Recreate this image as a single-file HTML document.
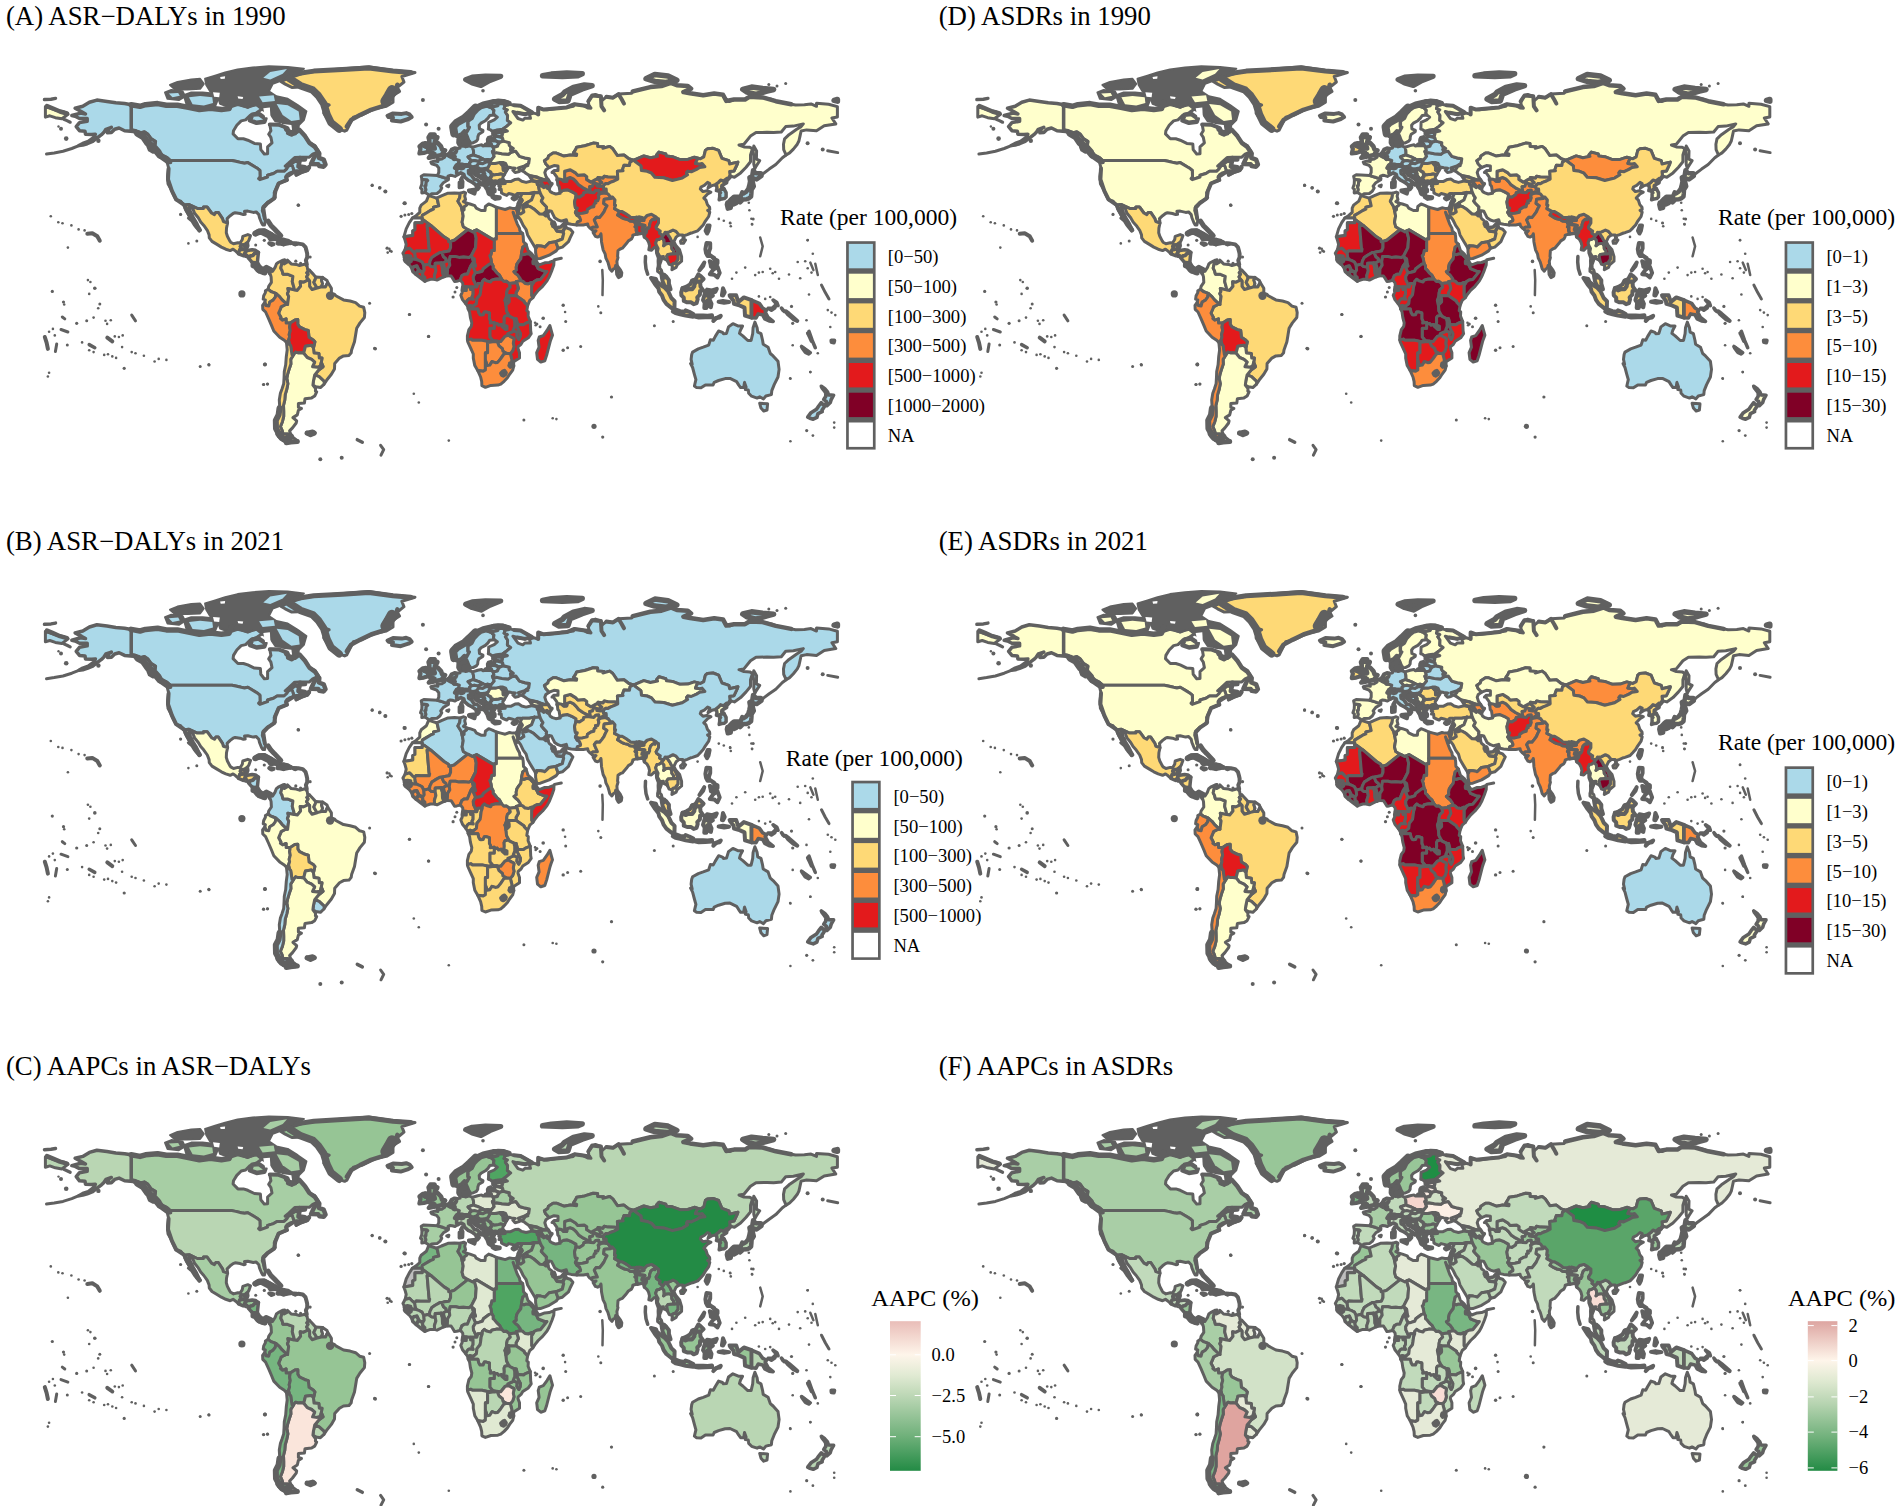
<!DOCTYPE html>
<html><head><meta charset="utf-8"><title>Figure</title>
<style>html,body{margin:0;padding:0;background:#fff}svg{display:block}text{font-family:"Liberation Serif","Times New Roman",serif;fill:#000}</style></head><body>
<svg xmlns="http://www.w3.org/2000/svg" width="1902" height="1506" viewBox="0 0 1902 1506">
<rect width="1902" height="1506" fill="#fff"/>
<defs><linearGradient id="gC" x1="0" y1="0" x2="0" y2="1"><stop offset="0" stop-color="#E9BDB8"/><stop offset="0.225" stop-color="#FEF5EA"/><stop offset="0.36" stop-color="#E1EAD3"/><stop offset="0.5" stop-color="#BCD7B5"/><stop offset="0.77" stop-color="#6FB07A"/><stop offset="1" stop-color="#238B45"/></linearGradient><linearGradient id="gF" x1="0" y1="0" x2="0" y2="1"><stop offset="0" stop-color="#DDA5A1"/><stop offset="0.263" stop-color="#FEF5EA"/><stop offset="0.4" stop-color="#DFE9D1"/><stop offset="0.55" stop-color="#B7D4B1"/><stop offset="0.78" stop-color="#6FB07A"/><stop offset="1" stop-color="#238B45"/></linearGradient></defs>
<g id="panelA">
<g stroke="#606060" stroke-width="3.0" stroke-linejoin="round">
<path d="M131.2,104.7l8.8,1.6 5.5-1.6 12.1-1.1 8.8,1.6 11,0 11,2.2 11,2.2 11-1.4 11,1.4 7.7-1.1 2.2-9.2 5.5,1.6 4.4,4.1 6.6,2.4 5.5-2.7 7.7,0 1.1,4.3-5.5,3.8-6.6,2.7-4.4,4.4-4.4,1-4.4,4.4-3.3,5.4-0.4,3.2 4.8,4.9 5.5,0 4.4,1.4 6.6,3.2 6,0.5 0.4,5.7 3.5,4.4 3.3-0.3 0-6.8 4.4-4-1.1-5.5-2.2-3.2 2.2-3.5-1.1-6.2 8.8,0 8.8,3.5 0,5.4 4.4,1.9 5.5-3.3 2.2-2.1 5.5,6.2 4.4,6.8 5.5,2.7 3.8,5.9-6,2.7-3.3,3-8.8,0-5.9,0.3-6.2,5.7-3.3,2.9 2.2-1 6.6-4.6 6,0.5-1.6,2.7 0.5,3.5 2.2,1.4 5,0.8 3.3-1.6-2.2,2.7-5.5,1.9-5.5,2.9-0.4-2.7 3.7-2.1-5.5,0.5-1.7-5.1-3.1-1.1-2.4,4-2.7,2.5-7,0-3.5,2.2-6,1.8 0,1.7-7.7,2.7-1.3-1.1 1.5-1.9-0.2-6.2-2.2-1.9-2.2-1.4-7.7-4.6-3.3,0.6-3.3-0.6-4.4-1.1-4.8-1-61.6,0-2.9-2.7-6.6-2.8-1.1-4-4.4-4.9-0.4-1.9 0.4-2.7-4.4-2.7-3.3-4.6-3.3-2.2-5.5,1.4-3.3-2.7-4.4-0.8z" fill="#ABD9E9"/>
<path d="M131.2,104.7l0,25.2 4.4,0.8 3.3,2.7 5.5-1.4 3.3,2.2 3.3,4.6 4.4,2.7-0.4,2.7-2.9,0-4.4-4-4.4-4.1-3.3-1.1-6.6-3.5-8.8-0.8-5.5-2.7-4.4,1.3-3.3,3.3-3.9,0.2 1.7-4.3 2.2-1.1-5.5,1.9-2.2,3.3-2.2,2.1-4.4,3.3-4.4,3.5-5.5,2.2-4.4,1.3-3.9,0.6 3.9-2.2 5.5-1.9 5.5-4.1 1.6-3.2-3.8,0.3-6.1-0.3-0.5-3-5.5-0.5-3.3-4.1 3.3-4 7.7-1.4 0-2.7-7.7,0-4.4-2.2-3.3-0.8 8.8-2.4 4.9,0.8-3.8-2.2-6.6-3.5 7.7-1.9 6.6-4 7.5-2.2 10.1,1.3 8.8,1.4 8.8,0.8z" fill="#ABD9E9" stroke-width="3.5"/>
<path d="M170.4,160.5l61.6,0 4.8,1 4.4,1.1 3.3,0.6 3.3-0.6 7.7,4.6 2.2,1.4 2.2,1.9 0.2,6.2-1.5,1.9 1.3,1.1 7.7-2.7 0-1.7 6-1.8 3.5-2.2 7,0 2.7-2.5 2.4-4 3.1,1.1 1.7,5.1 0,0.8-3.9,1.1-3.1,1.9-1.3,2.7 1.7,2.7-4.4,1.4-4.4,1.6-2.2,4.9-1.3,2.7-0.9,2.1 1.1,4.6-2.2,1.7-3.1,1.9-2.4,1.3-4.4,4.1-0.9,4 1.8,5.5 1.3,4.6-0.9,4.3-1.7,0-1.3-2.2-2-4.9-0.7-3.2-2.6-2.7-2.9,0.5-5.5-1.3-3.3,0.2 0.7,3-1.8,0.3-3.3-1.1-5-0.8-2,0.8-2.9,2.2-3.1,3 0.5,4.3-4.2-1.4-0.9-2.9-4.2-6.3-2.4,0-1.5,2.2-2.9-1.6-4.4-6-3.7,0 0,1.4-6.2,0-8.1-3.8-5.3,0.5-3.1-4-4.6-1.4-2.9-5.7-1.3-3.2-3.9-7.1-0.5-7 1.1-8.7-1.5-5.9 3.7,0.5z" fill="#ABD9E9"/>
<path d="M183.8,205.1l5.3-0.5 8.1,3.8 6.2,0 0-1.4 3.7,0 4.4,6 2.9,1.6 1.5-2.2 2.4,0 4.2,6.3 0.9,2.9 4.2,1.4-1.1,5.1-0.2,4.6 1.1,3.6 2.4,4.6 0.9,1.3 2.8,1.6 4.4-1.1 2.2,0.3 2.2-3.5 0.5-3.2 5-1.7 2.7,1.1-1.6,4.6-1.7,2.7-2,1.6-4,0.3-0.9,1.6 2,3-2.6,0.3-0.7,2.2-0.4,1.8-2.9-2.7-2.6-1.9-2.9,1.4-4.4-1.4-4.4-2.1-4.4-2.7-5-3-2.7-3.5-0.2-3-1.8-4.6-3.5-4.9-3.1-3.5-2.4-4.1-3.7-4.6-1.8-4.6-3.9-1.6 0.2,0.6 1.5,4.3 2.7,5.4 3.3,5.4 2.2,4.6 1.7,3-1.1,0.8-3.3-3.8-1.5-1.9-2.9-4.6-3.3-2.7 1.8-0.8-1.8-2.7-2.2-3.8z" fill="#FED976"/>
<path d="M280.8,81.4l11-4.3 13.2-4.6 26.4-2.7 37.4-3 24.2,3.8 22,1.9-13.2,4 2.2,5.5-6.6,5.4 2.2,4-6.6,4.1 0,6.8-6.6,4-11,2.2-13.2,6.5-8.8,2.1-6.6,13-2.2,1.1-8.8-3.2-6.6-6.8-5.5-8.1 1.1-5.4 4.4-2.7-7.7-2.7-1.1-5.5-6.6-8.1-8.8-1.9-13.2,0.6-6.6-3.3z" fill="#FED976"/>
<path d="M412.4,218.1l3.7-2.4 3.7-3.3 0-4.3 1.4-3 5.2-4 2-4.9 1.3-0.3 6.9,2.2 0.8,1.6 1.4,6.2-5.3,1.4 0,1.9-3.1,1.3-4.4,2.7-3.7,2.2 0,2.7z" fill="#FED976"/>
<path d="M412.4,218.1l9.9,0 0,1.1 0,3.5-7.3,0 0,7.1-2.2,1 0,4.6-8.9,1.4 2.3-7.9 3.1-6.2z" fill="#FFFFFF"/>
<path d="M436.6,198.1l4.8-2.2 6.6-2.7 6.6-0.3 5.7,0.3-0.6,4.6-1.8,3.5 3.3,5.2 1.1,4.6 0.9,4.9-1.1,6.2 1.3,4.6 4.4,2.7-13.6,10.8-3.6,1.1-1.9,0.3-0.3-2.2-4.4-2.7-13.2-11.4-8.5-6.2 0-1.1 0-2.7 3.7-2.2 4.4-2.7 3.1-1.3 0-1.9 5.3-1.4-1.4-6.2z" fill="#FED976"/>
<path d="M460.3,193.2l3.5-1.1 1.8,0.8-0.9,3.3 0.9,3.5-2.2,1.9 3.3,1.6 0,1.9-2.6,1.9 0,2.7-1.8,1.4-1.1-4.6-3.3-5.2 1.8-3.5z" fill="#FED976"/>
<path d="M466.7,203.2l3.3,0.8 4.8,1.7 1.4,2.4 4.8,2.4 4,0 0.4-4 3.3-2.5 3.7,1.4 4,1.9 0,26.2 0,5.5-2.2,0 0,1.3-17.6-10.5-2.2,1-1.8,1.1-4.8-2.4-4.4-2.7-1.3-4.6 1.1-6.2-0.9-4.9 1.8-1.4 0-2.7 2.6-1.9z" fill="#FFFFCC"/>
<path d="M496.4,207.3l4.4,1.1 4.4,1.1 4.4-1.7 2.9,0.6 4.1,0 1.6,4.8-1.6,4.9-1.5-1.3-2-4.6 2.2,6.5 2,5.4 2.2,4 0.4,2.7 2.7,2.7-26.2,0z" fill="#FD8D3C"/>
<path d="M522.6,233.5l0.6,2.8 0.3,5.4 2.6,2.7-3.3,2.7-1.1,4.9-0.2,1.8-0.7,4.9-2,2.5-1.9,2.9-0.7,3.3 0.2,2.7-2.4,1.6 1.8,1.9 1.9,1.4 2.7,3.8 0,1.8-4.2,1.1-0.2,1.1-6.6,0.8-3.1-2.4-2.4,0.3-2.2-2.2-2.2-4.1-2.7-2.4-2.6-3.3-1.1-0.8 0-2.7-1.5-2.7-0.7-4.6-1.1-3 1.1-1 0.9-4.1 2.4,0 0-10.3 0-1.3 2.2,0 0-5.5z" fill="#FD8D3C"/>
<path d="M405.1,249.5l1.1-5.1-1.1-4.1-1.2-3.5 8.9-1.4 0-4.6 2.2-1 0-7.1 7.3,0 0-3.5 8.5,6.2-3.7,0 2,23 0.6,0.6-0.4,2.1-8.4,0-4.8-0.2-1.5,2.1-2.2-1.9-2.9-2.9z" fill="#E31A1C"/>
<path d="M414.6,253l1.5-2.1 4.8,0.2 8.4,0 0.4-2.1-0.6-0.6-2-23 3.7,0 13.2,11.4 4.4,2.7 0.3,2.2 1.9-0.3 0,6.2-1.5,3.5-4.4,0.6-2.9,0.8-1.9,0-4.7,2.7-3.3,2.2-1.9,3.8-0.7,3.7-1.5-0.5-4,1.1-1.8-3.5-2.6-1.4-3.1-1.1-1.3-2.9z" fill="#E31A1C"/>
<path d="M404.7,259.8l-0.3-2.2 0-1.3-1.5-3 2.2-3.8 4.4-1.3 2.9,2.9 2.2,1.9 0.4,3.6 1.3,2.9-5-0.5z" fill="#E31A1C"/>
<path d="M404.4,257.6l0-1.3 3.1-0.6 3.1,0.6 0,1.1-3.1-0.3z" fill="#E31A1C" stroke-width="3.5"/>
<path d="M408.4,263.6l-2.9-2.4-0.8-1.4 6.6-0.8 0,2.4z" fill="#800026" stroke-width="4"/>
<path d="M412.1,268.7l-2.6-3.5-1.1-1.6 2.9-2.2 0-2.4 5,0.5 3.1,1.1 2.6,1.4 1.8,3.5 0.4,4.6-1.5,2.4-2-1.1-2-1-0.6-1.7-1.3-2.7-2.9,0.6z" fill="#800026"/>
<path d="M416.1,274.4l-3.3-3-0.7-2.7 1.8-2.1 2.9-0.6 1.3,2.7 0.6,1.7z" fill="#800026" stroke-width="3.5"/>
<path d="M424.9,281.2l-4-3-4.8-3.8 2.6-4 2,1 2,1.1 0.2,3 2,1.9z" fill="#E31A1C" stroke-width="3.5"/>
<path d="M434.6,279.3l-4.2,0-5.5,1.9 0-3.8-2-1.9-0.2-3 1.5-2.4-0.4-4.6 4-1.1 1.5,0.5 2,1.7 3.9,0.5 0.7,3.8-1.5,4.6z" fill="#E31A1C"/>
<path d="M429.3,264.9l0.7-3.7 1.9-3.8 3.3-2.2 4.7-2.7 1.9,0 1.8,4.3 2.4,1.9 0.7,2.2-2.2,1.3-1.1,1.1-2.2-0.2-6,0.2 0,3.8-3.9-0.5z" fill="#800026"/>
<path d="M444,276.6l-2.6,1.3-4.4,2.2-2.4-0.8-0.2-3.8 1.5-4.6-0.7-3.8 0-3.8 6-0.2 1.3,4.3 0.2,5.4z" fill="#E31A1C"/>
<path d="M444.9,276.3l-0.9,0.3-1.3-3.8-0.2-5.4-1.3-4.3 2.2,0.2 1.5,5.4z" fill="#E31A1C" stroke-width="3.5"/>
<path d="M447.3,275.8l-2.4,0.5 0-7.6-1.5-5.4 1.1-1.1 2.2-1.3 2.6,0.5 0.5,3.8-2.2,3.5z" fill="#E31A1C"/>
<path d="M441.8,252.5l2.9-0.8 4.4-0.6 1.5-3.5 0-6.2 3.6-1.1 13.6-10.8 4.8,2.4 1.8-1.1 1.8,7.3-0.7,9.5-4.4,8.7-2.2,1.3-5.5-0.5-4.4,0.3-3.3-0.8-5.5,0-0.9,4.8-2.6-0.5-0.7-2.2-2.4-1.9z" fill="#800026"/>
<path d="M460.1,280.4l-3.3,0.8-2.2,0.3-2.2-3.6-1.3-1.9-3.8-0.2 0.3-7.1 2.2-3.5-0.5-3.8 0.9-4.8 5.5,0 3.3,0.8 4.4-0.3 5.5,0.5 2.2-1.3 1.3,1.3 1.1,4.4-2.8,4-1.4,3.5-1.9,4.7-2.9,0-2.6,1.6z" fill="#800026"/>
<path d="M471.1,256.3l4.4-8.7 0.7-9.5-1.8-7.3 2.2-1 17.6,10.5 0,10.3-2.4,0-0.9,4.1-1.1,1 1.1,3 0.7,4.6-2.5,1.1-5.7,4.3-1.1,2.5-3.5,1.1-3.3,0.5-2.9-6.8 2.9,0-0.9-2.7-0.4-4.3-1.8-1.4z" fill="#E31A1C"/>
<path d="M463,286.9l-0.3-3.8-1.7-2.2-0.9-0.5 1.8-4.6 2.6-1.6 2.9,0 1.9-4.7 1.4-3.5 2.8-4-1.1-4.4 1.8,1.4 0.4,4.3 0.9,2.7-2.9,0 2.9,6.8-2.2,3.8 0.2,3.2 1.3,2.7 2,4.6-6.1,0-4.4,0z" fill="#E31A1C"/>
<path d="M475.5,272.8l3.3-0.5 3.5-1.1 1.1-2.5 5.7-4.3 2.5-1.1 1.5,2.7 0,2.7 1.1,0.8 2.6,3.3 2.7,2.4 2.2,4.1-4.6-0.3-2,0.3-3.3,0.8-1.1,1.9-4.2-1.1-2.2-1.6-2,2.2 0,2.1-4.4,0-1.1,3.5-2-4.6-1.3-2.7-0.2-3.2z" fill="#800026"/>
<path d="M462.5,290.4l0.5-3.5 3.3,0.2 0,3.3z" fill="#E31A1C" stroke-width="4"/>
<path d="M465.8,303.7l-3.3-4.1-1.7-4.3 1.3-2.7 0.4-2.2 3.8,0 0-3.3 4.4,0 0,2.5 2.4,0 0,4.9-1.1,2.1 1.3,2.7-4-0.5-1.5,1.1-0.9,1.3z" fill="#FD8D3C"/>
<path d="M467.8,306.6l-2-2.9 1.1-2.5 0.9-1.3 1.5-1.1 4,0.5-1.3-2.7 1.1-2.1 0-4.9-2.4,0 0-2.5 6.1,0 1.1-3.5 4.4,0-1.1,3.3-0.6,4.8-0.5,3-3.1,3.8-0.6,5.2-1.3,1-2,1.7-3.1-0.8z" fill="#E31A1C"/>
<path d="M468.2,308.8l-0.4-2.2 2.2-1-0.4,3.2z" fill="#E31A1C"/>
<path d="M470,305.6l3.1,0.8 2-1.7 1.3-1 0.6-5.2 3.1-3.8 0.5-3 0.6-4.8 1.1-3.3 0-2.1 2-2.2 2.2,1.6 4.2,1.1 1.1-1.9 3.3-0.8 2-0.3 4.6,0.3 2.2,2.2 2.4-0.3 3.1,2.4 0.9,3.5-2.9,2.8-0.7,3.2-0.2,3.8-1.3,3.5 0.4,1.6 0.5,3 0.4,5.7 2.4,4.6-3.9,0.8-0.9,1.9 0.2,3.5-0.4,3.5 3.1,1.1 0,3.3-1.8,0-3.3-3-0.7-1.9-2.6,0.8-1.5-1.9-2,0.6-0.9-1.4-4,0.5 0.3-2.1-1.1-2.2 0-5.9-3.1-0.9-2,0-1.1,2.8-2.2,0.2-1.1-0.2-1.3-2.2-0.7-3.5-7,0-2.7-0.3 1.4,0z" fill="#E31A1C"/>
<path d="M521.5,253.8l2.4,0.9 2.2-0.9 1.5,0 2.2,0.3 4.9,5.2-1.3,2.1 0,1.9 2.4,0.3 2.4,5.1 6.6,2.7 2.2,0-6.6,8.2-3.7,0.5-2.9,1.6-0.2,0.8-2,0-3.3,1.4-3.3-0.5-2.4-2.2-2.2-0.6 0-1.8-2.7-3.8-1.9-1.4-1.8-1.9 2.4-1.6-0.2-2.7 0.7-3.3 1.9-2.9 2-2.5z" fill="#800026"/>
<path d="M526.1,244.4l1.8,5.9 3.7,3.3 3.1,3.8 1.5,1.3-1.5,0.6-4.9-5.2-2.2-0.3-1.5,0-2.2,0.9-2.4-0.9 0.2-1.8 1.1-4.9z" fill="#E31A1C"/>
<path d="M536.2,258.7l-0.9,3 1.1,0.3-0.6,1.6-2.4-0.3 0-1.9 1.3-2.1z" fill="#E31A1C" stroke-width="4"/>
<path d="M536.4,262l2.9,2.9 5.5-2.1 4.4-0.3 4.8-1.9-0.2,4.3-1.8,5.2-2.8,6.8-2.2,4-4.4,5.4-4.4,4.1-3.3,4.1-2,3.2-1.3-2.2 0-2.4 0-7.6 2-3 0.2-0.8 2.9-1.6 3.7-0.5 6.6-8.2-2.2,0-6.6-2.7-2.4-5.1z" fill="#E31A1C"/>
<path d="M532.9,297.7l-3.1,2.7-2.2,5.4-3.3-3.5-0.2-1.1-7.9-5.4-0.2-3 2.4-4.3-1.1-4.1-1.1-2.7 4.2-1.1 2.2,0.6 2.4,2.2 3.3,0.5 3.3-1.4 2,0-2,3 0,7.6 0,2.4z" fill="#FD8D3C"/>
<path d="M516.2,281.7l1.1,2.7 1.1,4.1-2.4,4.3 0.2,3-7.7,0-2,1.1 0.2-3.8 0.7-3.2 2.9-2.8-0.9-3.5 6.6-0.8z" fill="#E31A1C"/>
<path d="M506.5,296.9l2-1.1 0.7,3.8-2,1.1-2-0.3z" fill="#E31A1C" stroke-width="3.5"/>
<path d="M505.2,300.4l2,0.3 2-1.1 0,2.4-3.1,3-0.5-3z" fill="#E31A1C" stroke-width="3.5"/>
<path d="M527.6,305.8l-0.8,4.9 1.5,1.3-0.2,4.1 2.2,5.4-5.3,2.2-1.1,1.1-5.5-0.3-0.9-0.3-1.3-5.4-2.4-0.3-4.2-2.1-0.7-1.1-2.4-4.6-0.4-5.7 3.1-3 0-2.4-0.7-3.8 7.7,0 7.9,5.4 0.2,1.1z" fill="#E31A1C"/>
<path d="M530.3,321.5l0.4,9.5 0.5,2.7-2.9,4.1-5.5,3.5-1.8,3-2.8,2.4-0.2,1.9 1.5,4.1 0,5.4-5.5,3.5-0.4,1.9 0.2,2.4-1.8-0.3-0.4-2.4 0.2-3.8-1.5-5.7 2.4-2.9 1.3-4.1-0.7-3.5 0.7-4.1-0.2-0.8-2.4-1.1-3.1-1.9-0.5-1.6 6.2-2.7 3.3,1.4-0.4,4 1.9,3 1.4-3 0.2-3-2-3.8-1.3-2.7 0.4-2.7 0.9,0.3 5.5,0.3 1.1-1.1z" fill="#E31A1C"/>
<path d="M513.8,318.5l2.4,0.3 1.3,5.4-0.4,2.7 1.3,2.7 2,3.8-0.2,3-1.4,3-1.9-3 0.4-4-3.3-1.4-0.7-1.1 1.4-3.5 0-4.9z" fill="#E31A1C"/>
<path d="M508.9,315.3l0.7,1.1 4.2,2.1 0.9,3 0,4.9-1.4,3.5 0.7,1.1-6.2,2.7 0.5,1.6-3.3,1.1-4.2,5.2-3.7-0.3-4.2-0.6-3.1-3.7 0-8.7 4.4,0 0-5.7 0.9,1.4 2-0.6 1.5,1.9 2.6-0.8 0.7,1.9 3.3,3 1.8,0 0-3.3-3.1-1.1 0.4-3.5-0.2-3.5 0.9-1.9z" fill="#E31A1C"/>
<path d="M497.1,341.3l3.7,0.3 4.2-5.2 3.3-1.1 3.1,1.9 2.4,1.1 0.2,0.8-0.7,4.1 0.7,3.5-1.3,4.1-2.4,2.9-4.2-0.5-3.1-1.9-0.7-2.7-3.3-2.7z" fill="#FD8D3C"/>
<path d="M467.4,339.9l0-4 1.5-6.3 2.4-3.2 0.5-3.5-1.4-5.4-0.8-5.5-1.1-2.4-0.3-0.8 2.7,0.3 7,0 0.7,3.5 1.3,2.2 1.1,0.2 2.2-0.2 1.1-2.8 2,0 3.1,0.9 0,5.9 1.1,2.2-0.3,2.1 4-0.5 0,5.7-4.4,0 0,8.7 3.1,3.7-4.4,0.9-6.4-1.4-9.9,0-1.1-1.1z" fill="#E31A1C"/>
<path d="M477.7,370.5l-2.9-4.9-1.5-7.5 0-4.1-2.4-5.4-3.1-6.8-0.4-1.9 3.7-0.8 1.1,1.1 9.9,0 6.4,1.4 4.4-0.9 4.2,0.6-1.8,0.5-2.6,0-5.1,0.8 0,10.1-2.2,0 0,7.5 0,9.8-2.2,1.3-3.5-0.5z" fill="#FD8D3C"/>
<path d="M485.4,360.2l0-7.5 2.2,0 0-10.1 5.1-0.8 2.6,0 1.8-0.5 1.9,4.6 3.3,2.7 0.7,2.7 3.1,1.9-2.4,1.1-3.1,4.6-2.9,3.5-2.4,0.3-3.3-1.1-2.2,3.5-2.6,0.5z" fill="#FD8D3C"/>
<path d="M513.8,365.9l-1.1,4.3-3.1,4.1-2.2,3.5-3.3,3.5-3.3,2.8-2.9,1-7,0.3-5.5,1.9-3.5-1.6-0.2-4.1-1.1-4.6-2.9-6.5 2,0.3 3.5,0.5 2.2-1.3 0-9.8 1.8,5.4 2.6-0.5 2.2-3.5 3.3,1.1 2.4-0.3 2.9-3.5 3.1-4.6 2.4-1.1 4.2,0.5 1.5,5.7-0.2,3.8-1.8,0-0.6,2.4 1.1,1.4 1.7-1.4z" fill="#FD8D3C"/>
<path d="M511.6,363.2l-1.8,0-0.6,2.4 1.1,1.4 1.7-1.4z" fill="#FD8D3C" stroke-width="3.5"/>
<path d="M500.8,373.2l2.2-2.1 1.5-0.6 1.6,2.2-0.5,1.6-2.2,1.6-1.7-0.8z" fill="#606060" stroke-width="3.5"/>
<path d="M549.9,325.6l2.6,9.5-1.5,4-0.9,2.7-3.5,13.6-1.8,5.4-4,1.3-3.3-2.7-0.8-6.7 2.4-5.5-0.9-6.7 1.1-3.5 4-1.4 3.7-5.1z" fill="#E31A1C"/>
<path d="M238.6,253.8l0.4-1.8 0.7-2.2 2.6-0.3-2-3 0.9-1.6 4,0 0,5.2 2,0.5-2,1.9-0.5,1.6-1.5,1.6z" fill="#FED976" stroke-width="3.5"/>
<path d="M245.2,244.6l2-1.6 0.4,2.7-1.8,4.4-0.6,0z" fill="#FFFFFF" stroke-width="4"/>
<path d="M245.2,252.5l2-1.9 1.7-0.3 3.3-0.5 3.3,0.5 2.9,2.2-3.5,0.8-2,2.2-2.4,0.5-1.4,2.2-0.8-1.4-1.6-1.6-2-1.1z" fill="#FED976" stroke-width="3.5"/>
<path d="M249.1,258.2l1.4-2.2 2.4-0.5 2-2.2 3.5-0.8-0.7,6.8-0.4,4-4.4-0.2-1.8-1.9-2.6-3z" fill="#FED976" stroke-width="3.5"/>
<path d="M252.9,263.1l4.4,0.2 2.4,3.8-0.7,4.1-1.5-1.1-2.6-3.3-2.2-0.8z" fill="#FFFFFF" stroke-width="4.5"/>
<path d="M259,271.2l0.7-4.1 3.5,2.2 3.1-2.2 4.8,2.4-1.1,3.8-1.3-2.7-2.6-1.3-1.6,1.6 0.5,2.4-2.2-0.5z" fill="#FFFFFF" stroke-width="4.5"/>
<path d="M254.6,233.8l4.2-3 5.5-0.2 7.7,4 6.2,3.8-7.7,0.8-1.8-2.9-7.7-3.8z" fill="#FFFFFF" stroke-width="4.5"/>
<path d="M277.7,243.3l3.1,0.5 2.7,0.6 0.2-4.6-2.9-0.6 0.5,2.5-1.6,1z" fill="#FFFFFF" stroke-width="4"/>
<path d="M283.5,244.4l3.9-0.8 3.5-0.9-3-2.1-4.2-0.8z" fill="#FFFFFF" stroke-width="4"/>
<path d="M269.2,243.3l4.4,0.8-2,0.8z" fill="#FFFFFF" stroke-width="4"/>
<path d="M293.6,243.3l3.3,0.3-1.8,0.9z" fill="#FFFFFF" stroke-width="4"/>
<path d="M271.1,269.5l1.4,1.9 2.6-4 1.3-3.5 1.8-1.4 4.8-2.4 1.6-0.3 0,1.4-2.7,2.1-1.1,4.9 1.3,2.4 0.9,3.6 4.4,0 5.5,2.1-0.6,5.4 1.7,6 0,2.2-6.1-1.4 0.6,3-1.1,2.1 1.3,2.7-1.1,8.2-1.7-1.1-4-3.8-2.4-3-3.7-3.2-2.7-1.1-2.2-0.8-2.8-2.2 0.6-3 2.7-4-0.3-5.4-1.1-3.6z" fill="#FED976"/>
<path d="M284.6,261.2l-0.5,2.7 3.3-1.9 0-1.9 3.8,3.8 5,0.5 3.3,1.1 5.5-1.4 2.2,2.5 0.5,3.5 1.7,0-2.6,2.7 1.5,1.4-1.7,2.7 1.3,2.1 0,1.1-4.6,2.2-3.1-0.6 0.4,4.6-3.3,4.1-2.8-0.5-0.5,0 0-2.2-1.7-6 0.6-5.4-5.5-2.1-4.4,0-0.9-3.6-1.3-2.4 1.1-4.9z" fill="#FED976"/>
<path d="M309.4,270.1l3.3,3.5 2.9,3.3-0.2,2.1-1.6,3.3 1.1,1.9 2.2,3.8-5,1.6-2.5-3.3 0-5.4-1.7-1.9-1.3-2.1 1.7-2.7-1.5-1.4z" fill="#FED976"/>
<path d="M315.6,276.9l7,0.5-1.1,2.7 1.1,3.5-1.1,3.3-3.3,0.8-1.1,0.3-2.2-3.8-1.1-1.9 1.6-3.3z" fill="#FED976"/>
<path d="M322.6,277.4l4.4,3 0.7,1.9-2.2,4.6-4,0 1.1-3.3-1.1-3.5z" fill="#FFFFFF"/>
<path d="M327.7,282.3l3.7,5.9 0,4.9 3.3,1.4 1.1,1.3 7.7,4.1 6.6,1.1 5.5,1.6 4,3.5 4.1,1.1 1.1,5.4-0.4,4.9-4.4,5.4-3.3,5.4-1.1,6.8-1.1,6.7-2.9,8.1-0.4,2.8-2.2,2.7-5.5,0.5-4,2.2-4.8,5.4-0.2,5.4-3.1,5.4-4.8,6-2.7,4 0.5-2.7-5.3-4.9-4.4-1.8 4-4.9 4.4-3.3-1.8-4.3 0.7-4.3-2.7,0-0.4-4.6-4.9-0.6-0.6-5.1 0.4-1.1 1.1-4.9-1.7-1.9-4.2-2.7-0.7-6.7-3.3-0.9-5.5-2.7-1.7-2.7 0-4.6-2.9,0.3-4.6,3-4.2,0 0-4.1-3.5,1.4-2.2-1.7 0.6-1-2.4-4.4 0.7-1.6 1.5-3.5 0.2-1.1 4.7-2.4 1.9,0 1.1-8.2-1.3-2.7 1.1-2.1-0.6-3 6.1,1.4 0.5,0 2.8,0.5 3.3-4.1-0.4-4.6 3.1,0.6 4.6-2.2 0-1.1 1.7,1.9 0,5.4 2.5,3.3 5-1.6 1.1-0.3 3.3-0.8 4,0z" fill="#FED976"/>
<path d="M268.1,289.3l2.8,2.2 2.2,0.8 2.7,1.1-0.5,3.8-2.2,2.9-3.3,1.9-1.1,4.1-2.8-0.5-1.1-3.3 0.6-2.4-2.2-0.8 0.5-3.3 1.7-3.2 0-1.7z" fill="#FED976"/>
<path d="M264.8,302.3l1.1,3.3 2.8,0.5 1.1-4.1 3.3-1.9 2.2-2.9 0.5-3.8 3.7,3.2 2.4,3 4,3.8 1.7,1.1-1.9,0-4.7,2.4-0.2,1.1-1.5,3.5-0.7,1.6 2.4,4.4-0.6,1 2.2,1.7 3.5-1.4 0,4.1 4.2,0-0.7,4 0.7,3.6-1.1,4 0.4,2.5-1.1,3.5-2,2.1-2.2-2.4-4.6-3-5.9-6.2-2.2-5.4-2.9-6.8-3.1-6.8-2.8-2.7-0.2-4z" fill="#FD8D3C"/>
<path d="M290.3,322.9l4.6-3 2.9-0.3 0,4.6 1.7,2.7 5.5,2.7 3.3,0.9 0.7,6.7 4.2,2.7 1.7,1.9-1.1,4.9-0.4,1.1-2-2.5-5.9,0.9-1.8,7-3.1-0.5-2.6,0.2-2.4-0.8-2,2.7-1.6,0-0.6-4-0.7-4.9-1.1-1.4-1.1-4 1.1-3.5-0.4-2.5 1.1-4-0.7-3.6z" fill="#E31A1C"/>
<path d="M313.4,347.8l0.6,5.1 4.9,0.6 0.4,4.6 2.7,0-0.7,4.3-0.9,3.8-3.1,1.1-4.8-0.6 2.2-4.6-3.1-2.7-4.4-1.9-3.5-4.3 1.8-7 5.9-0.9z" fill="#FED976"/>
<path d="M323.9,384.3l0.5-2.7-5.3-4.9-4.4-1.8-1.3,6.2-0.5,4 3.1,1.7 4.4,0.8z" fill="#FFFFCC"/>
<path d="M293.6,354.8l2-2.7 2.4,0.8 2.6-0.2 3.1,0.5 3.5,4.3 4.4,1.9 3.1,2.7-2.2,4.6 4.8,0.6 3.1-1.1 0.9-3.8 1.8,4.3-4.4,3.3-4,4.9-1.3,6.2-0.5,4 2.7,3.6-0.2,2.4 1.3,0.8-2,4.1-3.1,1.9-6.6,0.8-0.6,4.3-6,0.5 0,3.8 3.1,1.1-3.1,1.9-1.1,4.6-4.4,2.7 3.8,3.3-0.5,2.1-3.7,4.9-2.9,3 1.3,3.8-3.5-0.8-4.4,0-0.9-3.6-1.7-3.7 2-4.9 1.3-5.4 0-5.4-0.2-5.5 1.3-5.4 0.4-5.4 1.6-5.4 1.1-5.4-1.1-5.4 0.8-4.1 1.6-5.4 1.7-4.9-0.2-4.6zM290.5,435.5l7.5,5.7-2.9,0.8-4.6-0.3z" fill="#FFFFCC"/>
<path d="M286.5,342.6l2-2.1 1.1,4 1.1,1.4 0.7,4.9 0.6,4 1.6,0-2.9,4.6 0.2,4.6-1.7,4.9-1.6,5.4-0.8,4.1 1.1,5.4-1.1,5.4-1.6,5.4-0.4,5.4-1.3,5.4 0.2,5.5 0,5.4-1.3,5.4-2,4.9 1.7,3.7 0.9,3.6 4.4,0 3.5,0.8-5.5,3.5-5.7-3-3.9-6.7-0.5-8.2 3.3-5.4 1.1-8.1-0.4-6.8 1.1-6.7 1.5-4.1 1.8-5.4 0.4-6.8 0.2-5.4 1.4-6.8 0.6-8.1 0.9-6.8zM290.5,435.5l0,6.2-3.1,1.1-4.4-2.2-4.4-4 6.6,2.1 1.8-2.7z" fill="#FED976"/>
<path d="M307.2,433.3l5.5-1.3 1.6,1.1-3.8,1.6z" fill="#606060" stroke-width="5"/>
<path d="M387.5,115.8l5.5-2.4 8.8,0.5 4.4-0.8 3.3,1.3 2.2,2.7-3.3,1.9-7.7,2.5-8.8-1.1 1.1-2.7-4.4-0.6z" fill="#ABD9E9" stroke-width="4"/>
<path d="M419.4,153.4l1.1-4.6-1.1-2.4 3.3-2.7 2.6-0.3-1.7,2.2 2.4,1.1 1.8,0 0.4,2.9-0.9,2.2-3.5,1.1z" fill="#ABD9E9" stroke-width="4.2"/>
<path d="M428.9,157.8l4.8-1.1 3.3-0.6 7.5-1.6-2-0.8 2.6-3.3-3-0.8-1.1-3.2-3.1-3.3-3.1-1.6 2.2-3.2 0.4-1.1-4.8,0 2-2.7-4.2,0-1.8,2.9 0.7,2.8 0,2.9 1.1,1.7 3.3-0.3 1.1,4-3.3,0.3 0.9,2.7-2.4,1.1 4.4,1.4-2.9,1zM425.3,143.4l2.9,0.3 1.1,1.9-1.5,1.1-1.8,0-2.4-1.1z" fill="#ABD9E9" stroke-width="4.6"/>
<path d="M422,179.7l1.4-0.3 3.5,0.3 0.9,0.8-1.6,1.6-0.2,3.5-1.1,0.3 1.1,3.8-0.9,2.7-3.3,0.5 0.2-3.7-1.5-1.1 1.3-3.8z" fill="#ABD9E9"/>
<path d="M422,179.7l-0.8-3.5 2.6-1.4 4.8,0.3 4.4,0.2 4.4,0.3 5.5,1.6 2.2,0.9 3.3,0.2 0,1.4-2.2,1.3-2.8,1.7-2.7,3.5 1.1,1.9-1.9,3.2-2.9,2.2-5.3,0.3-2.2,1.6-2-1.4-2.4-1.6 0.9-2.7-1.1-3.8 1.1-0.3 0.2-3.5 1.6-1.6-0.9-0.8-3.5-0.3zM446.7,185.9l2.2-0.8-0.5,1.6z" fill="#ABD9E9"/>
<path d="M437.4,175.6l1.4-3.2 0-4.4-2.2-2.7-4.9-1.6-0.9-1.6 4-1.1 3.1,0.5-0.7-2.9 1.8,0.8 2.8-0.3 2.9-1.9 0.2-1.9 2-0.5 1.5,0.8 2.2,1.3 1.4,0.4 2.2,1.8 1.3,0 3.9,1.4-1.3,3.7-1.5,0.9-1.8,2.9 1.6-0.5 0.4,1.3-0.2,4.1 1.3,1.6-2.9,1.9-2.6-0.8-2.2-0.3-2.2,0.9 0.4,2.1-3.3-0.2-2.2-0.9zM460.3,179.7l1.8-3 0.2,4.3z" fill="#ABD9E9"/>
<path d="M446.9,154.8l2-0.8 3.5-0.3 2,1.1-0.5,0.8 0.9,0.3 0.7,1-0.7,0.6-0.6,1.6-2.2-1.8-1.4-0.4-2.2-1.3z" fill="#ABD9E9" stroke-width="4"/>
<path d="M448.9,154l1.3-1.7 1.5-2.7 2.9-1.3 2.6,0.5-0.4,2.2-0.7,1.6-1.5,0.3 0.4,1.6-0.6,0.3-2-1.1z" fill="#ABD9E9" stroke-width="4"/>
<path d="M454.2,159.1l0.6-1.6 0.7,1.6z" fill="#ABD9E9" stroke-width="4"/>
<path d="M457.2,148.8l2.9-0.8 0.2-3.5 2.9,0.3 2.4,2.1 3.3-1.1 3.7,1.4 0.9,3.5 0.2,4.3-0.8,0-4.9,1.9 3.8,4.1-2.2,1.6 0.4,1.9-5.5,0-2,0-4.4-0.3 1.3-3.7-3.9-1.4-0.7-1.6 0.7-0.6-0.7-1-0.9-0.3 0.5-0.8 0.6-0.3-0.4-1.6 1.5-0.3 0.7-1.6z" fill="#ABD9E9"/>
<path d="M460.3,144.5l-1.1-1.9 0.2-3.8 2.9-0.5 2.4-1.4-0.4,3.3 1.1,0.2-2,2.5-0.2,1.9zM466,142.3l3.1-0.8-0.2,1.9-1.5,1.1z" fill="#ABD9E9" stroke-width="6"/>
<path d="M456.8,136.1l-3.3-2.7-1.1-4.1 0-3.5 2.2-1.9 5.5-3 4.4-2.4 3.3-2.7 2.2-4.1 3.1-0.8 2.4-2.7 4.4-2.4 3.3-1.4 5.5-1.3 4.4-1.7 5.1-0.8 4.8,0.3 6.6,1.9-2.2,1.6 1.8-0.2-4,1.8-2.2-2.4-4.4,0.3-0.7,1.9-4.4,1.1-5.9-0.6-1.1-0.1-5.3,1.5-3.5,2.7-3.3,3.5-2.2,4.6-4,2.7 0,5.4 1.4,0.6-2.2,4-1.4,2.2-1.3-0.8-0.2-1.6-3.3,3.5z" fill="#ABD9E9" stroke-width="4"/>
<path d="M466,133.4l1.6,3.5 1.5,4.1 0.7,2.1 3.1-0.2 3.5-1.7 1.3-1.9 0.2-2.7 0.9-2.4 4-2.4 0.2-1.4-3.5-1.6-0.3-3.5 1.8-2.2 4.4-2.4 2.6-2.5 1.8-2.7 4.6-0.5-0.9-1.9 0.5-2.7-2.4-2.5-5.1-1.7-5.3,1.5-3.5,2.7-3.3,3.5-2.2,4.6-4,2.7 0,5.4 1.4,0.6-2.2,4z" fill="#ABD9E9"/>
<path d="M494.4,115l2.9,2.1-3.1,2.8-5.5,2.4-0.2,5.7-0.2,1.1 1.9,0.5 1.8,1.6 4.4-1.1 6.2-0.8 3.7-2.7 4.4-3.8-3.3-2.4 0.2-5.1-2.2-3.3 2-2.2-3.3-1.3 0.9-2.5 0.2,0-2.2-2.4-4.4,0.3-0.7,1.9-4.4,1.1-5.9-0.6-1.1-0.1 5.1,1.7 2.4,2.5-0.5,2.7z" fill="#ABD9E9"/>
<path d="M493.1,132.8l2.6-0.8 7.3,0-1.3,5.4-3.1-0.8-2.2-0.5-1.5,0.3 0.4-1.4-2.2-0.8z" fill="#ABD9E9" stroke-width="4"/>
<path d="M494.9,136.4l-0.5,2.1-2.4,0-0.9-1.6-2.6,0.8-0.9,1.6 0.1,1.9 2.1-0.8 5.5,0.3 3.3,1.6 1.3,0 3.5-1.2-0.8-3.1-0.9-0.6-3.1-0.8-2.2-0.5z" fill="#ABD9E9" stroke-width="3.5"/>
<path d="M487.7,141.2l0.3,2.2 3.1,0.8 0.5,1.6 1.5,1.3 1.1,0.1 3.3-0.8 0.7-1.9 1.7-2.2-1.3,0-3.3-1.6-5.5-0.3z" fill="#ABD9E9" stroke-width="3.5"/>
<path d="M484.5,145.7l0.9-1.3 2.6-1 3.1,0.8 0.5,1.6z" fill="#FFFFCC" stroke-width="3.5"/>
<path d="M472.6,147.2l5.1-1.6 4-0.8 1.1,1.2 1.7-0.3 7.1,0.1 1.5,1.3 0.9,3.3-1.6,1.1 0.9,2.2 0.9,2.7-3.1,3.8-3.5-0.8-2.6,0.5-2-0.8-4.2-2.2-2.2-0.8-2.6-0.8-0.3-0.3-0.2-4.3z" fill="#ABD9E9"/>
<path d="M468,156.9l4.9-1.9 0.8,0 0.3,0.3 2.6,0.8 2.2,0.8 4.2,2.2-4.2,1.9-0.2,0.5-4.2-1-2.6,0.5z" fill="#ABD9E9"/>
<path d="M478.6,161.5l0.2,1.7 4,0.5 3.7-1.9 3.5,0.3 1.1-1.9-3.5-0.8-2.6,0.5-2-0.8-4.2,1.9z" fill="#ABD9E9"/>
<path d="M462.5,164.5l2,0 5.5,0-0.4-1.9 2.2-1.6 2.6-0.5 4.2,1 0.2,1.7-2,2.9-0.2,0.6-3.3,0.8-1.8-0.3-3.3-1.3-3.7,0.2-2.2-0.5z" fill="#ABD9E9"/>
<path d="M454.8,168l1.8-2.9 1.5-0.9 4.4,0.3-0.2,1.1 2.2,0.5-0.9,1.9-2.4,0.8-1.3-1-3.1,1-0.4-1.3z" fill="#ABD9E9" stroke-width="4"/>
<path d="M457.9,174.5l2.9-1.6 3,1.4 0.7,2.7 3.7,3.2 2.9,1.4 1.8,1.1 2.8,2.1 0.9,2.7-0.7,2.7 1.8-0.8 1.5-1.9-1.5-1.9 1.1-2.1 3.3,1.3-1.1-1.9-4-3.2-2.6-0.3-3.1-4.3-2.6-1.6-0.2-3 3.3-0.8-0.5-1.1 0.2-1.4-3.3-1.3-3.7,0.2-0.9,1.9-2.4,0.8-1.3-1-3.1,1-0.2,4.1zM468.7,190.2l7-0.8-1.1,4.4-5.7-2.5zM459.4,187.5l0-5.1 3.3-0.8-0.2,5.4z" fill="#ABD9E9" stroke-width="3.6"/>
<path d="M471.3,168.6l0.2-1.4 1.8,0.3 3.3-0.8 1.1,0.5-2,0.8-0.6,1.9-3.8,0 0.5-0.2z" fill="#ABD9E9" stroke-width="4.5"/>
<path d="M471.3,169.9l3.8,0 0.6-1.9 2-0.8 2.2,1.6 3.1,0 1.1,1.9-0.9,0.9-2.2-0.6-4.8-0.3 0.2,2.8 3.7,3.2 2,1.4-2.2-1.4-3.3-1.4-1.8-1.8-1.5-3-1.3,1.3z" fill="#ABD9E9" stroke-width="4.5"/>
<path d="M476.2,170.7l4.8,0.3 2.2,0.6 1.3,2.4-0.9,1.3-1.1,0.9-0.4,1.9-2-1.4-3.7-3.2z" fill="#ABD9E9" stroke-width="4.5"/>
<path d="M484.1,170.7l-1.1-1.9 2.8-0.5 2.9,2.4 2.2,1.4 0.4,1.4 0.7,2.7-1.3,1 0,1.4-1.8,0.3-2.2,0.5-1.1-1.6-0.2-0.3-1.8-2.2 0.9-1.3-1.3-2.4z" fill="#ABD9E9" stroke-width="4"/>
<path d="M482.1,178.1l0.4-1.9 1.1-0.9 1.8,2.2-1.3,2.2z" fill="#ABD9E9" stroke-width="4.5"/>
<path d="M484.1,179.7l1.3-2.2 0.2,0.3 1.1,1.6-0.2,1.9 1.1,1.4-0.7,1.8-1.5,1.1-1.3-1.6 0.2-2.7z" fill="#ABD9E9" stroke-width="4.5"/>
<path d="M486.5,181.3l0.2-1.9 2.2-0.5 1.8-0.3 1.3,2.7-2.2,0.5-2.2,0.9z" fill="#ABD9E9" stroke-width="4.5"/>
<path d="M485.4,185.6l1.5-1.1 0.7-1.8 2.2-0.9 2.2-0.5 3.3-0.5 3.3,0.5 1.3-0.8-0.6,1.9-5.1,0-0.4,2.4-2-1.3 0,3.2 2.4,3 0,1.3-2.2-0.5 0.4,3.8-1.7,0-1.6-0.8-0.8-2.5-0.5-1.6-0.9-1.3zM493.1,197l6.2,0.8-4,0.6z" fill="#ABD9E9" stroke-width="5"/>
<path d="M491.3,173.5l2.9,1.3 4.4-0.5 2.2-0.6 3.5,1.1-1.5,2.4 0.2,2.2-3.7,0.8 0.6,0.3-1.3,0.8-3.3-0.5-3.3,0.5-1.3-2.7 0-1.4 1.3-1z" fill="#FED976"/>
<path d="M485.8,168.3l2.2-0.8 2-4.1 1.8-0.2 3.5,0.2 4.6-1 3.3,3.7 0.2,3.8 3.3,0.6-2.4,4.3-3.5-1.1-2.2,0.6-4.4,0.5-2.9-1.3-0.4-1.4-2.2-1.4z" fill="#FED976"/>
<path d="M476.8,166.1l2-2.9 4,0.5 3.7-1.9 3.5,0.3 1.8,1.1-1.8,0.2-2,4.1-2.2,0.8-2.8,0.5-3.1,0-2.2-1.6-1.1-0.5z" fill="#ABD9E9"/>
<path d="M499.9,162.4l3.1,0 2.6,1 1.8,3.8-4,2.7-0.2-3.8z" fill="#FFFFCC" stroke-width="3.5"/>
<path d="M491.1,160.2l3.1-3.8-0.9-2.7 3.1-1.1 5.5,1.1 6.6,0.5 2.9-2.1 4.4-0.8 3.7,5.1 5.5,1.6 4.4,0.8-0.7,4.6-3.3,2.2-7,2.4 1.1,2.5 2.2-0.3-3.3,1.6-3.3,0.8-2.2-2.4 2.4-1.9-3.9-0.5-2.5-0.6-2.2,3.3-3.3-0.6 4-2.7-1.8-3.8-2.6-1-3.1,0-4.6,1-3.5-0.2-1.8-1.1z" fill="#FFFFCC"/>
<path d="M493.3,153.7l-0.9-2.2 1.6-1.1-0.9-3.3 1.1,0.1 3.3-0.8 0.7-1.9 1.7-2.2 3.5-1.2 6,1.5-0.2,2.2 1.1,1.6 3,2.1-2.8,0.9 0.9,2.7-2.9,2.1-6.6-0.5-5.5-1.1z" fill="#FFFFCC"/>
<path d="M512.5,198.4l1.5-1.1 3.5-0.8-1.3,1.9-2.2,1z" fill="#ABD9E9" stroke-width="4"/>
<path d="M509.2,104.2l4.8,1 6.6,0.6 11.4,6.5-7,1.9-7.7-1.4-4.4-1.3 5.1,7 4.8,1.6 2.2-1.9 5.5,0-1.1-3.8 4.4-1.3 4.4,1.3 0-6.7 5.5,1.9 3.3,0.2 11-1.6 4.4-0.8 4.4,0 6.6-1.1 1.1-2.1 8.8,1.3 4.4,2.4 3.3,0.3-2.2-3.2-0.5-3.6 3.8-5.9 3.3-1.1 5.5,1.9 0.6,4.6 1.6-1.4 3.3-2.7 6.6,0.9 5.5-3.6 13.2-0.8 1.1-1.9 17.6-4.3 11-1.1 9.4-3.2 6,2.4 11,0.8 3.3,2.7-7.7,3.3 6.6,1.3 13.2,1.9 11-1.6 8.8,1.1 3.3,6.2 3.3,0.5 4.4-1.9 11,0 4.4-2.7 13.2,0.6 8.8,1.9 4.4,1.9 15.4,3 4.4,0.8 8.8-0.3 6.6-0.8 5.5,2.4 0-3 12.1,0.9 8.8,2.4 0,10.5-5.5,0.9 3.9,5.9-11.6,1.9-7.7,4.9-9.9-0.8-5.5,1.1-1.1,5.1-1.1,4.9-1.6,3.2-3.9,4.9-3.8,3.8-3.5,2.1-2.4-5.4-0.2-5.4 1.1-5.4 4.4-4.1 7.7-5.4 4.4-2.7 2.2-2.7-9.9,2.2-7.7,0.5-4.4,5.4-7.7,0.6-6.6-0.3-11,0.3-5.5,3.5-6.6,8.1-4.9,0.8 4.9,1.9 5.9,0.3 2.7,1.6-2,6.2 0,6.8-4.4,5.4-5.5,5.7-6.2,4.3-2.8-0.8-2.7,2.2-0.2-1.1 1.3-2.2-0.4-3.7 4.4-0.6 3.3-7 0.6-1.9-8.3,1.9-0.7-3.3-7-2.4-3.3-7.9-5.5-2.1-5.7,0.5-2,1.6-1.6,6.5-3.3,1.9-2.4-0.5-3.7-1.1-6.6,2.2-7.7,0.2-7.7-2.9-6-0.6-0.6-2.1-6.8-1.9-2.5,2.9 1.1,1.4-7.2,1.4-6.6-1.9-9.3,4-1.1,0.3-4.6-1.4-4.8-3.8-6.6,0.6-4.6-6.8-3.1-2.4-6.8,1.9 0.8-1.6-6.1-0.3 0-3-4.4-0.3-8.4,2.7-8.1,1.4-1.1,2.4-2.2,3.3 3.3,1.3-0.2,1.4-6.2-0.6-6.4,1.1-7.5-3-3.3,0-4.6,3-0.6,2.2-3.5,2.4 1.3,3 3.5,3.8-3.3,2.2-1.1,2.9 1.3,4.1 2,3-4,0.2-0.6-0.2-5.3-1.9-1.1-0.6-7.7-1.6-4-2.7-0.8-0.8-2.7-1.4 2-2.1 1.5-2.2 2.5-0.8-2.5,0 3.3-2.2 0.7-4.6-4.4-0.8-5.5-1.6-3.7-5.1-4.4,0.8-0.9-2.7 2.8-0.9-3-2.1-1.1-1.6 0.2-2.2-6-1.5-0.8-3.1-0.9-0.6 1.3-5.4 4.4-1-3.3-1.7-1.5,0 3.7-2.7 4.4-3.8-3.3-2.4 0.2-5.1-2.2-3.3 2-2.2-3.3-1.3 0.9-2.5 0.2,0zM45.4,106.6l11,3.8 7.7,1.6 4,2.2-6.2,4.6-6.6-1.1-5.5-1.9-4.4,1.3zM753.8,146.1l2.8,4.9-0.2,8.1 3.3,1.6-3.7,5.7-1.1,2.2-1.1-4.4 0-7.8-0.7-5.4z" fill="#FFFFCC"/>
<path d="M465.6,79.5l6.6-2.4 13.2-1.1 15.4,0.3-11,4.3-8.8,4.9-8.8-2.5z" fill="#606060" stroke-width="5"/>
<path d="M499.3,182.4l0.6-1.9-0.6-0.3 3.7-0.8 2.4,2.2 5.3,0 4.4-2.2 3.3-0.3 3.3,2.2 4.4,1.1 6.6-1.6 4.4,1 0.4,2.7 2.5,1.1-1.4,0.8 0.7,3.8 0.7,2.2-5.3,0.3-0.2-0.3-5.1,1.1-4.4,0-2.9,0-1.1,2.4-0.4-2.4-3.1,0-2.2,1.9-3.5-1.1-3.1-0.8-2,1.9-3.7-1.6-1.5-0.9-0.3-3.7-2.2,0.2 1.4-2.7-1.6-0.5 0.2-1.7 2.9-0.8 3.3-0.2 0.2-1.4-3.5,0.3z" fill="#FED976"/>
<path d="M529.4,175.6l3.3,5.2 4.4,1 3.3-0.5 3.1-1.6-5.3-1.9-1.1-0.6z" fill="#FED976" stroke-width="3.5"/>
<path d="M537.1,181.8l3.3-0.5 1.1,1.9 2.2,3 0,1.6-1.1-1.1-2.6-1.1-2.5-1.1z" fill="#FED976" stroke-width="3.5"/>
<path d="M540.4,181.3l3.1-1.6 0.6,0.2 4-0.2 2.2,3.5 1.7,0.5-2.1,3-0.9,2.5-2-1.1 0-2.2-3.3,1.9 0-1.6-2.2-3z" fill="#E31A1C" stroke-width="3.5"/>
<path d="M521,195.9l1.1-2.4 2.9,0 4.4,0 5.1-1.1-2.9,7.6-4.8,2.7-4.4,3-2.5-1.1 0.3-1.6 1.7-2.5-0.6-1.1-0.9-0.1 0-2.3z" fill="#FED976"/>
<path d="M518.6,203.5l1.8-4.2 0.9,0.1 0.6,1.1-1.7,2.5z" fill="#FED976" stroke-width="4"/>
<path d="M516.6,208.4l1.6,4.8 1.1-4.6 0.2-0.8 0-2.4 0.4-0.8 0.3-1.6-1.6,0.5-0.9,3z" fill="#ABD9E9" stroke-width="4"/>
<path d="M518.2,213.2l2.4,0.9 3.3-2.2-1.1-4.1 4.4-1.3 0.4-0.6-0.8-3.2-4.4,3-2.5-1.1-0.4,0.8 0,2.4-0.2,0.8z" fill="#FED976"/>
<path d="M534.5,192.4l0.2,0.3 5.3-0.3 1.5,3.2 1.5,2.2-1.7,3.3 1.7,2.1 3.6,3.8-0.3,2.2 2,3-1.3-0.3-0.7-0.3-2.6,2.7-4-0.2-5.9-5.2-3.5-2.2-2.7-0.8-0.8-3.2 4.8-2.7z" fill="#FED976"/>
<path d="M543.7,214.3l2.6-2.7 0.7,0.3 0.9,4.1-2,0z" fill="#ABD9E9" stroke-width="4"/>
<path d="M518.2,213.2l2.4,0.9 3.3-2.2-1.1-4.1 4.4-1.3 0.4-0.6 2.7,0.8 3.5,2.2 5.9,5.2 4,0.2 2.2,1.7 2,0 1.3,2.7 2.6,2.1-0.2,3.3 1.5,2.1 0.9,0.3 0.9,1.1 2.2,3.5 5.7,0.6 0.9,1.8-1.3,5.5-6.6,2.7-6.6,1-4.4,4.4-1.3-0.6-2.7-0.5-3.9-0.3-0.5,2.2-0.8,0.8-0.7-1.6-3.3-5.4-4-6.8-1.5-5.4-2.9-4.1-2.6-5.4-2.2-3-0.9,0z" fill="#FED976"/>
<path d="M535.6,248.7l0.8-0.8 0.5-2.2 3.9,0.3 2.7,0.5 1.3,0.6 4.4-4.4 6.6-1 2.4,6.5-2,2.7-7,4.3-8.8,3.3-3.3,0.2-0.7-1.6-0.8-4.6z" fill="#FD8D3C"/>
<path d="M558.2,248.2l-2.4-6.5 6.6-2.7 1.3-5.5-0.9-1.8 1.8-3.8 0.9-2.2 1.3,2.4 3.5,1.1 2.6,3-2.8,5.7-1.6,3.8-3.3,2.9-2.8,2.5z" fill="#FED976"/>
<path d="M554.9,227.6l2.2,3.5 5.7,0.6 1.8-3.8 0.9-2.2-0.7-3-1.8,1.9-2.2,2.4-3.7,0.6z" fill="#FED976" stroke-width="3.5"/>
<path d="M553.1,226.2l0-2.4 0.9-1.4 0.9,2.2 0,1.9-0.9,0z" fill="#ABD9E9" stroke-width="4"/>
<path d="M538.6,186.4l1.4-0.8 2.6,1.1 1.1,1.1 3.3-1.9 0,2.2 2,1.1 1.3,2.4 2.2,1.3 3.3,1.1 4.4-0.8-0.2-1.1 3.5-1.9 3.7-0.5 4.6,1.9 4.2,2.4 0,2.7-1.5,5.2 0.9,5.9 1.9,0.3-1.9,4.3 1.7,3 2.4,1.4 1.1,2.9-0.2,1.1-3.1,1.4-0.4,2.7-5.7-0.6-3.8-0.8-1.1-3.8-5,1.4-3.3-1.1-3.3-2.2-1.6-3.2-1.7-3.3-2.2-0.5-0.9,1.4-2-3 0.3-2.2-3.6-3.8-1.7-2.1 1.7-3.3-1.5-2.2-1.5-3.2-0.7-2.2z" fill="#FED976"/>
<path d="M560,192.1l-0.9-5.9-1.3-1.4-0.3-3.2-0.6-1.7 2.2-1 2.6,0.5 1.8,1.9 1.1,0 2.2,0 0.2-2.7 3.1-1.1 3.3,1.4 2.8,2.7 2.5,3.2 4.4,3 4.6,2.4 0,1.7-3.8,0.8-0.6,2.1-3.8,2.5-3.5-0.6 0-2.7-4.2-2.4-4.6-1.9-3.7,0.5z" fill="#E31A1C"/>
<path d="M564.6,181.3l0-10 5.7-1.6 5.3,3.2 2.2,2.4 6.4-0.5 2.6,1.9-0.2,2.7 4.4,2.7 4.8-2.7 1.8-0.8 0.4,0.3 4,3.8-2.9,1.6-2.6-0.3-2.7-1.3-1.3,3.5-2.8,0.5 0.8,5.7-2.8-0.5 0-1.7-4.6-2.4-4.4-3-2.5-3.2-2.8-2.7-3.3-1.4-3.1,1.1-0.2,2.7z" fill="#FD8D3C"/>
<path d="M633.4,160.2l-3.3,1.9-0.6,3.5-5.5-0.3-1.6,4.6 0.7,0.8-5.7,0.6 0.4,7.8-2.6-1.9-7.3-0.2-3.7-0.8-1.1,2.1-5.1-0.8-0.4,1.1-1.8,0.8-4.8,2.7-4.4-2.7 0.2-2.7-2.6-1.9-6.4,0.5-2.2-2.4-5.3-3.2-5.7,1.6 0,10-1.1,0-1.8-1.9-2.6-0.5-2.2,1 0-2.7-3.3-4.6-1.6-0.2 2-1.9 4,0 0-4.4-4-0.5-4.8,1.9-3.5-3.8-1.3-3 3.5-2.4 0.6-2.2 4.6-3 3.3,0 7.5,3 6.4-1.1 6.2,0.6 0.2-1.4-3.3-1.3 2.2-3.3 1.1-2.4 8.1-1.4 8.4-2.7 4.4,0.3 0,3 6.1,0.3-0.8,1.6 6.8-1.9 3.1,2.4 4.6,6.8 6.6-0.6 4.8,3.8z" fill="#FED976"/>
<path d="M597.6,178.6l0.4-1.1 5.1,0.8 1.1-2.1 3.7,0.8 7.3,0.2 2.6,1.9-3.7,1.9-3.8,1.4-2.2,1.3-2.2-0.2-2.2,1.9-0.2,1-3.7,0-2.9-0.5-0.4-1.9 2.6,0.3 2.9-1.6-4-3.8z" fill="#FD8D3C"/>
<path d="M590.5,192.4l-0.8-5.7 2.8-0.5 1.3-3.5 2.7,1.3 0.4,1.9 2.9,0.5 3.7,0 0.2,2.5 2.5,0 0.2,3-0.2,0.5-3.6-0.5-3.5,1.9-0.4-3.6-2.9,0.3-2,2.2z" fill="#E31A1C"/>
<path d="M574.5,201.9l0.9,5.9 1.9,0.3-1.9,4.3 3.5,1.1 3.7-0.3 4.6-1 0.3-2.7 3.5-2.2 2.8-0.6 0.5-2.9 1.7-0.8-0.6-1.9 2.4-0.3 1.1-3-0.7-2.7 2.7-1.6 4.6-0.6 0.7-0.5-3.6-0.5-3.5,1.9-0.4-3.6-2.9,0.3-2,2.2-3.3-0.3-2.8-0.5-3.8,0.8-0.6,2.1-3.8,2.5-3.5-0.6z" fill="#E31A1C"/>
<path d="M576.9,224.9l0.4-2.7 3.1-1.4 0.2-1.1-1.1-2.9-2.4-1.4-1.7-3 3.5,1.1 3.7-0.3 4.6-1 0.3-2.7 3.5-2.2 2.8-0.6 0.5-2.9 1.7-0.8-0.6-1.9 2.4-0.3 1.1-3-0.7-2.7 2.7-1.6 4.6-0.6 2.6,0.9 2.2,2.9 2.2,0.3-1.7,1.6-6.6,0.6-0.5,4.3 1.8,1.1 1.5,1.1-1.7,3.2-1.3,3-2.2,3-2.2,2.7-3.3-0.3-2,2.7 1.5,3.3 1.6,3.7-4.7,0.3-1.3,1.6-1.7-1-1.6-1.9-0.4-1.9-4.4,0.8z" fill="#FD8D3C"/>
<path d="M591.4,228.9l1.3-1.6 4.7-0.3-1.6-3.7-1.5-3.3 2-2.7 3.3,0.3 2.2-2.7 2.2-3 1.3-3 1.7-3.2-1.5-1.1-1.8-1.1 0.5-4.3 6.6-0.6 1.7-1.6 2.5,3-0.5,4.9 1.1,0.2-1.1,3.5 5.1,2.7-2,3.8 4,2.5 3,1.3 3.1,0.6 2.4,1.6 5.1,0.5 0-4 1.5-0.6 0.3,2.2 0,1.1 1.9,0.5 4.9-0.5-0.7-2.5 0.9,0.9 3.1-3.3 4.4-1.1 3.9,2.2-0.6,1.6 0.2,1.6-2-0.5-2.2,1.9-1.3,3.8 0.2,1.3-1.1,2.2-1.7-0.3-0.3,3-0.4,1.9-1.1,0.6-0.7-4.7-2.4,0.6 0.5-1.6 1.9-2.2 0.3-0.3-5.3-0.8-0.5-1.9-3-1.3-0.7,1.9 1.8,1.6-1.8,1.9 1.3,0.8-0.2,2.7 0.9,3 0.2,0.8-2,0.3-2.6,0.8-0.2,1.6-1.1,2.2-3.1,1.9-2,2.7-4,4.6-2.2,0.8-2.2,1.6-0.4,5.7 0.4,1.3-1.1,3.8 0.3,3.8-1.4,0-0.8,2.7-1.6,1.1-1.5,2.2-2.2-2.5-0.7-2.7-1.1-3.8-2-4-0.8-4.4-2-4-1.1-5.4-0.5-2.7-0.2-3.3-0.2-3.5-0.2-1.1-0.9,1.9-2.4,1.4-2.2-0.8-2.2-3.6 1.5-0.5 1.3-1.4-2.4,0.3-1.5-1.1z" fill="#FD8D3C"/>
<path d="M617.6,215.1l2-3.8 2.6,0.3 3.8,2.2 2.8,1.9 1.8,1.6 4.6,0.3 0,4-5.1-0.5-2.4-1.6-3.1-0.6-3-1.3z" fill="#E31A1C"/>
<path d="M637,219.2l1.9-2.4 4,1 0.9,2.5-4.9,0.5-1.9-0.5z" fill="#E31A1C" stroke-width="3.5"/>
<path d="M637.4,234.1l-0.2-0.8-0.9-3 0.2-2.7-1.3-0.8 1.8-1.9-1.8-1.6 0.7-1.9 3,1.3 0.5,1.9 5.3,0.8-0.3,0.3-1.9,2.2-0.5,1.6 2.4-0.6 0.7,4.7-0.7,3.5-1.1-4.4-2.8,0.8z" fill="#E31A1C" stroke-width="3.5"/>
<path d="M617.4,266.6l2.6,3.5 1.3,2.7-0.4,3-2.2,1.3-1.5-2.7-0.3-3.8z" fill="#FED976" stroke-width="4"/>
<path d="M644.4,237.1l0.7-3.5 1.1-0.6 0.4-1.9 0.3-3 1.7,0.3 1.1-2.2-0.2-1.3 1.3-3.8 2.2-1.9 2,0.5-0.2-1.6 0.6-1.6 2.2,1.9 0.9,0.3 0,4.3-2.4,4 0.4,1.4 2.5,1.9 1.3,0.8-0.7,2.2 2.2,1.6 2.1-0.3-2.3,3.3-2.4,1.6-2.2,0.3-1.3,3.2 0.8,2.5 1.6,2.9-0.7,3.8 2.2,3.8-0.2,5.4-0.7,3.5-0.4,1.1-0.2-4.8 0.2-3.3-1.8-4.9-0.2-4.6-2-1-3,2.9-2.5-0.5 0.7-4.1-0.9-3.5-1.5-2.7z" fill="#E31A1C"/>
<path d="M661.6,237.9l0.9,0.5 1.5,1.9 0.2,4.1-0.6,1.3 2.4-1.9 2.4-0.2 1.8,0 1.5,2.1 0.2,3 1.8,2.2-0.2,3.2-1.6,0-3.9,0.3-1.3,1.9 1.1,5.1-1.6-1.6-2.6-1.1-0.2-2.1-2,0.2-0.2,3.8-1.6,4.3 0.2,3.3 1.6,1.9 0.9,3.5 2.4,0.8 1.3,1.9-2.2,1.4-2.2-2.2-1.1-1.9-2.9-2.2 0-2.7 0.7-2.7 0.4-1.1 0.7-3.5 0.2-5.4-2.2-3.8 0.7-3.8-1.6-2.9-0.8-2.5 1.3-3.2 2.2-0.3z" fill="#FED976"/>
<path d="M661.6,237.9l2.3-3.3 1.2-2.4 1.1,0.3 1.6,1.9 2.4,3.5 0.9,2.1 1.7,2.5 2.9,4.6 2.2,5.1 0,1.1-3.3,0.8-1.1,0 0.2-3.2-1.8-2.2-0.2-3-1.5-2.1-1.8,0-2.4,0.2-2.4,1.9 0.6-1.3-0.2-4.1-1.5-1.9z" fill="#800026"/>
<path d="M666.2,232.5l2.9-0.6 3.9-1.9 3.1,1.4 2.9,3.5-2.9,2.2-2.2,4.6 1.8,3.5 3.9,4.6 2,6.8 0,4.6-4.4,3.7-1.1,2.5-4.2,2.4 0.5-3.8-1.1-1.1 2.2-1.6 1.5,0 2.9-4 0-6 0-1.1-2.2-5.1-2.9-4.6-1.7-2.5-0.9-2.1-2.4-3.5z" fill="#FED976"/>
<path d="M667.8,261.4l-1.1-5.1 1.3-1.9 3.9-0.3 1.6,0 1.1,0 3.3-0.8 0,6-2.9,4-1.5,0-2.2,1.6-2.2-0.5z" fill="#E31A1C"/>
<path d="M661.6,275.5l2.2,2.2 2.2-1.4 2.9,3.8 0,3.5 1.7,5.7-1.5,0.3-4.6-4.1-1.8-3.8-0.7-3.5zM682.5,288.2l4-1.6 3.5-2.2 2.2-3.8 3.3-1 2.8-5.2 2,1.4 3.3,3.2-2.6,2.5-0.9,0.2-4-0.2-1.7,3.5 0,1.3-2.2,3-4,0-2.6,1.1z" fill="#FED976" stroke-width="4"/>
<path d="M651,277.9l4.9,1.1 1.1,2.7 4.4,3.8 3.3,2.2 3.3,3.5 1.7,3.3 1.6,3.5 3.3,3.2-0.2,7.6-1.6,0.3-2-1.7-4.4-3.5-2.8-4-1.6-4.4-2.8-3.8-0.7-3.2-3.3-4.1zM672.8,311.5l1.8-2.4 5.5,2.1 4.4,0.6 1.1-1.4 3.7,1.4 4,2.1-0.2,2.8-7.5-1.1-5.5-1.4-4.6-1.1zM682.5,288.2l3.1,2.2 2.6-1.1 4,0 2.2-3 0-1.3 1.7-3.5 4,0.2 0.4,4.9 2.7,3.8-3.1,0.5-0.2,3.8-2.7,2.7 0.5,1.9-1.1,3.8-2.9,1.1-2.6-1.9-4,0-3.3-1.3 0-3.3-2.4-2.4-0.2-3zM704.3,308l0.4-5.4-1.7-2.5 1.9-6.7 2.2-3.8 4.9,0.8 4.8-1.6-1.5,3.2-7.7-0.3-2,3.8 3.1,0 4.2,0-3.8,2.7 2.4,5.5-0.6,3.5-2-1.1-1.5-5.7-1.1,2.2 0,5.4zM729.6,295.3l6.6,0 2.2,6.7 5.5-4.6 7.7,2.7 0,17.6-6.6-2.1-0.5-7.9-6.1-2.7-4.4-1.1-0.5-3.2-3.3-4.1zM694.4,315.3l4.4,0.3 4.4,0 4.4,0.2 4.4-0.5 0,1.6-6.6,0.3-6.6,0.3-3.3-0.6zM713.3,321l3.1-3-1.8,0.5zM721.9,295.3l1.1-7.1 1.7,4.1-1.7,3.2zM718.6,301.8l4.4-0.8 6.1,1-5,0.8z" fill="#FED976" stroke-width="4"/>
<path d="M716.4,318l4.4-2.2-1.1,1.7z" fill="#FFFFFF" stroke-width="4"/>
<path d="M692.2,280.6l2.6-1-0.4,2.1z" fill="#FED976" stroke-width="4"/>
<path d="M751.6,300.1l7.7,3.3 3.3,4.6 3.9,2.2-1.3,1.8 2.9,5.5 5,4-3.9-0.5-4.4-2.2-2.2-4-4.4-0.9-2.2,4.1-4.4-0.3zM768.1,308.3l4.4-0.3 3.7-3.5-1.5,3.5-3.3,2.2zM773.1,300.1l3.8,2.5 1.1,3zM781.5,308l2.8,3.5-1.5-1.3z" fill="#E31A1C" stroke-width="3.6"/>
<path d="M706.5,243l3.7,0.3 0,5.1-1.5,4.1 1.1,2.7 4.4,2.7-0.5,0.6-2.8-2.8-3.3,0.3-1.6-3-0.6-3.8zM709.8,274.2l3.3-4.4 4.4-3.2 2.2,6.2-2.2,4.6-3.3-2.7zM714.8,259.3l2.7,1.3 0,2.7-1.6,2.2-0.6-3zM709.8,261.2l2.6,1.3 0.2,4.9-1.7-0.8-0.2-1.9zM699.4,270.4l4.9-7.9-1.1,3.5z" fill="#FFFFFF" stroke-width="4"/>
<path d="M705.6,230.8l2-5.4 2,0-1.1,5.4-1.4,2.7z" fill="#FFFFFF" stroke-width="4"/>
<path d="M729.4,201.1l2.4-2.5 2.2-1.9 6.6-0.2 1.7-4.1 1.1,1.1 2.7-1.6 2.2-3 1.1-4.1 0.6-3.2 2.5-0.6 1.3,5.2-2.2,3.5-0.2,3.5-0.3,3.3-2.2,1.9-2.2,0.8-3.9,0.2-0.5,0.8-2.2,2.2-1.5-2.2-3.5-0.2-2.9,1.3zM727.4,202.4l3.7-0.3-0.4,5.7-2.9,0.8-0.9-4zM732.9,202.4l4.4-1.9-0.7,2.5-2.6,1.3zM750,180.8l-0.6-3.3 2.8-1.6 0.9-5.7 2.9,3 5,0 0.5,2.7-4.9,3.5-3.9-1.3-1.1,1.8z" fill="#ABD9E9" stroke-width="4.5"/>
<path d="M715.1,184.8l3.5-2.7 2-2.2 2.8,1.1 3.3-2.7 2-0.2 0.2,0.5-2.2,2.4 0,1.7-4.8,2.9-0.2,1.4 2.2,1.6-3.1,1.1-2,1.3-2.4-0.5 0.6-2.2-0.4-2.4z" fill="#FED976" stroke-width="3.5"/>
<path d="M723.9,188.6l2.2,4.1 0,4.3-1.8,1.6-2.4,0.3-2.7,0.8 0.5-3 0-2.9 0.9-1.1-1.8-1.7 2-1.3z" fill="#ABD9E9" stroke-width="3.5"/>
<path d="M634.5,159.9l9.3-4 6.6,1.9 7.2-1.4-1.1-1.4 2.5-2.9 6.8,1.9 0.6,2.1 6,0.6 7.7,2.9 7.7-0.2 6.6-2.2 3.7,1.1-1.5,2.4-1.1,2.7 4.2,0.6 2.4-0.6 2.8,3.3-5.2,0.8-3.1,1.9-5.3,2.4-3.7-0.5-1.1,1.6 1.1,1.9-5.3,3.3-9.9,2.4-8.8-2.7-8.8-0.6-3.3-4-4.4-1.9-5.7-0.8-0.5-4.6-5.9-4.4z" fill="#E31A1C"/>
<path d="M633.4,160.2l1.1-0.3 0.5,1.6 5.9,4.4 0.5,4.6 5.7,0.8 4.4,1.9 3.3,4 8.8,0.6 8.8,2.7 9.9-2.4 5.3-3.3-1.1-1.9 1.1-1.6 3.7,0.5 5.3-2.4 3.1-1.9 5.2-0.8-2.8-3.3-2.4,0.6-4.2-0.6 1.1-2.7 1.5-2.4 2.4,0.5 3.3-1.9 1.6-6.5 2-1.6 5.7-0.5 5.5,2.1 3.3,7.9 7,2.4 0.7,3.3 8.3-1.9-0.6,1.9-3.3,7-4.4,0.6 0.4,3.7-1.3,2.2 0,0.6-2,0.2-3.3,2.7-2.8-1.1-2,2.2-3.5,2.7-3.1,0.8-4,2.5 1.8-4.6-2.2-1.1-3.3,3-3.3,1.6-0.7,1.9 2.7,2.7 3.9-0.8 4,1.3-3.3,1.9-3.8,4.1 2.2,2.1 1.4,4.4 2.2,2.7 0.2,2.2-2.2,0.8 2.2,1.9-1.1,4.3-3.3,4.6-2.2,3.8-2.9,3.2-2.6,2.7-5.1,1.9-1.5,0.3-3.8,1.6-3,1.1-0.3,2.4-0.8,0-0.5-3.2-3.7,0-2.9-3.5-3.1-1.4-3.9,1.9-2.9,0.6-1.1-0.3-1.2,2.4-2.1,0.3-2.2-1.6 0.7-2.2-1.3-0.8-2.5-1.9-0.4-1.4 2.4-4 0-4.3-0.9-0.3-2.2-1.9-3.9-2.2-4.4,1.1-3.1,3.3-0.9-0.9-0.2,0-4-1-1.9,2.4-0.3-2.2-1.5,0.6-4.6-0.3-1.8-1.6-2.8-1.9-3.8-2.2-2.6-0.3-5.1-2.7 1.1-3.5-1.1-0.2 0.5-4.9-2.5-3-2.2-0.3-2.2-2.9-2.6-0.9 0.7-0.5 0.2-0.5-0.2-3-2.5,0-0.2-2.5 0.2-1 2.2-1.9 2.2,0.2 2.2-1.3 3.8-1.4 3.7-1.9-0.4-7.8 5.7-0.6-0.7-0.8 1.6-4.6 5.5,0.3 0.6-3.5zM680.5,241.1l2.9-2.4 2.2,1.3-2.2,3.3-2.4,0z" fill="#FED976"/>
<path d="M692.6,352.1l5.7-3.2 4.9-1.7 5.5-2.1 1.7-5.4 2.9,0.5 2-3.8 3.3-5.4 3.9,1.4 0.9,1.3 3.1-0.3 2-6.5 4.4-3.2 5.5,2.4 4.2,0-2.2,4.1-0.9,3.2 3.3,2.5 5,4.6 3.3,0 1.6-6.8 0.4-6 1.8-5.6 2.2,5.6 0.6,4.4 3.3,1.6 1.6,6.8 0.6,3.8 4.9,2.9 2.2,6.3 2.8,2.4 4.9,5.4 1.1,8.1-1.1,7.6-3.8,7.6-2.4,6-0.4,4-5.5,1.4-2.4,2.9-3.8-2.1-2.6,1.3-5.5-1.9-2.9-2.9-0.4-3.3-2.9-0.5 0.7-2.5-1.6-4.6-0.8,5.2-3.1,0-1.8-2.5-2.2-3.5-6.6-3.2-4.8,0.2-6.6,1.9-4.4,1.9-1.1,2.5-7.7,0-4.4,2.9-4.4-0.2-2.2-1.6 1.5-6.3-1.5-5.4-1.8-6.8-2-4 1.6,0.8-1.1-4.9 0.6-4.9zM759.7,403.3l7.9,0.5-0.6,6.2-3.3,1.1-2.7-3z" fill="#ABD9E9"/>
<path d="M821.3,386.2l3.5,2.5 2.7,3.2 1.1,3 5,0.3-2.4,4.3-0.9,3-3.3,3.2-1.1-1.9 0.5-2.4-2.7-1.9 2-3 0.2-3.2-1.1-1.9-2.8-3.6zM821.3,402.7l3.5,3.3-2.8,4.3 0.2,1.4-4.2,1.9-1.1,3.8-3.7,1.8-3.3-1-2.2-1.1 3.3-4.4 5.5-3.5 2.2-3.2z" fill="#ABD9E9" stroke-width="3.6"/>
<path d="M802.2,347.5l5.5,4.6 1.1,1.6-3.3-1.6z" fill="#FFFFFF" stroke-width="4"/>
<path d="M785.7,311.2l3.3,2.5 4.4,3.8 3.9,3.5-3.9-1.9-5.5-4.9z" fill="#FFFFFF" stroke-width="4"/>
<path d="M807.9,333.2l1.5,2.7 2.2,5.1-1.7-3.8z" fill="#FFFFFF" stroke-width="4"/>
<path d="M831.4,340.5l2.9,0-0.5,1.9-2.2-0.3z" fill="#FFFFFF" stroke-width="4"/>
<path d="M243.2,255.7l1.5-1.6 2,1.1 1.6,1.6 0,0.6-2.7-0.3z" fill="#E31A1C" stroke-width="2"/>
</g>
<path d="M250,120.4l2.2-5.7 6.6-0.8 6.6,4.6-1.1,3.2-7.7,1.1z" fill="#ABD9E9" stroke="#606060" stroke-width="4.5" stroke-linejoin="round"/>
<path d="M311,164l3.9-8.4 4.4-2.2-0.4,4.4 4.8,1.8 1.8,4.9-1.8,2.2-4.4-0.6-1.1-1.9zM169.7,162.1l-3.3-1.1-7.2-5.1 2.8-0.3 4,2.2 3.1,2.7zM148.8,146.9l2.7,0.3 1.7,4.3-3.3-1.9zM299.7,158l5.3,1.4-3.3,0.2zM300.2,166.4l4.8,0.8-1.7,1.4z" fill="#ABD9E9" stroke="#606060" stroke-width="4.5" stroke-linejoin="round"/>
<path d="M554.7,99l7.7-4.3 2.2-2.5 8.8-4.8 11-2.5 7.7,0.8-9.9,3.3-12.1,5.1-2.2,6.8-8.8,0.5zM646,78.7l8.8-4.3 13.2,1.6 8.8,4.3-11,2.2-11-1.1zM742.8,89.3l8.8-2.2 11,1.4 11,1-6.6,1.7-11,3.2-8.8-2.2zM834.1,100.4l3.3-0.9 0,1.7zM542.6,75.7l8.8-1.6 15.4-1.1 15.4,0.8-4.4,1.9-15.4,0.8z" fill="#FFFFCC" stroke="#606060" stroke-width="5.5" stroke-linejoin="round"/>
<path d="M165,92.5l6.3-2.5 11.2,1.3 2.5,5-6.2,3.8-11.3-1.3z" fill="#606060" stroke="#606060" stroke-width="2" stroke-linejoin="round"/>
<path d="M168.8,93.5l9.4-0.6 1.6,2.8-7.3,1.6z" fill="#ABD9E9"/>
<path d="M183.8,95.1l7.5-2.6 11.3,0 12.5,1.3 2.5,6.3-2.5,6.2-10,2.5-11.3-1.2-7.5-3.8z" fill="#606060" stroke="#606060" stroke-width="2" stroke-linejoin="round"/>
<path d="M189,97.3l11.1-1.2 12.2,1.2 0.7,5.6-9.2,2.5-11.2-1.2z" fill="#ABD9E9"/>
<path d="M170,85l7.5-3.1 13.8-2.5 8.8-0.6 3.7,5-3.7,5-12.6,0.6-12.5,0z" fill="#606060" stroke="#606060" stroke-width="2" stroke-linejoin="round"/>
<path d="M205.1,78.8l10-3.1 10-3.2 12.5-3.1 15-1.9 16.3-1.2 18.8,0.6 16.2,1.9-8.7,6.2-12.5,5-10,3.8-3.8,7.5 7.5,5 11.3,2.5 10,6.3 8.7,6.2-2.5,8.8-5,5-1.2,7.5-6.3,2.5-6.2-5-2.5-7.5-7.5-1.3-5-7.5-7.6-3.7-6.2-5-8.8,2.5-10-2.5-7.5,2.5-10-3.8-2.5-7.5-7.5-5-3.8-6.3z" fill="#606060" stroke="#606060" stroke-width="2" stroke-linejoin="round"/>
<path d="M263.3,77.8l6.9-5.9 16.8-2.8-4.3,4.7-12.5,5.6z" fill="#ABD9E9"/>
<path d="M259.1,96.6l14.6-1.3 1.2,5.8-12.3,1.2z" fill="#ABD9E9"/>
<path d="M276.7,104.1l11,1.2 11,6.3 1,8.2-8.3,1.3-8.7-6z" fill="#ABD9E9"/>
<path d="M263.3,108.2l6.6-0.6 0.5,9.7-5.3,0z" fill="#FFFFFF"/>
<path d="M213,92.2l6.8,0.6-0.6,4.5-5.1-0.6z" fill="#FFFFFF"/>
<path d="M275.8,123.2l15.6,1.9 0.7,5-6.3-1.3z" fill="#FFFFFF"/>
<path d="M237.6,96.3l5.6,0.6-0.6,2.2-4.4-0.5z" fill="#FFFFFF"/>
<path d="M220.1,76.9l5-0.6-0.3,2.5-4.1,0.2z" fill="#FFFFFF"/>
<path d="M78.9,145.6l-7.1,2.9-8.8,2.8-8.8,1.6-7.7,1.1" fill="none" stroke="#606060" stroke-width="3" stroke-linecap="round" stroke-linejoin="round"/>
<path d="M137.8,133.4l5.5,3.2 4.4,6.3 4.4,4 4.4,4.1 3.3,4" fill="none" stroke="#606060" stroke-width="7" stroke-linecap="round" stroke-linejoin="round"/>
<path d="M159.8,155l4.4,3.8 3.8,2.7" fill="none" stroke="#606060" stroke-width="4" stroke-linecap="round" stroke-linejoin="round"/>
<path d="M289.6,78.7l11,7 12.1,4.4 5.5,5.4 5.5,8.1 3.3,10.8 4,8.2 8.1,6.5" fill="none" stroke="#606060" stroke-width="7.5" stroke-linecap="round" stroke-linejoin="round"/>
<path d="M397.4,84.7l-2.2,8.1-4.4,5.4-2.2,4.1-6.6,4-11,3.5-11,5.2-8.8,4.9-4.4,6.7" fill="none" stroke="#606060" stroke-width="4.5" stroke-linecap="round" stroke-linejoin="round"/>
<path d="M391.9,90.1l-3.3,5.9-3.3,5.4" fill="none" stroke="#606060" stroke-width="10" stroke-linecap="round" stroke-linejoin="round"/>
<path d="M296.2,73.8l17.6-2.7 28.6-1.6 26.4-1.6 24.2,3.2 17.6,1.4" fill="none" stroke="#606060" stroke-width="5" stroke-linecap="round" stroke-linejoin="round"/>
<path d="M253.8,264.4l2.8,2.2 2.7,2.7 3.9,1.6 2.7-2.4 3.9,1.6" fill="none" stroke="#606060" stroke-width="5.5" stroke-linecap="round" stroke-linejoin="round"/>
<path d="M255.5,233.5l3.3-1.8 5.5-0.3 5.5,3.2 4.4,2.7 2.7,1.1" fill="none" stroke="#606060" stroke-width="6" stroke-linecap="round" stroke-linejoin="round"/>
<path d="M278.2,243l3.7-1.1 5.5,0 3.1,0.8" fill="none" stroke="#606060" stroke-width="5" stroke-linecap="round" stroke-linejoin="round"/>
<path d="M293.6,243.8l3.3,0" fill="none" stroke="#606060" stroke-width="4" stroke-linecap="round" stroke-linejoin="round"/>
<path d="M131.2,104.7l8.8,1.6 5.5-1.6 12.1-1.1 8.8,1.6 11,0 11,2.2 11,2.2 11-1.4 11,1.4 7.7-1.1 2.2-6.2" fill="none" stroke="#606060" stroke-width="5.5" stroke-linecap="round" stroke-linejoin="round"/>
<path d="M287.4,165.9l7.7-5.4 4.4,1-1.1,4.9 4.4,2.7 4.4,0.8 1.8-2.7" fill="none" stroke="#606060" stroke-width="4.5" stroke-linecap="round" stroke-linejoin="round"/>
<path d="M296.2,174.5l4.4-2.1 5.5-1.9" fill="none" stroke="#606060" stroke-width="4" stroke-linecap="round" stroke-linejoin="round"/>
<path d="M299.5,129.9l5.5,6.2 4.4,6.8 5.5,4 3.3,4.9" fill="none" stroke="#606060" stroke-width="4.5" stroke-linecap="round" stroke-linejoin="round"/>
<path d="M269.8,124.5l8.8,0.2 8.8,3.3 2.2,5.4 5.5,0" fill="none" stroke="#606060" stroke-width="4" stroke-linecap="round" stroke-linejoin="round"/>
<path d="M185.6,207.8l3.7,6.8 4.4,6 3.5,5.9 2.2,3.5" fill="none" stroke="#606060" stroke-width="4.5" stroke-linecap="round" stroke-linejoin="round"/>
<path d="M168.6,168.6l-0.6,10.8 3.9,11.4 4.2,8.6 7.3,4.9" fill="none" stroke="#606060" stroke-width="4" stroke-linecap="round" stroke-linejoin="round"/>
<path d="M294,171.8l-7.7,4.9 0.5,3.2-8.2,3.6-3.3,8.1-1.1,6.8-6.6,4.6-4.4,4.8 1.6,10.9" fill="none" stroke="#606060" stroke-width="4" stroke-linecap="round" stroke-linejoin="round"/>
<path d="M454.2,133.4l-1.1-6.8 3.7-4 7.7-4.4 5.5-5.1 5.5-5.4" fill="none" stroke="#606060" stroke-width="8" stroke-linecap="round" stroke-linejoin="round"/>
<path d="M475.5,107.7l7.7-3.5 11-2.5 8.8,0 5.1,1.9" fill="none" stroke="#606060" stroke-width="5.5" stroke-linecap="round" stroke-linejoin="round"/>
<path d="M460.8,143.7l1.3-4.4 2.4-1.9" fill="none" stroke="#606060" stroke-width="6" stroke-linecap="round" stroke-linejoin="round"/>
<path d="M464.1,143.1l4.4-0.5" fill="none" stroke="#606060" stroke-width="6" stroke-linecap="round" stroke-linejoin="round"/>
<path d="M786.1,155l-3.7,2.8-6.6,6.7-6.6,4.6-5.5,4.1-2,1.9" fill="none" stroke="#606060" stroke-width="3" stroke-linecap="round" stroke-linejoin="round"/>
<path d="M645.5,256.6l-0.2,5.4 0.7,6.7 1.7,5.5" fill="none" stroke="#606060" stroke-width="3.5" stroke-linecap="round" stroke-linejoin="round"/>
<path d="M588.3,101.4l3.8-5.9 8.8,0.8 0.6,10 2.7,4.1" fill="none" stroke="#606060" stroke-width="4" stroke-linecap="round" stroke-linejoin="round"/>
<path d="M606.4,96.8l6.6,0.9 5.5-3.6 3.3,5.4 2.2,4.1" fill="none" stroke="#606060" stroke-width="4" stroke-linecap="round" stroke-linejoin="round"/>
<path d="M632.8,91.4l17.6-4.3 11-1.1 9.4-3.2 6,2.4 11,0.8 3.3,2.7-7.7,3.3 6.6,1.3 13.2,1.9 11-1.6 8.8,1.1 3.3,6.2 7.7-1.4 11,0 4.4-2.7 13.2,0.6 13.2,3.8 15.4,3" fill="none" stroke="#606060" stroke-width="4.5" stroke-linecap="round" stroke-linejoin="round"/>
<path d="M514,105.2l6.6,0.6 11.4,6.5-7,1.9-7.7-1.4" fill="none" stroke="#606060" stroke-width="4" stroke-linecap="round" stroke-linejoin="round"/>
<path d="M538.2,114.4l0-6.7 5.5,1.9 14.3-1.4 8.8-0.8 7.7-3.2 8.8,1.3 5.5,0.8" fill="none" stroke="#606060" stroke-width="4" stroke-linecap="round" stroke-linejoin="round"/>
<path d="M279.7,435.2l-3.7-6.7-0.2-8.2 2.8-5.4 0.9-6.8" fill="none" stroke="#606060" stroke-width="6" stroke-linecap="round" stroke-linejoin="round"/>
<path d="M290.7,436.6l-3.3,4-5.5-2.7-3.3-4" fill="none" stroke="#606060" stroke-width="6.5" stroke-linecap="round" stroke-linejoin="round"/>
<path d="M297.3,441.4l-6.6,0.6-4.4,0.8" fill="none" stroke="#606060" stroke-width="5" stroke-linecap="round" stroke-linejoin="round"/>
<path d="M268.1,221.1l2.8,4.3 3.3,3.3 3.3,3.5 3.3,3.5" fill="none" stroke="#606060" stroke-width="5" stroke-linecap="round" stroke-linejoin="round"/>
<path d="M298.4,243.6l4.4,0.8 2.7,2.7 1.1,4 0.6,2.7 0,3.6-1.3,2.9 0.9,4.1" fill="none" stroke="#606060" stroke-width="4" stroke-linecap="round" stroke-linejoin="round"/>
<path d="M87.3,233.8l5-0.6 5,3.1 2.5,4.4" fill="none" stroke="#606060" stroke-width="4" stroke-linecap="round" stroke-linejoin="round"/>
<path d="M131.7,315.1l3.8,5.7" fill="none" stroke="#606060" stroke-width="3" stroke-linecap="round" stroke-linejoin="round"/>
<path d="M61,329.5l6.9,2.5" fill="none" stroke="#606060" stroke-width="3" stroke-linecap="round" stroke-linejoin="round"/>
<path d="M62.3,317l2.5,1.9" fill="none" stroke="#606060" stroke-width="3" stroke-linecap="round" stroke-linejoin="round"/>
<path d="M44.8,337l1.8,5.7 1.3,6.2" fill="none" stroke="#606060" stroke-width="4" stroke-linecap="round" stroke-linejoin="round"/>
<path d="M56.7,343.9l-1.3,7.5" fill="none" stroke="#606060" stroke-width="3" stroke-linecap="round" stroke-linejoin="round"/>
<path d="M89.2,344.6l5.6,3.1" fill="none" stroke="#606060" stroke-width="3.5" stroke-linecap="round" stroke-linejoin="round"/>
<path d="M107.3,337.7l5,3.7" fill="none" stroke="#606060" stroke-width="4" stroke-linecap="round" stroke-linejoin="round"/>
<path d="M760.2,237.5l2.5,8.8-2.5,10" fill="none" stroke="#606060" stroke-width="2.5" stroke-linecap="round" stroke-linejoin="round"/>
<path d="M815.3,263.8l2.5,11.3" fill="none" stroke="#606060" stroke-width="2.5" stroke-linecap="round" stroke-linejoin="round"/>
<path d="M810.3,262.6l3.1,7.5" fill="none" stroke="#606060" stroke-width="2.5" stroke-linecap="round" stroke-linejoin="round"/>
<path d="M821.5,285.1l3.8,7.5 3.7,6.3" fill="none" stroke="#606060" stroke-width="3" stroke-linecap="round" stroke-linejoin="round"/>
<path d="M809,331.4l3.1,8.8 3.2,7.5" fill="none" stroke="#606060" stroke-width="3.5" stroke-linecap="round" stroke-linejoin="round"/>
<path d="M801.5,346.4l8.8,6.3" fill="none" stroke="#606060" stroke-width="3.5" stroke-linecap="round" stroke-linejoin="round"/>
<path d="M827.7,150.7l10,1.9" fill="none" stroke="#606060" stroke-width="3" stroke-linecap="round" stroke-linejoin="round"/>
<path d="M602.3,270.1l0.5,10-0.3,15" fill="none" stroke="#606060" stroke-width="2.5" stroke-linecap="round" stroke-linejoin="round"/>
<path d="M554.5,259.7l6.8-1.4" fill="none" stroke="#606060" stroke-width="3" stroke-linecap="round" stroke-linejoin="round"/>
<path d="M306.9,432.8l3.5,1.3 3.6-1.3" fill="none" stroke="#606060" stroke-width="4.5" stroke-linecap="round" stroke-linejoin="round"/>
<path d="M357.3,439.7l5,2.5" fill="none" stroke="#606060" stroke-width="3.5" stroke-linecap="round" stroke-linejoin="round"/>
<path d="M380.6,445.3l3.1,4.4-2.7,5.4" fill="none" stroke="#606060" stroke-width="3" stroke-linecap="round" stroke-linejoin="round"/>
<path d="M44.5,99.6l6.5-0.4 4.5-0.8" fill="none" stroke="#606060" stroke-width="3.5" stroke-linecap="round" stroke-linejoin="round"/>
<path d="M63.8,119.2l3.2,1.4 3.2,1.6" fill="none" stroke="#606060" stroke-width="3.2" stroke-linecap="round" stroke-linejoin="round"/>
<path d="M47,106l6,2.5 7,3 7,2" fill="none" stroke="#606060" stroke-width="4.5" stroke-linecap="round" stroke-linejoin="round"/>
<g fill="#606060"><circle cx="330.1" cy="295.8" r="4.2"/><circle cx="295.8" cy="261.2" r="1.6"/><circle cx="300.6" cy="263.3" r="1.6"/><circle cx="271.4" cy="244.1" r="2.2"/><circle cx="264.3" cy="240.3" r="1.6"/><circle cx="50.8" cy="216.3" r="1.3"/><circle cx="58.3" cy="222.3" r="1.3"/><circle cx="62.5" cy="223.2" r="1.3"/><circle cx="71.4" cy="225.4" r="1.3"/><circle cx="78.6" cy="229.4" r="1.3"/><circle cx="84.6" cy="230.4" r="1.3"/><circle cx="67.9" cy="247.6" r="1.3"/><circle cx="180.6" cy="214.4" r="1.6"/><circle cx="188.4" cy="243.4" r="1.3"/><circle cx="196.8" cy="241.1" r="1.5"/><circle cx="241.9" cy="293.9" r="3.6"/><circle cx="87.9" cy="280.1" r="1.3"/><circle cx="90.4" cy="282" r="1.3"/><circle cx="94.8" cy="288.2" r="1.8"/><circle cx="89.2" cy="293.9" r="1.3"/><circle cx="52.3" cy="291.4" r="1.6"/><circle cx="63.5" cy="302" r="1.6"/><circle cx="64.2" cy="304.5" r="1.3"/><circle cx="99.8" cy="304.1" r="1.5"/><circle cx="98.2" cy="308.3" r="1.3"/><circle cx="93.6" cy="317.6" r="1.3"/><circle cx="86.7" cy="320.8" r="1.5"/><circle cx="76.7" cy="323.3" r="1.6"/><circle cx="105.5" cy="320.8" r="1.3"/><circle cx="110.8" cy="320.2" r="1.3"/><circle cx="107.1" cy="323.9" r="1.3"/><circle cx="52.9" cy="328.9" r="1.3"/><circle cx="49.1" cy="331.7" r="1.3"/><circle cx="54.8" cy="335.4" r="1.3"/><circle cx="67.3" cy="344.9" r="1.5"/><circle cx="82.1" cy="342.4" r="1.3"/><circle cx="89.2" cy="350.2" r="1.3"/><circle cx="93.6" cy="352.1" r="1.3"/><circle cx="114.8" cy="336.4" r="1.3"/><circle cx="118.9" cy="337" r="1.3"/><circle cx="122.7" cy="335.4" r="1.3"/><circle cx="122.1" cy="347.1" r="1.3"/><circle cx="104.2" cy="354.9" r="1.3"/><circle cx="108" cy="354.2" r="1.3"/><circle cx="112.3" cy="356.4" r="1.3"/><circle cx="116.1" cy="357.9" r="1.3"/><circle cx="131.7" cy="352.1" r="1.3"/><circle cx="135.5" cy="353.3" r="1.3"/><circle cx="143.9" cy="355.8" r="1.3"/><circle cx="154.6" cy="361.5" r="1.3"/><circle cx="158.7" cy="358.9" r="1.3"/><circle cx="166.4" cy="359.9" r="1.3"/><circle cx="124.2" cy="368.3" r="1.6"/><circle cx="200.2" cy="366.5" r="1.5"/><circle cx="209" cy="365" r="1.5"/><circle cx="265" cy="364.6" r="1.6"/><circle cx="49.1" cy="372.7" r="1.3"/><circle cx="47.9" cy="376.5" r="1.3"/><circle cx="263.8" cy="384.6" r="1.3"/><circle cx="267.5" cy="384" r="1.3"/><circle cx="730.2" cy="223.2" r="1.3"/><circle cx="730.8" cy="226.3" r="1.3"/><circle cx="751.4" cy="218.8" r="1.3"/><circle cx="752.1" cy="224.4" r="1.3"/><circle cx="807.7" cy="240.1" r="1.3"/><circle cx="812.8" cy="253.8" r="1.3"/><circle cx="697.6" cy="236.9" r="1.3"/><circle cx="745.2" cy="267.6" r="1.3"/><circle cx="736.4" cy="272.6" r="1.3"/><circle cx="732" cy="278.8" r="1.3"/><circle cx="755.2" cy="275.1" r="1.3"/><circle cx="758.9" cy="272.6" r="1.3"/><circle cx="762.7" cy="272" r="1.3"/><circle cx="770.2" cy="268.8" r="1.3"/><circle cx="772.7" cy="273.2" r="1.3"/><circle cx="775.2" cy="272" r="1.3"/><circle cx="779" cy="278.8" r="1.3"/><circle cx="789" cy="274.5" r="1.3"/><circle cx="800.2" cy="278.2" r="1.3"/><circle cx="797.7" cy="262" r="1.3"/><circle cx="805.2" cy="261.3" r="1.3"/><circle cx="807.7" cy="268.2" r="1.3"/><circle cx="811.5" cy="272.6" r="1.3"/><circle cx="809" cy="294.5" r="1.3"/><circle cx="758.9" cy="296.4" r="1.3"/><circle cx="765.2" cy="298.9" r="1.3"/><circle cx="770.2" cy="297" r="1.3"/><circle cx="791.5" cy="306.4" r="1.6"/><circle cx="792.7" cy="323.3" r="1.6"/><circle cx="827.8" cy="310.1" r="1.3"/><circle cx="831.5" cy="312.6" r="1.3"/><circle cx="835.3" cy="315.1" r="1.3"/><circle cx="806.5" cy="320.2" r="1.3"/><circle cx="830.3" cy="327" r="1.3"/><circle cx="792.7" cy="345.2" r="1.3"/><circle cx="817.8" cy="353.3" r="1.3"/><circle cx="810.3" cy="372.1" r="1.3"/><circle cx="790.2" cy="378.3" r="1.3"/><circle cx="673.2" cy="321.4" r="1.5"/><circle cx="654.4" cy="325.8" r="1.5"/><circle cx="768.8" cy="84.4" r="1.5"/><circle cx="777" cy="85.9" r="1.5"/><circle cx="785.7" cy="83.5" r="1.5"/><circle cx="807.6" cy="143.2" r="2"/><circle cx="822.7" cy="149.5" r="2"/><circle cx="748.8" cy="202.7" r="1.3"/><circle cx="749.4" cy="210.2" r="1.3"/><circle cx="753.2" cy="218.9" r="1.5"/><circle cx="752" cy="224" r="1.3"/><circle cx="807.6" cy="240.2" r="1.3"/><circle cx="730.1" cy="222.7" r="1.3"/><circle cx="718.8" cy="218.9" r="1.3"/><circle cx="723.8" cy="220.8" r="1.3"/><circle cx="404.3" cy="203.2" r="1.8"/><circle cx="401.1" cy="216.3" r="1.6"/><circle cx="404.9" cy="215" r="1.5"/><circle cx="408.7" cy="214.4" r="1.5"/><circle cx="411.8" cy="213.5" r="1.6"/><circle cx="389.3" cy="248.8" r="1.3"/><circle cx="391.5" cy="251.6" r="1.3"/><circle cx="409.3" cy="314.5" r="1.5"/><circle cx="428.7" cy="336.4" r="1.6"/><circle cx="456.8" cy="287.6" r="1.5"/><circle cx="455" cy="292" r="1.5"/><circle cx="453.1" cy="297" r="1.6"/><circle cx="536.9" cy="323.9" r="1.5"/><circle cx="540.1" cy="326.7" r="1.5"/><circle cx="543.2" cy="318.3" r="1.8"/><circle cx="563.2" cy="305.2" r="1.7"/><circle cx="565.1" cy="312" r="1.3"/><circle cx="565.7" cy="321.4" r="1.5"/><circle cx="563.2" cy="350.2" r="1.7"/><circle cx="567.6" cy="347.7" r="1.5"/><circle cx="580.7" cy="346.5" r="1.5"/><circle cx="600.1" cy="261.4" r="1.8"/><circle cx="598.3" cy="306.4" r="1.3"/><circle cx="600.8" cy="312.7" r="1.5"/><circle cx="535.7" cy="325.2" r="1.3"/><circle cx="535.1" cy="322.7" r="1.3"/><circle cx="372.1" cy="185.6" r="1.5"/><circle cx="379.6" cy="188.1" r="1.5"/><circle cx="385.2" cy="191.3" r="1.6"/><circle cx="298.2" cy="205" r="1.6"/><circle cx="387.1" cy="248.2" r="1.6"/><circle cx="390.2" cy="250.7" r="1.5"/><circle cx="387.7" cy="252.6" r="1.3"/><circle cx="369.6" cy="303.3" r="1.5"/><circle cx="409.6" cy="314.5" r="1.5"/><circle cx="428.4" cy="336.4" r="1.5"/><circle cx="374.6" cy="348.3" r="1.6"/><circle cx="310.1" cy="257" r="1.6"/><circle cx="255.7" cy="245.1" r="1.5"/><circle cx="208.8" cy="364.6" r="1.5"/><circle cx="265.1" cy="364" r="1.5"/><circle cx="413.8" cy="393.8" r="1.3"/><circle cx="418.8" cy="402.5" r="1.3"/><circle cx="448.8" cy="440.6" r="1.3"/><circle cx="523.9" cy="420.1" r="1.5"/><circle cx="552.7" cy="418.3" r="1.3"/><circle cx="556.4" cy="419.1" r="1.3"/><circle cx="594" cy="426.3" r="2.6"/><circle cx="602.7" cy="437.1" r="1.6"/><circle cx="611.5" cy="397" r="1.6"/><circle cx="790.4" cy="378.8" r="1.3"/><circle cx="810.4" cy="372" r="1.3"/><circle cx="834.2" cy="422.6" r="1.3"/><circle cx="834.2" cy="427.6" r="1.3"/><circle cx="806.7" cy="430.6" r="1.6"/><circle cx="812.9" cy="435.6" r="1.4"/><circle cx="790.4" cy="441.3" r="1.3"/><circle cx="422.9" cy="100.1" r="2"/><circle cx="426.1" cy="124.5" r="2"/><circle cx="438.6" cy="128.8" r="2"/><circle cx="483" cy="90.7" r="1.8"/><circle cx="298.4" cy="205.2" r="1.7"/><circle cx="404.8" cy="203.3" r="2"/><circle cx="372.2" cy="185.2" r="1.6"/><circle cx="379.8" cy="187.7" r="1.8"/><circle cx="385.4" cy="191.4" r="2"/><circle cx="264.9" cy="364.4" r="2"/><circle cx="263.5" cy="384.5" r="1.6"/><circle cx="267.5" cy="384.1" r="1.6"/><circle cx="375.2" cy="348.8" r="1.8"/><circle cx="320.3" cy="459.3" r="2"/><circle cx="341.7" cy="457.8" r="2"/><circle cx="61" cy="128.8" r="2.0"/><circle cx="66.2" cy="138.6" r="2.3"/><circle cx="98.4" cy="140.8" r="2.2"/><circle cx="58.5" cy="126.5" r="1.2"/></g>
</g>
<g id="panelB">
<g stroke="#606060" stroke-width="3.0" stroke-linejoin="round">
<path d="M131.2,629.4l8.8,1.6 5.5-1.6 12.1-1.1 8.8,1.6 11,0 11,2.2 11,2.2 11-1.4 11,1.4 7.7-1.1 2.2-9.2 5.5,1.6 4.4,4.1 6.6,2.4 5.5-2.7 7.7,0 1.1,4.3-5.5,3.8-6.6,2.7-4.4,4.4-4.4,1-4.4,4.4-3.3,5.4-0.4,3.2 4.8,4.9 5.5,0 4.4,1.4 6.6,3.2 6,0.5 0.4,5.7 3.5,4.4 3.3-0.3 0-6.8 4.4-4-1.1-5.5-2.2-3.2 2.2-3.5-1.1-6.2 8.8,0 8.8,3.5 0,5.4 4.4,1.9 5.5-3.3 2.2-2.1 5.5,6.2 4.4,6.8 5.5,2.7 3.8,5.9-6,2.7-3.3,3-8.8,0-5.9,0.3-6.2,5.7-3.3,2.9 2.2-1 6.6-4.6 6,0.5-1.6,2.7 0.5,3.5 2.2,1.4 5,0.8 3.3-1.6-2.2,2.7-5.5,1.9-5.5,2.9-0.4-2.7 3.7-2.1-5.5,0.5-1.7-5.1-3.1-1.1-2.4,4-2.7,2.5-7,0-3.5,2.2-6,1.8 0,1.7-7.7,2.7-1.3-1.1 1.5-1.9-0.2-6.2-2.2-1.9-2.2-1.4-7.7-4.6-3.3,0.6-3.3-0.6-4.4-1.1-4.8-1-61.6,0-2.9-2.7-6.6-2.8-1.1-4-4.4-4.9-0.4-1.9 0.4-2.7-4.4-2.7-3.3-4.6-3.3-2.2-5.5,1.4-3.3-2.7-4.4-0.8z" fill="#ABD9E9"/>
<path d="M131.2,629.4l0,25.2 4.4,0.8 3.3,2.7 5.5-1.4 3.3,2.2 3.3,4.6 4.4,2.7-0.4,2.7-2.9,0-4.4-4-4.4-4.1-3.3-1.1-6.6-3.5-8.8-0.8-5.5-2.7-4.4,1.3-3.3,3.3-3.9,0.2 1.7-4.3 2.2-1.1-5.5,1.9-2.2,3.3-2.2,2.1-4.4,3.3-4.4,3.5-5.5,2.2-4.4,1.3-3.9,0.6 3.9-2.2 5.5-1.9 5.5-4.1 1.6-3.2-3.8,0.3-6.1-0.3-0.5-3-5.5-0.5-3.3-4.1 3.3-4 7.7-1.4 0-2.7-7.7,0-4.4-2.2-3.3-0.8 8.8-2.4 4.9,0.8-3.8-2.2-6.6-3.5 7.7-1.9 6.6-4 7.5-2.2 10.1,1.3 8.8,1.4 8.8,0.8z" fill="#ABD9E9" stroke-width="3.5"/>
<path d="M170.4,685.2l61.6,0 4.8,1 4.4,1.1 3.3,0.6 3.3-0.6 7.7,4.6 2.2,1.4 2.2,1.9 0.2,6.2-1.5,1.9 1.3,1.1 7.7-2.7 0-1.7 6-1.8 3.5-2.2 7,0 2.7-2.5 2.4-4 3.1,1.1 1.7,5.1 0,0.8-3.9,1.1-3.1,1.9-1.3,2.7 1.7,2.7-4.4,1.4-4.4,1.6-2.2,4.9-1.3,2.7-0.9,2.1 1.1,4.6-2.2,1.7-3.1,1.9-2.4,1.3-4.4,4.1-0.9,4 1.8,5.5 1.3,4.6-0.9,4.3-1.7,0-1.3-2.2-2-4.9-0.7-3.2-2.6-2.7-2.9,0.5-5.5-1.3-3.3,0.2 0.7,3-1.8,0.3-3.3-1.1-5-0.8-2,0.8-2.9,2.2-3.1,3 0.5,4.3-4.2-1.4-0.9-2.9-4.2-6.3-2.4,0-1.5,2.2-2.9-1.6-4.4-6-3.7,0 0,1.4-6.2,0-8.1-3.8-5.3,0.5-3.1-4-4.6-1.4-2.9-5.7-1.3-3.2-3.9-7.1-0.5-7 1.1-8.7-1.5-5.9 3.7,0.5z" fill="#ABD9E9"/>
<path d="M183.8,729.8l5.3-0.5 8.1,3.8 6.2,0 0-1.4 3.7,0 4.4,6 2.9,1.6 1.5-2.2 2.4,0 4.2,6.3 0.9,2.9 4.2,1.4-1.1,5.1-0.2,4.6 1.1,3.6 2.4,4.6 0.9,1.3 2.8,1.6 4.4-1.1 2.2,0.3 2.2-3.5 0.5-3.2 5-1.7 2.7,1.1-1.6,4.6-1.7,2.7-2,1.6-4,0.3-0.9,1.6 2,3-2.6,0.3-0.7,2.2-0.4,1.8-2.9-2.7-2.6-1.9-2.9,1.4-4.4-1.4-4.4-2.1-4.4-2.7-5-3-2.7-3.5-0.2-3-1.8-4.6-3.5-4.9-3.1-3.5-2.4-4.1-3.7-4.6-1.8-4.6-3.9-1.6 0.2,0.6 1.5,4.3 2.7,5.4 3.3,5.4 2.2,4.6 1.7,3-1.1,0.8-3.3-3.8-1.5-1.9-2.9-4.6-3.3-2.7 1.8-0.8-1.8-2.7-2.2-3.8z" fill="#FFFFCC"/>
<path d="M280.8,606.1l11-4.3 13.2-4.6 26.4-2.7 37.4-3 24.2,3.8 22,1.9-13.2,4 2.2,5.5-6.6,5.4 2.2,4-6.6,4.1 0,6.8-6.6,4-11,2.2-13.2,6.5-8.8,2.1-6.6,13-2.2,1.1-8.8-3.2-6.6-6.8-5.5-8.1 1.1-5.4 4.4-2.7-7.7-2.7-1.1-5.5-6.6-8.1-8.8-1.9-13.2,0.6-6.6-3.3z" fill="#ABD9E9"/>
<path d="M412.4,742.8l3.7-2.4 3.7-3.3 0-4.3 1.4-3 5.2-4 2-4.9 1.3-0.3 6.9,2.2 0.8,1.6 1.4,6.2-5.3,1.4 0,1.9-3.1,1.3-4.4,2.7-3.7,2.2 0,2.7z" fill="#FFFFCC"/>
<path d="M412.4,742.8l9.9,0 0,1.1 0,3.5-7.3,0 0,7.1-2.2,1 0,4.6-8.9,1.4 2.3-7.9 3.1-6.2z" fill="#FFFFFF"/>
<path d="M436.6,722.8l4.8-2.2 6.6-2.7 6.6-0.3 5.7,0.3-0.6,4.6-1.8,3.5 3.3,5.2 1.1,4.6 0.9,4.9-1.1,6.2 1.3,4.6 4.4,2.7-13.6,10.8-3.6,1.1-1.9,0.3-0.3-2.2-4.4-2.7-13.2-11.4-8.5-6.2 0-1.1 0-2.7 3.7-2.2 4.4-2.7 3.1-1.3 0-1.9 5.3-1.4-1.4-6.2z" fill="#ABD9E9"/>
<path d="M460.3,717.9l3.5-1.1 1.8,0.8-0.9,3.3 0.9,3.5-2.2,1.9 3.3,1.6 0,1.9-2.6,1.9 0,2.7-1.8,1.4-1.1-4.6-3.3-5.2 1.8-3.5z" fill="#ABD9E9"/>
<path d="M466.7,727.9l3.3,0.8 4.8,1.7 1.4,2.4 4.8,2.4 4,0 0.4-4 3.3-2.5 3.7,1.4 4,1.9 0,26.2 0,5.5-2.2,0 0,1.3-17.6-10.5-2.2,1-1.8,1.1-4.8-2.4-4.4-2.7-1.3-4.6 1.1-6.2-0.9-4.9 1.8-1.4 0-2.7 2.6-1.9z" fill="#ABD9E9"/>
<path d="M496.4,732l4.4,1.1 4.4,1.1 4.4-1.7 2.9,0.6 4.1,0 1.6,4.8-1.6,4.9-1.5-1.3-2-4.6 2.2,6.5 2,5.4 2.2,4 0.4,2.7 2.7,2.7-26.2,0z" fill="#FFFFCC"/>
<path d="M522.6,758.2l0.6,2.8 0.3,5.4 2.6,2.7-3.3,2.7-1.1,4.9-0.2,1.8-0.7,4.9-2,2.5-1.9,2.9-0.7,3.3 0.2,2.7-2.4,1.6 1.8,1.9 1.9,1.4 2.7,3.8 0,1.8-4.2,1.1-0.2,1.1-6.6,0.8-3.1-2.4-2.4,0.3-2.2-2.2-2.2-4.1-2.7-2.4-2.6-3.3-1.1-0.8 0-2.7-1.5-2.7-0.7-4.6-1.1-3 1.1-1 0.9-4.1 2.4,0 0-10.3 0-1.3 2.2,0 0-5.5z" fill="#FFFFCC"/>
<path d="M405.1,774.2l1.1-5.1-1.1-4.1-1.2-3.5 8.9-1.4 0-4.6 2.2-1 0-7.1 7.3,0 0-3.5 8.5,6.2-3.7,0 2,23 0.6,0.6-0.4,2.1-8.4,0-4.8-0.2-1.5,2.1-2.2-1.9-2.9-2.9z" fill="#FED976"/>
<path d="M414.6,777.7l1.5-2.1 4.8,0.2 8.4,0 0.4-2.1-0.6-0.6-2-23 3.7,0 13.2,11.4 4.4,2.7 0.3,2.2 1.9-0.3 0,6.2-1.5,3.5-4.4,0.6-2.9,0.8-1.9,0-4.7,2.7-3.3,2.2-1.9,3.8-0.7,3.7-1.5-0.5-4,1.1-1.8-3.5-2.6-1.4-3.1-1.1-1.3-2.9z" fill="#FD8D3C"/>
<path d="M404.7,784.5l-0.3-2.2 0-1.3-1.5-3 2.2-3.8 4.4-1.3 2.9,2.9 2.2,1.9 0.4,3.6 1.3,2.9-5-0.5z" fill="#FED976"/>
<path d="M404.4,782.3l0-1.3 3.1-0.6 3.1,0.6 0,1.1-3.1-0.3z" fill="#FED976" stroke-width="3.5"/>
<path d="M408.4,788.3l-2.9-2.4-0.8-1.4 6.6-0.8 0,2.4z" fill="#FD8D3C" stroke-width="4"/>
<path d="M412.1,793.4l-2.6-3.5-1.1-1.6 2.9-2.2 0-2.4 5,0.5 3.1,1.1 2.6,1.4 1.8,3.5 0.4,4.6-1.5,2.4-2-1.1-2-1-0.6-1.7-1.3-2.7-2.9,0.6z" fill="#FD8D3C"/>
<path d="M416.1,799.1l-3.3-3-0.7-2.7 1.8-2.1 2.9-0.6 1.3,2.7 0.6,1.7z" fill="#FD8D3C" stroke-width="3.5"/>
<path d="M424.9,805.9l-4-3-4.8-3.8 2.6-4 2,1 2,1.1 0.2,3 2,1.9z" fill="#FD8D3C" stroke-width="3.5"/>
<path d="M434.6,804l-4.2,0-5.5,1.9 0-3.8-2-1.9-0.2-3 1.5-2.4-0.4-4.6 4-1.1 1.5,0.5 2,1.7 3.9,0.5 0.7,3.8-1.5,4.6z" fill="#FD8D3C"/>
<path d="M429.3,789.6l0.7-3.7 1.9-3.8 3.3-2.2 4.7-2.7 1.9,0 1.8,4.3 2.4,1.9 0.7,2.2-2.2,1.3-1.1,1.1-2.2-0.2-6,0.2 0,3.8-3.9-0.5z" fill="#FD8D3C"/>
<path d="M444,801.3l-2.6,1.3-4.4,2.2-2.4-0.8-0.2-3.8 1.5-4.6-0.7-3.8 0-3.8 6-0.2 1.3,4.3 0.2,5.4z" fill="#FED976"/>
<path d="M444.9,801l-0.9,0.3-1.3-3.8-0.2-5.4-1.3-4.3 2.2,0.2 1.5,5.4z" fill="#FD8D3C" stroke-width="3.5"/>
<path d="M447.3,800.5l-2.4,0.5 0-7.6-1.5-5.4 1.1-1.1 2.2-1.3 2.6,0.5 0.5,3.8-2.2,3.5z" fill="#FD8D3C"/>
<path d="M441.8,777.2l2.9-0.8 4.4-0.6 1.5-3.5 0-6.2 3.6-1.1 13.6-10.8 4.8,2.4 1.8-1.1 1.8,7.3-0.7,9.5-4.4,8.7-2.2,1.3-5.5-0.5-4.4,0.3-3.3-0.8-5.5,0-0.9,4.8-2.6-0.5-0.7-2.2-2.4-1.9z" fill="#FD8D3C"/>
<path d="M460.1,805.1l-3.3,0.8-2.2,0.3-2.2-3.6-1.3-1.9-3.8-0.2 0.3-7.1 2.2-3.5-0.5-3.8 0.9-4.8 5.5,0 3.3,0.8 4.4-0.3 5.5,0.5 2.2-1.3 1.3,1.3 1.1,4.4-2.8,4-1.4,3.5-1.9,4.7-2.9,0-2.6,1.6z" fill="#FD8D3C"/>
<path d="M471.1,781l4.4-8.7 0.7-9.5-1.8-7.3 2.2-1 17.6,10.5 0,10.3-2.4,0-0.9,4.1-1.1,1 1.1,3 0.7,4.6-2.5,1.1-5.7,4.3-1.1,2.5-3.5,1.1-3.3,0.5-2.9-6.8 2.9,0-0.9-2.7-0.4-4.3-1.8-1.4z" fill="#E31A1C"/>
<path d="M463,811.6l-0.3-3.8-1.7-2.2-0.9-0.5 1.8-4.6 2.6-1.6 2.9,0 1.9-4.7 1.4-3.5 2.8-4-1.1-4.4 1.8,1.4 0.4,4.3 0.9,2.7-2.9,0 2.9,6.8-2.2,3.8 0.2,3.2 1.3,2.7 2,4.6-6.1,0-4.4,0z" fill="#FD8D3C"/>
<path d="M475.5,797.5l3.3-0.5 3.5-1.1 1.1-2.5 5.7-4.3 2.5-1.1 1.5,2.7 0,2.7 1.1,0.8 2.6,3.3 2.7,2.4 2.2,4.1-4.6-0.3-2,0.3-3.3,0.8-1.1,1.9-4.2-1.1-2.2-1.6-2,2.2 0,2.1-4.4,0-1.1,3.5-2-4.6-1.3-2.7-0.2-3.2z" fill="#E31A1C"/>
<path d="M462.5,815.1l0.5-3.5 3.3,0.2 0,3.3z" fill="#FED976" stroke-width="4"/>
<path d="M465.8,828.4l-3.3-4.1-1.7-4.3 1.3-2.7 0.4-2.2 3.8,0 0-3.3 4.4,0 0,2.5 2.4,0 0,4.9-1.1,2.1 1.3,2.7-4-0.5-1.5,1.1-0.9,1.3z" fill="#FED976"/>
<path d="M467.8,831.3l-2-2.9 1.1-2.5 0.9-1.3 1.5-1.1 4,0.5-1.3-2.7 1.1-2.1 0-4.9-2.4,0 0-2.5 6.1,0 1.1-3.5 4.4,0-1.1,3.3-0.6,4.8-0.5,3-3.1,3.8-0.6,5.2-1.3,1-2,1.7-3.1-0.8z" fill="#FED976"/>
<path d="M468.2,833.5l-0.4-2.2 2.2-1-0.4,3.2z" fill="#FED976"/>
<path d="M470,830.3l3.1,0.8 2-1.7 1.3-1 0.6-5.2 3.1-3.8 0.5-3 0.6-4.8 1.1-3.3 0-2.1 2-2.2 2.2,1.6 4.2,1.1 1.1-1.9 3.3-0.8 2-0.3 4.6,0.3 2.2,2.2 2.4-0.3 3.1,2.4 0.9,3.5-2.9,2.8-0.7,3.2-0.2,3.8-1.3,3.5 0.4,1.6 0.5,3 0.4,5.7 2.4,4.6-3.9,0.8-0.9,1.9 0.2,3.5-0.4,3.5 3.1,1.1 0,3.3-1.8,0-3.3-3-0.7-1.9-2.6,0.8-1.5-1.9-2,0.6-0.9-1.4-4,0.5 0.3-2.1-1.1-2.2 0-5.9-3.1-0.9-2,0-1.1,2.8-2.2,0.2-1.1-0.2-1.3-2.2-0.7-3.5-7,0-2.7-0.3 1.4,0z" fill="#FD8D3C"/>
<path d="M521.5,778.5l2.4,0.9 2.2-0.9 1.5,0 2.2,0.3 4.9,5.2-1.3,2.1 0,1.9 2.4,0.3 2.4,5.1 6.6,2.7 2.2,0-6.6,8.2-3.7,0.5-2.9,1.6-0.2,0.8-2,0-3.3,1.4-3.3-0.5-2.4-2.2-2.2-0.6 0-1.8-2.7-3.8-1.9-1.4-1.8-1.9 2.4-1.6-0.2-2.7 0.7-3.3 1.9-2.9 2-2.5z" fill="#FED976"/>
<path d="M526.1,769.1l1.8,5.9 3.7,3.3 3.1,3.8 1.5,1.3-1.5,0.6-4.9-5.2-2.2-0.3-1.5,0-2.2,0.9-2.4-0.9 0.2-1.8 1.1-4.9z" fill="#FD8D3C"/>
<path d="M536.2,783.4l-0.9,3 1.1,0.3-0.6,1.6-2.4-0.3 0-1.9 1.3-2.1z" fill="#FD8D3C" stroke-width="4"/>
<path d="M536.4,786.7l2.9,2.9 5.5-2.1 4.4-0.3 4.8-1.9-0.2,4.3-1.8,5.2-2.8,6.8-2.2,4-4.4,5.4-4.4,4.1-3.3,4.1-2,3.2-1.3-2.2 0-2.4 0-7.6 2-3 0.2-0.8 2.9-1.6 3.7-0.5 6.6-8.2-2.2,0-6.6-2.7-2.4-5.1z" fill="#E31A1C"/>
<path d="M532.9,822.4l-3.1,2.7-2.2,5.4-3.3-3.5-0.2-1.1-7.9-5.4-0.2-3 2.4-4.3-1.1-4.1-1.1-2.7 4.2-1.1 2.2,0.6 2.4,2.2 3.3,0.5 3.3-1.4 2,0-2,3 0,7.6 0,2.4z" fill="#FED976"/>
<path d="M516.2,806.4l1.1,2.7 1.1,4.1-2.4,4.3 0.2,3-7.7,0-2,1.1 0.2-3.8 0.7-3.2 2.9-2.8-0.9-3.5 6.6-0.8z" fill="#FED976"/>
<path d="M506.5,821.6l2-1.1 0.7,3.8-2,1.1-2-0.3z" fill="#FED976" stroke-width="3.5"/>
<path d="M505.2,825.1l2,0.3 2-1.1 0,2.4-3.1,3-0.5-3z" fill="#FED976" stroke-width="3.5"/>
<path d="M527.6,830.5l-0.8,4.9 1.5,1.3-0.2,4.1 2.2,5.4-5.3,2.2-1.1,1.1-5.5-0.3-0.9-0.3-1.3-5.4-2.4-0.3-4.2-2.1-0.7-1.1-2.4-4.6-0.4-5.7 3.1-3 0-2.4-0.7-3.8 7.7,0 7.9,5.4 0.2,1.1z" fill="#FED976"/>
<path d="M530.3,846.2l0.4,9.5 0.5,2.7-2.9,4.1-5.5,3.5-1.8,3-2.8,2.4-0.2,1.9 1.5,4.1 0,5.4-5.5,3.5-0.4,1.9 0.2,2.4-1.8-0.3-0.4-2.4 0.2-3.8-1.5-5.7 2.4-2.9 1.3-4.1-0.7-3.5 0.7-4.1-0.2-0.8-2.4-1.1-3.1-1.9-0.5-1.6 6.2-2.7 3.3,1.4-0.4,4 1.9,3 1.4-3 0.2-3-2-3.8-1.3-2.7 0.4-2.7 0.9,0.3 5.5,0.3 1.1-1.1z" fill="#FED976"/>
<path d="M513.8,843.2l2.4,0.3 1.3,5.4-0.4,2.7 1.3,2.7 2,3.8-0.2,3-1.4,3-1.9-3 0.4-4-3.3-1.4-0.7-1.1 1.4-3.5 0-4.9z" fill="#FED976"/>
<path d="M508.9,840l0.7,1.1 4.2,2.1 0.9,3 0,4.9-1.4,3.5 0.7,1.1-6.2,2.7 0.5,1.6-3.3,1.1-4.2,5.2-3.7-0.3-4.2-0.6-3.1-3.7 0-8.7 4.4,0 0-5.7 0.9,1.4 2-0.6 1.5,1.9 2.6-0.8 0.7,1.9 3.3,3 1.8,0 0-3.3-3.1-1.1 0.4-3.5-0.2-3.5 0.9-1.9z" fill="#FED976"/>
<path d="M497.1,866l3.7,0.3 4.2-5.2 3.3-1.1 3.1,1.9 2.4,1.1 0.2,0.8-0.7,4.1 0.7,3.5-1.3,4.1-2.4,2.9-4.2-0.5-3.1-1.9-0.7-2.7-3.3-2.7z" fill="#FD8D3C"/>
<path d="M467.4,864.6l0-4 1.5-6.3 2.4-3.2 0.5-3.5-1.4-5.4-0.8-5.5-1.1-2.4-0.3-0.8 2.7,0.3 7,0 0.7,3.5 1.3,2.2 1.1,0.2 2.2-0.2 1.1-2.8 2,0 3.1,0.9 0,5.9 1.1,2.2-0.3,2.1 4-0.5 0,5.7-4.4,0 0,8.7 3.1,3.7-4.4,0.9-6.4-1.4-9.9,0-1.1-1.1z" fill="#FED976"/>
<path d="M477.7,895.2l-2.9-4.9-1.5-7.5 0-4.1-2.4-5.4-3.1-6.8-0.4-1.9 3.7-0.8 1.1,1.1 9.9,0 6.4,1.4 4.4-0.9 4.2,0.6-1.8,0.5-2.6,0-5.1,0.8 0,10.1-2.2,0 0,7.5 0,9.8-2.2,1.3-3.5-0.5z" fill="#FED976"/>
<path d="M485.4,884.9l0-7.5 2.2,0 0-10.1 5.1-0.8 2.6,0 1.8-0.5 1.9,4.6 3.3,2.7 0.7,2.7 3.1,1.9-2.4,1.1-3.1,4.6-2.9,3.5-2.4,0.3-3.3-1.1-2.2,3.5-2.6,0.5z" fill="#FED976"/>
<path d="M513.8,890.6l-1.1,4.3-3.1,4.1-2.2,3.5-3.3,3.5-3.3,2.8-2.9,1-7,0.3-5.5,1.9-3.5-1.6-0.2-4.1-1.1-4.6-2.9-6.5 2,0.3 3.5,0.5 2.2-1.3 0-9.8 1.8,5.4 2.6-0.5 2.2-3.5 3.3,1.1 2.4-0.3 2.9-3.5 3.1-4.6 2.4-1.1 4.2,0.5 1.5,5.7-0.2,3.8-1.8,0-0.6,2.4 1.1,1.4 1.7-1.4z" fill="#FED976"/>
<path d="M511.6,887.9l-1.8,0-0.6,2.4 1.1,1.4 1.7-1.4z" fill="#FED976" stroke-width="3.5"/>
<path d="M500.8,897.9l2.2-2.1 1.5-0.6 1.6,2.2-0.5,1.6-2.2,1.6-1.7-0.8z" fill="#606060" stroke-width="3.5"/>
<path d="M549.9,850.3l2.6,9.5-1.5,4-0.9,2.7-3.5,13.6-1.8,5.4-4,1.3-3.3-2.7-0.8-6.7 2.4-5.5-0.9-6.7 1.1-3.5 4-1.4 3.7-5.1z" fill="#FD8D3C"/>
<path d="M238.6,778.5l0.4-1.8 0.7-2.2 2.6-0.3-2-3 0.9-1.6 4,0 0,5.2 2,0.5-2,1.9-0.5,1.6-1.5,1.6z" fill="#FED976" stroke-width="3.5"/>
<path d="M245.2,769.3l2-1.6 0.4,2.7-1.8,4.4-0.6,0z" fill="#FFFFFF" stroke-width="4"/>
<path d="M245.2,777.2l2-1.9 1.7-0.3 3.3-0.5 3.3,0.5 2.9,2.2-3.5,0.8-2,2.2-2.4,0.5-1.4,2.2-0.8-1.4-1.6-1.6-2-1.1z" fill="#FED976" stroke-width="3.5"/>
<path d="M249.1,782.9l1.4-2.2 2.4-0.5 2-2.2 3.5-0.8-0.7,6.8-0.4,4-4.4-0.2-1.8-1.9-2.6-3z" fill="#ABD9E9" stroke-width="3.5"/>
<path d="M252.9,787.8l4.4,0.2 2.4,3.8-0.7,4.1-1.5-1.1-2.6-3.3-2.2-0.8z" fill="#FFFFFF" stroke-width="4.5"/>
<path d="M259,795.9l0.7-4.1 3.5,2.2 3.1-2.2 4.8,2.4-1.1,3.8-1.3-2.7-2.6-1.3-1.6,1.6 0.5,2.4-2.2-0.5z" fill="#FFFFFF" stroke-width="4.5"/>
<path d="M254.6,758.5l4.2-3 5.5-0.2 7.7,4 6.2,3.8-7.7,0.8-1.8-2.9-7.7-3.8z" fill="#FFFFFF" stroke-width="4.5"/>
<path d="M277.7,768l3.1,0.5 2.7,0.6 0.2-4.6-2.9-0.6 0.5,2.5-1.6,1z" fill="#FFFFFF" stroke-width="4"/>
<path d="M283.5,769.1l3.9-0.8 3.5-0.9-3-2.1-4.2-0.8z" fill="#FFFFFF" stroke-width="4"/>
<path d="M269.2,768l4.4,0.8-2,0.8z" fill="#FFFFFF" stroke-width="4"/>
<path d="M293.6,768l3.3,0.3-1.8,0.9z" fill="#FFFFFF" stroke-width="4"/>
<path d="M271.1,794.2l1.4,1.9 2.6-4 1.3-3.5 1.8-1.4 4.8-2.4 1.6-0.3 0,1.4-2.7,2.1-1.1,4.9 1.3,2.4 0.9,3.6 4.4,0 5.5,2.1-0.6,5.4 1.7,6 0,2.2-6.1-1.4 0.6,3-1.1,2.1 1.3,2.7-1.1,8.2-1.7-1.1-4-3.8-2.4-3-3.7-3.2-2.7-1.1-2.2-0.8-2.8-2.2 0.6-3 2.7-4-0.3-5.4-1.1-3.6z" fill="#ABD9E9"/>
<path d="M284.6,785.9l-0.5,2.7 3.3-1.9 0-1.9 3.8,3.8 5,0.5 3.3,1.1 5.5-1.4 2.2,2.5 0.5,3.5 1.7,0-2.6,2.7 1.5,1.4-1.7,2.7 1.3,2.1 0,1.1-4.6,2.2-3.1-0.6 0.4,4.6-3.3,4.1-2.8-0.5-0.5,0 0-2.2-1.7-6 0.6-5.4-5.5-2.1-4.4,0-0.9-3.6-1.3-2.4 1.1-4.9z" fill="#FFFFCC"/>
<path d="M309.4,794.8l3.3,3.5 2.9,3.3-0.2,2.1-1.6,3.3 1.1,1.9 2.2,3.8-5,1.6-2.5-3.3 0-5.4-1.7-1.9-1.3-2.1 1.7-2.7-1.5-1.4z" fill="#FFFFCC"/>
<path d="M315.6,801.6l7,0.5-1.1,2.7 1.1,3.5-1.1,3.3-3.3,0.8-1.1,0.3-2.2-3.8-1.1-1.9 1.6-3.3z" fill="#FFFFCC"/>
<path d="M322.6,802.1l4.4,3 0.7,1.9-2.2,4.6-4,0 1.1-3.3-1.1-3.5z" fill="#FFFFFF"/>
<path d="M327.7,807l3.7,5.9 0,4.9 3.3,1.4 1.1,1.3 7.7,4.1 6.6,1.1 5.5,1.6 4,3.5 4.1,1.1 1.1,5.4-0.4,4.9-4.4,5.4-3.3,5.4-1.1,6.8-1.1,6.7-2.9,8.1-0.4,2.8-2.2,2.7-5.5,0.5-4,2.2-4.8,5.4-0.2,5.4-3.1,5.4-4.8,6-2.7,4 0.5-2.7-5.3-4.9-4.4-1.8 4-4.9 4.4-3.3-1.8-4.3 0.7-4.3-2.7,0-0.4-4.6-4.9-0.6-0.6-5.1 0.4-1.1 1.1-4.9-1.7-1.9-4.2-2.7-0.7-6.7-3.3-0.9-5.5-2.7-1.7-2.7 0-4.6-2.9,0.3-4.6,3-4.2,0 0-4.1-3.5,1.4-2.2-1.7 0.6-1-2.4-4.4 0.7-1.6 1.5-3.5 0.2-1.1 4.7-2.4 1.9,0 1.1-8.2-1.3-2.7 1.1-2.1-0.6-3 6.1,1.4 0.5,0 2.8,0.5 3.3-4.1-0.4-4.6 3.1,0.6 4.6-2.2 0-1.1 1.7,1.9 0,5.4 2.5,3.3 5-1.6 1.1-0.3 3.3-0.8 4,0z" fill="#FFFFCC"/>
<path d="M268.1,814l2.8,2.2 2.2,0.8 2.7,1.1-0.5,3.8-2.2,2.9-3.3,1.9-1.1,4.1-2.8-0.5-1.1-3.3 0.6-2.4-2.2-0.8 0.5-3.3 1.7-3.2 0-1.7z" fill="#FFFFCC"/>
<path d="M264.8,827l1.1,3.3 2.8,0.5 1.1-4.1 3.3-1.9 2.2-2.9 0.5-3.8 3.7,3.2 2.4,3 4,3.8 1.7,1.1-1.9,0-4.7,2.4-0.2,1.1-1.5,3.5-0.7,1.6 2.4,4.4-0.6,1 2.2,1.7 3.5-1.4 0,4.1 4.2,0-0.7,4 0.7,3.6-1.1,4 0.4,2.5-1.1,3.5-2,2.1-2.2-2.4-4.6-3-5.9-6.2-2.2-5.4-2.9-6.8-3.1-6.8-2.8-2.7-0.2-4z" fill="#FFFFCC"/>
<path d="M290.3,847.6l4.6-3 2.9-0.3 0,4.6 1.7,2.7 5.5,2.7 3.3,0.9 0.7,6.7 4.2,2.7 1.7,1.9-1.1,4.9-0.4,1.1-2-2.5-5.9,0.9-1.8,7-3.1-0.5-2.6,0.2-2.4-0.8-2,2.7-1.6,0-0.6-4-0.7-4.9-1.1-1.4-1.1-4 1.1-3.5-0.4-2.5 1.1-4-0.7-3.6z" fill="#FED976"/>
<path d="M313.4,872.5l0.6,5.1 4.9,0.6 0.4,4.6 2.7,0-0.7,4.3-0.9,3.8-3.1,1.1-4.8-0.6 2.2-4.6-3.1-2.7-4.4-1.9-3.5-4.3 1.8-7 5.9-0.9z" fill="#FFFFCC"/>
<path d="M323.9,909l0.5-2.7-5.3-4.9-4.4-1.8-1.3,6.2-0.5,4 3.1,1.7 4.4,0.8z" fill="#ABD9E9"/>
<path d="M293.6,879.5l2-2.7 2.4,0.8 2.6-0.2 3.1,0.5 3.5,4.3 4.4,1.9 3.1,2.7-2.2,4.6 4.8,0.6 3.1-1.1 0.9-3.8 1.8,4.3-4.4,3.3-4,4.9-1.3,6.2-0.5,4 2.7,3.6-0.2,2.4 1.3,0.8-2,4.1-3.1,1.9-6.6,0.8-0.6,4.3-6,0.5 0,3.8 3.1,1.1-3.1,1.9-1.1,4.6-4.4,2.7 3.8,3.3-0.5,2.1-3.7,4.9-2.9,3 1.3,3.8-3.5-0.8-4.4,0-0.9-3.6-1.7-3.7 2-4.9 1.3-5.4 0-5.4-0.2-5.5 1.3-5.4 0.4-5.4 1.6-5.4 1.1-5.4-1.1-5.4 0.8-4.1 1.6-5.4 1.7-4.9-0.2-4.6zM290.5,960.2l7.5,5.7-2.9,0.8-4.6-0.3z" fill="#FFFFCC"/>
<path d="M286.5,867.3l2-2.1 1.1,4 1.1,1.4 0.7,4.9 0.6,4 1.6,0-2.9,4.6 0.2,4.6-1.7,4.9-1.6,5.4-0.8,4.1 1.1,5.4-1.1,5.4-1.6,5.4-0.4,5.4-1.3,5.4 0.2,5.5 0,5.4-1.3,5.4-2,4.9 1.7,3.7 0.9,3.6 4.4,0 3.5,0.8-5.5,3.5-5.7-3-3.9-6.7-0.5-8.2 3.3-5.4 1.1-8.1-0.4-6.8 1.1-6.7 1.5-4.1 1.8-5.4 0.4-6.8 0.2-5.4 1.4-6.8 0.6-8.1 0.9-6.8zM290.5,960.2l0,6.2-3.1,1.1-4.4-2.2-4.4-4 6.6,2.1 1.8-2.7z" fill="#ABD9E9"/>
<path d="M307.2,958l5.5-1.3 1.6,1.1-3.8,1.6z" fill="#606060" stroke-width="5"/>
<path d="M387.5,640.5l5.5-2.4 8.8,0.5 4.4-0.8 3.3,1.3 2.2,2.7-3.3,1.9-7.7,2.5-8.8-1.1 1.1-2.7-4.4-0.6z" fill="#ABD9E9" stroke-width="4"/>
<path d="M419.4,678.1l1.1-4.6-1.1-2.4 3.3-2.7 2.6-0.3-1.7,2.2 2.4,1.1 1.8,0 0.4,2.9-0.9,2.2-3.5,1.1z" fill="#ABD9E9" stroke-width="4.2"/>
<path d="M428.9,682.5l4.8-1.1 3.3-0.6 7.5-1.6-2-0.8 2.6-3.3-3-0.8-1.1-3.2-3.1-3.3-3.1-1.6 2.2-3.2 0.4-1.1-4.8,0 2-2.7-4.2,0-1.8,2.9 0.7,2.8 0,2.9 1.1,1.7 3.3-0.3 1.1,4-3.3,0.3 0.9,2.7-2.4,1.1 4.4,1.4-2.9,1zM425.3,668.1l2.9,0.3 1.1,1.9-1.5,1.1-1.8,0-2.4-1.1z" fill="#ABD9E9" stroke-width="4.6"/>
<path d="M422,704.4l1.4-0.3 3.5,0.3 0.9,0.8-1.6,1.6-0.2,3.5-1.1,0.3 1.1,3.8-0.9,2.7-3.3,0.5 0.2-3.7-1.5-1.1 1.3-3.8z" fill="#ABD9E9"/>
<path d="M422,704.4l-0.8-3.5 2.6-1.4 4.8,0.3 4.4,0.2 4.4,0.3 5.5,1.6 2.2,0.9 3.3,0.2 0,1.4-2.2,1.3-2.8,1.7-2.7,3.5 1.1,1.9-1.9,3.2-2.9,2.2-5.3,0.3-2.2,1.6-2-1.4-2.4-1.6 0.9-2.7-1.1-3.8 1.1-0.3 0.2-3.5 1.6-1.6-0.9-0.8-3.5-0.3zM446.7,710.6l2.2-0.8-0.5,1.6z" fill="#ABD9E9"/>
<path d="M437.4,700.3l1.4-3.2 0-4.4-2.2-2.7-4.9-1.6-0.9-1.6 4-1.1 3.1,0.5-0.7-2.9 1.8,0.8 2.8-0.3 2.9-1.9 0.2-1.9 2-0.5 1.5,0.8 2.2,1.3 1.4,0.4 2.2,1.8 1.3,0 3.9,1.4-1.3,3.7-1.5,0.9-1.8,2.9 1.6-0.5 0.4,1.3-0.2,4.1 1.3,1.6-2.9,1.9-2.6-0.8-2.2-0.3-2.2,0.9 0.4,2.1-3.3-0.2-2.2-0.9zM460.3,704.4l1.8-3 0.2,4.3z" fill="#ABD9E9"/>
<path d="M446.9,679.5l2-0.8 3.5-0.3 2,1.1-0.5,0.8 0.9,0.3 0.7,1-0.7,0.6-0.6,1.6-2.2-1.8-1.4-0.4-2.2-1.3z" fill="#ABD9E9" stroke-width="4"/>
<path d="M448.9,678.7l1.3-1.7 1.5-2.7 2.9-1.3 2.6,0.5-0.4,2.2-0.7,1.6-1.5,0.3 0.4,1.6-0.6,0.3-2-1.1z" fill="#ABD9E9" stroke-width="4"/>
<path d="M454.2,683.8l0.6-1.6 0.7,1.6z" fill="#ABD9E9" stroke-width="4"/>
<path d="M457.2,673.5l2.9-0.8 0.2-3.5 2.9,0.3 2.4,2.1 3.3-1.1 3.7,1.4 0.9,3.5 0.2,4.3-0.8,0-4.9,1.9 3.8,4.1-2.2,1.6 0.4,1.9-5.5,0-2,0-4.4-0.3 1.3-3.7-3.9-1.4-0.7-1.6 0.7-0.6-0.7-1-0.9-0.3 0.5-0.8 0.6-0.3-0.4-1.6 1.5-0.3 0.7-1.6z" fill="#ABD9E9"/>
<path d="M460.3,669.2l-1.1-1.9 0.2-3.8 2.9-0.5 2.4-1.4-0.4,3.3 1.1,0.2-2,2.5-0.2,1.9zM466,667l3.1-0.8-0.2,1.9-1.5,1.1z" fill="#ABD9E9" stroke-width="6"/>
<path d="M456.8,660.8l-3.3-2.7-1.1-4.1 0-3.5 2.2-1.9 5.5-3 4.4-2.4 3.3-2.7 2.2-4.1 3.1-0.8 2.4-2.7 4.4-2.4 3.3-1.4 5.5-1.3 4.4-1.7 5.1-0.8 4.8,0.3 6.6,1.9-2.2,1.6 1.8-0.2-4,1.8-2.2-2.4-4.4,0.3-0.7,1.9-4.4,1.1-5.9-0.6-1.1-0.1-5.3,1.5-3.5,2.7-3.3,3.5-2.2,4.6-4,2.7 0,5.4 1.4,0.6-2.2,4-1.4,2.2-1.3-0.8-0.2-1.6-3.3,3.5z" fill="#ABD9E9" stroke-width="4"/>
<path d="M466,658.1l1.6,3.5 1.5,4.1 0.7,2.1 3.1-0.2 3.5-1.7 1.3-1.9 0.2-2.7 0.9-2.4 4-2.4 0.2-1.4-3.5-1.6-0.3-3.5 1.8-2.2 4.4-2.4 2.6-2.5 1.8-2.7 4.6-0.5-0.9-1.9 0.5-2.7-2.4-2.5-5.1-1.7-5.3,1.5-3.5,2.7-3.3,3.5-2.2,4.6-4,2.7 0,5.4 1.4,0.6-2.2,4z" fill="#ABD9E9"/>
<path d="M494.4,639.7l2.9,2.1-3.1,2.8-5.5,2.4-0.2,5.7-0.2,1.1 1.9,0.5 1.8,1.6 4.4-1.1 6.2-0.8 3.7-2.7 4.4-3.8-3.3-2.4 0.2-5.1-2.2-3.3 2-2.2-3.3-1.3 0.9-2.5 0.2,0-2.2-2.4-4.4,0.3-0.7,1.9-4.4,1.1-5.9-0.6-1.1-0.1 5.1,1.7 2.4,2.5-0.5,2.7z" fill="#ABD9E9"/>
<path d="M493.1,657.5l2.6-0.8 7.3,0-1.3,5.4-3.1-0.8-2.2-0.5-1.5,0.3 0.4-1.4-2.2-0.8z" fill="#ABD9E9" stroke-width="4"/>
<path d="M494.9,661.1l-0.5,2.1-2.4,0-0.9-1.6-2.6,0.8-0.9,1.6 0.1,1.9 2.1-0.8 5.5,0.3 3.3,1.6 1.3,0 3.5-1.2-0.8-3.1-0.9-0.6-3.1-0.8-2.2-0.5z" fill="#ABD9E9" stroke-width="3.5"/>
<path d="M487.7,665.9l0.3,2.2 3.1,0.8 0.5,1.6 1.5,1.3 1.1,0.1 3.3-0.8 0.7-1.9 1.7-2.2-1.3,0-3.3-1.6-5.5-0.3z" fill="#ABD9E9" stroke-width="3.5"/>
<path d="M484.5,670.4l0.9-1.3 2.6-1 3.1,0.8 0.5,1.6z" fill="#ABD9E9" stroke-width="3.5"/>
<path d="M472.6,671.9l5.1-1.6 4-0.8 1.1,1.2 1.7-0.3 7.1,0.1 1.5,1.3 0.9,3.3-1.6,1.1 0.9,2.2 0.9,2.7-3.1,3.8-3.5-0.8-2.6,0.5-2-0.8-4.2-2.2-2.2-0.8-2.6-0.8-0.3-0.3-0.2-4.3z" fill="#ABD9E9"/>
<path d="M468,681.6l4.9-1.9 0.8,0 0.3,0.3 2.6,0.8 2.2,0.8 4.2,2.2-4.2,1.9-0.2,0.5-4.2-1-2.6,0.5z" fill="#ABD9E9"/>
<path d="M478.6,686.2l0.2,1.7 4,0.5 3.7-1.9 3.5,0.3 1.1-1.9-3.5-0.8-2.6,0.5-2-0.8-4.2,1.9z" fill="#ABD9E9"/>
<path d="M462.5,689.2l2,0 5.5,0-0.4-1.9 2.2-1.6 2.6-0.5 4.2,1 0.2,1.7-2,2.9-0.2,0.6-3.3,0.8-1.8-0.3-3.3-1.3-3.7,0.2-2.2-0.5z" fill="#ABD9E9"/>
<path d="M454.8,692.7l1.8-2.9 1.5-0.9 4.4,0.3-0.2,1.1 2.2,0.5-0.9,1.9-2.4,0.8-1.3-1-3.1,1-0.4-1.3z" fill="#ABD9E9" stroke-width="4"/>
<path d="M457.9,699.2l2.9-1.6 3,1.4 0.7,2.7 3.7,3.2 2.9,1.4 1.8,1.1 2.8,2.1 0.9,2.7-0.7,2.7 1.8-0.8 1.5-1.9-1.5-1.9 1.1-2.1 3.3,1.3-1.1-1.9-4-3.2-2.6-0.3-3.1-4.3-2.6-1.6-0.2-3 3.3-0.8-0.5-1.1 0.2-1.4-3.3-1.3-3.7,0.2-0.9,1.9-2.4,0.8-1.3-1-3.1,1-0.2,4.1zM468.7,714.9l7-0.8-1.1,4.4-5.7-2.5zM459.4,712.2l0-5.1 3.3-0.8-0.2,5.4z" fill="#ABD9E9" stroke-width="3.6"/>
<path d="M471.3,693.3l0.2-1.4 1.8,0.3 3.3-0.8 1.1,0.5-2,0.8-0.6,1.9-3.8,0 0.5-0.2z" fill="#ABD9E9" stroke-width="4.5"/>
<path d="M471.3,694.6l3.8,0 0.6-1.9 2-0.8 2.2,1.6 3.1,0 1.1,1.9-0.9,0.9-2.2-0.6-4.8-0.3 0.2,2.8 3.7,3.2 2,1.4-2.2-1.4-3.3-1.4-1.8-1.8-1.5-3-1.3,1.3z" fill="#ABD9E9" stroke-width="4.5"/>
<path d="M476.2,695.4l4.8,0.3 2.2,0.6 1.3,2.4-0.9,1.3-1.1,0.9-0.4,1.9-2-1.4-3.7-3.2z" fill="#ABD9E9" stroke-width="4.5"/>
<path d="M484.1,695.4l-1.1-1.9 2.8-0.5 2.9,2.4 2.2,1.4 0.4,1.4 0.7,2.7-1.3,1 0,1.4-1.8,0.3-2.2,0.5-1.1-1.6-0.2-0.3-1.8-2.2 0.9-1.3-1.3-2.4z" fill="#ABD9E9" stroke-width="4"/>
<path d="M482.1,702.8l0.4-1.9 1.1-0.9 1.8,2.2-1.3,2.2z" fill="#ABD9E9" stroke-width="4.5"/>
<path d="M484.1,704.4l1.3-2.2 0.2,0.3 1.1,1.6-0.2,1.9 1.1,1.4-0.7,1.8-1.5,1.1-1.3-1.6 0.2-2.7z" fill="#ABD9E9" stroke-width="4.5"/>
<path d="M486.5,706l0.2-1.9 2.2-0.5 1.8-0.3 1.3,2.7-2.2,0.5-2.2,0.9z" fill="#ABD9E9" stroke-width="4.5"/>
<path d="M485.4,710.3l1.5-1.1 0.7-1.8 2.2-0.9 2.2-0.5 3.3-0.5 3.3,0.5 1.3-0.8-0.6,1.9-5.1,0-0.4,2.4-2-1.3 0,3.2 2.4,3 0,1.3-2.2-0.5 0.4,3.8-1.7,0-1.6-0.8-0.8-2.5-0.5-1.6-0.9-1.3zM493.1,721.7l6.2,0.8-4,0.6z" fill="#ABD9E9" stroke-width="5"/>
<path d="M491.3,698.2l2.9,1.3 4.4-0.5 2.2-0.6 3.5,1.1-1.5,2.4 0.2,2.2-3.7,0.8 0.6,0.3-1.3,0.8-3.3-0.5-3.3,0.5-1.3-2.7 0-1.4 1.3-1z" fill="#ABD9E9"/>
<path d="M485.8,693l2.2-0.8 2-4.1 1.8-0.2 3.5,0.2 4.6-1 3.3,3.7 0.2,3.8 3.3,0.6-2.4,4.3-3.5-1.1-2.2,0.6-4.4,0.5-2.9-1.3-0.4-1.4-2.2-1.4z" fill="#FFFFCC"/>
<path d="M476.8,690.8l2-2.9 4,0.5 3.7-1.9 3.5,0.3 1.8,1.1-1.8,0.2-2,4.1-2.2,0.8-2.8,0.5-3.1,0-2.2-1.6-1.1-0.5z" fill="#ABD9E9"/>
<path d="M499.9,687.1l3.1,0 2.6,1 1.8,3.8-4,2.7-0.2-3.8z" fill="#ABD9E9" stroke-width="3.5"/>
<path d="M491.1,684.9l3.1-3.8-0.9-2.7 3.1-1.1 5.5,1.1 6.6,0.5 2.9-2.1 4.4-0.8 3.7,5.1 5.5,1.6 4.4,0.8-0.7,4.6-3.3,2.2-7,2.4 1.1,2.5 2.2-0.3-3.3,1.6-3.3,0.8-2.2-2.4 2.4-1.9-3.9-0.5-2.5-0.6-2.2,3.3-3.3-0.6 4-2.7-1.8-3.8-2.6-1-3.1,0-4.6,1-3.5-0.2-1.8-1.1z" fill="#ABD9E9"/>
<path d="M493.3,678.4l-0.9-2.2 1.6-1.1-0.9-3.3 1.1,0.1 3.3-0.8 0.7-1.9 1.7-2.2 3.5-1.2 6,1.5-0.2,2.2 1.1,1.6 3,2.1-2.8,0.9 0.9,2.7-2.9,2.1-6.6-0.5-5.5-1.1z" fill="#ABD9E9"/>
<path d="M512.5,723.1l1.5-1.1 3.5-0.8-1.3,1.9-2.2,1z" fill="#ABD9E9" stroke-width="4"/>
<path d="M509.2,628.9l4.8,1 6.6,0.6 11.4,6.5-7,1.9-7.7-1.4-4.4-1.3 5.1,7 4.8,1.6 2.2-1.9 5.5,0-1.1-3.8 4.4-1.3 4.4,1.3 0-6.7 5.5,1.9 3.3,0.2 11-1.6 4.4-0.8 4.4,0 6.6-1.1 1.1-2.1 8.8,1.3 4.4,2.4 3.3,0.3-2.2-3.2-0.5-3.6 3.8-5.9 3.3-1.1 5.5,1.9 0.6,4.6 1.6-1.4 3.3-2.7 6.6,0.9 5.5-3.6 13.2-0.8 1.1-1.9 17.6-4.3 11-1.1 9.4-3.2 6,2.4 11,0.8 3.3,2.7-7.7,3.3 6.6,1.3 13.2,1.9 11-1.6 8.8,1.1 3.3,6.2 3.3,0.5 4.4-1.9 11,0 4.4-2.7 13.2,0.6 8.8,1.9 4.4,1.9 15.4,3 4.4,0.8 8.8-0.3 6.6-0.8 5.5,2.4 0-3 12.1,0.9 8.8,2.4 0,10.5-5.5,0.9 3.9,5.9-11.6,1.9-7.7,4.9-9.9-0.8-5.5,1.1-1.1,5.1-1.1,4.9-1.6,3.2-3.9,4.9-3.8,3.8-3.5,2.1-2.4-5.4-0.2-5.4 1.1-5.4 4.4-4.1 7.7-5.4 4.4-2.7 2.2-2.7-9.9,2.2-7.7,0.5-4.4,5.4-7.7,0.6-6.6-0.3-11,0.3-5.5,3.5-6.6,8.1-4.9,0.8 4.9,1.9 5.9,0.3 2.7,1.6-2,6.2 0,6.8-4.4,5.4-5.5,5.7-6.2,4.3-2.8-0.8-2.7,2.2-0.2-1.1 1.3-2.2-0.4-3.7 4.4-0.6 3.3-7 0.6-1.9-8.3,1.9-0.7-3.3-7-2.4-3.3-7.9-5.5-2.1-5.7,0.5-2,1.6-1.6,6.5-3.3,1.9-2.4-0.5-3.7-1.1-6.6,2.2-7.7,0.2-7.7-2.9-6-0.6-0.6-2.1-6.8-1.9-2.5,2.9 1.1,1.4-7.2,1.4-6.6-1.9-9.3,4-1.1,0.3-4.6-1.4-4.8-3.8-6.6,0.6-4.6-6.8-3.1-2.4-6.8,1.9 0.8-1.6-6.1-0.3 0-3-4.4-0.3-8.4,2.7-8.1,1.4-1.1,2.4-2.2,3.3 3.3,1.3-0.2,1.4-6.2-0.6-6.4,1.1-7.5-3-3.3,0-4.6,3-0.6,2.2-3.5,2.4 1.3,3 3.5,3.8-3.3,2.2-1.1,2.9 1.3,4.1 2,3-4,0.2-0.6-0.2-5.3-1.9-1.1-0.6-7.7-1.6-4-2.7-0.8-0.8-2.7-1.4 2-2.1 1.5-2.2 2.5-0.8-2.5,0 3.3-2.2 0.7-4.6-4.4-0.8-5.5-1.6-3.7-5.1-4.4,0.8-0.9-2.7 2.8-0.9-3-2.1-1.1-1.6 0.2-2.2-6-1.5-0.8-3.1-0.9-0.6 1.3-5.4 4.4-1-3.3-1.7-1.5,0 3.7-2.7 4.4-3.8-3.3-2.4 0.2-5.1-2.2-3.3 2-2.2-3.3-1.3 0.9-2.5 0.2,0zM45.4,631.3l11,3.8 7.7,1.6 4,2.2-6.2,4.6-6.6-1.1-5.5-1.9-4.4,1.3zM753.8,670.8l2.8,4.9-0.2,8.1 3.3,1.6-3.7,5.7-1.1,2.2-1.1-4.4 0-7.8-0.7-5.4z" fill="#ABD9E9"/>
<path d="M465.6,604.2l6.6-2.4 13.2-1.1 15.4,0.3-11,4.3-8.8,4.9-8.8-2.5z" fill="#606060" stroke-width="5"/>
<path d="M499.3,707.1l0.6-1.9-0.6-0.3 3.7-0.8 2.4,2.2 5.3,0 4.4-2.2 3.3-0.3 3.3,2.2 4.4,1.1 6.6-1.6 4.4,1 0.4,2.7 2.5,1.1-1.4,0.8 0.7,3.8 0.7,2.2-5.3,0.3-0.2-0.3-5.1,1.1-4.4,0-2.9,0-1.1,2.4-0.4-2.4-3.1,0-2.2,1.9-3.5-1.1-3.1-0.8-2,1.9-3.7-1.6-1.5-0.9-0.3-3.7-2.2,0.2 1.4-2.7-1.6-0.5 0.2-1.7 2.9-0.8 3.3-0.2 0.2-1.4-3.5,0.3z" fill="#ABD9E9"/>
<path d="M529.4,700.3l3.3,5.2 4.4,1 3.3-0.5 3.1-1.6-5.3-1.9-1.1-0.6z" fill="#FFFFCC" stroke-width="3.5"/>
<path d="M537.1,706.5l3.3-0.5 1.1,1.9 2.2,3 0,1.6-1.1-1.1-2.6-1.1-2.5-1.1z" fill="#ABD9E9" stroke-width="3.5"/>
<path d="M540.4,706l3.1-1.6 0.6,0.2 4-0.2 2.2,3.5 1.7,0.5-2.1,3-0.9,2.5-2-1.1 0-2.2-3.3,1.9 0-1.6-2.2-3z" fill="#FED976" stroke-width="3.5"/>
<path d="M521,720.6l1.1-2.4 2.9,0 4.4,0 5.1-1.1-2.9,7.6-4.8,2.7-4.4,3-2.5-1.1 0.3-1.6 1.7-2.5-0.6-1.1-0.9-0.1 0-2.3z" fill="#FFFFCC"/>
<path d="M518.6,728.2l1.8-4.2 0.9,0.1 0.6,1.1-1.7,2.5z" fill="#ABD9E9" stroke-width="4"/>
<path d="M516.6,733.1l1.6,4.8 1.1-4.6 0.2-0.8 0-2.4 0.4-0.8 0.3-1.6-1.6,0.5-0.9,3z" fill="#ABD9E9" stroke-width="4"/>
<path d="M518.2,737.9l2.4,0.9 3.3-2.2-1.1-4.1 4.4-1.3 0.4-0.6-0.8-3.2-4.4,3-2.5-1.1-0.4,0.8 0,2.4-0.2,0.8z" fill="#ABD9E9"/>
<path d="M534.5,717.1l0.2,0.3 5.3-0.3 1.5,3.2 1.5,2.2-1.7,3.3 1.7,2.1 3.6,3.8-0.3,2.2 2,3-1.3-0.3-0.7-0.3-2.6,2.7-4-0.2-5.9-5.2-3.5-2.2-2.7-0.8-0.8-3.2 4.8-2.7z" fill="#ABD9E9"/>
<path d="M543.7,739l2.6-2.7 0.7,0.3 0.9,4.1-2,0z" fill="#ABD9E9" stroke-width="4"/>
<path d="M518.2,737.9l2.4,0.9 3.3-2.2-1.1-4.1 4.4-1.3 0.4-0.6 2.7,0.8 3.5,2.2 5.9,5.2 4,0.2 2.2,1.7 2,0 1.3,2.7 2.6,2.1-0.2,3.3 1.5,2.1 0.9,0.3 0.9,1.1 2.2,3.5 5.7,0.6 0.9,1.8-1.3,5.5-6.6,2.7-6.6,1-4.4,4.4-1.3-0.6-2.7-0.5-3.9-0.3-0.5,2.2-0.8,0.8-0.7-1.6-3.3-5.4-4-6.8-1.5-5.4-2.9-4.1-2.6-5.4-2.2-3-0.9,0z" fill="#ABD9E9"/>
<path d="M535.6,773.4l0.8-0.8 0.5-2.2 3.9,0.3 2.7,0.5 1.3,0.6 4.4-4.4 6.6-1 2.4,6.5-2,2.7-7,4.3-8.8,3.3-3.3,0.2-0.7-1.6-0.8-4.6z" fill="#FED976"/>
<path d="M558.2,772.9l-2.4-6.5 6.6-2.7 1.3-5.5-0.9-1.8 1.8-3.8 0.9-2.2 1.3,2.4 3.5,1.1 2.6,3-2.8,5.7-1.6,3.8-3.3,2.9-2.8,2.5z" fill="#ABD9E9"/>
<path d="M554.9,752.3l2.2,3.5 5.7,0.6 1.8-3.8 0.9-2.2-0.7-3-1.8,1.9-2.2,2.4-3.7,0.6z" fill="#ABD9E9" stroke-width="3.5"/>
<path d="M553.1,750.9l0-2.4 0.9-1.4 0.9,2.2 0,1.9-0.9,0z" fill="#ABD9E9" stroke-width="4"/>
<path d="M538.6,711.1l1.4-0.8 2.6,1.1 1.1,1.1 3.3-1.9 0,2.2 2,1.1 1.3,2.4 2.2,1.3 3.3,1.1 4.4-0.8-0.2-1.1 3.5-1.9 3.7-0.5 4.6,1.9 4.2,2.4 0,2.7-1.5,5.2 0.9,5.9 1.9,0.3-1.9,4.3 1.7,3 2.4,1.4 1.1,2.9-0.2,1.1-3.1,1.4-0.4,2.7-5.7-0.6-3.8-0.8-1.1-3.8-5,1.4-3.3-1.1-3.3-2.2-1.6-3.2-1.7-3.3-2.2-0.5-0.9,1.4-2-3 0.3-2.2-3.6-3.8-1.7-2.1 1.7-3.3-1.5-2.2-1.5-3.2-0.7-2.2z" fill="#ABD9E9"/>
<path d="M560,716.8l-0.9-5.9-1.3-1.4-0.3-3.2-0.6-1.7 2.2-1 2.6,0.5 1.8,1.9 1.1,0 2.2,0 0.2-2.7 3.1-1.1 3.3,1.4 2.8,2.7 2.5,3.2 4.4,3 4.6,2.4 0,1.7-3.8,0.8-0.6,2.1-3.8,2.5-3.5-0.6 0-2.7-4.2-2.4-4.6-1.9-3.7,0.5z" fill="#FED976"/>
<path d="M564.6,706l0-10 5.7-1.6 5.3,3.2 2.2,2.4 6.4-0.5 2.6,1.9-0.2,2.7 4.4,2.7 4.8-2.7 1.8-0.8 0.4,0.3 4,3.8-2.9,1.6-2.6-0.3-2.7-1.3-1.3,3.5-2.8,0.5 0.8,5.7-2.8-0.5 0-1.7-4.6-2.4-4.4-3-2.5-3.2-2.8-2.7-3.3-1.4-3.1,1.1-0.2,2.7z" fill="#FED976"/>
<path d="M633.4,684.9l-3.3,1.9-0.6,3.5-5.5-0.3-1.6,4.6 0.7,0.8-5.7,0.6 0.4,7.8-2.6-1.9-7.3-0.2-3.7-0.8-1.1,2.1-5.1-0.8-0.4,1.1-1.8,0.8-4.8,2.7-4.4-2.7 0.2-2.7-2.6-1.9-6.4,0.5-2.2-2.4-5.3-3.2-5.7,1.6 0,10-1.1,0-1.8-1.9-2.6-0.5-2.2,1 0-2.7-3.3-4.6-1.6-0.2 2-1.9 4,0 0-4.4-4-0.5-4.8,1.9-3.5-3.8-1.3-3 3.5-2.4 0.6-2.2 4.6-3 3.3,0 7.5,3 6.4-1.1 6.2,0.6 0.2-1.4-3.3-1.3 2.2-3.3 1.1-2.4 8.1-1.4 8.4-2.7 4.4,0.3 0,3 6.1,0.3-0.8,1.6 6.8-1.9 3.1,2.4 4.6,6.8 6.6-0.6 4.8,3.8z" fill="#FFFFCC"/>
<path d="M597.6,703.3l0.4-1.1 5.1,0.8 1.1-2.1 3.7,0.8 7.3,0.2 2.6,1.9-3.7,1.9-3.8,1.4-2.2,1.3-2.2-0.2-2.2,1.9-0.2,1-3.7,0-2.9-0.5-0.4-1.9 2.6,0.3 2.9-1.6-4-3.8z" fill="#FED976"/>
<path d="M590.5,717.1l-0.8-5.7 2.8-0.5 1.3-3.5 2.7,1.3 0.4,1.9 2.9,0.5 3.7,0 0.2,2.5 2.5,0 0.2,3-0.2,0.5-3.6-0.5-3.5,1.9-0.4-3.6-2.9,0.3-2,2.2z" fill="#FED976"/>
<path d="M574.5,726.6l0.9,5.9 1.9,0.3-1.9,4.3 3.5,1.1 3.7-0.3 4.6-1 0.3-2.7 3.5-2.2 2.8-0.6 0.5-2.9 1.7-0.8-0.6-1.9 2.4-0.3 1.1-3-0.7-2.7 2.7-1.6 4.6-0.6 0.7-0.5-3.6-0.5-3.5,1.9-0.4-3.6-2.9,0.3-2,2.2-3.3-0.3-2.8-0.5-3.8,0.8-0.6,2.1-3.8,2.5-3.5-0.6z" fill="#FED976"/>
<path d="M576.9,749.6l0.4-2.7 3.1-1.4 0.2-1.1-1.1-2.9-2.4-1.4-1.7-3 3.5,1.1 3.7-0.3 4.6-1 0.3-2.7 3.5-2.2 2.8-0.6 0.5-2.9 1.7-0.8-0.6-1.9 2.4-0.3 1.1-3-0.7-2.7 2.7-1.6 4.6-0.6 2.6,0.9 2.2,2.9 2.2,0.3-1.7,1.6-6.6,0.6-0.5,4.3 1.8,1.1 1.5,1.1-1.7,3.2-1.3,3-2.2,3-2.2,2.7-3.3-0.3-2,2.7 1.5,3.3 1.6,3.7-4.7,0.3-1.3,1.6-1.7-1-1.6-1.9-0.4-1.9-4.4,0.8z" fill="#FED976"/>
<path d="M591.4,753.6l1.3-1.6 4.7-0.3-1.6-3.7-1.5-3.3 2-2.7 3.3,0.3 2.2-2.7 2.2-3 1.3-3 1.7-3.2-1.5-1.1-1.8-1.1 0.5-4.3 6.6-0.6 1.7-1.6 2.5,3-0.5,4.9 1.1,0.2-1.1,3.5 5.1,2.7-2,3.8 4,2.5 3,1.3 3.1,0.6 2.4,1.6 5.1,0.5 0-4 1.5-0.6 0.3,2.2 0,1.1 1.9,0.5 4.9-0.5-0.7-2.5 0.9,0.9 3.1-3.3 4.4-1.1 3.9,2.2-0.6,1.6 0.2,1.6-2-0.5-2.2,1.9-1.3,3.8 0.2,1.3-1.1,2.2-1.7-0.3-0.3,3-0.4,1.9-1.1,0.6-0.7-4.7-2.4,0.6 0.5-1.6 1.9-2.2 0.3-0.3-5.3-0.8-0.5-1.9-3-1.3-0.7,1.9 1.8,1.6-1.8,1.9 1.3,0.8-0.2,2.7 0.9,3 0.2,0.8-2,0.3-2.6,0.8-0.2,1.6-1.1,2.2-3.1,1.9-2,2.7-4,4.6-2.2,0.8-2.2,1.6-0.4,5.7 0.4,1.3-1.1,3.8 0.3,3.8-1.4,0-0.8,2.7-1.6,1.1-1.5,2.2-2.2-2.5-0.7-2.7-1.1-3.8-2-4-0.8-4.4-2-4-1.1-5.4-0.5-2.7-0.2-3.3-0.2-3.5-0.2-1.1-0.9,1.9-2.4,1.4-2.2-0.8-2.2-3.6 1.5-0.5 1.3-1.4-2.4,0.3-1.5-1.1z" fill="#FED976"/>
<path d="M617.6,739.8l2-3.8 2.6,0.3 3.8,2.2 2.8,1.9 1.8,1.6 4.6,0.3 0,4-5.1-0.5-2.4-1.6-3.1-0.6-3-1.3z" fill="#FED976"/>
<path d="M637,743.9l1.9-2.4 4,1 0.9,2.5-4.9,0.5-1.9-0.5z" fill="#FED976" stroke-width="3.5"/>
<path d="M637.4,758.8l-0.2-0.8-0.9-3 0.2-2.7-1.3-0.8 1.8-1.9-1.8-1.6 0.7-1.9 3,1.3 0.5,1.9 5.3,0.8-0.3,0.3-1.9,2.2-0.5,1.6 2.4-0.6 0.7,4.7-0.7,3.5-1.1-4.4-2.8,0.8z" fill="#FED976" stroke-width="3.5"/>
<path d="M617.4,791.3l2.6,3.5 1.3,2.7-0.4,3-2.2,1.3-1.5-2.7-0.3-3.8z" fill="#ABD9E9" stroke-width="4"/>
<path d="M644.4,761.8l0.7-3.5 1.1-0.6 0.4-1.9 0.3-3 1.7,0.3 1.1-2.2-0.2-1.3 1.3-3.8 2.2-1.9 2,0.5-0.2-1.6 0.6-1.6 2.2,1.9 0.9,0.3 0,4.3-2.4,4 0.4,1.4 2.5,1.9 1.3,0.8-0.7,2.2 2.2,1.6 2.1-0.3-2.3,3.3-2.4,1.6-2.2,0.3-1.3,3.2 0.8,2.5 1.6,2.9-0.7,3.8 2.2,3.8-0.2,5.4-0.7,3.5-0.4,1.1-0.2-4.8 0.2-3.3-1.8-4.9-0.2-4.6-2-1-3,2.9-2.5-0.5 0.7-4.1-0.9-3.5-1.5-2.7z" fill="#FED976"/>
<path d="M661.6,762.6l0.9,0.5 1.5,1.9 0.2,4.1-0.6,1.3 2.4-1.9 2.4-0.2 1.8,0 1.5,2.1 0.2,3 1.8,2.2-0.2,3.2-1.6,0-3.9,0.3-1.3,1.9 1.1,5.1-1.6-1.6-2.6-1.1-0.2-2.1-2,0.2-0.2,3.8-1.6,4.3 0.2,3.3 1.6,1.9 0.9,3.5 2.4,0.8 1.3,1.9-2.2,1.4-2.2-2.2-1.1-1.9-2.9-2.2 0-2.7 0.7-2.7 0.4-1.1 0.7-3.5 0.2-5.4-2.2-3.8 0.7-3.8-1.6-2.9-0.8-2.5 1.3-3.2 2.2-0.3z" fill="#FFFFCC"/>
<path d="M661.6,762.6l2.3-3.3 1.2-2.4 1.1,0.3 1.6,1.9 2.4,3.5 0.9,2.1 1.7,2.5 2.9,4.6 2.2,5.1 0,1.1-3.3,0.8-1.1,0 0.2-3.2-1.8-2.2-0.2-3-1.5-2.1-1.8,0-2.4,0.2-2.4,1.9 0.6-1.3-0.2-4.1-1.5-1.9z" fill="#FED976"/>
<path d="M666.2,757.2l2.9-0.6 3.9-1.9 3.1,1.4 2.9,3.5-2.9,2.2-2.2,4.6 1.8,3.5 3.9,4.6 2,6.8 0,4.6-4.4,3.7-1.1,2.5-4.2,2.4 0.5-3.8-1.1-1.1 2.2-1.6 1.5,0 2.9-4 0-6 0-1.1-2.2-5.1-2.9-4.6-1.7-2.5-0.9-2.1-2.4-3.5z" fill="#FFFFCC"/>
<path d="M667.8,786.1l-1.1-5.1 1.3-1.9 3.9-0.3 1.6,0 1.1,0 3.3-0.8 0,6-2.9,4-1.5,0-2.2,1.6-2.2-0.5z" fill="#FED976"/>
<path d="M661.6,800.2l2.2,2.2 2.2-1.4 2.9,3.8 0,3.5 1.7,5.7-1.5,0.3-4.6-4.1-1.8-3.8-0.7-3.5zM682.5,812.9l4-1.6 3.5-2.2 2.2-3.8 3.3-1 2.8-5.2 2,1.4 3.3,3.2-2.6,2.5-0.9,0.2-4-0.2-1.7,3.5 0,1.3-2.2,3-4,0-2.6,1.1z" fill="#FED976" stroke-width="4"/>
<path d="M651,802.6l4.9,1.1 1.1,2.7 4.4,3.8 3.3,2.2 3.3,3.5 1.7,3.3 1.6,3.5 3.3,3.2-0.2,7.6-1.6,0.3-2-1.7-4.4-3.5-2.8-4-1.6-4.4-2.8-3.8-0.7-3.2-3.3-4.1zM672.8,836.2l1.8-2.4 5.5,2.1 4.4,0.6 1.1-1.4 3.7,1.4 4,2.1-0.2,2.8-7.5-1.1-5.5-1.4-4.6-1.1zM682.5,812.9l3.1,2.2 2.6-1.1 4,0 2.2-3 0-1.3 1.7-3.5 4,0.2 0.4,4.9 2.7,3.8-3.1,0.5-0.2,3.8-2.7,2.7 0.5,1.9-1.1,3.8-2.9,1.1-2.6-1.9-4,0-3.3-1.3 0-3.3-2.4-2.4-0.2-3zM704.3,832.7l0.4-5.4-1.7-2.5 1.9-6.7 2.2-3.8 4.9,0.8 4.8-1.6-1.5,3.2-7.7-0.3-2,3.8 3.1,0 4.2,0-3.8,2.7 2.4,5.5-0.6,3.5-2-1.1-1.5-5.7-1.1,2.2 0,5.4zM729.6,820l6.6,0 2.2,6.7 5.5-4.6 7.7,2.7 0,17.6-6.6-2.1-0.5-7.9-6.1-2.7-4.4-1.1-0.5-3.2-3.3-4.1zM694.4,840l4.4,0.3 4.4,0 4.4,0.2 4.4-0.5 0,1.6-6.6,0.3-6.6,0.3-3.3-0.6zM713.3,845.7l3.1-3-1.8,0.5zM721.9,820l1.1-7.1 1.7,4.1-1.7,3.2zM718.6,826.5l4.4-0.8 6.1,1-5,0.8z" fill="#FFFFCC" stroke-width="4"/>
<path d="M716.4,842.7l4.4-2.2-1.1,1.7z" fill="#FFFFFF" stroke-width="4"/>
<path d="M692.2,805.3l2.6-1-0.4,2.1z" fill="#FED976" stroke-width="4"/>
<path d="M751.6,824.8l7.7,3.3 3.3,4.6 3.9,2.2-1.3,1.8 2.9,5.5 5,4-3.9-0.5-4.4-2.2-2.2-4-4.4-0.9-2.2,4.1-4.4-0.3zM768.1,833l4.4-0.3 3.7-3.5-1.5,3.5-3.3,2.2zM773.1,824.8l3.8,2.5 1.1,3zM781.5,832.7l2.8,3.5-1.5-1.3z" fill="#FD8D3C" stroke-width="3.6"/>
<path d="M706.5,767.7l3.7,0.3 0,5.1-1.5,4.1 1.1,2.7 4.4,2.7-0.5,0.6-2.8-2.8-3.3,0.3-1.6-3-0.6-3.8zM709.8,798.9l3.3-4.4 4.4-3.2 2.2,6.2-2.2,4.6-3.3-2.7zM714.8,784l2.7,1.3 0,2.7-1.6,2.2-0.6-3zM709.8,785.9l2.6,1.3 0.2,4.9-1.7-0.8-0.2-1.9zM699.4,795.1l4.9-7.9-1.1,3.5z" fill="#FFFFFF" stroke-width="4"/>
<path d="M705.6,755.5l2-5.4 2,0-1.1,5.4-1.4,2.7z" fill="#FFFFFF" stroke-width="4"/>
<path d="M729.4,725.8l2.4-2.5 2.2-1.9 6.6-0.2 1.7-4.1 1.1,1.1 2.7-1.6 2.2-3 1.1-4.1 0.6-3.2 2.5-0.6 1.3,5.2-2.2,3.5-0.2,3.5-0.3,3.3-2.2,1.9-2.2,0.8-3.9,0.2-0.5,0.8-2.2,2.2-1.5-2.2-3.5-0.2-2.9,1.3zM727.4,727.1l3.7-0.3-0.4,5.7-2.9,0.8-0.9-4zM732.9,727.1l4.4-1.9-0.7,2.5-2.6,1.3zM750,705.5l-0.6-3.3 2.8-1.6 0.9-5.7 2.9,3 5,0 0.5,2.7-4.9,3.5-3.9-1.3-1.1,1.8z" fill="#ABD9E9" stroke-width="4.5"/>
<path d="M715.1,709.5l3.5-2.7 2-2.2 2.8,1.1 3.3-2.7 2-0.2 0.2,0.5-2.2,2.4 0,1.7-4.8,2.9-0.2,1.4 2.2,1.6-3.1,1.1-2,1.3-2.4-0.5 0.6-2.2-0.4-2.4z" fill="#FFFFCC" stroke-width="3.5"/>
<path d="M723.9,713.3l2.2,4.1 0,4.3-1.8,1.6-2.4,0.3-2.7,0.8 0.5-3 0-2.9 0.9-1.1-1.8-1.7 2-1.3z" fill="#ABD9E9" stroke-width="3.5"/>
<path d="M634.5,684.6l9.3-4 6.6,1.9 7.2-1.4-1.1-1.4 2.5-2.9 6.8,1.9 0.6,2.1 6,0.6 7.7,2.9 7.7-0.2 6.6-2.2 3.7,1.1-1.5,2.4-1.1,2.7 4.2,0.6 2.4-0.6 2.8,3.3-5.2,0.8-3.1,1.9-5.3,2.4-3.7-0.5-1.1,1.6 1.1,1.9-5.3,3.3-9.9,2.4-8.8-2.7-8.8-0.6-3.3-4-4.4-1.9-5.7-0.8-0.5-4.6-5.9-4.4z" fill="#FFFFCC"/>
<path d="M633.4,684.9l1.1-0.3 0.5,1.6 5.9,4.4 0.5,4.6 5.7,0.8 4.4,1.9 3.3,4 8.8,0.6 8.8,2.7 9.9-2.4 5.3-3.3-1.1-1.9 1.1-1.6 3.7,0.5 5.3-2.4 3.1-1.9 5.2-0.8-2.8-3.3-2.4,0.6-4.2-0.6 1.1-2.7 1.5-2.4 2.4,0.5 3.3-1.9 1.6-6.5 2-1.6 5.7-0.5 5.5,2.1 3.3,7.9 7,2.4 0.7,3.3 8.3-1.9-0.6,1.9-3.3,7-4.4,0.6 0.4,3.7-1.3,2.2 0,0.6-2,0.2-3.3,2.7-2.8-1.1-2,2.2-3.5,2.7-3.1,0.8-4,2.5 1.8-4.6-2.2-1.1-3.3,3-3.3,1.6-0.7,1.9 2.7,2.7 3.9-0.8 4,1.3-3.3,1.9-3.8,4.1 2.2,2.1 1.4,4.4 2.2,2.7 0.2,2.2-2.2,0.8 2.2,1.9-1.1,4.3-3.3,4.6-2.2,3.8-2.9,3.2-2.6,2.7-5.1,1.9-1.5,0.3-3.8,1.6-3,1.1-0.3,2.4-0.8,0-0.5-3.2-3.7,0-2.9-3.5-3.1-1.4-3.9,1.9-2.9,0.6-1.1-0.3-1.2,2.4-2.1,0.3-2.2-1.6 0.7-2.2-1.3-0.8-2.5-1.9-0.4-1.4 2.4-4 0-4.3-0.9-0.3-2.2-1.9-3.9-2.2-4.4,1.1-3.1,3.3-0.9-0.9-0.2,0-4-1-1.9,2.4-0.3-2.2-1.5,0.6-4.6-0.3-1.8-1.6-2.8-1.9-3.8-2.2-2.6-0.3-5.1-2.7 1.1-3.5-1.1-0.2 0.5-4.9-2.5-3-2.2-0.3-2.2-2.9-2.6-0.9 0.7-0.5 0.2-0.5-0.2-3-2.5,0-0.2-2.5 0.2-1 2.2-1.9 2.2,0.2 2.2-1.3 3.8-1.4 3.7-1.9-0.4-7.8 5.7-0.6-0.7-0.8 1.6-4.6 5.5,0.3 0.6-3.5zM680.5,765.8l2.9-2.4 2.2,1.3-2.2,3.3-2.4,0z" fill="#ABD9E9"/>
<path d="M692.6,876.8l5.7-3.2 4.9-1.7 5.5-2.1 1.7-5.4 2.9,0.5 2-3.8 3.3-5.4 3.9,1.4 0.9,1.3 3.1-0.3 2-6.5 4.4-3.2 5.5,2.4 4.2,0-2.2,4.1-0.9,3.2 3.3,2.5 5,4.6 3.3,0 1.6-6.8 0.4-6 1.8-5.6 2.2,5.6 0.6,4.4 3.3,1.6 1.6,6.8 0.6,3.8 4.9,2.9 2.2,6.3 2.8,2.4 4.9,5.4 1.1,8.1-1.1,7.6-3.8,7.6-2.4,6-0.4,4-5.5,1.4-2.4,2.9-3.8-2.1-2.6,1.3-5.5-1.9-2.9-2.9-0.4-3.3-2.9-0.5 0.7-2.5-1.6-4.6-0.8,5.2-3.1,0-1.8-2.5-2.2-3.5-6.6-3.2-4.8,0.2-6.6,1.9-4.4,1.9-1.1,2.5-7.7,0-4.4,2.9-4.4-0.2-2.2-1.6 1.5-6.3-1.5-5.4-1.8-6.8-2-4 1.6,0.8-1.1-4.9 0.6-4.9zM759.7,928l7.9,0.5-0.6,6.2-3.3,1.1-2.7-3z" fill="#ABD9E9"/>
<path d="M821.3,910.9l3.5,2.5 2.7,3.2 1.1,3 5,0.3-2.4,4.3-0.9,3-3.3,3.2-1.1-1.9 0.5-2.4-2.7-1.9 2-3 0.2-3.2-1.1-1.9-2.8-3.6zM821.3,927.4l3.5,3.3-2.8,4.3 0.2,1.4-4.2,1.9-1.1,3.8-3.7,1.8-3.3-1-2.2-1.1 3.3-4.4 5.5-3.5 2.2-3.2z" fill="#ABD9E9" stroke-width="3.6"/>
<path d="M802.2,872.2l5.5,4.6 1.1,1.6-3.3-1.6z" fill="#FFFFFF" stroke-width="4"/>
<path d="M785.7,835.9l3.3,2.5 4.4,3.8 3.9,3.5-3.9-1.9-5.5-4.9z" fill="#FFFFFF" stroke-width="4"/>
<path d="M807.9,857.9l1.5,2.7 2.2,5.1-1.7-3.8z" fill="#FFFFFF" stroke-width="4"/>
<path d="M831.4,865.2l2.9,0-0.5,1.9-2.2-0.3z" fill="#FFFFFF" stroke-width="4"/>
<path d="M243.2,780.4l1.5-1.6 2,1.1 1.6,1.6 0,0.6-2.7-0.3z" fill="#FED976" stroke-width="2"/>
</g>
<path d="M250,645.1l2.2-5.7 6.6-0.8 6.6,4.6-1.1,3.2-7.7,1.1z" fill="#ABD9E9" stroke="#606060" stroke-width="4.5" stroke-linejoin="round"/>
<path d="M311,688.7l3.9-8.4 4.4-2.2-0.4,4.4 4.8,1.8 1.8,4.9-1.8,2.2-4.4-0.6-1.1-1.9zM169.7,686.8l-3.3-1.1-7.2-5.1 2.8-0.3 4,2.2 3.1,2.7zM148.8,671.6l2.7,0.3 1.7,4.3-3.3-1.9zM299.7,682.7l5.3,1.4-3.3,0.2zM300.2,691.1l4.8,0.8-1.7,1.4z" fill="#ABD9E9" stroke="#606060" stroke-width="4.5" stroke-linejoin="round"/>
<path d="M554.7,623.7l7.7-4.3 2.2-2.5 8.8-4.8 11-2.5 7.7,0.8-9.9,3.3-12.1,5.1-2.2,6.8-8.8,0.5zM646,603.4l8.8-4.3 13.2,1.6 8.8,4.3-11,2.2-11-1.1zM742.8,614l8.8-2.2 11,1.4 11,1-6.6,1.7-11,3.2-8.8-2.2zM834.1,625.1l3.3-0.9 0,1.7zM542.6,600.4l8.8-1.6 15.4-1.1 15.4,0.8-4.4,1.9-15.4,0.8z" fill="#ABD9E9" stroke="#606060" stroke-width="5.5" stroke-linejoin="round"/>
<path d="M165,617.2l6.3-2.5 11.2,1.3 2.5,5-6.2,3.8-11.3-1.3z" fill="#606060" stroke="#606060" stroke-width="2" stroke-linejoin="round"/>
<path d="M168.8,618.2l9.4-0.6 1.6,2.8-7.3,1.6z" fill="#ABD9E9"/>
<path d="M183.8,619.8l7.5-2.6 11.3,0 12.5,1.3 2.5,6.3-2.5,6.2-10,2.5-11.3-1.2-7.5-3.8z" fill="#606060" stroke="#606060" stroke-width="2" stroke-linejoin="round"/>
<path d="M189,622l11.1-1.2 12.2,1.2 0.7,5.6-9.2,2.5-11.2-1.2z" fill="#ABD9E9"/>
<path d="M170,609.7l7.5-3.1 13.8-2.5 8.8-0.6 3.7,5-3.7,5-12.6,0.6-12.5,0z" fill="#606060" stroke="#606060" stroke-width="2" stroke-linejoin="round"/>
<path d="M205.1,603.5l10-3.1 10-3.2 12.5-3.1 15-1.9 16.3-1.2 18.8,0.6 16.2,1.9-8.7,6.2-12.5,5-10,3.8-3.8,7.5 7.5,5 11.3,2.5 10,6.3 8.7,6.2-2.5,8.8-5,5-1.2,7.5-6.3,2.5-6.2-5-2.5-7.5-7.5-1.3-5-7.5-7.6-3.7-6.2-5-8.8,2.5-10-2.5-7.5,2.5-10-3.8-2.5-7.5-7.5-5-3.8-6.3z" fill="#606060" stroke="#606060" stroke-width="2" stroke-linejoin="round"/>
<path d="M263.3,602.5l6.9-5.9 16.8-2.8-4.3,4.7-12.5,5.6z" fill="#ABD9E9"/>
<path d="M259.1,621.3l14.6-1.3 1.2,5.8-12.3,1.2z" fill="#ABD9E9"/>
<path d="M276.7,628.8l11,1.2 11,6.3 1,8.2-8.3,1.3-8.7-6z" fill="#ABD9E9"/>
<path d="M263.3,632.9l6.6-0.6 0.5,9.7-5.3,0z" fill="#FFFFFF"/>
<path d="M213,616.9l6.8,0.6-0.6,4.5-5.1-0.6z" fill="#FFFFFF"/>
<path d="M275.8,647.9l15.6,1.9 0.7,5-6.3-1.3z" fill="#FFFFFF"/>
<path d="M237.6,621l5.6,0.6-0.6,2.2-4.4-0.5z" fill="#FFFFFF"/>
<path d="M220.1,601.6l5-0.6-0.3,2.5-4.1,0.2z" fill="#FFFFFF"/>
<path d="M78.9,670.3l-7.1,2.9-8.8,2.8-8.8,1.6-7.7,1.1" fill="none" stroke="#606060" stroke-width="3" stroke-linecap="round" stroke-linejoin="round"/>
<path d="M137.8,658.1l5.5,3.2 4.4,6.3 4.4,4 4.4,4.1 3.3,4" fill="none" stroke="#606060" stroke-width="7" stroke-linecap="round" stroke-linejoin="round"/>
<path d="M159.8,679.7l4.4,3.8 3.8,2.7" fill="none" stroke="#606060" stroke-width="4" stroke-linecap="round" stroke-linejoin="round"/>
<path d="M289.6,603.4l11,7 12.1,4.4 5.5,5.4 5.5,8.1 3.3,10.8 4,8.2 8.1,6.5" fill="none" stroke="#606060" stroke-width="7.5" stroke-linecap="round" stroke-linejoin="round"/>
<path d="M397.4,609.4l-2.2,8.1-4.4,5.4-2.2,4.1-6.6,4-11,3.5-11,5.2-8.8,4.9-4.4,6.7" fill="none" stroke="#606060" stroke-width="4.5" stroke-linecap="round" stroke-linejoin="round"/>
<path d="M391.9,614.8l-3.3,5.9-3.3,5.4" fill="none" stroke="#606060" stroke-width="10" stroke-linecap="round" stroke-linejoin="round"/>
<path d="M296.2,598.5l17.6-2.7 28.6-1.6 26.4-1.6 24.2,3.2 17.6,1.4" fill="none" stroke="#606060" stroke-width="5" stroke-linecap="round" stroke-linejoin="round"/>
<path d="M253.8,789.1l2.8,2.2 2.7,2.7 3.9,1.6 2.7-2.4 3.9,1.6" fill="none" stroke="#606060" stroke-width="5.5" stroke-linecap="round" stroke-linejoin="round"/>
<path d="M255.5,758.2l3.3-1.8 5.5-0.3 5.5,3.2 4.4,2.7 2.7,1.1" fill="none" stroke="#606060" stroke-width="6" stroke-linecap="round" stroke-linejoin="round"/>
<path d="M278.2,767.7l3.7-1.1 5.5,0 3.1,0.8" fill="none" stroke="#606060" stroke-width="5" stroke-linecap="round" stroke-linejoin="round"/>
<path d="M293.6,768.5l3.3,0" fill="none" stroke="#606060" stroke-width="4" stroke-linecap="round" stroke-linejoin="round"/>
<path d="M131.2,629.4l8.8,1.6 5.5-1.6 12.1-1.1 8.8,1.6 11,0 11,2.2 11,2.2 11-1.4 11,1.4 7.7-1.1 2.2-6.2" fill="none" stroke="#606060" stroke-width="5.5" stroke-linecap="round" stroke-linejoin="round"/>
<path d="M287.4,690.6l7.7-5.4 4.4,1-1.1,4.9 4.4,2.7 4.4,0.8 1.8-2.7" fill="none" stroke="#606060" stroke-width="4.5" stroke-linecap="round" stroke-linejoin="round"/>
<path d="M296.2,699.2l4.4-2.1 5.5-1.9" fill="none" stroke="#606060" stroke-width="4" stroke-linecap="round" stroke-linejoin="round"/>
<path d="M299.5,654.6l5.5,6.2 4.4,6.8 5.5,4 3.3,4.9" fill="none" stroke="#606060" stroke-width="4.5" stroke-linecap="round" stroke-linejoin="round"/>
<path d="M269.8,649.2l8.8,0.2 8.8,3.3 2.2,5.4 5.5,0" fill="none" stroke="#606060" stroke-width="4" stroke-linecap="round" stroke-linejoin="round"/>
<path d="M185.6,732.5l3.7,6.8 4.4,6 3.5,5.9 2.2,3.5" fill="none" stroke="#606060" stroke-width="4.5" stroke-linecap="round" stroke-linejoin="round"/>
<path d="M168.6,693.3l-0.6,10.8 3.9,11.4 4.2,8.6 7.3,4.9" fill="none" stroke="#606060" stroke-width="4" stroke-linecap="round" stroke-linejoin="round"/>
<path d="M294,696.5l-7.7,4.9 0.5,3.2-8.2,3.6-3.3,8.1-1.1,6.8-6.6,4.6-4.4,4.8 1.6,10.9" fill="none" stroke="#606060" stroke-width="4" stroke-linecap="round" stroke-linejoin="round"/>
<path d="M454.2,658.1l-1.1-6.8 3.7-4 7.7-4.4 5.5-5.1 5.5-5.4" fill="none" stroke="#606060" stroke-width="8" stroke-linecap="round" stroke-linejoin="round"/>
<path d="M475.5,632.4l7.7-3.5 11-2.5 8.8,0 5.1,1.9" fill="none" stroke="#606060" stroke-width="5.5" stroke-linecap="round" stroke-linejoin="round"/>
<path d="M460.8,668.4l1.3-4.4 2.4-1.9" fill="none" stroke="#606060" stroke-width="6" stroke-linecap="round" stroke-linejoin="round"/>
<path d="M464.1,667.8l4.4-0.5" fill="none" stroke="#606060" stroke-width="6" stroke-linecap="round" stroke-linejoin="round"/>
<path d="M786.1,679.7l-3.7,2.8-6.6,6.7-6.6,4.6-5.5,4.1-2,1.9" fill="none" stroke="#606060" stroke-width="3" stroke-linecap="round" stroke-linejoin="round"/>
<path d="M645.5,781.3l-0.2,5.4 0.7,6.7 1.7,5.5" fill="none" stroke="#606060" stroke-width="3.5" stroke-linecap="round" stroke-linejoin="round"/>
<path d="M588.3,626.1l3.8-5.9 8.8,0.8 0.6,10 2.7,4.1" fill="none" stroke="#606060" stroke-width="4" stroke-linecap="round" stroke-linejoin="round"/>
<path d="M606.4,621.5l6.6,0.9 5.5-3.6 3.3,5.4 2.2,4.1" fill="none" stroke="#606060" stroke-width="4" stroke-linecap="round" stroke-linejoin="round"/>
<path d="M632.8,616.1l17.6-4.3 11-1.1 9.4-3.2 6,2.4 11,0.8 3.3,2.7-7.7,3.3 6.6,1.3 13.2,1.9 11-1.6 8.8,1.1 3.3,6.2 7.7-1.4 11,0 4.4-2.7 13.2,0.6 13.2,3.8 15.4,3" fill="none" stroke="#606060" stroke-width="4.5" stroke-linecap="round" stroke-linejoin="round"/>
<path d="M514,629.9l6.6,0.6 11.4,6.5-7,1.9-7.7-1.4" fill="none" stroke="#606060" stroke-width="4" stroke-linecap="round" stroke-linejoin="round"/>
<path d="M538.2,639.1l0-6.7 5.5,1.9 14.3-1.4 8.8-0.8 7.7-3.2 8.8,1.3 5.5,0.8" fill="none" stroke="#606060" stroke-width="4" stroke-linecap="round" stroke-linejoin="round"/>
<path d="M279.7,959.9l-3.7-6.7-0.2-8.2 2.8-5.4 0.9-6.8" fill="none" stroke="#606060" stroke-width="6" stroke-linecap="round" stroke-linejoin="round"/>
<path d="M290.7,961.3l-3.3,4-5.5-2.7-3.3-4" fill="none" stroke="#606060" stroke-width="6.5" stroke-linecap="round" stroke-linejoin="round"/>
<path d="M297.3,966.1l-6.6,0.6-4.4,0.8" fill="none" stroke="#606060" stroke-width="5" stroke-linecap="round" stroke-linejoin="round"/>
<path d="M268.1,745.8l2.8,4.3 3.3,3.3 3.3,3.5 3.3,3.5" fill="none" stroke="#606060" stroke-width="5" stroke-linecap="round" stroke-linejoin="round"/>
<path d="M298.4,768.3l4.4,0.8 2.7,2.7 1.1,4 0.6,2.7 0,3.6-1.3,2.9 0.9,4.1" fill="none" stroke="#606060" stroke-width="4" stroke-linecap="round" stroke-linejoin="round"/>
<path d="M87.3,758.5l5-0.6 5,3.1 2.5,4.4" fill="none" stroke="#606060" stroke-width="4" stroke-linecap="round" stroke-linejoin="round"/>
<path d="M131.7,839.8l3.8,5.7" fill="none" stroke="#606060" stroke-width="3" stroke-linecap="round" stroke-linejoin="round"/>
<path d="M61,854.2l6.9,2.5" fill="none" stroke="#606060" stroke-width="3" stroke-linecap="round" stroke-linejoin="round"/>
<path d="M62.3,841.7l2.5,1.9" fill="none" stroke="#606060" stroke-width="3" stroke-linecap="round" stroke-linejoin="round"/>
<path d="M44.8,861.7l1.8,5.7 1.3,6.2" fill="none" stroke="#606060" stroke-width="4" stroke-linecap="round" stroke-linejoin="round"/>
<path d="M56.7,868.6l-1.3,7.5" fill="none" stroke="#606060" stroke-width="3" stroke-linecap="round" stroke-linejoin="round"/>
<path d="M89.2,869.3l5.6,3.1" fill="none" stroke="#606060" stroke-width="3.5" stroke-linecap="round" stroke-linejoin="round"/>
<path d="M107.3,862.4l5,3.7" fill="none" stroke="#606060" stroke-width="4" stroke-linecap="round" stroke-linejoin="round"/>
<path d="M760.2,762.2l2.5,8.8-2.5,10" fill="none" stroke="#606060" stroke-width="2.5" stroke-linecap="round" stroke-linejoin="round"/>
<path d="M815.3,788.5l2.5,11.3" fill="none" stroke="#606060" stroke-width="2.5" stroke-linecap="round" stroke-linejoin="round"/>
<path d="M810.3,787.3l3.1,7.5" fill="none" stroke="#606060" stroke-width="2.5" stroke-linecap="round" stroke-linejoin="round"/>
<path d="M821.5,809.8l3.8,7.5 3.7,6.3" fill="none" stroke="#606060" stroke-width="3" stroke-linecap="round" stroke-linejoin="round"/>
<path d="M809,856.1l3.1,8.8 3.2,7.5" fill="none" stroke="#606060" stroke-width="3.5" stroke-linecap="round" stroke-linejoin="round"/>
<path d="M801.5,871.1l8.8,6.3" fill="none" stroke="#606060" stroke-width="3.5" stroke-linecap="round" stroke-linejoin="round"/>
<path d="M827.7,675.4l10,1.9" fill="none" stroke="#606060" stroke-width="3" stroke-linecap="round" stroke-linejoin="round"/>
<path d="M602.3,794.8l0.5,10-0.3,15" fill="none" stroke="#606060" stroke-width="2.5" stroke-linecap="round" stroke-linejoin="round"/>
<path d="M554.5,784.4l6.8-1.4" fill="none" stroke="#606060" stroke-width="3" stroke-linecap="round" stroke-linejoin="round"/>
<path d="M306.9,957.5l3.5,1.3 3.6-1.3" fill="none" stroke="#606060" stroke-width="4.5" stroke-linecap="round" stroke-linejoin="round"/>
<path d="M357.3,964.4l5,2.5" fill="none" stroke="#606060" stroke-width="3.5" stroke-linecap="round" stroke-linejoin="round"/>
<path d="M380.6,970l3.1,4.4-2.7,5.4" fill="none" stroke="#606060" stroke-width="3" stroke-linecap="round" stroke-linejoin="round"/>
<path d="M44.5,624.3l6.5-0.4 4.5-0.8" fill="none" stroke="#606060" stroke-width="3.5" stroke-linecap="round" stroke-linejoin="round"/>
<path d="M63.8,643.9l3.2,1.4 3.2,1.6" fill="none" stroke="#606060" stroke-width="3.2" stroke-linecap="round" stroke-linejoin="round"/>
<path d="M47,630.7l6,2.5 7,3 7,2" fill="none" stroke="#606060" stroke-width="4.5" stroke-linecap="round" stroke-linejoin="round"/>
<g fill="#606060"><circle cx="330.1" cy="820.5" r="4.2"/><circle cx="295.8" cy="785.9" r="1.6"/><circle cx="300.6" cy="788" r="1.6"/><circle cx="271.4" cy="768.8" r="2.2"/><circle cx="264.3" cy="765" r="1.6"/><circle cx="50.8" cy="741" r="1.3"/><circle cx="58.3" cy="747" r="1.3"/><circle cx="62.5" cy="747.9" r="1.3"/><circle cx="71.4" cy="750.1" r="1.3"/><circle cx="78.6" cy="754.1" r="1.3"/><circle cx="84.6" cy="755.1" r="1.3"/><circle cx="67.9" cy="772.3" r="1.3"/><circle cx="180.6" cy="739.1" r="1.6"/><circle cx="188.4" cy="768.1" r="1.3"/><circle cx="196.8" cy="765.8" r="1.5"/><circle cx="241.9" cy="818.6" r="3.6"/><circle cx="87.9" cy="804.8" r="1.3"/><circle cx="90.4" cy="806.7" r="1.3"/><circle cx="94.8" cy="812.9" r="1.8"/><circle cx="89.2" cy="818.6" r="1.3"/><circle cx="52.3" cy="816.1" r="1.6"/><circle cx="63.5" cy="826.7" r="1.6"/><circle cx="64.2" cy="829.2" r="1.3"/><circle cx="99.8" cy="828.8" r="1.5"/><circle cx="98.2" cy="833" r="1.3"/><circle cx="93.6" cy="842.3" r="1.3"/><circle cx="86.7" cy="845.5" r="1.5"/><circle cx="76.7" cy="848" r="1.6"/><circle cx="105.5" cy="845.5" r="1.3"/><circle cx="110.8" cy="844.9" r="1.3"/><circle cx="107.1" cy="848.6" r="1.3"/><circle cx="52.9" cy="853.6" r="1.3"/><circle cx="49.1" cy="856.4" r="1.3"/><circle cx="54.8" cy="860.1" r="1.3"/><circle cx="67.3" cy="869.6" r="1.5"/><circle cx="82.1" cy="867.1" r="1.3"/><circle cx="89.2" cy="874.9" r="1.3"/><circle cx="93.6" cy="876.8" r="1.3"/><circle cx="114.8" cy="861.1" r="1.3"/><circle cx="118.9" cy="861.7" r="1.3"/><circle cx="122.7" cy="860.1" r="1.3"/><circle cx="122.1" cy="871.8" r="1.3"/><circle cx="104.2" cy="879.6" r="1.3"/><circle cx="108" cy="878.9" r="1.3"/><circle cx="112.3" cy="881.1" r="1.3"/><circle cx="116.1" cy="882.6" r="1.3"/><circle cx="131.7" cy="876.8" r="1.3"/><circle cx="135.5" cy="878" r="1.3"/><circle cx="143.9" cy="880.5" r="1.3"/><circle cx="154.6" cy="886.2" r="1.3"/><circle cx="158.7" cy="883.6" r="1.3"/><circle cx="166.4" cy="884.6" r="1.3"/><circle cx="124.2" cy="893" r="1.6"/><circle cx="200.2" cy="891.2" r="1.5"/><circle cx="209" cy="889.7" r="1.5"/><circle cx="265" cy="889.3" r="1.6"/><circle cx="49.1" cy="897.4" r="1.3"/><circle cx="47.9" cy="901.2" r="1.3"/><circle cx="263.8" cy="909.3" r="1.3"/><circle cx="267.5" cy="908.7" r="1.3"/><circle cx="730.2" cy="747.9" r="1.3"/><circle cx="730.8" cy="751" r="1.3"/><circle cx="751.4" cy="743.5" r="1.3"/><circle cx="752.1" cy="749.1" r="1.3"/><circle cx="807.7" cy="764.8" r="1.3"/><circle cx="812.8" cy="778.5" r="1.3"/><circle cx="697.6" cy="761.6" r="1.3"/><circle cx="745.2" cy="792.3" r="1.3"/><circle cx="736.4" cy="797.3" r="1.3"/><circle cx="732" cy="803.5" r="1.3"/><circle cx="755.2" cy="799.8" r="1.3"/><circle cx="758.9" cy="797.3" r="1.3"/><circle cx="762.7" cy="796.7" r="1.3"/><circle cx="770.2" cy="793.5" r="1.3"/><circle cx="772.7" cy="797.9" r="1.3"/><circle cx="775.2" cy="796.7" r="1.3"/><circle cx="779" cy="803.5" r="1.3"/><circle cx="789" cy="799.2" r="1.3"/><circle cx="800.2" cy="802.9" r="1.3"/><circle cx="797.7" cy="786.7" r="1.3"/><circle cx="805.2" cy="786" r="1.3"/><circle cx="807.7" cy="792.9" r="1.3"/><circle cx="811.5" cy="797.3" r="1.3"/><circle cx="809" cy="819.2" r="1.3"/><circle cx="758.9" cy="821.1" r="1.3"/><circle cx="765.2" cy="823.6" r="1.3"/><circle cx="770.2" cy="821.7" r="1.3"/><circle cx="791.5" cy="831.1" r="1.6"/><circle cx="792.7" cy="848" r="1.6"/><circle cx="827.8" cy="834.8" r="1.3"/><circle cx="831.5" cy="837.3" r="1.3"/><circle cx="835.3" cy="839.8" r="1.3"/><circle cx="806.5" cy="844.9" r="1.3"/><circle cx="830.3" cy="851.7" r="1.3"/><circle cx="792.7" cy="869.9" r="1.3"/><circle cx="817.8" cy="878" r="1.3"/><circle cx="810.3" cy="896.8" r="1.3"/><circle cx="790.2" cy="903" r="1.3"/><circle cx="673.2" cy="846.1" r="1.5"/><circle cx="654.4" cy="850.5" r="1.5"/><circle cx="768.8" cy="609.1" r="1.5"/><circle cx="777" cy="610.6" r="1.5"/><circle cx="785.7" cy="608.2" r="1.5"/><circle cx="807.6" cy="667.9" r="2"/><circle cx="822.7" cy="674.2" r="2"/><circle cx="748.8" cy="727.4" r="1.3"/><circle cx="749.4" cy="734.9" r="1.3"/><circle cx="753.2" cy="743.6" r="1.5"/><circle cx="752" cy="748.7" r="1.3"/><circle cx="807.6" cy="764.9" r="1.3"/><circle cx="730.1" cy="747.4" r="1.3"/><circle cx="718.8" cy="743.6" r="1.3"/><circle cx="723.8" cy="745.5" r="1.3"/><circle cx="404.3" cy="727.9" r="1.8"/><circle cx="401.1" cy="741" r="1.6"/><circle cx="404.9" cy="739.7" r="1.5"/><circle cx="408.7" cy="739.1" r="1.5"/><circle cx="411.8" cy="738.2" r="1.6"/><circle cx="389.3" cy="773.5" r="1.3"/><circle cx="391.5" cy="776.3" r="1.3"/><circle cx="409.3" cy="839.2" r="1.5"/><circle cx="428.7" cy="861.1" r="1.6"/><circle cx="456.8" cy="812.3" r="1.5"/><circle cx="455" cy="816.7" r="1.5"/><circle cx="453.1" cy="821.7" r="1.6"/><circle cx="536.9" cy="848.6" r="1.5"/><circle cx="540.1" cy="851.4" r="1.5"/><circle cx="543.2" cy="843" r="1.8"/><circle cx="563.2" cy="829.9" r="1.7"/><circle cx="565.1" cy="836.7" r="1.3"/><circle cx="565.7" cy="846.1" r="1.5"/><circle cx="563.2" cy="874.9" r="1.7"/><circle cx="567.6" cy="872.4" r="1.5"/><circle cx="580.7" cy="871.2" r="1.5"/><circle cx="600.1" cy="786.1" r="1.8"/><circle cx="598.3" cy="831.1" r="1.3"/><circle cx="600.8" cy="837.4" r="1.5"/><circle cx="535.7" cy="849.9" r="1.3"/><circle cx="535.1" cy="847.4" r="1.3"/><circle cx="372.1" cy="710.3" r="1.5"/><circle cx="379.6" cy="712.8" r="1.5"/><circle cx="385.2" cy="716" r="1.6"/><circle cx="298.2" cy="729.7" r="1.6"/><circle cx="387.1" cy="772.9" r="1.6"/><circle cx="390.2" cy="775.4" r="1.5"/><circle cx="387.7" cy="777.3" r="1.3"/><circle cx="369.6" cy="828" r="1.5"/><circle cx="409.6" cy="839.2" r="1.5"/><circle cx="428.4" cy="861.1" r="1.5"/><circle cx="374.6" cy="873" r="1.6"/><circle cx="310.1" cy="781.7" r="1.6"/><circle cx="255.7" cy="769.8" r="1.5"/><circle cx="208.8" cy="889.3" r="1.5"/><circle cx="265.1" cy="888.7" r="1.5"/><circle cx="413.8" cy="918.5" r="1.3"/><circle cx="418.8" cy="927.2" r="1.3"/><circle cx="448.8" cy="965.3" r="1.3"/><circle cx="523.9" cy="944.8" r="1.5"/><circle cx="552.7" cy="943" r="1.3"/><circle cx="556.4" cy="943.8" r="1.3"/><circle cx="594" cy="951" r="2.6"/><circle cx="602.7" cy="961.8" r="1.6"/><circle cx="611.5" cy="921.7" r="1.6"/><circle cx="790.4" cy="903.5" r="1.3"/><circle cx="810.4" cy="896.7" r="1.3"/><circle cx="834.2" cy="947.3" r="1.3"/><circle cx="834.2" cy="952.3" r="1.3"/><circle cx="806.7" cy="955.3" r="1.6"/><circle cx="812.9" cy="960.3" r="1.4"/><circle cx="790.4" cy="966" r="1.3"/><circle cx="422.9" cy="624.8" r="2"/><circle cx="426.1" cy="649.2" r="2"/><circle cx="438.6" cy="653.5" r="2"/><circle cx="483" cy="615.4" r="1.8"/><circle cx="298.4" cy="729.9" r="1.7"/><circle cx="404.8" cy="728" r="2"/><circle cx="372.2" cy="709.9" r="1.6"/><circle cx="379.8" cy="712.4" r="1.8"/><circle cx="385.4" cy="716.1" r="2"/><circle cx="264.9" cy="889.1" r="2"/><circle cx="263.5" cy="909.2" r="1.6"/><circle cx="267.5" cy="908.8" r="1.6"/><circle cx="375.2" cy="873.5" r="1.8"/><circle cx="320.3" cy="984" r="2"/><circle cx="341.7" cy="982.5" r="2"/><circle cx="61" cy="653.5" r="2.0"/><circle cx="66.2" cy="663.3" r="2.3"/><circle cx="98.4" cy="665.5" r="2.2"/><circle cx="58.5" cy="651.2" r="1.2"/></g>
</g>
<g id="panelC">
<g stroke="#606060" stroke-width="3.0" stroke-linejoin="round">
<path d="M131.2,1154.8l8.8,1.6 5.5-1.6 12.1-1.1 8.8,1.6 11,0 11,2.2 11,2.2 11-1.4 11,1.4 7.7-1.1 2.2-9.2 5.5,1.6 4.4,4.1 6.6,2.4 5.5-2.7 7.7,0 1.1,4.3-5.5,3.8-6.6,2.7-4.4,4.4-4.4,1-4.4,4.4-3.3,5.4-0.4,3.2 4.8,4.9 5.5,0 4.4,1.4 6.6,3.2 6,0.5 0.4,5.7 3.5,4.4 3.3-0.3 0-6.8 4.4-4-1.1-5.5-2.2-3.2 2.2-3.5-1.1-6.2 8.8,0 8.8,3.5 0,5.4 4.4,1.9 5.5-3.3 2.2-2.1 5.5,6.2 4.4,6.8 5.5,2.7 3.8,5.9-6,2.7-3.3,3-8.8,0-5.9,0.3-6.2,5.7-3.3,2.9 2.2-1 6.6-4.6 6,0.5-1.6,2.7 0.5,3.5 2.2,1.4 5,0.8 3.3-1.6-2.2,2.7-5.5,1.9-5.5,2.9-0.4-2.7 3.7-2.1-5.5,0.5-1.7-5.1-3.1-1.1-2.4,4-2.7,2.5-7,0-3.5,2.2-6,1.8 0,1.7-7.7,2.7-1.3-1.1 1.5-1.9-0.2-6.2-2.2-1.9-2.2-1.4-7.7-4.6-3.3,0.6-3.3-0.6-4.4-1.1-4.8-1-61.6,0-2.9-2.8-6.6-2.7-1.1-4-4.4-4.9-0.4-1.9 0.4-2.7-4.4-2.7-3.3-4.6-3.3-2.2-5.5,1.4-3.3-2.7-4.4-0.8z" fill="#A7CEA4"/>
<path d="M131.2,1154.8l0,25.2 4.4,0.8 3.3,2.7 5.5-1.4 3.3,2.2 3.3,4.6 4.4,2.7-0.4,2.7-2.9,0-4.4-4-4.4-4.1-3.3-1.1-6.6-3.5-8.8-0.8-5.5-2.7-4.4,1.3-3.3,3.3-3.9,0.2 1.7-4.3 2.2-1.1-5.5,1.9-2.2,3.3-2.2,2.1-4.4,3.3-4.4,3.5-5.5,2.2-4.4,1.3-3.9,0.6 3.9-2.2 5.5-1.9 5.5-4.1 1.6-3.2-3.8,0.3-6.1-0.3-0.5-3-5.5-0.5-3.3-4.1 3.3-4 7.7-1.4 0-2.7-7.7,0-4.4-2.2-3.3-0.8 8.8-2.4 4.9,0.8-3.8-2.2-6.6-3.5 7.7-1.9 6.6-4 7.5-2.2 10.1,1.3 8.8,1.4 8.8,0.8z" fill="#B9D6B3" stroke-width="3.5"/>
<path d="M170.4,1210.6l61.6,0 4.8,1 4.4,1.1 3.3,0.6 3.3-0.6 7.7,4.6 2.2,1.4 2.2,1.9 0.2,6.2-1.5,1.9 1.3,1.1 7.7-2.7 0-1.7 6-1.8 3.5-2.2 7,0 2.7-2.5 2.4-4 3.1,1.1 1.7,5.1 0,0.8-3.9,1.1-3.1,1.9-1.3,2.7 1.7,2.7-4.4,1.4-4.4,1.6-2.2,4.9-1.3,2.7-0.9,2.1 1.1,4.6-2.2,1.7-3.1,1.9-2.4,1.3-4.4,4.1-0.9,4 1.8,5.5 1.3,4.6-0.9,4.3-1.7,0-1.3-2.2-2-4.9-0.7-3.2-2.6-2.7-2.9,0.5-5.5-1.3-3.3,0.2 0.7,3-1.8,0.3-3.3-1.1-5-0.8-2,0.8-2.9,2.2-3.1,3 0.5,4.3-4.2-1.4-0.9-2.9-4.2-6.3-2.4,0-1.5,2.2-2.9-1.6-4.4-6-3.7,0 0,1.4-6.2,0-8.1-3.8-5.3,0.5-3.1-4-4.6-1.4-2.9-5.7-1.3-3.2-3.9-7.1-0.5-7 1.1-8.7-1.5-5.9 3.7,0.5z" fill="#B9D6B3"/>
<path d="M183.8,1255.2l5.3-0.5 8.1,3.8 6.2,0 0-1.4 3.7,0 4.4,6 2.9,1.6 1.5-2.2 2.4,0 4.2,6.3 0.9,2.9 4.2,1.4-1.1,5.1-0.2,4.6 1.1,3.6 2.4,4.6 0.9,1.3 2.8,1.6 4.4-1.1 2.2,0.3 2.2-3.5 0.5-3.2 5-1.7 2.7,1.1-1.6,4.6-1.7,2.7-2,1.6-4,0.3-0.9,1.6 2,3-2.6,0.3-0.7,2.2-0.4,1.8-2.9-2.7-2.6-1.9-2.9,1.4-4.4-1.4-4.4-2.1-4.4-2.7-5-3-2.7-3.5-0.2-3-1.8-4.6-3.5-4.9-3.1-3.5-2.4-4.1-3.7-4.6-1.8-4.6-3.9-1.6 0.2,0.6 1.5,4.3 2.7,5.4 3.3,5.4 2.2,4.6 1.7,3-1.1,0.8-3.3-3.8-1.5-1.9-2.9-4.6-3.3-2.7 1.8-0.8-1.8-2.7-2.2-3.8z" fill="#A7CEA4"/>
<path d="M280.8,1131.5l11-4.3 13.2-4.6 26.4-2.7 37.4-3 24.2,3.8 22,1.9-13.2,4 2.2,5.5-6.6,5.4 2.2,4-6.6,4.1 0,6.8-6.6,4-11,2.2-13.2,6.5-8.8,2.1-6.6,13-2.2,1.1-8.8-3.2-6.6-6.8-5.5-8.1 1.1-5.4 4.4-2.7-7.7-2.7-1.1-5.5-6.6-8.1-8.8-1.9-13.2,0.6-6.6-3.3z" fill="#96C595"/>
<path d="M412.4,1268.2l3.7-2.4 3.7-3.3 0-4.3 1.4-3 5.2-4 2-4.9 1.3-0.3 6.9,2.2 0.8,1.6 1.4,6.2-5.3,1.4 0,1.9-3.1,1.3-4.4,2.7-3.7,2.2 0,2.7z" fill="#76B580"/>
<path d="M412.4,1268.2l9.9,0 0,1.1 0,3.5-7.3,0 0,7.1-2.2,1 0,4.6-8.9,1.4 2.3-7.9 3.1-6.2z" fill="#BEBEBE"/>
<path d="M436.6,1248.2l4.8-2.2 6.6-2.7 6.6-0.3 5.7,0.3-0.6,4.6-1.8,3.5 3.3,5.2 1.1,4.6 0.9,4.9-1.1,6.2 1.3,4.6 4.4,2.7-13.6,10.8-3.6,1.1-1.9,0.3-0.3-2.2-4.4-2.7-13.2-11.4-8.5-6.2 0-1.1 0-2.7 3.7-2.2 4.4-2.7 3.1-1.3 0-1.9 5.3-1.4-1.4-6.2z" fill="#96C595"/>
<path d="M460.3,1243.3l3.5-1.1 1.8,0.8-0.9,3.3 0.9,3.5-2.2,1.9 3.3,1.6 0,1.9-2.6,1.9 0,2.7-1.8,1.4-1.1-4.6-3.3-5.2 1.8-3.5z" fill="#76B580"/>
<path d="M466.7,1253.3l3.3,0.8 4.8,1.7 1.4,2.4 4.8,2.4 4,0 0.4-4 3.3-2.5 3.7,1.4 4,1.9 0,26.2 0,5.5-2.2,0 0,1.3-17.6-10.5-2.2,1-1.8,1.1-4.8-2.4-4.4-2.7-1.3-4.6 1.1-6.2-0.9-4.9 1.8-1.4 0-2.7 2.6-1.9z" fill="#E0E9D2"/>
<path d="M496.4,1257.4l4.4,1.1 4.4,1.1 4.4-1.7 2.9,0.6 4.1,0 1.6,4.8-1.6,4.9-1.5-1.3-2-4.6 2.2,6.5 2,5.4 2.2,4 0.4,2.7 2.7,2.7-26.2,0z" fill="#76B580"/>
<path d="M522.6,1283.6l0.6,2.8 0.3,5.4 2.6,2.7-3.3,2.7-1.1,4.9-0.2,1.8-0.7,4.9-2,2.5-1.9,2.9-0.7,3.3 0.2,2.7-2.4,1.6 1.8,1.9 1.9,1.4 2.7,3.8 0,1.8-4.2,1.1-0.2,1.1-6.6,0.8-3.1-2.4-2.4,0.3-2.2-2.2-2.2-4.1-2.7-2.4-2.6-3.3-1.1-0.8 0-2.7-1.5-2.7-0.7-4.6-1.1-3 1.1-1 0.9-4.1 2.4,0 0-10.3 0-1.3 2.2,0 0-5.5z" fill="#4FA562"/>
<path d="M405.1,1299.6l1.1-5.1-1.1-4.1-1.2-3.5 8.9-1.4 0-4.6 2.2-1 0-7.1 7.3,0 0-3.5 8.5,6.2-3.7,0 2,23 0.6,0.6-0.4,2.1-8.4,0-4.8-0.2-1.5,2.1-2.2-1.9-2.9-2.9z" fill="#B9D6B3"/>
<path d="M414.6,1303.1l1.5-2.1 4.8,0.2 8.4,0 0.4-2.1-0.6-0.6-2-23 3.7,0 13.2,11.4 4.4,2.7 0.3,2.2 1.9-0.3 0,6.2-1.5,3.5-4.4,0.6-2.9,0.8-1.9,0-4.7,2.7-3.3,2.2-1.9,3.8-0.7,3.7-1.5-0.5-4,1.1-1.8-3.5-2.6-1.4-3.1-1.1-1.3-2.9z" fill="#B9D6B3"/>
<path d="M404.7,1309.9l-0.3-2.2 0-1.3-1.5-3 2.2-3.8 4.4-1.3 2.9,2.9 2.2,1.9 0.4,3.6 1.3,2.9-5-0.5z" fill="#B9D6B3"/>
<path d="M404.4,1307.7l0-1.3 3.1-0.6 3.1,0.6 0,1.1-3.1-0.3z" fill="#B9D6B3" stroke-width="3.5"/>
<path d="M408.4,1313.7l-2.9-2.4-0.8-1.4 6.6-0.8 0,2.4z" fill="#B9D6B3" stroke-width="4"/>
<path d="M412.1,1318.8l-2.6-3.5-1.1-1.6 2.9-2.2 0-2.4 5,0.5 3.1,1.1 2.6,1.4 1.8,3.5 0.4,4.6-1.5,2.4-2-1.1-2-1-0.6-1.7-1.3-2.7-2.9,0.6z" fill="#B9D6B3"/>
<path d="M416.1,1324.5l-3.3-3-0.7-2.7 1.8-2.1 2.9-0.6 1.3,2.7 0.6,1.7z" fill="#B9D6B3" stroke-width="3.5"/>
<path d="M424.9,1331.3l-4-3-4.8-3.8 2.6-4 2,1 2,1.1 0.2,3 2,1.9z" fill="#B9D6B3" stroke-width="3.5"/>
<path d="M434.6,1329.4l-4.2,0-5.5,1.9 0-3.8-2-1.9-0.2-3 1.5-2.4-0.4-4.6 4-1.1 1.5,0.5 2,1.7 3.9,0.5 0.7,3.8-1.5,4.6z" fill="#B9D6B3"/>
<path d="M429.3,1315l0.7-3.7 1.9-3.8 3.3-2.2 4.7-2.7 1.9,0 1.8,4.3 2.4,1.9 0.7,2.2-2.2,1.3-1.1,1.1-2.2-0.2-6,0.2 0,3.8-3.9-0.5z" fill="#B9D6B3"/>
<path d="M444,1326.7l-2.6,1.3-4.4,2.2-2.4-0.8-0.2-3.8 1.5-4.6-0.7-3.8 0-3.8 6-0.2 1.3,4.3 0.2,5.4z" fill="#B9D6B3"/>
<path d="M444.9,1326.4l-0.9,0.3-1.3-3.8-0.2-5.4-1.3-4.3 2.2,0.2 1.5,5.4z" fill="#B9D6B3" stroke-width="3.5"/>
<path d="M447.3,1325.9l-2.4,0.5 0-7.6-1.5-5.4 1.1-1.1 2.2-1.3 2.6,0.5 0.5,3.8-2.2,3.5z" fill="#B9D6B3"/>
<path d="M441.8,1302.6l2.9-0.8 4.4-0.6 1.5-3.5 0-6.2 3.6-1.1 13.6-10.8 4.8,2.4 1.8-1.1 1.8,7.3-0.7,9.5-4.4,8.7-2.2,1.3-5.5-0.5-4.4,0.3-3.3-0.8-5.5,0-0.9,4.8-2.6-0.5-0.7-2.2-2.4-1.9z" fill="#96C595"/>
<path d="M460.1,1330.5l-3.3,0.8-2.2,0.3-2.2-3.6-1.3-1.9-3.8-0.2 0.3-7.1 2.2-3.5-0.5-3.8 0.9-4.8 5.5,0 3.3,0.8 4.4-0.3 5.5,0.5 2.2-1.3 1.3,1.3 1.1,4.4-2.8,4-1.4,3.5-1.9,4.7-2.9,0-2.6,1.6z" fill="#B9D6B3"/>
<path d="M471.1,1306.4l4.4-8.7 0.7-9.5-1.8-7.3 2.2-1 17.6,10.5 0,10.3-2.4,0-0.9,4.1-1.1,1 1.1,3 0.7,4.6-2.5,1.1-5.7,4.3-1.1,2.5-3.5,1.1-3.3,0.5-2.9-6.8 2.9,0-0.9-2.7-0.4-4.3-1.8-1.4z" fill="#E0E9D2"/>
<path d="M463,1337l-0.3-3.8-1.7-2.2-0.9-0.5 1.8-4.6 2.6-1.6 2.9,0 1.9-4.7 1.4-3.5 2.8-4-1.1-4.4 1.8,1.4 0.4,4.3 0.9,2.7-2.9,0 2.9,6.8-2.2,3.8 0.2,3.2 1.3,2.7 2,4.6-6.1,0-4.4,0z" fill="#B9D6B3"/>
<path d="M475.5,1322.9l3.3-0.5 3.5-1.1 1.1-2.5 5.7-4.3 2.5-1.1 1.5,2.7 0,2.7 1.1,0.8 2.6,3.3 2.7,2.4 2.2,4.1-4.6-0.3-2,0.3-3.3,0.8-1.1,1.9-4.2-1.1-2.2-1.6-2,2.2 0,2.1-4.4,0-1.1,3.5-2-4.6-1.3-2.7-0.2-3.2z" fill="#E0E9D2"/>
<path d="M462.5,1340.5l0.5-3.5 3.3,0.2 0,3.3z" fill="#76B580" stroke-width="4"/>
<path d="M465.8,1353.8l-3.3-4.1-1.7-4.3 1.3-2.7 0.4-2.2 3.8,0 0-3.3 4.4,0 0,2.5 2.4,0 0,4.9-1.1,2.1 1.3,2.7-4-0.5-1.5,1.1-0.9,1.3z" fill="#B9D6B3"/>
<path d="M467.8,1356.7l-2-2.9 1.1-2.5 0.9-1.3 1.5-1.1 4,0.5-1.3-2.7 1.1-2.1 0-4.9-2.4,0 0-2.5 6.1,0 1.1-3.5 4.4,0-1.1,3.3-0.6,4.8-0.5,3-3.1,3.8-0.6,5.2-1.3,1-2,1.7-3.1-0.8z" fill="#B9D6B3"/>
<path d="M468.2,1358.9l-0.4-2.2 2.2-1-0.4,3.2z" fill="#96C595"/>
<path d="M470,1355.7l3.1,0.8 2-1.7 1.3-1 0.6-5.2 3.1-3.8 0.5-3 0.6-4.8 1.1-3.3 0-2.1 2-2.2 2.2,1.6 4.2,1.1 1.1-1.9 3.3-0.8 2-0.3 4.6,0.3 2.2,2.2 2.4-0.3 3.1,2.4 0.9,3.5-2.9,2.8-0.7,3.2-0.2,3.8-1.3,3.5 0.4,1.6 0.5,3 0.4,5.7 2.4,4.6-3.9,0.8-0.9,1.9 0.2,3.5-0.4,3.5 3.1,1.1 0,3.3-1.8,0-3.3-3-0.7-1.9-2.6,0.8-1.5-1.9-2,0.6-0.9-1.4-4,0.5 0.3-2.1-1.1-2.2 0-5.9-3.1-0.9-2,0-1.1,2.8-2.2,0.2-1.1-0.2-1.3-2.2-0.7-3.5-7,0-2.7-0.3 1.4,0z" fill="#B9D6B3"/>
<path d="M521.5,1303.9l2.4,0.9 2.2-0.9 1.5,0 2.2,0.3 4.9,5.2-1.3,2.1 0,1.9 2.4,0.3 2.4,5.1 6.6,2.7 2.2,0-6.6,8.2-3.7,0.5-2.9,1.6-0.2,0.8-2,0-3.3,1.4-3.3-0.5-2.4-2.2-2.2-0.6 0-1.8-2.7-3.8-1.9-1.4-1.8-1.9 2.4-1.6-0.2-2.7 0.7-3.3 1.9-2.9 2-2.5z" fill="#76B580"/>
<path d="M526.1,1294.5l1.8,5.9 3.7,3.3 3.1,3.8 1.5,1.3-1.5,0.6-4.9-5.2-2.2-0.3-1.5,0-2.2,0.9-2.4-0.9 0.2-1.8 1.1-4.9z" fill="#96C595"/>
<path d="M536.2,1308.8l-0.9,3 1.1,0.3-0.6,1.6-2.4-0.3 0-1.9 1.3-2.1z" fill="#B9D6B3" stroke-width="4"/>
<path d="M536.4,1312.1l2.9,2.9 5.5-2.1 4.4-0.3 4.8-1.9-0.2,4.3-1.8,5.2-2.8,6.8-2.2,4-4.4,5.4-4.4,4.1-3.3,4.1-2,3.2-1.3-2.2 0-2.4 0-7.6 2-3 0.2-0.8 2.9-1.6 3.7-0.5 6.6-8.2-2.2,0-6.6-2.7-2.4-5.1z" fill="#B9D6B3"/>
<path d="M532.9,1347.8l-3.1,2.7-2.2,5.4-3.3-3.5-0.2-1.1-7.9-5.4-0.2-3 2.4-4.3-1.1-4.1-1.1-2.7 4.2-1.1 2.2,0.6 2.4,2.2 3.3,0.5 3.3-1.4 2,0-2,3 0,7.6 0,2.4z" fill="#E0E9D2"/>
<path d="M516.2,1331.8l1.1,2.7 1.1,4.1-2.4,4.3 0.2,3-7.7,0-2,1.1 0.2-3.8 0.7-3.2 2.9-2.8-0.9-3.5 6.6-0.8z" fill="#B9D6B3"/>
<path d="M506.5,1347l2-1.1 0.7,3.8-2,1.1-2-0.3z" fill="#96C595" stroke-width="3.5"/>
<path d="M505.2,1350.5l2,0.3 2-1.1 0,2.4-3.1,3-0.5-3z" fill="#96C595" stroke-width="3.5"/>
<path d="M527.6,1355.9l-0.8,4.9 1.5,1.3-0.2,4.1 2.2,5.4-5.3,2.2-1.1,1.1-5.5-0.3-0.9-0.3-1.3-5.4-2.4-0.3-4.2-2.1-0.7-1.1-2.4-4.6-0.4-5.7 3.1-3 0-2.4-0.7-3.8 7.7,0 7.9,5.4 0.2,1.1z" fill="#96C595"/>
<path d="M530.3,1371.6l0.4,9.5 0.5,2.7-2.9,4.1-5.5,3.5-1.8,3-2.8,2.4-0.2,1.9 1.5,4.1 0,5.4-5.5,3.5-0.4,1.9 0.2,2.4-1.8-0.3-0.4-2.4 0.2-3.8-1.5-5.7 2.4-2.9 1.3-4.1-0.7-3.5 0.7-4.1-0.2-0.8-2.4-1.1-3.1-1.9-0.5-1.6 6.2-2.7 3.3,1.4-0.4,4 1.9,3 1.4-3 0.2-3-2-3.8-1.3-2.7 0.4-2.7 0.9,0.3 5.5,0.3 1.1-1.1z" fill="#96C595"/>
<path d="M513.8,1368.6l2.4,0.3 1.3,5.4-0.4,2.7 1.3,2.7 2,3.8-0.2,3-1.4,3-1.9-3 0.4-4-3.3-1.4-0.7-1.1 1.4-3.5 0-4.9z" fill="#96C595"/>
<path d="M508.9,1365.4l0.7,1.1 4.2,2.1 0.9,3 0,4.9-1.4,3.5 0.7,1.1-6.2,2.7 0.5,1.6-3.3,1.1-4.2,5.2-3.7-0.3-4.2-0.6-3.1-3.7 0-8.7 4.4,0 0-5.7 0.9,1.4 2-0.6 1.5,1.9 2.6-0.8 0.7,1.9 3.3,3 1.8,0 0-3.3-3.1-1.1 0.4-3.5-0.2-3.5 0.9-1.9z" fill="#96C595"/>
<path d="M497.1,1391.4l3.7,0.3 4.2-5.2 3.3-1.1 3.1,1.9 2.4,1.1 0.2,0.8-0.7,4.1 0.7,3.5-1.3,4.1-2.4,2.9-4.2-0.5-3.1-1.9-0.7-2.7-3.3-2.7z" fill="#FAE5DB"/>
<path d="M467.4,1390l0-4 1.5-6.3 2.4-3.2 0.5-3.5-1.4-5.4-0.8-5.5-1.1-2.4-0.3-0.8 2.7,0.3 7,0 0.7,3.5 1.3,2.2 1.1,0.2 2.2-0.2 1.1-2.8 2,0 3.1,0.9 0,5.9 1.1,2.2-0.3,2.1 4-0.5 0,5.7-4.4,0 0,8.7 3.1,3.7-4.4,0.9-6.4-1.4-9.9,0-1.1-1.1z" fill="#96C595"/>
<path d="M477.7,1420.6l-2.9-4.9-1.5-7.5 0-4.1-2.4-5.4-3.1-6.8-0.4-1.9 3.7-0.8 1.1,1.1 9.9,0 6.4,1.4 4.4-0.9 4.2,0.6-1.8,0.5-2.6,0-5.1,0.8 0,10.1-2.2,0 0,7.5 0,9.8-2.2,1.3-3.5-0.5z" fill="#E0E9D2"/>
<path d="M485.4,1410.3l0-7.5 2.2,0 0-10.1 5.1-0.8 2.6,0 1.8-0.5 1.9,4.6 3.3,2.7 0.7,2.7 3.1,1.9-2.4,1.1-3.1,4.6-2.9,3.5-2.4,0.3-3.3-1.1-2.2,3.5-2.6,0.5z" fill="#B9D6B3"/>
<path d="M513.8,1416l-1.1,4.3-3.1,4.1-2.2,3.5-3.3,3.5-3.3,2.8-2.9,1-7,0.3-5.5,1.9-3.5-1.6-0.2-4.1-1.1-4.6-2.9-6.5 2,0.3 3.5,0.5 2.2-1.3 0-9.8 1.8,5.4 2.6-0.5 2.2-3.5 3.3,1.1 2.4-0.3 2.9-3.5 3.1-4.6 2.4-1.1 4.2,0.5 1.5,5.7-0.2,3.8-1.8,0-0.6,2.4 1.1,1.4 1.7-1.4z" fill="#E0E9D2"/>
<path d="M511.6,1413.3l-1.8,0-0.6,2.4 1.1,1.4 1.7-1.4z" fill="#B9D6B3" stroke-width="3.5"/>
<path d="M500.8,1423.3l2.2-2.1 1.5-0.6 1.6,2.2-0.5,1.6-2.2,1.6-1.7-0.8z" fill="#606060" stroke-width="3.5"/>
<path d="M549.9,1375.7l2.6,9.5-1.5,4-0.9,2.7-3.5,13.6-1.8,5.4-4,1.3-3.3-2.7-0.8-6.7 2.4-5.5-0.9-6.7 1.1-3.5 4-1.4 3.7-5.1z" fill="#96C595"/>
<path d="M238.6,1303.9l0.4-1.8 0.7-2.2 2.6-0.3-2-3 0.9-1.6 4,0 0,5.2 2,0.5-2,1.9-0.5,1.6-1.5,1.6z" fill="#96C595" stroke-width="3.5"/>
<path d="M245.2,1294.7l2-1.6 0.4,2.7-1.8,4.4-0.6,0z" fill="#FFFFFF" stroke-width="4"/>
<path d="M245.2,1302.6l2-1.9 1.7-0.3 3.3-0.5 3.3,0.5 2.9,2.2-3.5,0.8-2,2.2-2.4,0.5-1.4,2.2-0.8-1.4-1.6-1.6-2-1.1z" fill="#96C595" stroke-width="3.5"/>
<path d="M249.1,1308.3l1.4-2.2 2.4-0.5 2-2.2 3.5-0.8-0.7,6.8-0.4,4-4.4-0.2-1.8-1.9-2.6-3z" fill="#76B580" stroke-width="3.5"/>
<path d="M252.9,1313.2l4.4,0.2 2.4,3.8-0.7,4.1-1.5-1.1-2.6-3.3-2.2-0.8z" fill="#FFFFFF" stroke-width="4.5"/>
<path d="M259,1321.3l0.7-4.1 3.5,2.2 3.1-2.2 4.8,2.4-1.1,3.8-1.3-2.7-2.6-1.3-1.6,1.6 0.5,2.4-2.2-0.5z" fill="#FFFFFF" stroke-width="4.5"/>
<path d="M254.6,1283.9l4.2-3 5.5-0.2 7.7,4 6.2,3.8-7.7,0.8-1.8-2.9-7.7-3.8z" fill="#FFFFFF" stroke-width="4.5"/>
<path d="M277.7,1293.4l3.1,0.5 2.7,0.6 0.2-4.6-2.9-0.6 0.5,2.5-1.6,1z" fill="#FFFFFF" stroke-width="4"/>
<path d="M283.5,1294.5l3.9-0.8 3.5-0.9-3-2.1-4.2-0.8z" fill="#FFFFFF" stroke-width="4"/>
<path d="M269.2,1293.4l4.4,0.8-2,0.8z" fill="#FFFFFF" stroke-width="4"/>
<path d="M293.6,1293.4l3.3,0.3-1.8,0.9z" fill="#FFFFFF" stroke-width="4"/>
<path d="M271.1,1319.6l1.4,1.9 2.6-4 1.3-3.5 1.8-1.4 4.8-2.4 1.6-0.3 0,1.4-2.7,2.1-1.1,4.9 1.3,2.4 0.9,3.6 4.4,0 5.5,2.1-0.6,5.4 1.7,6 0,2.2-6.1-1.4 0.6,3-1.1,2.1 1.3,2.7-1.1,8.2-1.7-1.1-4-3.8-2.4-3-3.7-3.2-2.7-1.1-2.2-0.8-2.8-2.2 0.6-3 2.7-4-0.3-5.4-1.1-3.6z" fill="#96C595"/>
<path d="M284.6,1311.3l-0.5,2.7 3.3-1.9 0-1.9 3.8,3.8 5,0.5 3.3,1.1 5.5-1.4 2.2,2.5 0.5,3.5 1.7,0-2.6,2.7 1.5,1.4-1.7,2.7 1.3,2.1 0,1.1-4.6,2.2-3.1-0.6 0.4,4.6-3.3,4.1-2.8-0.5-0.5,0 0-2.2-1.7-6 0.6-5.4-5.5-2.1-4.4,0-0.9-3.6-1.3-2.4 1.1-4.9z" fill="#B9D6B3"/>
<path d="M309.4,1320.2l3.3,3.5 2.9,3.3-0.2,2.1-1.6,3.3 1.1,1.9 2.2,3.8-5,1.6-2.5-3.3 0-5.4-1.7-1.9-1.3-2.1 1.7-2.7-1.5-1.4z" fill="#B9D6B3"/>
<path d="M315.6,1327l7,0.5-1.1,2.7 1.1,3.5-1.1,3.3-3.3,0.8-1.1,0.3-2.2-3.8-1.1-1.9 1.6-3.3z" fill="#B9D6B3"/>
<path d="M322.6,1327.5l4.4,3 0.7,1.9-2.2,4.6-4,0 1.1-3.3-1.1-3.5z" fill="#FFFFFF"/>
<path d="M327.7,1332.4l3.7,5.9 0,4.9 3.3,1.4 1.1,1.3 7.7,4.1 6.6,1.1 5.5,1.6 4,3.5 4.1,1.1 1.1,5.4-0.4,4.9-4.4,5.4-3.3,5.4-1.1,6.8-1.1,6.7-2.9,8.1-0.4,2.8-2.2,2.7-5.5,0.5-4,2.2-4.8,5.4-0.2,5.4-3.1,5.4-4.8,6-2.7,4 0.5-2.7-5.3-4.9-4.4-1.8 4-4.9 4.4-3.3-1.8-4.3 0.7-4.3-2.7,0-0.4-4.6-4.9-0.6-0.6-5.1 0.4-1.1 1.1-4.9-1.7-1.9-4.2-2.7-0.7-6.7-3.3-0.9-5.5-2.7-1.7-2.7 0-4.6-2.9,0.3-4.6,3-4.2,0 0-4.1-3.5,1.4-2.2-1.7 0.6-1-2.4-4.4 0.7-1.6 1.5-3.5 0.2-1.1 4.7-2.4 1.9,0 1.1-8.2-1.3-2.7 1.1-2.1-0.6-3 6.1,1.4 0.5,0 2.8,0.5 3.3-4.1-0.4-4.6 3.1,0.6 4.6-2.2 0-1.1 1.7,1.9 0,5.4 2.5,3.3 5-1.6 1.1-0.3 3.3-0.8 4,0z" fill="#96C595"/>
<path d="M268.1,1339.4l2.8,2.2 2.2,0.8 2.7,1.1-0.5,3.8-2.2,2.9-3.3,1.9-1.1,4.1-2.8-0.5-1.1-3.3 0.6-2.4-2.2-0.8 0.5-3.3 1.7-3.2 0-1.7z" fill="#76B580"/>
<path d="M264.8,1352.4l1.1,3.3 2.8,0.5 1.1-4.1 3.3-1.9 2.2-2.9 0.5-3.8 3.7,3.2 2.4,3 4,3.8 1.7,1.1-1.9,0-4.7,2.4-0.2,1.1-1.5,3.5-0.7,1.6 2.4,4.4-0.6,1 2.2,1.7 3.5-1.4 0,4.1 4.2,0-0.7,4 0.7,3.6-1.1,4 0.4,2.5-1.1,3.5-2,2.1-2.2-2.4-4.6-3-5.9-6.2-2.2-5.4-2.9-6.8-3.1-6.8-2.8-2.7-0.2-4z" fill="#76B580"/>
<path d="M290.3,1373l4.6-3 2.9-0.3 0,4.6 1.7,2.7 5.5,2.7 3.3,0.9 0.7,6.7 4.2,2.7 1.7,1.9-1.1,4.9-0.4,1.1-2-2.5-5.9,0.9-1.8,7-3.1-0.5-2.6,0.2-2.4-0.8-2,2.7-1.6,0-0.6-4-0.7-4.9-1.1-1.4-1.1-4 1.1-3.5-0.4-2.5 1.1-4-0.7-3.6z" fill="#76B580"/>
<path d="M313.4,1397.9l0.6,5.1 4.9,0.6 0.4,4.6 2.7,0-0.7,4.3-0.9,3.8-3.1,1.1-4.8-0.6 2.2-4.6-3.1-2.7-4.4-1.9-3.5-4.3 1.8-7 5.9-0.9z" fill="#B9D6B3"/>
<path d="M323.9,1434.4l0.5-2.7-5.3-4.9-4.4-1.8-1.3,6.2-0.5,4 3.1,1.7 4.4,0.8z" fill="#B9D6B3"/>
<path d="M293.6,1404.9l2-2.7 2.4,0.8 2.6-0.2 3.1,0.5 3.5,4.3 4.4,1.9 3.1,2.7-2.2,4.6 4.8,0.6 3.1-1.1 0.9-3.8 1.8,4.3-4.4,3.3-4,4.9-1.3,6.2-0.5,4 2.7,3.6-0.2,2.4 1.3,0.8-2,4.1-3.1,1.9-6.6,0.8-0.6,4.3-6,0.5 0,3.8 3.1,1.1-3.1,1.9-1.1,4.6-4.4,2.7 3.8,3.3-0.5,2.1-3.7,4.9-2.9,3 1.3,3.8-3.5-0.8-4.4,0-0.9-3.6-1.7-3.7 2-4.9 1.3-5.4 0-5.4-0.2-5.5 1.3-5.4 0.4-5.4 1.6-5.4 1.1-5.4-1.1-5.4 0.8-4.1 1.6-5.4 1.7-4.9-0.2-4.6zM290.5,1485.6l7.5,5.7-2.9,0.8-4.6-0.3z" fill="#FAE5DB"/>
<path d="M286.5,1392.7l2-2.1 1.1,4 1.1,1.4 0.7,4.9 0.6,4 1.6,0-2.9,4.6 0.2,4.6-1.7,4.9-1.6,5.4-0.8,4.1 1.1,5.4-1.1,5.4-1.6,5.4-0.4,5.4-1.3,5.4 0.2,5.5 0,5.4-1.3,5.4-2,4.9 1.7,3.7 0.9,3.6 4.4,0 3.5,0.8-5.5,3.5-5.7-3-3.9-6.8-0.5-8.1 3.3-5.4 1.1-8.1-0.4-6.8 1.1-6.7 1.5-4.1 1.8-5.4 0.4-6.8 0.2-5.4 1.4-6.8 0.6-8.1 0.9-6.8zM290.5,1485.6l0,6.2-3.1,1.1-4.4-2.2-4.4-4 6.6,2.1 1.8-2.7z" fill="#76B580"/>
<path d="M307.2,1483.4l5.5-1.3 1.6,1.1-3.8,1.6z" fill="#606060" stroke-width="5"/>
<path d="M387.5,1165.9l5.5-2.4 8.8,0.5 4.4-0.8 3.3,1.3 2.2,2.7-3.3,1.9-7.7,2.5-8.8-1.1 1.1-2.7-4.4-0.6z" fill="#B9D6B3" stroke-width="4"/>
<path d="M419.4,1203.5l1.1-4.6-1.1-2.4 3.3-2.7 2.6-0.3-1.7,2.2 2.4,1.1 1.8,0 0.4,2.9-0.9,2.2-3.5,1.1z" fill="#76B580" stroke-width="4.2"/>
<path d="M428.9,1207.8l4.8-1 3.3-0.6 7.5-1.6-2-0.8 2.6-3.3-3-0.8-1.1-3.2-3.1-3.3-3.1-1.6 2.2-3.2 0.4-1.1-4.8,0 2-2.7-4.2,0-1.8,2.9 0.7,2.8 0,2.9 1.1,1.7 3.3-0.3 1.1,4-3.3,0.3 0.9,2.7-2.4,1.1 4.4,1.4-2.9,1zM425.3,1193.5l2.9,0.3 1.1,1.9-1.5,1.1-1.8,0-2.4-1.1z" fill="#96C595" stroke-width="4.6"/>
<path d="M422,1229.8l1.4-0.3 3.5,0.3 0.9,0.8-1.6,1.6-0.2,3.5-1.1,0.3 1.1,3.8-0.9,2.7-3.3,0.5 0.2-3.7-1.5-1.1 1.3-3.8z" fill="#A7CEA4"/>
<path d="M422,1229.8l-0.8-3.5 2.6-1.4 4.8,0.3 4.4,0.2 4.4,0.3 5.5,1.6 2.2,0.9 3.3,0.2 0,1.4-2.2,1.3-2.8,1.7-2.7,3.5 1.1,1.9-1.9,3.2-2.9,2.2-5.3,0.3-2.2,1.6-2-1.4-2.4-1.6 0.9-2.7-1.1-3.8 1.1-0.3 0.2-3.5 1.6-1.6-0.9-0.8-3.5-0.3zM446.7,1236l2.2-0.8-0.5,1.6z" fill="#A7CEA4"/>
<path d="M437.4,1225.7l1.4-3.2 0-4.4-2.2-2.7-4.9-1.6-0.9-1.6 4-1.1 3.1,0.5-0.7-2.9 1.8,0.8 2.8-0.3 2.9-1.9 0.2-1.9 2-0.5 1.5,0.8 2.2,1.3 1.4,0.4 2.2,1.8 1.3,0 3.9,1.4-1.3,3.7-1.5,0.9-1.8,2.9 1.6-0.5 0.4,1.3-0.2,4.1 1.3,1.6-2.9,1.9-2.6-0.8-2.2-0.3-2.2,0.9 0.4,2.1-3.3-0.2-2.2-0.9zM460.3,1229.8l1.8-3 0.2,4.3z" fill="#A7CEA4"/>
<path d="M446.9,1204.9l2-0.8 3.5-0.3 2,1.1-0.5,0.8 0.9,0.3 0.7,1-0.7,0.6-0.6,1.6-2.2-1.8-1.4-0.4-2.2-1.3z" fill="#B9D6B3" stroke-width="4"/>
<path d="M448.9,1204.1l1.3-1.7 1.5-2.7 2.9-1.3 2.6,0.5-0.4,2.2-0.7,1.6-1.5,0.3 0.4,1.6-0.6,0.3-2-1.1z" fill="#B9D6B3" stroke-width="4"/>
<path d="M454.2,1209.2l0.6-1.6 0.7,1.6z" fill="#B9D6B3" stroke-width="4"/>
<path d="M457.2,1198.9l2.9-0.8 0.2-3.5 2.9,0.3 2.4,2.1 3.3-1.1 3.7,1.4 0.9,3.5 0.2,4.3-0.8,0-4.9,1.9 3.8,4.1-2.2,1.6 0.4,1.9-5.5,0-2,0-4.4-0.3 1.3-3.7-3.9-1.4-0.7-1.6 0.7-0.6-0.7-1-0.9-0.3 0.5-0.8 0.6-0.3-0.4-1.6 1.5-0.3 0.7-1.6z" fill="#B9D6B3"/>
<path d="M460.3,1194.6l-1.1-1.9 0.2-3.8 2.9-0.5 2.4-1.4-0.4,3.3 1.1,0.2-2,2.5-0.2,1.9zM466,1192.4l3.1-0.8-0.2,1.9-1.5,1.1z" fill="#B9D6B3" stroke-width="6"/>
<path d="M456.8,1186.2l-3.3-2.7-1.1-4.1 0-3.5 2.2-1.9 5.5-3 4.4-2.4 3.3-2.7 2.2-4.1 3.1-0.8 2.4-2.7 4.4-2.4 3.3-1.4 5.5-1.3 4.4-1.7 5.1-0.8 4.8,0.3 6.6,1.9-2.2,1.6 1.8-0.2-4,1.8-2.2-2.4-4.4,0.3-0.7,1.9-4.4,1.1-5.9-0.6-1.1-0.1-5.3,1.5-3.5,2.7-3.3,3.5-2.2,4.6-4,2.7 0,5.4 1.4,0.6-2.2,4-1.4,2.2-1.3-0.8-0.2-1.6-3.3,3.5z" fill="#96C595" stroke-width="4"/>
<path d="M466,1183.5l1.6,3.5 1.5,4.1 0.7,2.1 3.1-0.2 3.5-1.7 1.3-1.9 0.2-2.7 0.9-2.4 4-2.4 0.2-1.4-3.5-1.6-0.3-3.5 1.8-2.2 4.4-2.4 2.6-2.5 1.8-2.7 4.6-0.5-0.9-1.9 0.5-2.7-2.4-2.5-5.1-1.7-5.3,1.5-3.5,2.7-3.3,3.5-2.2,4.6-4,2.7 0,5.4 1.4,0.6-2.2,4z" fill="#96C595"/>
<path d="M494.4,1165.1l2.9,2.1-3.1,2.8-5.5,2.4-0.2,5.7-0.2,1.1 1.9,0.5 1.8,1.6 4.4-1.1 6.2-0.8 3.7-2.7 4.4-3.8-3.3-2.4 0.2-5.1-2.2-3.3 2-2.2-3.3-1.3 0.9-2.5 0.2,0-2.2-2.4-4.4,0.3-0.7,1.9-4.4,1.1-5.9-0.6-1.1-0.1 5.1,1.7 2.4,2.5-0.5,2.7z" fill="#4FA562"/>
<path d="M493.1,1182.9l2.6-0.8 7.3,0-1.3,5.4-3.1-0.8-2.2-0.5-1.5,0.3 0.4-1.4-2.2-0.8z" fill="#E0E9D2" stroke-width="4"/>
<path d="M494.9,1186.5l-0.5,2.1-2.4,0-0.9-1.6-2.6,0.8-0.9,1.6 0.1,1.9 2.1-0.8 5.5,0.3 3.3,1.6 1.3,0 3.5-1.2-0.8-3.1-0.9-0.6-3.1-0.8-2.2-0.5z" fill="#E0E9D2" stroke-width="3.5"/>
<path d="M487.7,1191.3l0.3,2.2 3.1,0.8 0.5,1.6 1.5,1.3 1.1,0.1 3.3-0.8 0.7-1.9 1.7-2.2-1.3,0-3.3-1.6-5.5-0.3z" fill="#E0E9D2" stroke-width="3.5"/>
<path d="M484.5,1195.8l0.9-1.3 2.6-1 3.1,0.8 0.5,1.6z" fill="#B9D6B3" stroke-width="3.5"/>
<path d="M472.6,1197.3l5.1-1.6 4-0.8 1.1,1.2 1.7-0.3 7.1,0.1 1.5,1.3 0.9,3.3-1.6,1.1 0.9,2.2 0.9,2.7-3.1,3.8-3.5-0.8-2.6,0.5-2-0.8-4.2-2.2-2.2-0.8-2.6-0.8-0.3-0.3-0.2-4.3z" fill="#E0E9D2"/>
<path d="M468,1207l4.9-1.9 0.8,0 0.3,0.3 2.6,0.8 2.2,0.8 4.2,2.2-4.2,1.9-0.2,0.5-4.2-1-2.6,0.5z" fill="#E0E9D2"/>
<path d="M478.6,1211.6l0.2,1.7 4,0.5 3.7-1.9 3.5,0.3 1.1-1.9-3.5-0.8-2.6,0.5-2-0.8-4.2,1.9z" fill="#96C595"/>
<path d="M462.5,1214.6l2,0 5.5,0-0.4-1.9 2.2-1.6 2.6-0.5 4.2,1 0.2,1.7-2,2.9-0.2,0.6-3.3,0.8-1.8-0.3-3.3-1.3-3.7,0.2-2.2-0.5z" fill="#96C595"/>
<path d="M454.8,1218.1l1.8-2.9 1.5-0.9 4.4,0.3-0.2,1.1 2.2,0.5-0.9,1.9-2.4,0.8-1.3-1-3.1,1-0.4-1.3z" fill="#96C595" stroke-width="4"/>
<path d="M457.9,1224.6l2.9-1.6 3,1.4 0.7,2.7 3.7,3.2 2.9,1.4 1.8,1.1 2.8,2.1 0.9,2.7-0.7,2.7 1.8-0.8 1.5-1.9-1.5-1.9 1.1-2.1 3.3,1.3-1.1-1.9-4-3.2-2.6-0.3-3.1-4.3-2.6-1.6-0.2-3 3.3-0.8-0.5-1.1 0.2-1.4-3.3-1.3-3.7,0.2-0.9,1.9-2.4,0.8-1.3-1-3.1,1-0.2,4.1zM468.7,1240.3l7-0.8-1.1,4.4-5.7-2.5zM459.4,1237.6l0-5.1 3.3-0.8-0.2,5.4z" fill="#B9D6B3" stroke-width="3.6"/>
<path d="M471.3,1218.7l0.2-1.4 1.8,0.3 3.3-0.8 1.1,0.5-2,0.8-0.6,1.9-3.8,0 0.5-0.2z" fill="#96C595" stroke-width="4.5"/>
<path d="M471.3,1220l3.8,0 0.6-1.9 2-0.8 2.2,1.6 3.1,0 1.1,1.9-0.9,0.9-2.2-0.6-4.8-0.3 0.2,2.8 3.7,3.2 2,1.4-2.2-1.4-3.3-1.4-1.8-1.8-1.5-3-1.3,1.3z" fill="#96C595" stroke-width="4.5"/>
<path d="M476.2,1220.8l4.8,0.3 2.2,0.6 1.3,2.4-0.9,1.3-1.1,0.9-0.4,1.9-2-1.4-3.7-3.2z" fill="#96C595" stroke-width="4.5"/>
<path d="M484.1,1220.8l-1.1-1.9 2.8-0.5 2.9,2.4 2.2,1.4 0.4,1.4 0.7,2.7-1.3,1 0,1.4-1.8,0.3-2.2,0.5-1.1-1.6-0.2-0.3-1.8-2.2 0.9-1.3-1.3-2.4z" fill="#96C595" stroke-width="4"/>
<path d="M482.1,1228.2l0.4-1.9 1.1-0.9 1.8,2.2-1.3,2.2z" fill="#96C595" stroke-width="4.5"/>
<path d="M484.1,1229.8l1.3-2.2 0.2,0.3 1.1,1.6-0.2,1.9 1.1,1.4-0.7,1.8-1.5,1.1-1.3-1.6 0.2-2.7z" fill="#96C595" stroke-width="4.5"/>
<path d="M486.5,1231.4l0.2-1.9 2.2-0.5 1.8-0.3 1.3,2.7-2.2,0.5-2.2,0.9z" fill="#96C595" stroke-width="4.5"/>
<path d="M485.4,1235.7l1.5-1.1 0.7-1.8 2.2-0.9 2.2-0.5 3.3-0.5 3.3,0.5 1.3-0.8-0.6,1.9-5.1,0-0.4,2.4-2-1.3 0,3.2 2.4,3 0,1.3-2.2-0.5 0.4,3.8-1.7,0-1.6-0.8-0.8-2.5-0.5-1.6-0.9-1.3zM493.1,1247.1l6.2,0.8-4,0.6z" fill="#96C595" stroke-width="5"/>
<path d="M491.3,1223.6l2.9,1.3 4.4-0.5 2.2-0.6 3.5,1.1-1.5,2.4 0.2,2.2-3.7,0.8 0.6,0.3-1.3,0.8-3.3-0.5-3.3,0.5-1.3-2.7 0-1.4 1.3-1z" fill="#96C595"/>
<path d="M485.8,1218.4l2.2-0.8 2-4.1 1.8-0.2 3.5,0.2 4.6-1 3.3,3.7 0.2,3.8 3.3,0.6-2.4,4.3-3.5-1.1-2.2,0.6-4.4,0.5-2.9-1.3-0.4-1.4-2.2-1.4z" fill="#96C595"/>
<path d="M476.8,1216.2l2-2.9 4,0.5 3.7-1.9 3.5,0.3 1.8,1.1-1.8,0.2-2,4.1-2.2,0.8-2.8,0.5-3.1,0-2.2-1.6-1.1-0.5z" fill="#96C595"/>
<path d="M499.9,1212.5l3.1,0 2.6,1 1.8,3.8-4,2.7-0.2-3.8z" fill="#B9D6B3" stroke-width="3.5"/>
<path d="M491.1,1210.3l3.1-3.8-0.9-2.7 3.1-1.1 5.5,1.1 6.6,0.5 2.9-2.1 4.4-0.8 3.7,5.1 5.5,1.6 4.4,0.8-0.7,4.6-3.3,2.2-7,2.4 1.1,2.5 2.2-0.3-3.3,1.6-3.3,0.8-2.2-2.4 2.4-1.9-3.9-0.5-2.5-0.6-2.2,3.3-3.3-0.6 4-2.7-1.8-3.8-2.6-1-3.1,0-4.6,1-3.5-0.2-1.8-1.1z" fill="#E0E9D2"/>
<path d="M493.3,1203.8l-0.9-2.2 1.6-1.1-0.9-3.3 1.1,0.1 3.3-0.8 0.7-1.9 1.7-2.2 3.5-1.2 6,1.5-0.2,2.2 1.1,1.6 3,2.1-2.8,0.9 0.9,2.7-2.9,2.1-6.6-0.5-5.5-1.1z" fill="#A7CEA4"/>
<path d="M512.5,1248.5l1.5-1.1 3.5-0.8-1.3,1.9-2.2,1z" fill="#96C595" stroke-width="4"/>
<path d="M509.2,1154.3l4.8,1 6.6,0.6 11.4,6.5-7,1.9-7.7-1.4-4.4-1.3 5.1,7 4.8,1.6 2.2-1.9 5.5,0-1.1-3.8 4.4-1.3 4.4,1.3 0-6.7 5.5,1.9 3.3,0.2 11-1.6 4.4-0.8 4.4,0 6.6-1.1 1.1-2.1 8.8,1.3 4.4,2.4 3.3,0.3-2.2-3.2-0.5-3.6 3.8-5.9 3.3-1.1 5.5,1.9 0.6,4.6 1.6-1.4 3.3-2.7 6.6,0.9 5.5-3.6 13.2-0.8 1.1-1.9 17.6-4.3 11-1.1 9.4-3.2 6,2.4 11,0.8 3.3,2.7-7.7,3.3 6.6,1.3 13.2,1.9 11-1.6 8.8,1.1 3.3,6.2 3.3,0.5 4.4-1.9 11,0 4.4-2.7 13.2,0.6 8.8,1.9 4.4,1.9 15.4,3 4.4,0.8 8.8-0.3 6.6-0.8 5.5,2.4 0-3 12.1,0.9 8.8,2.4 0,10.5-5.5,0.9 3.9,5.9-11.6,1.9-7.7,4.9-9.9-0.8-5.5,1.1-1.1,5.1-1.1,4.9-1.6,3.2-3.9,4.9-3.8,3.8-3.5,2.1-2.4-5.4-0.2-5.4 1.1-5.4 4.4-4.1 7.7-5.4 4.4-2.7 2.2-2.7-9.9,2.2-7.7,0.5-4.4,5.4-7.7,0.6-6.6-0.3-11,0.3-5.5,3.5-6.6,8.1-4.9,0.8 4.9,1.9 5.9,0.3 2.7,1.6-2,6.2 0,6.8-4.4,5.4-5.5,5.7-6.2,4.3-2.8-0.8-2.7,2.2-0.2-1.1 1.3-2.2-0.4-3.7 4.4-0.6 3.3-7 0.6-1.9-8.3,1.9-0.7-3.3-7-2.4-3.3-7.9-5.5-2.1-5.7,0.5-2,1.6-1.6,6.5-3.3,1.9-2.4-0.5-3.7-1.1-6.6,2.2-7.7,0.2-7.7-2.9-6-0.6-0.6-2.1-6.8-1.9-2.5,2.9 1.1,1.4-7.2,1.3-6.6-1.8-9.3,4-1.1,0.3-4.6-1.4-4.8-3.8-6.6,0.6-4.6-6.8-3.1-2.4-6.8,1.9 0.8-1.6-6.1-0.3 0-3-4.4-0.3-8.4,2.7-8.1,1.4-1.1,2.4-2.2,3.3 3.3,1.3-0.2,1.4-6.2-0.6-6.4,1.1-7.5-3-3.3,0-4.6,3-0.6,2.2-3.5,2.4 1.3,3 3.5,3.8-3.3,2.2-1.1,2.9 1.3,4.1 2,3-4,0.2-0.6-0.2-5.3-1.9-1.1-0.6-7.7-1.6-4-2.7-0.8-0.8-2.7-1.4 2-2.1 1.5-2.2 2.5-0.8-2.5,0 3.3-2.2 0.7-4.6-4.4-0.8-5.5-1.6-3.7-5.1-4.4,0.8-0.9-2.7 2.8-0.9-3-2.1-1.1-1.6 0.2-2.2-6-1.5-0.8-3.1-0.9-0.6 1.3-5.4 4.4-1-3.3-1.7-1.5,0 3.7-2.7 4.4-3.8-3.3-2.4 0.2-5.1-2.2-3.3 2-2.2-3.3-1.3 0.9-2.5 0.2,0zM45.4,1156.7l11,3.8 7.7,1.6 4,2.2-6.2,4.6-6.6-1.1-5.5-1.9-4.4,1.3zM753.8,1196.2l2.8,4.9-0.2,8.1 3.3,1.6-3.7,5.7-1.1,2.2-1.1-4.4 0-7.8-0.7-5.4z" fill="#B9D6B3"/>
<path d="M465.6,1129.6l6.6-2.4 13.2-1.1 15.4,0.3-11,4.3-8.8,4.9-8.8-2.5z" fill="#606060" stroke-width="5"/>
<path d="M499.3,1232.5l0.6-1.9-0.6-0.3 3.7-0.8 2.4,2.2 5.3,0 4.4-2.2 3.3-0.3 3.3,2.2 4.4,1.1 6.6-1.6 4.4,1 0.4,2.7 2.5,1.1-1.4,0.8 0.7,3.8 0.7,2.2-5.3,0.3-0.2-0.3-5.1,1.1-4.4,0-2.9,0-1.1,2.4-0.4-2.4-3.1,0-2.2,1.9-3.5-1.1-3.1-0.8-2,1.9-3.7-1.6-1.5-0.9-0.3-3.7-2.2,0.2 1.4-2.7-1.6-0.5 0.2-1.7 2.9-0.8 3.3-0.2 0.2-1.4-3.5,0.3z" fill="#4FA562"/>
<path d="M529.4,1225.7l3.3,5.2 4.4,1 3.3-0.5 3.1-1.6-5.3-1.9-1.1-0.6z" fill="#96C595" stroke-width="3.5"/>
<path d="M537.1,1231.9l3.3-0.5 1.1,1.9 2.2,3 0,1.6-1.1-1.1-2.6-1.1-2.5-1.1z" fill="#96C595" stroke-width="3.5"/>
<path d="M540.4,1231.4l3.1-1.6 0.6,0.2 4-0.2 2.2,3.5 1.7,0.5-2.1,3-0.9,2.5-2-1.1 0-2.2-3.3,1.9 0-1.6-2.2-3z" fill="#96C595" stroke-width="3.5"/>
<path d="M521,1246l1.1-2.4 2.9,0 4.4,0 5.1-1.1-2.9,7.6-4.8,2.7-4.4,3-2.5-1.1 0.3-1.6 1.7-2.5-0.6-1.1-0.9-0.1 0-2.3z" fill="#96C595"/>
<path d="M518.6,1253.6l1.8-4.2 0.9,0.1 0.6,1.1-1.7,2.5z" fill="#96C595" stroke-width="4"/>
<path d="M516.6,1258.5l1.6,4.8 1.1-4.6 0.2-0.8 0-2.4 0.4-0.8 0.3-1.6-1.6,0.5-0.9,3z" fill="#96C595" stroke-width="4"/>
<path d="M518.2,1263.3l2.4,0.9 3.3-2.2-1.1-4.1 4.4-1.3 0.4-0.6-0.8-3.2-4.4,3-2.5-1.1-0.4,0.8 0,2.4-0.2,0.8z" fill="#96C595"/>
<path d="M534.5,1242.5l0.2,0.3 5.3-0.3 1.5,3.2 1.5,2.2-1.7,3.3 1.7,2.1 3.6,3.8-0.3,2.2 2,3-1.3-0.3-0.7-0.3-2.6,2.7-4-0.2-5.9-5.2-3.5-2.2-2.7-0.8-0.8-3.2 4.8-2.7z" fill="#96C595"/>
<path d="M543.7,1264.4l2.6-2.7 0.7,0.3 0.9,4.1-2,0z" fill="#96C595" stroke-width="4"/>
<path d="M518.2,1263.3l2.4,0.9 3.3-2.2-1.1-4.1 4.4-1.3 0.4-0.6 2.7,0.8 3.5,2.2 5.9,5.2 4,0.2 2.2,1.7 2,0 1.3,2.7 2.6,2.1-0.2,3.3 1.5,2.1 0.9,0.3 0.9,1.1 2.2,3.5 5.7,0.6 0.9,1.8-1.3,5.5-6.6,2.7-6.6,1-4.4,4.4-1.3-0.6-2.7-0.5-3.9-0.3-0.5,2.2-0.8,0.8-0.7-1.6-3.3-5.4-4-6.8-1.5-5.4-2.9-4.1-2.6-5.4-2.2-3-0.9,0z" fill="#96C595"/>
<path d="M535.6,1298.8l0.8-0.8 0.5-2.2 3.9,0.3 2.7,0.5 1.3,0.6 4.4-4.4 6.6-1 2.4,6.5-2,2.7-7,4.3-8.8,3.3-3.3,0.2-0.7-1.6-0.8-4.6z" fill="#96C595"/>
<path d="M558.2,1298.3l-2.4-6.5 6.6-2.7 1.3-5.5-0.9-1.8 1.8-3.8 0.9-2.2 1.3,2.4 3.5,1.1 2.6,3-2.8,5.7-1.6,3.8-3.3,2.9-2.8,2.5z" fill="#96C595"/>
<path d="M554.9,1277.7l2.2,3.5 5.7,0.6 1.8-3.8 0.9-2.2-0.7-3-1.8,1.9-2.2,2.4-3.7,0.6z" fill="#96C595" stroke-width="3.5"/>
<path d="M553.1,1276.3l0-2.4 0.9-1.4 0.9,2.2 0,1.9-0.9,0z" fill="#96C595" stroke-width="4"/>
<path d="M538.6,1236.5l1.4-0.8 2.6,1.1 1.1,1.1 3.3-1.9 0,2.2 2,1.1 1.3,2.4 2.2,1.3 3.3,1.1 4.4-0.8-0.2-1.1 3.5-1.9 3.7-0.5 4.6,1.9 4.2,2.4 0,2.7-1.5,5.2 0.9,5.9 1.9,0.3-1.9,4.3 1.7,3 2.4,1.4 1.1,2.9-0.2,1.1-3.1,1.4-0.4,2.7-5.7-0.6-3.8-0.8-1.1-3.8-5,1.4-3.3-1.1-3.3-2.2-1.6-3.2-1.7-3.3-2.2-0.5-0.9,1.4-2-3 0.3-2.2-3.6-3.8-1.7-2.1 1.7-3.3-1.5-2.2-1.5-3.2-0.7-2.2z" fill="#76B580"/>
<path d="M560,1242.2l-0.9-5.9-1.3-1.4-0.3-3.2-0.6-1.7 2.2-1 2.6,0.5 1.8,1.9 1.1,0 2.2,0 0.2-2.7 3.1-1.1 3.3,1.4 2.8,2.7 2.5,3.2 4.4,3 4.6,2.4 0,1.7-3.8,0.8-0.6,2.1-3.8,2.5-3.5-0.6 0-2.7-4.2-2.4-4.6-1.9-3.7,0.5z" fill="#96C595"/>
<path d="M564.6,1231.4l0-10 5.7-1.6 5.3,3.2 2.2,2.4 6.4-0.5 2.6,1.9-0.2,2.7 4.4,2.7 4.8-2.7 1.8-0.8 0.4,0.3 4,3.8-2.9,1.6-2.6-0.3-2.7-1.3-1.3,3.5-2.8,0.5 0.8,5.7-2.8-0.5 0-1.7-4.6-2.4-4.4-3-2.5-3.2-2.8-2.7-3.3-1.4-3.1,1.1-0.2,2.7z" fill="#96C595"/>
<path d="M633.4,1210.3l-3.3,1.9-0.6,3.5-5.5-0.3-1.6,4.6 0.7,0.8-5.7,0.6 0.4,7.8-2.6-1.9-7.3-0.2-3.7-0.8-1.1,2.1-5.1-0.8-0.4,1.1-1.8,0.8-4.8,2.7-4.4-2.7 0.2-2.7-2.6-1.9-6.4,0.5-2.2-2.4-5.3-3.2-5.7,1.6 0,10-1.1,0-1.8-1.9-2.6-0.5-2.2,1 0-2.7-3.3-4.6-1.6-0.2 2-1.9 4,0 0-4.4-4-0.5-4.8,1.9-3.5-3.8-1.3-3 3.5-2.4 0.6-2.2 4.6-3 3.3,0 7.5,3 6.4-1.1 6.2,0.6 0.2-1.4-3.3-1.3 2.2-3.3 1.1-2.4 8.1-1.4 8.4-2.7 4.4,0.3 0,3 6.1,0.3-0.8,1.6 6.8-1.9 3.1,2.4 4.6,6.8 6.6-0.6 4.8,3.8z" fill="#96C595"/>
<path d="M597.6,1228.7l0.4-1.1 5.1,0.8 1.1-2.1 3.7,0.8 7.3,0.2 2.6,1.9-3.7,1.9-3.8,1.4-2.2,1.3-2.2-0.2-2.2,1.9-0.2,1-3.7,0-2.9-0.5-0.4-1.9 2.6,0.3 2.9-1.6-4-3.8z" fill="#96C595"/>
<path d="M590.5,1242.5l-0.8-5.7 2.8-0.5 1.3-3.5 2.7,1.3 0.4,1.9 2.9,0.5 3.7,0 0.2,2.5 2.5,0 0.2,3-0.2,0.5-3.6-0.5-3.5,1.9-0.4-3.6-2.9,0.3-2,2.2z" fill="#96C595"/>
<path d="M574.5,1252l0.9,5.9 1.9,0.3-1.9,4.3 3.5,1.1 3.7-0.3 4.6-1 0.3-2.7 3.5-2.2 2.8-0.6 0.5-2.9 1.7-0.8-0.6-1.9 2.4-0.3 1.1-3-0.7-2.7 2.7-1.6 4.6-0.6 0.7-0.5-3.6-0.5-3.5,1.9-0.4-3.6-2.9,0.3-2,2.2-3.3-0.3-2.8-0.5-3.8,0.8-0.6,2.1-3.8,2.5-3.5-0.6z" fill="#96C595"/>
<path d="M576.9,1275l0.4-2.7 3.1-1.4 0.2-1.1-1.1-2.9-2.4-1.4-1.7-3 3.5,1.1 3.7-0.3 4.6-1 0.3-2.7 3.5-2.2 2.8-0.6 0.5-2.9 1.7-0.8-0.6-1.9 2.4-0.3 1.1-3-0.7-2.7 2.7-1.6 4.6-0.6 2.6,0.9 2.2,2.9 2.2,0.3-1.7,1.6-6.6,0.6-0.5,4.3 1.8,1.1 1.5,1.1-1.7,3.2-1.3,3-2.2,3-2.2,2.7-3.3-0.3-2,2.7 1.5,3.3 1.6,3.7-4.7,0.3-1.3,1.6-1.7-1-1.6-1.9-0.4-1.9-4.4,0.8z" fill="#96C595"/>
<path d="M591.4,1279l1.3-1.6 4.7-0.3-1.6-3.7-1.5-3.3 2-2.7 3.3,0.3 2.2-2.7 2.2-3 1.3-3 1.7-3.2-1.5-1.1-1.8-1.1 0.5-4.3 6.6-0.6 1.7-1.6 2.5,3-0.5,4.9 1.1,0.2-1.1,3.5 5.1,2.7-2,3.8 4,2.5 3,1.3 3.1,0.6 2.4,1.6 5.1,0.5 0-4 1.5-0.6 0.3,2.2 0,1.1 1.9,0.5 4.9-0.5-0.7-2.5 0.9,0.9 3.1-3.3 4.4-1.1 3.9,2.2-0.6,1.6 0.2,1.6-2-0.5-2.2,1.9-1.3,3.8 0.2,1.3-1.1,2.2-1.7-0.3-0.3,3-0.4,1.9-1.1,0.6-0.7-4.7-2.4,0.6 0.5-1.6 1.9-2.2 0.3-0.3-5.3-0.8-0.5-1.9-3-1.3-0.7,1.9 1.8,1.6-1.8,1.9 1.3,0.8-0.2,2.7 0.9,3 0.2,0.8-2,0.3-2.6,0.8-0.2,1.6-1.1,2.2-3.1,1.9-2,2.7-4,4.6-2.2,0.8-2.2,1.6-0.4,5.7 0.4,1.3-1.1,3.8 0.3,3.8-1.4,0-0.8,2.7-1.6,1.1-1.5,2.2-2.2-2.5-0.7-2.7-1.1-3.8-2-4-0.8-4.4-2-4-1.1-5.4-0.5-2.7-0.2-3.3-0.2-3.5-0.2-1.1-0.9,1.9-2.4,1.4-2.2-0.8-2.2-3.6 1.5-0.5 1.3-1.4-2.4,0.3-1.5-1.1z" fill="#96C595"/>
<path d="M617.6,1265.2l2-3.8 2.6,0.3 3.8,2.2 2.8,1.9 1.8,1.6 4.6,0.3 0,4-5.1-0.5-2.4-1.6-3.1-0.6-3-1.3z" fill="#76B580"/>
<path d="M637,1269.3l1.9-2.4 4,1 0.9,2.5-4.9,0.5-1.9-0.5z" fill="#76B580" stroke-width="3.5"/>
<path d="M637.4,1284.2l-0.2-0.8-0.9-3 0.2-2.7-1.3-0.8 1.8-1.9-1.8-1.6 0.7-1.9 3,1.3 0.5,1.9 5.3,0.8-0.3,0.3-1.9,2.2-0.5,1.6 2.4-0.6 0.7,4.7-0.7,3.5-1.1-4.4-2.8,0.8z" fill="#76B580" stroke-width="3.5"/>
<path d="M617.4,1316.7l2.6,3.5 1.3,2.7-0.4,3-2.2,1.3-1.5-2.7-0.3-3.8z" fill="#96C595" stroke-width="4"/>
<path d="M644.4,1287.2l0.7-3.5 1.1-0.6 0.4-1.9 0.3-3 1.7,0.3 1.1-2.2-0.2-1.3 1.3-3.8 2.2-1.9 2,0.5-0.2-1.6 0.6-1.6 2.2,1.9 0.9,0.3 0,4.3-2.4,4 0.4,1.4 2.5,1.9 1.3,0.8-0.7,2.2 2.2,1.6 2.1-0.3-2.3,3.3-2.4,1.6-2.2,0.3-1.3,3.2 0.8,2.5 1.6,2.9-0.7,3.8 2.2,3.8-0.2,5.4-0.7,3.5-0.4,1.1-0.2-4.8 0.2-3.3-1.8-4.9-0.2-4.6-2-1-3,2.9-2.5-0.5 0.7-4.1-0.9-3.5-1.5-2.7z" fill="#76B580"/>
<path d="M661.6,1288l0.9,0.5 1.5,1.9 0.2,4.1-0.6,1.3 2.4-1.9 2.4-0.2 1.8,0 1.5,2.1 0.2,3 1.8,2.2-0.2,3.2-1.6,0-3.9,0.3-1.3,1.9 1.1,5.1-1.6-1.6-2.6-1.1-0.2-2.1-2,0.2-0.2,3.8-1.6,4.3 0.2,3.3 1.6,1.9 0.9,3.5 2.4,0.8 1.3,1.9-2.2,1.4-2.2-2.2-1.1-1.9-2.9-2.2 0-2.7 0.7-2.7 0.4-1.1 0.7-3.5 0.2-5.4-2.2-3.8 0.7-3.8-1.6-2.9-0.8-2.5 1.3-3.2 2.2-0.3z" fill="#B9D6B3"/>
<path d="M661.6,1288l2.3-3.3 1.2-2.4 1.1,0.3 1.6,1.9 2.4,3.5 0.9,2.1 1.7,2.5 2.9,4.6 2.2,5.1 0,1.1-3.3,0.8-1.1,0 0.2-3.2-1.8-2.2-0.2-3-1.5-2.1-1.8,0-2.4,0.2-2.4,1.9 0.6-1.3-0.2-4.1-1.5-1.9z" fill="#76B580"/>
<path d="M666.2,1282.6l2.9-0.6 3.9-1.9 3.1,1.4 2.9,3.5-2.9,2.2-2.2,4.6 1.8,3.5 3.9,4.6 2,6.8 0,4.6-4.4,3.7-1.1,2.5-4.2,2.4 0.5-3.8-1.1-1.1 2.2-1.6 1.5,0 2.9-4 0-6 0-1.1-2.2-5.1-2.9-4.6-1.7-2.5-0.9-2.1-2.4-3.5z" fill="#96C595"/>
<path d="M667.8,1311.5l-1.1-5.1 1.3-1.9 3.9-0.3 1.6,0 1.1,0 3.3-0.8 0,6-2.9,4-1.5,0-2.2,1.6-2.2-0.5z" fill="#76B580"/>
<path d="M661.6,1325.6l2.2,2.2 2.2-1.4 2.9,3.8 0,3.5 1.7,5.7-1.5,0.3-4.6-4.1-1.8-3.8-0.7-3.5zM682.5,1338.3l4-1.6 3.5-2.2 2.2-3.8 3.3-1 2.8-5.2 2,1.4 3.3,3.2-2.6,2.5-0.9,0.2-4-0.2-1.7,3.5 0,1.3-2.2,3-4,0-2.6,1.1z" fill="#96C595" stroke-width="4"/>
<path d="M651,1328l4.9,1.1 1.1,2.7 4.4,3.8 3.3,2.2 3.3,3.5 1.7,3.3 1.6,3.5 3.3,3.2-0.2,7.6-1.6,0.3-2-1.7-4.4-3.5-2.8-4-1.6-4.4-2.8-3.8-0.7-3.2-3.3-4.1zM672.8,1361.6l1.8-2.4 5.5,2.1 4.4,0.6 1.1-1.4 3.7,1.4 4,2.1-0.2,2.8-7.5-1.1-5.5-1.4-4.6-1.1zM682.5,1338.3l3.1,2.2 2.6-1.1 4,0 2.2-3 0-1.3 1.7-3.5 4,0.2 0.4,4.9 2.7,3.8-3.1,0.5-0.2,3.8-2.7,2.7 0.5,1.9-1.1,3.8-2.9,1.1-2.6-1.9-4,0-3.3-1.3 0-3.3-2.4-2.4-0.2-3zM704.3,1358.1l0.4-5.4-1.7-2.5 1.9-6.7 2.2-3.8 4.9,0.8 4.8-1.6-1.5,3.2-7.7-0.3-2,3.8 3.1,0 4.2,0-3.8,2.7 2.4,5.5-0.6,3.5-2-1.1-1.5-5.7-1.1,2.2 0,5.4zM729.6,1345.4l6.6,0 2.2,6.7 5.5-4.6 7.7,2.7 0,17.6-6.6-2.1-0.5-7.9-6.1-2.7-4.4-1.1-0.5-3.2-3.3-4.1zM694.4,1365.4l4.4,0.3 4.4,0 4.4,0.2 4.4-0.5 0,1.6-6.6,0.3-6.6,0.3-3.3-0.6zM713.3,1371.1l3.1-3-1.8,0.5zM721.9,1345.4l1.1-7.1 1.7,4.1-1.7,3.2zM718.6,1351.9l4.4-0.8 6.1,1-5,0.8z" fill="#96C595" stroke-width="4"/>
<path d="M716.4,1368.1l4.4-2.2-1.1,1.7z" fill="#FFFFFF" stroke-width="4"/>
<path d="M692.2,1330.7l2.6-1-0.4,2.1z" fill="#96C595" stroke-width="4"/>
<path d="M751.6,1350.2l7.7,3.3 3.3,4.6 3.9,2.2-1.3,1.8 2.9,5.5 5,4-3.9-0.5-4.4-2.2-2.2-4-4.4-0.9-2.2,4.1-4.4-0.3zM768.1,1358.4l4.4-0.3 3.7-3.5-1.5,3.5-3.3,2.2zM773.1,1350.2l3.8,2.5 1.1,3zM781.5,1358.1l2.8,3.5-1.5-1.3z" fill="#B9D6B3" stroke-width="3.6"/>
<path d="M706.5,1293.1l3.7,0.3 0,5.1-1.5,4.1 1.1,2.7 4.4,2.7-0.5,0.6-2.8-2.8-3.3,0.3-1.6-3-0.6-3.8zM709.8,1324.3l3.3-4.4 4.4-3.2 2.2,6.2-2.2,4.6-3.3-2.7zM714.8,1309.4l2.7,1.3 0,2.7-1.6,2.2-0.6-3zM709.8,1311.3l2.6,1.3 0.2,4.9-1.7-0.8-0.2-1.9zM699.4,1320.5l4.9-7.9-1.1,3.5z" fill="#FFFFFF" stroke-width="4"/>
<path d="M705.6,1280.9l2-5.4 2,0-1.1,5.4-1.4,2.7z" fill="#FFFFFF" stroke-width="4"/>
<path d="M729.4,1251.2l2.4-2.5 2.2-1.9 6.6-0.2 1.7-4.1 1.1,1.1 2.7-1.6 2.2-3 1.1-4.1 0.6-3.2 2.5-0.6 1.3,5.2-2.2,3.5-0.2,3.5-0.3,3.3-2.2,1.9-2.2,0.8-3.9,0.2-0.5,0.8-2.2,2.2-1.5-2.2-3.5-0.2-2.9,1.3zM727.4,1252.5l3.7-0.3-0.4,5.7-2.9,0.8-0.9-4zM732.9,1252.5l4.4-1.9-0.7,2.5-2.6,1.3zM750,1230.9l-0.6-3.3 2.8-1.6 0.9-5.7 2.9,3 5,0 0.5,2.7-4.9,3.5-3.9-1.3-1.1,1.8z" fill="#B9D6B3" stroke-width="4.5"/>
<path d="M715.1,1234.9l3.5-2.7 2-2.2 2.8,1.1 3.3-2.7 2-0.2 0.2,0.5-2.2,2.4 0,1.7-4.8,2.9-0.2,1.4 2.2,1.6-3.1,1.1-2,1.3-2.4-0.5 0.6-2.2-0.4-2.4z" fill="#96C595" stroke-width="3.5"/>
<path d="M723.9,1238.7l2.2,4.1 0,4.3-1.8,1.6-2.4,0.3-2.7,0.8 0.5-3 0-2.9 0.9-1.1-1.8-1.7 2-1.3z" fill="#76B580" stroke-width="3.5"/>
<path d="M634.5,1210l9.3-4 6.6,1.8 7.2-1.3-1.1-1.4 2.5-2.9 6.8,1.9 0.6,2.1 6,0.6 7.7,2.9 7.7-0.2 6.6-2.2 3.7,1.1-1.5,2.4-1.1,2.7 4.2,0.6 2.4-0.6 2.8,3.3-5.2,0.8-3.1,1.9-5.3,2.4-3.7-0.5-1.1,1.6 1.1,1.9-5.3,3.3-9.9,2.4-8.8-2.7-8.8-0.6-3.3-4-4.4-1.9-5.7-0.8-0.5-4.6-5.9-4.4z" fill="#238B45"/>
<path d="M633.4,1210.3l1.1-0.3 0.5,1.6 5.9,4.4 0.5,4.6 5.7,0.8 4.4,1.9 3.3,4 8.8,0.6 8.8,2.7 9.9-2.4 5.3-3.3-1.1-1.9 1.1-1.6 3.7,0.5 5.3-2.4 3.1-1.9 5.2-0.8-2.8-3.3-2.4,0.6-4.2-0.6 1.1-2.7 1.5-2.4 2.4,0.5 3.3-1.9 1.6-6.5 2-1.6 5.7-0.5 5.5,2.1 3.3,7.9 7,2.4 0.7,3.3 8.3-1.9-0.6,1.9-3.3,7-4.4,0.6 0.4,3.7-1.3,2.2 0,0.6-2,0.2-3.3,2.7-2.8-1.1-2,2.2-3.5,2.7-3.1,0.8-4,2.5 1.8-4.6-2.2-1.1-3.3,3-3.3,1.6-0.7,1.9 2.7,2.7 3.9-0.8 4,1.3-3.3,1.9-3.8,4.1 2.2,2.1 1.4,4.4 2.2,2.7 0.2,2.2-2.2,0.8 2.2,1.9-1.1,4.3-3.3,4.6-2.2,3.8-2.9,3.2-2.6,2.7-5.1,1.9-1.5,0.3-3.8,1.6-3,1.1-0.3,2.4-0.8,0-0.5-3.2-3.7,0-2.9-3.5-3.1-1.4-3.9,1.9-2.9,0.6-1.1-0.3-1.2,2.4-2.1,0.3-2.2-1.6 0.7-2.2-1.3-0.8-2.5-1.9-0.4-1.4 2.4-4 0-4.3-0.9-0.3-2.2-1.9-3.9-2.2-4.4,1.1-3.1,3.3-0.9-0.9-0.2,0-4-1-1.9,2.4-0.3-2.2-1.5,0.6-4.6-0.3-1.8-1.6-2.8-1.9-3.8-2.2-2.6-0.3-5.1-2.7 1.1-3.5-1.1-0.2 0.5-4.9-2.5-3-2.2-0.3-2.2-2.9-2.6-0.9 0.7-0.5 0.2-0.5-0.2-3-2.5,0-0.2-2.5 0.2-1 2.2-1.9 2.2,0.2 2.2-1.3 3.8-1.4 3.7-1.9-0.4-7.8 5.7-0.6-0.7-0.8 1.6-4.6 5.5,0.3 0.6-3.5zM680.5,1291.2l2.9-2.4 2.2,1.3-2.2,3.3-2.4,0z" fill="#238B45"/>
<path d="M692.6,1402.2l5.7-3.2 4.9-1.7 5.5-2.1 1.7-5.4 2.9,0.5 2-3.8 3.3-5.4 3.9,1.4 0.9,1.3 3.1-0.3 2-6.5 4.4-3.2 5.5,2.4 4.2,0-2.2,4.1-0.9,3.2 3.3,2.5 5,4.6 3.3,0 1.6-6.8 0.4-6 1.8-5.6 2.2,5.6 0.6,4.4 3.3,1.6 1.6,6.8 0.6,3.8 4.9,2.9 2.2,6.3 2.8,2.4 4.9,5.4 1.1,8.1-1.1,7.6-3.8,7.6-2.4,6-0.4,4-5.5,1.4-2.4,2.9-3.8-2.1-2.6,1.3-5.5-1.9-2.9-2.9-0.4-3.3-2.9-0.5 0.7-2.5-1.6-4.6-0.8,5.2-3.1,0-1.8-2.5-2.2-3.5-6.6-3.2-4.8,0.2-6.6,1.9-4.4,1.9-1.1,2.5-7.7,0-4.4,2.9-4.4-0.2-2.2-1.6 1.5-6.3-1.5-5.4-1.8-6.8-2-4 1.6,0.8-1.1-4.9 0.6-4.9zM759.7,1453.4l7.9,0.5-0.6,6.2-3.3,1.1-2.7-3z" fill="#B9D6B3"/>
<path d="M821.3,1436.3l3.5,2.5 2.7,3.2 1.1,3 5,0.3-2.4,4.3-0.9,3-3.3,3.2-1.1-1.9 0.5-2.4-2.7-1.9 2-3 0.2-3.2-1.1-1.9-2.8-3.6zM821.3,1452.8l3.5,3.3-2.8,4.3 0.2,1.4-4.2,1.9-1.1,3.8-3.7,1.8-3.3-1-2.2-1.1 3.3-4.4 5.5-3.5 2.2-3.2z" fill="#B9D6B3" stroke-width="3.6"/>
<path d="M802.2,1397.6l5.5,4.6 1.1,1.6-3.3-1.6z" fill="#FFFFFF" stroke-width="4"/>
<path d="M785.7,1361.3l3.3,2.5 4.4,3.8 3.9,3.5-3.9-1.9-5.5-4.9z" fill="#FFFFFF" stroke-width="4"/>
<path d="M807.9,1383.3l1.5,2.7 2.2,5.1-1.7-3.8z" fill="#FFFFFF" stroke-width="4"/>
<path d="M831.4,1390.6l2.9,0-0.5,1.9-2.2-0.3z" fill="#FFFFFF" stroke-width="4"/>
<path d="M243.2,1305.8l1.5-1.6 2,1.1 1.6,1.6 0,0.6-2.7-0.3z" fill="#96C595" stroke-width="2"/>
</g>
<path d="M250,1170.5l2.2-5.7 6.6-0.8 6.6,4.6-1.1,3.2-7.7,1.1z" fill="#A7CEA4" stroke="#606060" stroke-width="4.5" stroke-linejoin="round"/>
<path d="M311,1214.1l3.9-8.4 4.4-2.2-0.4,4.3 4.8,1.9 1.8,4.9-1.8,2.2-4.4-0.6-1.1-1.9zM169.7,1212.2l-3.3-1.1-7.2-5.1 2.8-0.3 4,2.1 3.1,2.8zM148.8,1197l2.7,0.3 1.7,4.3-3.3-1.9zM299.7,1208.1l5.3,1.4-3.3,0.2zM300.2,1216.5l4.8,0.8-1.7,1.4z" fill="#A7CEA4" stroke="#606060" stroke-width="4.5" stroke-linejoin="round"/>
<path d="M554.7,1149.1l7.7-4.3 2.2-2.5 8.8-4.8 11-2.5 7.7,0.8-9.9,3.3-12.1,5.1-2.2,6.8-8.8,0.5zM646,1128.8l8.8-4.3 13.2,1.6 8.8,4.3-11,2.2-11-1.1zM742.8,1139.4l8.8-2.2 11,1.4 11,1-6.6,1.7-11,3.2-8.8-2.2zM834.1,1150.5l3.3-0.9 0,1.7zM542.6,1125.8l8.8-1.6 15.4-1.1 15.4,0.8-4.4,1.9-15.4,0.8z" fill="#B9D6B3" stroke="#606060" stroke-width="5.5" stroke-linejoin="round"/>
<path d="M165,1142.6l6.3-2.5 11.2,1.3 2.5,5-6.2,3.8-11.3-1.3z" fill="#606060" stroke="#606060" stroke-width="2" stroke-linejoin="round"/>
<path d="M168.8,1143.6l9.4-0.6 1.6,2.8-7.3,1.6z" fill="#A7CEA4"/>
<path d="M183.8,1145.2l7.5-2.6 11.3,0 12.5,1.3 2.5,6.3-2.5,6.2-10,2.5-11.3-1.2-7.5-3.8z" fill="#606060" stroke="#606060" stroke-width="2" stroke-linejoin="round"/>
<path d="M189,1147.4l11.1-1.2 12.2,1.2 0.7,5.6-9.2,2.5-11.2-1.2z" fill="#A7CEA4"/>
<path d="M170,1135.1l7.5-3.1 13.8-2.5 8.8-0.6 3.7,5-3.7,5-12.6,0.6-12.5,0z" fill="#606060" stroke="#606060" stroke-width="2" stroke-linejoin="round"/>
<path d="M205.1,1128.9l10-3.1 10-3.2 12.5-3.1 15-1.9 16.3-1.2 18.8,0.6 16.2,1.9-8.7,6.2-12.5,5-10,3.8-3.8,7.5 7.5,5 11.3,2.5 10,6.3 8.7,6.2-2.5,8.8-5,5-1.2,7.5-6.3,2.5-6.2-5-2.5-7.5-7.5-1.3-5-7.5-7.6-3.7-6.2-5-8.8,2.5-10-2.5-7.5,2.5-10-3.8-2.5-7.5-7.5-5-3.8-6.3z" fill="#606060" stroke="#606060" stroke-width="2" stroke-linejoin="round"/>
<path d="M263.3,1127.9l6.9-5.9 16.8-2.8-4.3,4.7-12.5,5.6z" fill="#A7CEA4"/>
<path d="M259.1,1146.7l14.6-1.3 1.2,5.8-12.3,1.2z" fill="#A7CEA4"/>
<path d="M276.7,1154.2l11,1.2 11,6.3 1,8.2-8.3,1.3-8.7-6z" fill="#A7CEA4"/>
<path d="M263.3,1158.3l6.6-0.6 0.5,9.7-5.3,0z" fill="#FFFFFF"/>
<path d="M213,1142.3l6.8,0.6-0.6,4.5-5.1-0.6z" fill="#FFFFFF"/>
<path d="M275.8,1173.3l15.6,1.9 0.7,5-6.3-1.3z" fill="#FFFFFF"/>
<path d="M237.6,1146.4l5.6,0.6-0.6,2.2-4.4-0.5z" fill="#FFFFFF"/>
<path d="M220.1,1127l5-0.6-0.3,2.5-4.1,0.2z" fill="#FFFFFF"/>
<path d="M78.9,1195.7l-7.1,2.9-8.8,2.8-8.8,1.6-7.7,1.1" fill="none" stroke="#606060" stroke-width="3" stroke-linecap="round" stroke-linejoin="round"/>
<path d="M137.8,1183.5l5.5,3.2 4.4,6.3 4.4,4 4.4,4.1 3.3,4" fill="none" stroke="#606060" stroke-width="7" stroke-linecap="round" stroke-linejoin="round"/>
<path d="M159.8,1205.1l4.4,3.8 3.8,2.7" fill="none" stroke="#606060" stroke-width="4" stroke-linecap="round" stroke-linejoin="round"/>
<path d="M289.6,1128.8l11,7 12.1,4.4 5.5,5.4 5.5,8.1 3.3,10.8 4,8.2 8.1,6.5" fill="none" stroke="#606060" stroke-width="7.5" stroke-linecap="round" stroke-linejoin="round"/>
<path d="M397.4,1134.8l-2.2,8.1-4.4,5.4-2.2,4.1-6.6,4-11,3.5-11,5.2-8.8,4.9-4.4,6.7" fill="none" stroke="#606060" stroke-width="4.5" stroke-linecap="round" stroke-linejoin="round"/>
<path d="M391.9,1140.2l-3.3,5.9-3.3,5.4" fill="none" stroke="#606060" stroke-width="10" stroke-linecap="round" stroke-linejoin="round"/>
<path d="M296.2,1123.9l17.6-2.7 28.6-1.6 26.4-1.6 24.2,3.2 17.6,1.4" fill="none" stroke="#606060" stroke-width="5" stroke-linecap="round" stroke-linejoin="round"/>
<path d="M253.8,1314.5l2.8,2.2 2.7,2.7 3.9,1.6 2.7-2.4 3.9,1.6" fill="none" stroke="#606060" stroke-width="5.5" stroke-linecap="round" stroke-linejoin="round"/>
<path d="M255.5,1283.6l3.3-1.8 5.5-0.3 5.5,3.2 4.4,2.7 2.7,1.1" fill="none" stroke="#606060" stroke-width="6" stroke-linecap="round" stroke-linejoin="round"/>
<path d="M278.2,1293.1l3.7-1.1 5.5,0 3.1,0.8" fill="none" stroke="#606060" stroke-width="5" stroke-linecap="round" stroke-linejoin="round"/>
<path d="M293.6,1293.9l3.3,0" fill="none" stroke="#606060" stroke-width="4" stroke-linecap="round" stroke-linejoin="round"/>
<path d="M131.2,1154.8l8.8,1.6 5.5-1.6 12.1-1.1 8.8,1.6 11,0 11,2.2 11,2.2 11-1.4 11,1.4 7.7-1.1 2.2-6.2" fill="none" stroke="#606060" stroke-width="5.5" stroke-linecap="round" stroke-linejoin="round"/>
<path d="M287.4,1216l7.7-5.4 4.4,1-1.1,4.9 4.4,2.7 4.4,0.8 1.8-2.7" fill="none" stroke="#606060" stroke-width="4.5" stroke-linecap="round" stroke-linejoin="round"/>
<path d="M296.2,1224.6l4.4-2.1 5.5-1.9" fill="none" stroke="#606060" stroke-width="4" stroke-linecap="round" stroke-linejoin="round"/>
<path d="M299.5,1180l5.5,6.2 4.4,6.8 5.5,4 3.3,4.9" fill="none" stroke="#606060" stroke-width="4.5" stroke-linecap="round" stroke-linejoin="round"/>
<path d="M269.8,1174.6l8.8,0.2 8.8,3.3 2.2,5.4 5.5,0" fill="none" stroke="#606060" stroke-width="4" stroke-linecap="round" stroke-linejoin="round"/>
<path d="M185.6,1257.9l3.7,6.8 4.4,6 3.5,5.9 2.2,3.5" fill="none" stroke="#606060" stroke-width="4.5" stroke-linecap="round" stroke-linejoin="round"/>
<path d="M168.6,1218.7l-0.6,10.8 3.9,11.4 4.2,8.6 7.3,4.9" fill="none" stroke="#606060" stroke-width="4" stroke-linecap="round" stroke-linejoin="round"/>
<path d="M294,1221.9l-7.7,4.9 0.5,3.2-8.2,3.6-3.3,8.1-1.1,6.8-6.6,4.6-4.4,4.8 1.6,10.9" fill="none" stroke="#606060" stroke-width="4" stroke-linecap="round" stroke-linejoin="round"/>
<path d="M454.2,1183.5l-1.1-6.8 3.7-4 7.7-4.4 5.5-5.1 5.5-5.4" fill="none" stroke="#606060" stroke-width="8" stroke-linecap="round" stroke-linejoin="round"/>
<path d="M475.5,1157.8l7.7-3.5 11-2.5 8.8,0 5.1,1.9" fill="none" stroke="#606060" stroke-width="5.5" stroke-linecap="round" stroke-linejoin="round"/>
<path d="M460.8,1193.8l1.3-4.4 2.4-1.9" fill="none" stroke="#606060" stroke-width="6" stroke-linecap="round" stroke-linejoin="round"/>
<path d="M464.1,1193.2l4.4-0.5" fill="none" stroke="#606060" stroke-width="6" stroke-linecap="round" stroke-linejoin="round"/>
<path d="M786.1,1205.1l-3.7,2.7-6.6,6.8-6.6,4.6-5.5,4.1-2,1.9" fill="none" stroke="#606060" stroke-width="3" stroke-linecap="round" stroke-linejoin="round"/>
<path d="M645.5,1306.7l-0.2,5.4 0.7,6.7 1.7,5.5" fill="none" stroke="#606060" stroke-width="3.5" stroke-linecap="round" stroke-linejoin="round"/>
<path d="M588.3,1151.5l3.8-5.9 8.8,0.8 0.6,10 2.7,4.1" fill="none" stroke="#606060" stroke-width="4" stroke-linecap="round" stroke-linejoin="round"/>
<path d="M606.4,1146.9l6.6,0.9 5.5-3.6 3.3,5.4 2.2,4.1" fill="none" stroke="#606060" stroke-width="4" stroke-linecap="round" stroke-linejoin="round"/>
<path d="M632.8,1141.5l17.6-4.3 11-1.1 9.4-3.2 6,2.4 11,0.8 3.3,2.7-7.7,3.3 6.6,1.3 13.2,1.9 11-1.6 8.8,1.1 3.3,6.2 7.7-1.4 11,0 4.4-2.7 13.2,0.6 13.2,3.8 15.4,3" fill="none" stroke="#606060" stroke-width="4.5" stroke-linecap="round" stroke-linejoin="round"/>
<path d="M514,1155.3l6.6,0.6 11.4,6.5-7,1.9-7.7-1.4" fill="none" stroke="#606060" stroke-width="4" stroke-linecap="round" stroke-linejoin="round"/>
<path d="M538.2,1164.5l0-6.7 5.5,1.9 14.3-1.4 8.8-0.8 7.7-3.2 8.8,1.3 5.5,0.8" fill="none" stroke="#606060" stroke-width="4" stroke-linecap="round" stroke-linejoin="round"/>
<path d="M279.7,1485.3l-3.7-6.8-0.2-8.1 2.8-5.4 0.9-6.8" fill="none" stroke="#606060" stroke-width="6" stroke-linecap="round" stroke-linejoin="round"/>
<path d="M290.7,1486.7l-3.3,4-5.5-2.7-3.3-4" fill="none" stroke="#606060" stroke-width="6.5" stroke-linecap="round" stroke-linejoin="round"/>
<path d="M297.3,1491.5l-6.6,0.6-4.4,0.8" fill="none" stroke="#606060" stroke-width="5" stroke-linecap="round" stroke-linejoin="round"/>
<path d="M268.1,1271.2l2.8,4.3 3.3,3.3 3.3,3.5 3.3,3.5" fill="none" stroke="#606060" stroke-width="5" stroke-linecap="round" stroke-linejoin="round"/>
<path d="M298.4,1293.7l4.4,0.8 2.7,2.7 1.1,4 0.6,2.7 0,3.6-1.3,2.9 0.9,4.1" fill="none" stroke="#606060" stroke-width="4" stroke-linecap="round" stroke-linejoin="round"/>
<path d="M87.3,1283.9l5-0.6 5,3.1 2.5,4.4" fill="none" stroke="#606060" stroke-width="4" stroke-linecap="round" stroke-linejoin="round"/>
<path d="M131.7,1365.2l3.8,5.7" fill="none" stroke="#606060" stroke-width="3" stroke-linecap="round" stroke-linejoin="round"/>
<path d="M61,1379.6l6.9,2.5" fill="none" stroke="#606060" stroke-width="3" stroke-linecap="round" stroke-linejoin="round"/>
<path d="M62.3,1367.1l2.5,1.9" fill="none" stroke="#606060" stroke-width="3" stroke-linecap="round" stroke-linejoin="round"/>
<path d="M44.8,1387.1l1.8,5.7 1.3,6.2" fill="none" stroke="#606060" stroke-width="4" stroke-linecap="round" stroke-linejoin="round"/>
<path d="M56.7,1394l-1.3,7.5" fill="none" stroke="#606060" stroke-width="3" stroke-linecap="round" stroke-linejoin="round"/>
<path d="M89.2,1394.7l5.6,3.1" fill="none" stroke="#606060" stroke-width="3.5" stroke-linecap="round" stroke-linejoin="round"/>
<path d="M107.3,1387.8l5,3.7" fill="none" stroke="#606060" stroke-width="4" stroke-linecap="round" stroke-linejoin="round"/>
<path d="M760.2,1287.6l2.5,8.8-2.5,10" fill="none" stroke="#606060" stroke-width="2.5" stroke-linecap="round" stroke-linejoin="round"/>
<path d="M815.3,1313.9l2.5,11.3" fill="none" stroke="#606060" stroke-width="2.5" stroke-linecap="round" stroke-linejoin="round"/>
<path d="M810.3,1312.7l3.1,7.5" fill="none" stroke="#606060" stroke-width="2.5" stroke-linecap="round" stroke-linejoin="round"/>
<path d="M821.5,1335.2l3.8,7.5 3.7,6.3" fill="none" stroke="#606060" stroke-width="3" stroke-linecap="round" stroke-linejoin="round"/>
<path d="M809,1381.5l3.1,8.8 3.2,7.5" fill="none" stroke="#606060" stroke-width="3.5" stroke-linecap="round" stroke-linejoin="round"/>
<path d="M801.5,1396.5l8.8,6.3" fill="none" stroke="#606060" stroke-width="3.5" stroke-linecap="round" stroke-linejoin="round"/>
<path d="M827.7,1200.8l10,1.9" fill="none" stroke="#606060" stroke-width="3" stroke-linecap="round" stroke-linejoin="round"/>
<path d="M602.3,1320.2l0.5,10-0.3,15" fill="none" stroke="#606060" stroke-width="2.5" stroke-linecap="round" stroke-linejoin="round"/>
<path d="M554.5,1309.8l6.8-1.4" fill="none" stroke="#606060" stroke-width="3" stroke-linecap="round" stroke-linejoin="round"/>
<path d="M306.9,1482.9l3.5,1.3 3.6-1.3" fill="none" stroke="#606060" stroke-width="4.5" stroke-linecap="round" stroke-linejoin="round"/>
<path d="M357.3,1489.8l5,2.5" fill="none" stroke="#606060" stroke-width="3.5" stroke-linecap="round" stroke-linejoin="round"/>
<path d="M380.6,1495.4l3.1,4.4-2.7,5.4" fill="none" stroke="#606060" stroke-width="3" stroke-linecap="round" stroke-linejoin="round"/>
<path d="M44.5,1149.7l6.5-0.4 4.5-0.8" fill="none" stroke="#606060" stroke-width="3.5" stroke-linecap="round" stroke-linejoin="round"/>
<path d="M63.8,1169.3l3.2,1.4 3.2,1.6" fill="none" stroke="#606060" stroke-width="3.2" stroke-linecap="round" stroke-linejoin="round"/>
<path d="M47,1156.1l6,2.5 7,3 7,2" fill="none" stroke="#606060" stroke-width="4.5" stroke-linecap="round" stroke-linejoin="round"/>
<g fill="#606060"><circle cx="330.1" cy="1345.9" r="4.2"/><circle cx="295.8" cy="1311.3" r="1.6"/><circle cx="300.6" cy="1313.4" r="1.6"/><circle cx="271.4" cy="1294.2" r="2.2"/><circle cx="264.3" cy="1290.4" r="1.6"/><circle cx="50.8" cy="1266.4" r="1.3"/><circle cx="58.3" cy="1272.4" r="1.3"/><circle cx="62.5" cy="1273.3" r="1.3"/><circle cx="71.4" cy="1275.5" r="1.3"/><circle cx="78.6" cy="1279.5" r="1.3"/><circle cx="84.6" cy="1280.5" r="1.3"/><circle cx="67.9" cy="1297.7" r="1.3"/><circle cx="180.6" cy="1264.5" r="1.6"/><circle cx="188.4" cy="1293.5" r="1.3"/><circle cx="196.8" cy="1291.2" r="1.5"/><circle cx="241.9" cy="1344" r="3.6"/><circle cx="87.9" cy="1330.2" r="1.3"/><circle cx="90.4" cy="1332.1" r="1.3"/><circle cx="94.8" cy="1338.3" r="1.8"/><circle cx="89.2" cy="1344" r="1.3"/><circle cx="52.3" cy="1341.5" r="1.6"/><circle cx="63.5" cy="1352.1" r="1.6"/><circle cx="64.2" cy="1354.6" r="1.3"/><circle cx="99.8" cy="1354.2" r="1.5"/><circle cx="98.2" cy="1358.4" r="1.3"/><circle cx="93.6" cy="1367.7" r="1.3"/><circle cx="86.7" cy="1370.9" r="1.5"/><circle cx="76.7" cy="1373.4" r="1.6"/><circle cx="105.5" cy="1370.9" r="1.3"/><circle cx="110.8" cy="1370.3" r="1.3"/><circle cx="107.1" cy="1374" r="1.3"/><circle cx="52.9" cy="1379" r="1.3"/><circle cx="49.1" cy="1381.8" r="1.3"/><circle cx="54.8" cy="1385.5" r="1.3"/><circle cx="67.3" cy="1395" r="1.5"/><circle cx="82.1" cy="1392.5" r="1.3"/><circle cx="89.2" cy="1400.3" r="1.3"/><circle cx="93.6" cy="1402.2" r="1.3"/><circle cx="114.8" cy="1386.5" r="1.3"/><circle cx="118.9" cy="1387.1" r="1.3"/><circle cx="122.7" cy="1385.5" r="1.3"/><circle cx="122.1" cy="1397.2" r="1.3"/><circle cx="104.2" cy="1405" r="1.3"/><circle cx="108" cy="1404.3" r="1.3"/><circle cx="112.3" cy="1406.5" r="1.3"/><circle cx="116.1" cy="1408" r="1.3"/><circle cx="131.7" cy="1402.2" r="1.3"/><circle cx="135.5" cy="1403.4" r="1.3"/><circle cx="143.9" cy="1405.9" r="1.3"/><circle cx="154.6" cy="1411.6" r="1.3"/><circle cx="158.7" cy="1409" r="1.3"/><circle cx="166.4" cy="1410" r="1.3"/><circle cx="124.2" cy="1418.4" r="1.6"/><circle cx="200.2" cy="1416.6" r="1.5"/><circle cx="209" cy="1415.1" r="1.5"/><circle cx="265" cy="1414.7" r="1.6"/><circle cx="49.1" cy="1422.8" r="1.3"/><circle cx="47.9" cy="1426.6" r="1.3"/><circle cx="263.8" cy="1434.7" r="1.3"/><circle cx="267.5" cy="1434.1" r="1.3"/><circle cx="730.2" cy="1273.3" r="1.3"/><circle cx="730.8" cy="1276.4" r="1.3"/><circle cx="751.4" cy="1268.9" r="1.3"/><circle cx="752.1" cy="1274.5" r="1.3"/><circle cx="807.7" cy="1290.2" r="1.3"/><circle cx="812.8" cy="1303.9" r="1.3"/><circle cx="697.6" cy="1287" r="1.3"/><circle cx="745.2" cy="1317.7" r="1.3"/><circle cx="736.4" cy="1322.7" r="1.3"/><circle cx="732" cy="1328.9" r="1.3"/><circle cx="755.2" cy="1325.2" r="1.3"/><circle cx="758.9" cy="1322.7" r="1.3"/><circle cx="762.7" cy="1322.1" r="1.3"/><circle cx="770.2" cy="1318.9" r="1.3"/><circle cx="772.7" cy="1323.3" r="1.3"/><circle cx="775.2" cy="1322.1" r="1.3"/><circle cx="779" cy="1328.9" r="1.3"/><circle cx="789" cy="1324.6" r="1.3"/><circle cx="800.2" cy="1328.3" r="1.3"/><circle cx="797.7" cy="1312.1" r="1.3"/><circle cx="805.2" cy="1311.4" r="1.3"/><circle cx="807.7" cy="1318.3" r="1.3"/><circle cx="811.5" cy="1322.7" r="1.3"/><circle cx="809" cy="1344.6" r="1.3"/><circle cx="758.9" cy="1346.5" r="1.3"/><circle cx="765.2" cy="1349" r="1.3"/><circle cx="770.2" cy="1347.1" r="1.3"/><circle cx="791.5" cy="1356.5" r="1.6"/><circle cx="792.7" cy="1373.4" r="1.6"/><circle cx="827.8" cy="1360.2" r="1.3"/><circle cx="831.5" cy="1362.7" r="1.3"/><circle cx="835.3" cy="1365.2" r="1.3"/><circle cx="806.5" cy="1370.3" r="1.3"/><circle cx="830.3" cy="1377.1" r="1.3"/><circle cx="792.7" cy="1395.3" r="1.3"/><circle cx="817.8" cy="1403.4" r="1.3"/><circle cx="810.3" cy="1422.2" r="1.3"/><circle cx="790.2" cy="1428.4" r="1.3"/><circle cx="673.2" cy="1371.5" r="1.5"/><circle cx="654.4" cy="1375.9" r="1.5"/><circle cx="768.8" cy="1134.5" r="1.5"/><circle cx="777" cy="1136" r="1.5"/><circle cx="785.7" cy="1133.6" r="1.5"/><circle cx="807.6" cy="1193.3" r="2"/><circle cx="822.7" cy="1199.6" r="2"/><circle cx="748.8" cy="1252.8" r="1.3"/><circle cx="749.4" cy="1260.3" r="1.3"/><circle cx="753.2" cy="1269" r="1.5"/><circle cx="752" cy="1274.1" r="1.3"/><circle cx="807.6" cy="1290.3" r="1.3"/><circle cx="730.1" cy="1272.8" r="1.3"/><circle cx="718.8" cy="1269" r="1.3"/><circle cx="723.8" cy="1270.9" r="1.3"/><circle cx="404.3" cy="1253.3" r="1.8"/><circle cx="401.1" cy="1266.4" r="1.6"/><circle cx="404.9" cy="1265.1" r="1.5"/><circle cx="408.7" cy="1264.5" r="1.5"/><circle cx="411.8" cy="1263.6" r="1.6"/><circle cx="389.3" cy="1298.9" r="1.3"/><circle cx="391.5" cy="1301.7" r="1.3"/><circle cx="409.3" cy="1364.6" r="1.5"/><circle cx="428.7" cy="1386.5" r="1.6"/><circle cx="456.8" cy="1337.7" r="1.5"/><circle cx="455" cy="1342.1" r="1.5"/><circle cx="453.1" cy="1347.1" r="1.6"/><circle cx="536.9" cy="1374" r="1.5"/><circle cx="540.1" cy="1376.8" r="1.5"/><circle cx="543.2" cy="1368.4" r="1.8"/><circle cx="563.2" cy="1355.3" r="1.7"/><circle cx="565.1" cy="1362.1" r="1.3"/><circle cx="565.7" cy="1371.5" r="1.5"/><circle cx="563.2" cy="1400.3" r="1.7"/><circle cx="567.6" cy="1397.8" r="1.5"/><circle cx="580.7" cy="1396.6" r="1.5"/><circle cx="600.1" cy="1311.5" r="1.8"/><circle cx="598.3" cy="1356.5" r="1.3"/><circle cx="600.8" cy="1362.8" r="1.5"/><circle cx="535.7" cy="1375.3" r="1.3"/><circle cx="535.1" cy="1372.8" r="1.3"/><circle cx="372.1" cy="1235.7" r="1.5"/><circle cx="379.6" cy="1238.2" r="1.5"/><circle cx="385.2" cy="1241.4" r="1.6"/><circle cx="298.2" cy="1255.1" r="1.6"/><circle cx="387.1" cy="1298.3" r="1.6"/><circle cx="390.2" cy="1300.8" r="1.5"/><circle cx="387.7" cy="1302.7" r="1.3"/><circle cx="369.6" cy="1353.4" r="1.5"/><circle cx="409.6" cy="1364.6" r="1.5"/><circle cx="428.4" cy="1386.5" r="1.5"/><circle cx="374.6" cy="1398.4" r="1.6"/><circle cx="310.1" cy="1307.1" r="1.6"/><circle cx="255.7" cy="1295.2" r="1.5"/><circle cx="208.8" cy="1414.7" r="1.5"/><circle cx="265.1" cy="1414.1" r="1.5"/><circle cx="413.8" cy="1443.9" r="1.3"/><circle cx="418.8" cy="1452.6" r="1.3"/><circle cx="448.8" cy="1490.7" r="1.3"/><circle cx="523.9" cy="1470.2" r="1.5"/><circle cx="552.7" cy="1468.4" r="1.3"/><circle cx="556.4" cy="1469.2" r="1.3"/><circle cx="594" cy="1476.4" r="2.6"/><circle cx="602.7" cy="1487.2" r="1.6"/><circle cx="611.5" cy="1447.1" r="1.6"/><circle cx="790.4" cy="1428.9" r="1.3"/><circle cx="810.4" cy="1422.1" r="1.3"/><circle cx="834.2" cy="1472.7" r="1.3"/><circle cx="834.2" cy="1477.7" r="1.3"/><circle cx="806.7" cy="1480.7" r="1.6"/><circle cx="812.9" cy="1485.7" r="1.4"/><circle cx="790.4" cy="1491.4" r="1.3"/><circle cx="422.9" cy="1150.2" r="2"/><circle cx="426.1" cy="1174.6" r="2"/><circle cx="438.6" cy="1178.9" r="2"/><circle cx="483" cy="1140.8" r="1.8"/><circle cx="298.4" cy="1255.3" r="1.7"/><circle cx="404.8" cy="1253.4" r="2"/><circle cx="372.2" cy="1235.3" r="1.6"/><circle cx="379.8" cy="1237.8" r="1.8"/><circle cx="385.4" cy="1241.5" r="2"/><circle cx="264.9" cy="1414.5" r="2"/><circle cx="263.5" cy="1434.6" r="1.6"/><circle cx="267.5" cy="1434.2" r="1.6"/><circle cx="375.2" cy="1398.9" r="1.8"/><circle cx="320.3" cy="1509.4" r="2"/><circle cx="341.7" cy="1507.9" r="2"/><circle cx="61" cy="1178.9" r="2.0"/><circle cx="66.2" cy="1188.7" r="2.3"/><circle cx="98.4" cy="1190.9" r="2.2"/><circle cx="58.5" cy="1176.6" r="1.2"/></g>
</g>
<g id="panelD">
<g stroke="#606060" stroke-width="3.0" stroke-linejoin="round">
<path d="M1063.6,104.7l8.8,1.6 5.5-1.6 12.1-1.1 8.8,1.6 11,0 11,2.2 11,2.2 11-1.4 11,1.4 7.7-1.1 2.2-9.2 5.5,1.6 4.4,4.1 6.6,2.4 5.5-2.7 7.7,0 1.1,4.3-5.5,3.8-6.6,2.7-4.4,4.4-4.4,1-4.4,4.4-3.3,5.4-0.4,3.2 4.8,4.9 5.5,0 4.4,1.4 6.6,3.2 6,0.5 0.4,5.7 3.5,4.4 3.3-0.3 0-6.8 4.4-4-1.1-5.5-2.2-3.2 2.2-3.5-1.1-6.2 8.8,0 8.8,3.5 0,5.4 4.4,1.9 5.5-3.3 2.2-2.1 5.5,6.2 4.4,6.8 5.5,2.7 3.8,5.9-6,2.7-3.3,3-8.8,0-5.9,0.3-6.2,5.7-3.3,2.9 2.2-1 6.6-4.6 6,0.5-1.6,2.7 0.5,3.5 2.2,1.4 5,0.8 3.3-1.6-2.2,2.7-5.5,1.9-5.5,2.9-0.4-2.7 3.7-2.1-5.5,0.5-1.7-5.1-3.1-1.1-2.4,4-2.7,2.5-7,0-3.5,2.2-6,1.8 0,1.7-7.7,2.7-1.3-1.1 1.5-1.9-0.2-6.2-2.2-1.9-2.2-1.4-7.7-4.6-3.3,0.6-3.3-0.6-4.4-1.1-4.8-1-61.6,0-2.9-2.7-6.6-2.8-1.1-4-4.4-4.9-0.4-1.9 0.4-2.7-4.4-2.7-3.3-4.6-3.3-2.2-5.5,1.4-3.3-2.7-4.4-0.8z" fill="#FFFFCC"/>
<path d="M1063.6,104.7l0,25.2 4.4,0.8 3.3,2.7 5.5-1.4 3.3,2.2 3.3,4.6 4.4,2.7-0.4,2.7-2.9,0-4.4-4-4.4-4.1-3.3-1.1-6.6-3.5-8.8-0.8-5.5-2.7-4.4,1.3-3.3,3.3-3.9,0.2 1.7-4.3 2.2-1.1-5.5,1.9-2.2,3.3-2.2,2.1-4.4,3.3-4.4,3.5-5.5,2.2-4.4,1.3-3.9,0.6 3.9-2.2 5.5-1.9 5.5-4.1 1.6-3.2-3.8,0.3-6.1-0.3-0.5-3-5.5-0.5-3.3-4.1 3.3-4 7.7-1.4 0-2.7-7.7,0-4.4-2.2-3.3-0.8 8.8-2.4 4.9,0.8-3.8-2.2-6.6-3.5 7.7-1.9 6.6-4 7.5-2.2 10.1,1.3 8.8,1.4 8.8,0.8z" fill="#FFFFCC" stroke-width="3.5"/>
<path d="M1102.8,160.5l61.6,0 4.8,1 4.4,1.1 3.3,0.6 3.3-0.6 7.7,4.6 2.2,1.4 2.2,1.9 0.2,6.2-1.5,1.9 1.3,1.1 7.7-2.7 0-1.7 6-1.8 3.5-2.2 7,0 2.7-2.5 2.4-4 3.1,1.1 1.7,5.1 0,0.8-3.9,1.1-3.1,1.9-1.3,2.7 1.7,2.7-4.4,1.4-4.4,1.6-2.2,4.9-1.3,2.7-0.9,2.1 1.1,4.6-2.2,1.7-3.1,1.9-2.4,1.3-4.4,4.1-0.9,4 1.8,5.5 1.3,4.6-0.9,4.3-1.7,0-1.3-2.2-2-4.9-0.7-3.2-2.6-2.7-2.9,0.5-5.5-1.3-3.3,0.2 0.7,3-1.8,0.3-3.3-1.1-5-0.8-2,0.8-2.9,2.2-3.1,3 0.5,4.3-4.2-1.4-0.9-2.9-4.2-6.3-2.4,0-1.5,2.2-2.9-1.6-4.4-6-3.7,0 0,1.4-6.2,0-8.1-3.8-5.3,0.5-3.1-4-4.6-1.4-2.9-5.7-1.3-3.2-3.9-7.1-0.5-7 1.1-8.7-1.5-5.9 3.7,0.5z" fill="#FFFFCC"/>
<path d="M1116.2,205.1l5.3-0.5 8.1,3.8 6.2,0 0-1.4 3.7,0 4.4,6 2.9,1.6 1.5-2.2 2.4,0 4.2,6.3 0.9,2.9 4.2,1.4-1.1,5.1-0.2,4.6 1.1,3.6 2.4,4.6 0.9,1.3 2.8,1.6 4.4-1.1 2.2,0.3 2.2-3.5 0.5-3.2 5-1.7 2.7,1.1-1.6,4.6-1.7,2.7-2,1.6-4,0.3-0.9,1.6 2,3-2.6,0.3-0.7,2.2-0.4,1.8-2.9-2.7-2.6-1.9-2.9,1.4-4.4-1.4-4.4-2.1-4.4-2.7-5-3-2.7-3.5-0.2-3-1.8-4.6-3.5-4.9-3.1-3.5-2.4-4.1-3.7-4.6-1.8-4.6-3.9-1.6 0.2,0.6 1.5,4.3 2.7,5.4 3.3,5.4 2.2,4.6 1.7,3-1.1,0.8-3.3-3.8-1.5-1.9-2.9-4.6-3.3-2.7 1.8-0.8-1.8-2.7-2.2-3.8z" fill="#FED976"/>
<path d="M1213.2,81.4l11-4.3 13.2-4.6 26.4-2.7 37.4-3 24.2,3.8 22,1.9-13.2,4 2.2,5.5-6.6,5.4 2.2,4-6.6,4.1 0,6.8-6.6,4-11,2.2-13.2,6.5-8.8,2.1-6.6,13-2.2,1.1-8.8-3.2-6.6-6.8-5.5-8.1 1.1-5.4 4.4-2.7-7.7-2.7-1.1-5.5-6.6-8.1-8.8-1.9-13.2,0.6-6.6-3.3z" fill="#FED976"/>
<path d="M1344.8,218.1l3.7-2.4 3.7-3.3 0-4.3 1.4-3 5.2-4 2-4.9 1.3-0.3 6.9,2.2 0.8,1.6 1.4,6.2-5.3,1.4 0,1.9-3.1,1.3-4.4,2.7-3.7,2.2 0,2.7z" fill="#FED976"/>
<path d="M1344.8,218.1l9.9,0 0,1.1 0,3.5-7.3,0 0,7.1-2.2,1 0,4.6-8.9,1.4 2.3-7.9 3.1-6.2z" fill="#FFFFFF"/>
<path d="M1369,198.1l4.8-2.2 6.6-2.7 6.6-0.3 5.7,0.3-0.6,4.6-1.8,3.5 3.3,5.2 1.1,4.6 0.9,4.9-1.1,6.2 1.3,4.6 4.4,2.7-13.6,10.8-3.6,1.1-1.9,0.3-0.3-2.2-4.4-2.7-13.2-11.4-8.5-6.2 0-1.1 0-2.7 3.7-2.2 4.4-2.7 3.1-1.3 0-1.9 5.3-1.4-1.4-6.2z" fill="#FED976"/>
<path d="M1392.7,193.2l3.5-1.1 1.8,0.8-0.9,3.3 0.9,3.5-2.2,1.9 3.3,1.6 0,1.9-2.6,1.9 0,2.7-1.8,1.4-1.1-4.6-3.3-5.2 1.8-3.5z" fill="#FFFFCC"/>
<path d="M1399.1,203.2l3.3,0.8 4.8,1.7 1.4,2.4 4.8,2.4 4,0 0.4-4 3.3-2.5 3.7,1.4 4,1.9 0,26.2 0,5.5-2.2,0 0,1.3-17.6-10.5-2.2,1-1.8,1.1-4.8-2.4-4.4-2.7-1.3-4.6 1.1-6.2-0.9-4.9 1.8-1.4 0-2.7 2.6-1.9z" fill="#FFFFCC"/>
<path d="M1428.8,207.3l4.4,1.1 4.4,1.1 4.4-1.7 2.9,0.6 4.1,0 1.6,4.8-1.6,4.9-1.5-1.3-2-4.6 2.2,6.5 2,5.4 2.2,4 0.4,2.7 2.7,2.7-26.2,0z" fill="#FD8D3C"/>
<path d="M1455,233.5l0.6,2.8 0.3,5.4 2.6,2.7-3.3,2.7-1.1,4.9-0.2,1.8-0.7,4.9-2,2.5-1.9,2.9-0.7,3.3 0.2,2.7-2.4,1.6 1.8,1.9 1.9,1.4 2.7,3.8 0,1.8-4.2,1.1-0.2,1.1-6.6,0.8-3.1-2.4-2.4,0.3-2.2-2.2-2.2-4.1-2.7-2.4-2.6-3.3-1.1-0.8 0-2.7-1.5-2.7-0.7-4.6-1.1-3 1.1-1 0.9-4.1 2.4,0 0-10.3 0-1.3 2.2,0 0-5.5z" fill="#FD8D3C"/>
<path d="M1337.5,249.5l1.1-5.1-1.1-4.1-1.2-3.5 8.9-1.4 0-4.6 2.2-1 0-7.1 7.3,0 0-3.5 8.5,6.2-3.7,0 2,23 0.6,0.6-0.4,2.1-8.4,0-4.8-0.2-1.5,2.1-2.2-1.9-2.9-2.9z" fill="#E31A1C"/>
<path d="M1347,253l1.5-2.1 4.8,0.2 8.4,0 0.4-2.1-0.6-0.6-2-23 3.7,0 13.2,11.4 4.4,2.7 0.3,2.2 1.9-0.3 0,6.2-1.5,3.5-4.4,0.6-2.9,0.8-1.9,0-4.7,2.7-3.3,2.2-1.9,3.8-0.7,3.7-1.5-0.5-4,1.1-1.8-3.5-2.6-1.4-3.1-1.1-1.3-2.9z" fill="#800026"/>
<path d="M1337.1,259.8l-0.3-2.2 0-1.3-1.5-3 2.2-3.8 4.4-1.3 2.9,2.9 2.2,1.9 0.4,3.6 1.3,2.9-5-0.5z" fill="#E31A1C"/>
<path d="M1336.8,257.6l0-1.3 3.1-0.6 3.1,0.6 0,1.1-3.1-0.3z" fill="#E31A1C" stroke-width="3.5"/>
<path d="M1340.8,263.6l-2.9-2.4-0.8-1.4 6.6-0.8 0,2.4z" fill="#800026" stroke-width="4"/>
<path d="M1344.5,268.7l-2.6-3.5-1.1-1.6 2.9-2.2 0-2.4 5,0.5 3.1,1.1 2.6,1.4 1.8,3.5 0.4,4.6-1.5,2.4-2-1.1-2-1-0.6-1.7-1.3-2.7-2.9,0.6z" fill="#800026"/>
<path d="M1348.5,274.4l-3.3-3-0.7-2.7 1.8-2.1 2.9-0.6 1.3,2.7 0.6,1.7z" fill="#800026" stroke-width="3.5"/>
<path d="M1357.3,281.2l-4-3-4.8-3.8 2.6-4 2,1 2,1.1 0.2,3 2,1.9z" fill="#800026" stroke-width="3.5"/>
<path d="M1367,279.3l-4.2,0-5.5,1.9 0-3.8-2-1.9-0.2-3 1.5-2.4-0.4-4.6 4-1.1 1.5,0.5 2,1.7 3.9,0.5 0.7,3.8-1.5,4.6z" fill="#800026"/>
<path d="M1361.7,264.9l0.7-3.7 1.9-3.8 3.3-2.2 4.7-2.7 1.9,0 1.8,4.3 2.4,1.9 0.7,2.2-2.2,1.3-1.1,1.1-2.2-0.2-6,0.2 0,3.8-3.9-0.5z" fill="#800026"/>
<path d="M1376.4,276.6l-2.6,1.3-4.4,2.2-2.4-0.8-0.2-3.8 1.5-4.6-0.7-3.8 0-3.8 6-0.2 1.3,4.3 0.2,5.4z" fill="#E31A1C"/>
<path d="M1377.3,276.3l-0.9,0.3-1.3-3.8-0.2-5.4-1.3-4.3 2.2,0.2 1.5,5.4z" fill="#E31A1C" stroke-width="3.5"/>
<path d="M1379.7,275.8l-2.4,0.5 0-7.6-1.5-5.4 1.1-1.1 2.2-1.3 2.6,0.5 0.5,3.8-2.2,3.5z" fill="#800026"/>
<path d="M1374.2,252.5l2.9-0.8 4.4-0.6 1.5-3.5 0-6.2 3.6-1.1 13.6-10.8 4.8,2.4 1.8-1.1 1.8,7.3-0.7,9.5-4.4,8.7-2.2,1.3-5.5-0.5-4.4,0.3-3.3-0.8-5.5,0-0.9,4.8-2.6-0.5-0.7-2.2-2.4-1.9z" fill="#800026"/>
<path d="M1392.5,280.4l-3.3,0.8-2.2,0.3-2.2-3.6-1.3-1.9-3.8-0.2 0.3-7.1 2.2-3.5-0.5-3.8 0.9-4.8 5.5,0 3.3,0.8 4.4-0.3 5.5,0.5 2.2-1.3 1.3,1.3 1.1,4.4-2.8,4-1.4,3.5-1.9,4.7-2.9,0-2.6,1.6z" fill="#800026"/>
<path d="M1403.5,256.3l4.4-8.7 0.7-9.5-1.8-7.3 2.2-1 17.6,10.5 0,10.3-2.4,0-0.9,4.1-1.1,1 1.1,3 0.7,4.6-2.5,1.1-5.7,4.3-1.1,2.5-3.5,1.1-3.3,0.5-2.9-6.8 2.9,0-0.9-2.7-0.4-4.3-1.8-1.4z" fill="#800026"/>
<path d="M1395.4,286.9l-0.3-3.8-1.7-2.2-0.9-0.5 1.8-4.6 2.6-1.6 2.9,0 1.9-4.7 1.4-3.5 2.8-4-1.1-4.4 1.8,1.4 0.4,4.3 0.9,2.7-2.9,0 2.9,6.8-2.2,3.8 0.2,3.2 1.3,2.7 2,4.6-6.1,0-4.4,0z" fill="#E31A1C"/>
<path d="M1407.9,272.8l3.3-0.5 3.5-1.1 1.1-2.5 5.7-4.3 2.5-1.1 1.5,2.7 0,2.7 1.1,0.8 2.6,3.3 2.7,2.4 2.2,4.1-4.6-0.3-2,0.3-3.3,0.8-1.1,1.9-4.2-1.1-2.2-1.6-2,2.2 0,2.1-4.4,0-1.1,3.5-2-4.6-1.3-2.7-0.2-3.2z" fill="#800026"/>
<path d="M1394.9,290.4l0.5-3.5 3.3,0.2 0,3.3z" fill="#E31A1C" stroke-width="4"/>
<path d="M1398.2,303.7l-3.3-4.1-1.7-4.3 1.3-2.7 0.4-2.2 3.8,0 0-3.3 4.4,0 0,2.5 2.4,0 0,4.9-1.1,2.1 1.3,2.7-4-0.5-1.5,1.1-0.9,1.3z" fill="#E31A1C"/>
<path d="M1400.2,306.6l-2-2.9 1.1-2.5 0.9-1.3 1.5-1.1 4,0.5-1.3-2.7 1.1-2.1 0-4.9-2.4,0 0-2.5 6.1,0 1.1-3.5 4.4,0-1.1,3.3-0.6,4.8-0.5,3-3.1,3.8-0.6,5.2-1.3,1-2,1.7-3.1-0.8z" fill="#E31A1C"/>
<path d="M1400.6,308.8l-0.4-2.2 2.2-1-0.4,3.2z" fill="#800026"/>
<path d="M1402.4,305.6l3.1,0.8 2-1.7 1.3-1 0.6-5.2 3.1-3.8 0.5-3 0.6-4.8 1.1-3.3 0-2.1 2-2.2 2.2,1.6 4.2,1.1 1.1-1.9 3.3-0.8 2-0.3 4.6,0.3 2.2,2.2 2.4-0.3 3.1,2.4 0.9,3.5-2.9,2.8-0.7,3.2-0.2,3.8-1.3,3.5 0.4,1.6 0.5,3 0.4,5.7 2.4,4.6-3.9,0.8-0.9,1.9 0.2,3.5-0.4,3.5 3.1,1.1 0,3.3-1.8,0-3.3-3-0.7-1.9-2.6,0.8-1.5-1.9-2,0.6-0.9-1.4-4,0.5 0.3-2.1-1.1-2.2 0-5.9-3.1-0.9-2,0-1.1,2.8-2.2,0.2-1.1-0.2-1.3-2.2-0.7-3.5-7,0-2.7-0.3 1.4,0z" fill="#800026"/>
<path d="M1453.9,253.8l2.4,0.9 2.2-0.9 1.5,0 2.2,0.3 4.9,5.2-1.3,2.1 0,1.9 2.4,0.3 2.4,5.1 6.6,2.7 2.2,0-6.6,8.2-3.7,0.5-2.9,1.6-0.2,0.8-2,0-3.3,1.4-3.3-0.5-2.4-2.2-2.2-0.6 0-1.8-2.7-3.8-1.9-1.4-1.8-1.9 2.4-1.6-0.2-2.7 0.7-3.3 1.9-2.9 2-2.5z" fill="#800026"/>
<path d="M1458.5,244.4l1.8,5.9 3.7,3.3 3.1,3.8 1.5,1.3-1.5,0.6-4.9-5.2-2.2-0.3-1.5,0-2.2,0.9-2.4-0.9 0.2-1.8 1.1-4.9z" fill="#800026"/>
<path d="M1468.6,258.7l-0.9,3 1.1,0.3-0.6,1.6-2.4-0.3 0-1.9 1.3-2.1z" fill="#800026" stroke-width="4"/>
<path d="M1468.8,262l2.9,2.9 5.5-2.1 4.4-0.3 4.8-1.9-0.2,4.3-1.8,5.2-2.8,6.8-2.2,4-4.4,5.4-4.4,4.1-3.3,4.1-2,3.2-1.3-2.2 0-2.4 0-7.6 2-3 0.2-0.8 2.9-1.6 3.7-0.5 6.6-8.2-2.2,0-6.6-2.7-2.4-5.1z" fill="#800026"/>
<path d="M1465.3,297.7l-3.1,2.7-2.2,5.4-3.3-3.5-0.2-1.1-7.9-5.4-0.2-3 2.4-4.3-1.1-4.1-1.1-2.7 4.2-1.1 2.2,0.6 2.4,2.2 3.3,0.5 3.3-1.4 2,0-2,3 0,7.6 0,2.4z" fill="#E31A1C"/>
<path d="M1448.6,281.7l1.1,2.7 1.1,4.1-2.4,4.3 0.2,3-7.7,0-2,1.1 0.2-3.8 0.7-3.2 2.9-2.8-0.9-3.5 6.6-0.8z" fill="#E31A1C"/>
<path d="M1438.9,296.9l2-1.1 0.7,3.8-2,1.1-2-0.3z" fill="#800026" stroke-width="3.5"/>
<path d="M1437.6,300.4l2,0.3 2-1.1 0,2.4-3.1,3-0.5-3z" fill="#800026" stroke-width="3.5"/>
<path d="M1460,305.8l-0.8,4.9 1.5,1.3-0.2,4.1 2.2,5.4-5.3,2.2-1.1,1.1-5.5-0.3-0.9-0.3-1.3-5.4-2.4-0.3-4.2-2.1-0.7-1.1-2.4-4.6-0.4-5.7 3.1-3 0-2.4-0.7-3.8 7.7,0 7.9,5.4 0.2,1.1z" fill="#800026"/>
<path d="M1462.7,321.5l0.4,9.5 0.5,2.7-2.9,4.1-5.5,3.5-1.8,3-2.8,2.4-0.2,1.9 1.5,4.1 0,5.4-5.5,3.5-0.4,1.9 0.2,2.4-1.8-0.3-0.4-2.4 0.2-3.8-1.5-5.7 2.4-2.9 1.3-4.1-0.7-3.5 0.7-4.1-0.2-0.8-2.4-1.1-3.1-1.9-0.5-1.6 6.2-2.7 3.3,1.4-0.4,4 1.9,3 1.4-3 0.2-3-2-3.8-1.3-2.7 0.4-2.7 0.9,0.3 5.5,0.3 1.1-1.1z" fill="#E31A1C"/>
<path d="M1446.2,318.5l2.4,0.3 1.3,5.4-0.4,2.7 1.3,2.7 2,3.8-0.2,3-1.4,3-1.9-3 0.4-4-3.3-1.4-0.7-1.1 1.4-3.5 0-4.9z" fill="#800026"/>
<path d="M1441.3,315.3l0.7,1.1 4.2,2.1 0.9,3 0,4.9-1.4,3.5 0.7,1.1-6.2,2.7 0.5,1.6-3.3,1.1-4.2,5.2-3.7-0.3-4.2-0.6-3.1-3.7 0-8.7 4.4,0 0-5.7 0.9,1.4 2-0.6 1.5,1.9 2.6-0.8 0.7,1.9 3.3,3 1.8,0 0-3.3-3.1-1.1 0.4-3.5-0.2-3.5 0.9-1.9z" fill="#800026"/>
<path d="M1429.5,341.3l3.7,0.3 4.2-5.2 3.3-1.1 3.1,1.9 2.4,1.1 0.2,0.8-0.7,4.1 0.7,3.5-1.3,4.1-2.4,2.9-4.2-0.5-3.1-1.9-0.7-2.7-3.3-2.7z" fill="#E31A1C"/>
<path d="M1399.8,339.9l0-4 1.5-6.3 2.4-3.2 0.5-3.5-1.4-5.4-0.8-5.5-1.1-2.4-0.3-0.8 2.7,0.3 7,0 0.7,3.5 1.3,2.2 1.1,0.2 2.2-0.2 1.1-2.8 2,0 3.1,0.9 0,5.9 1.1,2.2-0.3,2.1 4-0.5 0,5.7-4.4,0 0,8.7 3.1,3.7-4.4,0.9-6.4-1.4-9.9,0-1.1-1.1z" fill="#800026"/>
<path d="M1410.1,370.5l-2.9-4.9-1.5-7.5 0-4.1-2.4-5.4-3.1-6.8-0.4-1.9 3.7-0.8 1.1,1.1 9.9,0 6.4,1.4 4.4-0.9 4.2,0.6-1.8,0.5-2.6,0-5.1,0.8 0,10.1-2.2,0 0,7.5 0,9.8-2.2,1.3-3.5-0.5z" fill="#E31A1C"/>
<path d="M1417.8,360.2l0-7.5 2.2,0 0-10.1 5.1-0.8 2.6,0 1.8-0.5 1.9,4.6 3.3,2.7 0.7,2.7 3.1,1.9-2.4,1.1-3.1,4.6-2.9,3.5-2.4,0.3-3.3-1.1-2.2,3.5-2.6,0.5z" fill="#E31A1C"/>
<path d="M1446.2,365.9l-1.1,4.3-3.1,4.1-2.2,3.5-3.3,3.5-3.3,2.8-2.9,1-7,0.3-5.5,1.9-3.5-1.6-0.2-4.1-1.1-4.6-2.9-6.5 2,0.3 3.5,0.5 2.2-1.3 0-9.8 1.8,5.4 2.6-0.5 2.2-3.5 3.3,1.1 2.4-0.3 2.9-3.5 3.1-4.6 2.4-1.1 4.2,0.5 1.5,5.7-0.2,3.8-1.8,0-0.6,2.4 1.1,1.4 1.7-1.4z" fill="#FD8D3C"/>
<path d="M1444,363.2l-1.8,0-0.6,2.4 1.1,1.4 1.7-1.4z" fill="#E31A1C" stroke-width="3.5"/>
<path d="M1433.2,373.2l2.2-2.1 1.5-0.6 1.6,2.2-0.5,1.6-2.2,1.6-1.7-0.8z" fill="#606060" stroke-width="3.5"/>
<path d="M1482.3,325.6l2.6,9.5-1.5,4-0.9,2.7-3.5,13.6-1.8,5.4-4,1.3-3.3-2.7-0.8-6.7 2.4-5.5-0.9-6.7 1.1-3.5 4-1.4 3.7-5.1z" fill="#800026"/>
<path d="M1171,253.8l0.4-1.8 0.7-2.2 2.6-0.3-2-3 0.9-1.6 4,0 0,5.2 2,0.5-2,1.9-0.5,1.6-1.5,1.6z" fill="#FED976" stroke-width="3.5"/>
<path d="M1177.6,244.6l2-1.6 0.4,2.7-1.8,4.4-0.6,0z" fill="#FFFFFF" stroke-width="4"/>
<path d="M1177.6,252.5l2-1.9 1.7-0.3 3.3-0.5 3.3,0.5 2.9,2.2-3.5,0.8-2,2.2-2.4,0.5-1.4,2.2-0.8-1.4-1.6-1.6-2-1.1z" fill="#FED976" stroke-width="3.5"/>
<path d="M1181.5,258.2l1.4-2.2 2.4-0.5 2-2.2 3.5-0.8-0.7,6.8-0.4,4-4.4-0.2-1.8-1.9-2.6-3z" fill="#FED976" stroke-width="3.5"/>
<path d="M1185.3,263.1l4.4,0.2 2.4,3.8-0.7,4.1-1.5-1.1-2.6-3.3-2.2-0.8z" fill="#FFFFFF" stroke-width="4.5"/>
<path d="M1191.4,271.2l0.7-4.1 3.5,2.2 3.1-2.2 4.8,2.4-1.1,3.8-1.3-2.7-2.6-1.3-1.6,1.6 0.5,2.4-2.2-0.5z" fill="#FFFFFF" stroke-width="4.5"/>
<path d="M1187,233.8l4.2-3 5.5-0.2 7.7,4 6.2,3.8-7.7,0.8-1.8-2.9-7.7-3.8z" fill="#FFFFFF" stroke-width="4.5"/>
<path d="M1210.1,243.3l3.1,0.5 2.7,0.6 0.2-4.6-2.9-0.6 0.5,2.5-1.6,1z" fill="#FFFFFF" stroke-width="4"/>
<path d="M1215.9,244.4l3.9-0.8 3.5-0.9-3-2.1-4.2-0.8z" fill="#FFFFFF" stroke-width="4"/>
<path d="M1201.6,243.3l4.4,0.8-2,0.8z" fill="#FFFFFF" stroke-width="4"/>
<path d="M1226,243.3l3.3,0.3-1.8,0.9z" fill="#FFFFFF" stroke-width="4"/>
<path d="M1203.5,269.5l1.4,1.9 2.6-4 1.3-3.5 1.8-1.4 4.8-2.4 1.6-0.3 0,1.4-2.7,2.1-1.1,4.9 1.3,2.4 0.9,3.6 4.4,0 5.5,2.1-0.6,5.4 1.7,6 0,2.2-6.1-1.4 0.6,3-1.1,2.1 1.3,2.7-1.1,8.2-1.7-1.1-4-3.8-2.4-3-3.7-3.2-2.7-1.1-2.2-0.8-2.8-2.2 0.6-3 2.7-4-0.3-5.4-1.1-3.6z" fill="#FFFFCC"/>
<path d="M1217,261.2l-0.5,2.7 3.3-1.9 0-1.9 3.8,3.8 5,0.5 3.3,1.1 5.5-1.4 2.2,2.5 0.5,3.5 1.7,0-2.6,2.7 1.5,1.4-1.7,2.7 1.3,2.1 0,1.1-4.6,2.2-3.1-0.6 0.4,4.6-3.3,4.1-2.8-0.5-0.5,0 0-2.2-1.7-6 0.6-5.4-5.5-2.1-4.4,0-0.9-3.6-1.3-2.4 1.1-4.9z" fill="#FFFFCC"/>
<path d="M1241.8,270.1l3.3,3.5 2.9,3.3-0.2,2.1-1.6,3.3 1.1,1.9 2.2,3.8-5,1.6-2.5-3.3 0-5.4-1.7-1.9-1.3-2.1 1.7-2.7-1.5-1.4z" fill="#FED976"/>
<path d="M1248,276.9l7,0.5-1.1,2.7 1.1,3.5-1.1,3.3-3.3,0.8-1.1,0.3-2.2-3.8-1.1-1.9 1.6-3.3z" fill="#FED976"/>
<path d="M1255,277.4l4.4,3 0.7,1.9-2.2,4.6-4,0 1.1-3.3-1.1-3.5z" fill="#FFFFFF"/>
<path d="M1260.1,282.3l3.7,5.9 0,4.9 3.3,1.4 1.1,1.3 7.7,4.1 6.6,1.1 5.5,1.6 4,3.5 4.1,1.1 1.1,5.4-0.4,4.9-4.4,5.4-3.3,5.4-1.1,6.8-1.1,6.7-2.9,8.1-0.4,2.8-2.2,2.7-5.5,0.5-4,2.2-4.8,5.4-0.2,5.4-3.1,5.4-4.8,6-2.7,4 0.5-2.7-5.3-4.9-4.4-1.8 4-4.9 4.4-3.3-1.8-4.3 0.7-4.3-2.7,0-0.4-4.6-4.9-0.6-0.6-5.1 0.4-1.1 1.1-4.9-1.7-1.9-4.2-2.7-0.7-6.7-3.3-0.9-5.5-2.7-1.7-2.7 0-4.6-2.9,0.3-4.6,3-4.2,0 0-4.1-3.5,1.4-2.2-1.7 0.6-1-2.4-4.4 0.7-1.6 1.5-3.5 0.2-1.1 4.7-2.4 1.9,0 1.1-8.2-1.3-2.7 1.1-2.1-0.6-3 6.1,1.4 0.5,0 2.8,0.5 3.3-4.1-0.4-4.6 3.1,0.6 4.6-2.2 0-1.1 1.7,1.9 0,5.4 2.5,3.3 5-1.6 1.1-0.3 3.3-0.8 4,0z" fill="#FED976"/>
<path d="M1200.5,289.3l2.8,2.2 2.2,0.8 2.7,1.1-0.5,3.8-2.2,2.9-3.3,1.9-1.1,4.1-2.8-0.5-1.1-3.3 0.6-2.4-2.2-0.8 0.5-3.3 1.7-3.2 0-1.7z" fill="#FD8D3C"/>
<path d="M1197.2,302.3l1.1,3.3 2.8,0.5 1.1-4.1 3.3-1.9 2.2-2.9 0.5-3.8 3.7,3.2 2.4,3 4,3.8 1.7,1.1-1.9,0-4.7,2.4-0.2,1.1-1.5,3.5-0.7,1.6 2.4,4.4-0.6,1 2.2,1.7 3.5-1.4 0,4.1 4.2,0-0.7,4 0.7,3.6-1.1,4 0.4,2.5-1.1,3.5-2,2.1-2.2-2.4-4.6-3-5.9-6.2-2.2-5.4-2.9-6.8-3.1-6.8-2.8-2.7-0.2-4z" fill="#FD8D3C"/>
<path d="M1222.7,322.9l4.6-3 2.9-0.3 0,4.6 1.7,2.7 5.5,2.7 3.3,0.9 0.7,6.7 4.2,2.7 1.7,1.9-1.1,4.9-0.4,1.1-2-2.5-5.9,0.9-1.8,7-3.1-0.5-2.6,0.2-2.4-0.8-2,2.7-1.6,0-0.6-4-0.7-4.9-1.1-1.4-1.1-4 1.1-3.5-0.4-2.5 1.1-4-0.7-3.6z" fill="#E31A1C"/>
<path d="M1245.8,347.8l0.6,5.1 4.9,0.6 0.4,4.6 2.7,0-0.7,4.3-0.9,3.8-3.1,1.1-4.8-0.6 2.2-4.6-3.1-2.7-4.4-1.9-3.5-4.3 1.8-7 5.9-0.9z" fill="#FFFFCC"/>
<path d="M1256.3,384.3l0.5-2.7-5.3-4.9-4.4-1.8-1.3,6.2-0.5,4 3.1,1.7 4.4,0.8z" fill="#FFFFCC"/>
<path d="M1226,354.8l2-2.7 2.4,0.8 2.6-0.2 3.1,0.5 3.5,4.3 4.4,1.9 3.1,2.7-2.2,4.6 4.8,0.6 3.1-1.1 0.9-3.8 1.8,4.3-4.4,3.3-4,4.9-1.3,6.2-0.5,4 2.7,3.6-0.2,2.4 1.3,0.8-2,4.1-3.1,1.9-6.6,0.8-0.6,4.3-6,0.5 0,3.8 3.1,1.1-3.1,1.9-1.1,4.6-4.4,2.7 3.8,3.3-0.5,2.1-3.7,4.9-2.9,3 1.3,3.8-3.5-0.8-4.4,0-0.9-3.6-1.7-3.7 2-4.9 1.3-5.4 0-5.4-0.2-5.5 1.3-5.4 0.4-5.4 1.6-5.4 1.1-5.4-1.1-5.4 0.8-4.1 1.6-5.4 1.7-4.9-0.2-4.6zM1222.9,435.5l7.5,5.7-2.9,0.8-4.6-0.3z" fill="#FFFFCC"/>
<path d="M1218.9,342.6l2-2.1 1.1,4 1.1,1.4 0.7,4.9 0.6,4 1.6,0-2.9,4.6 0.2,4.6-1.7,4.9-1.6,5.4-0.8,4.1 1.1,5.4-1.1,5.4-1.6,5.4-0.4,5.4-1.3,5.4 0.2,5.5 0,5.4-1.3,5.4-2,4.9 1.7,3.7 0.9,3.6 4.4,0 3.5,0.8-5.5,3.5-5.7-3-3.9-6.7-0.5-8.2 3.3-5.4 1.1-8.1-0.4-6.8 1.1-6.7 1.5-4.1 1.8-5.4 0.4-6.8 0.2-5.4 1.4-6.8 0.6-8.1 0.9-6.8zM1222.9,435.5l0,6.2-3.1,1.1-4.4-2.2-4.4-4 6.6,2.1 1.8-2.7z" fill="#FD8D3C"/>
<path d="M1239.6,433.3l5.5-1.3 1.6,1.1-3.8,1.6z" fill="#606060" stroke-width="5"/>
<path d="M1319.9,115.8l5.5-2.4 8.8,0.5 4.4-0.8 3.3,1.3 2.2,2.7-3.3,1.9-7.7,2.5-8.8-1.1 1.1-2.7-4.4-0.6z" fill="#FFFFCC" stroke-width="4"/>
<path d="M1351.8,153.4l1.1-4.6-1.1-2.4 3.3-2.7 2.6-0.3-1.7,2.2 2.4,1.1 1.8,0 0.4,2.9-0.9,2.2-3.5,1.1z" fill="#FED976" stroke-width="4.2"/>
<path d="M1361.3,157.8l4.8-1.1 3.3-0.6 7.5-1.6-2-0.8 2.6-3.3-3-0.8-1.1-3.2-3.1-3.3-3.1-1.6 2.2-3.2 0.4-1.1-4.8,0 2-2.7-4.2,0-1.8,2.9 0.7,2.8 0,2.9 1.1,1.7 3.3-0.3 1.1,4-3.3,0.3 0.9,2.7-2.4,1.1 4.4,1.4-2.9,1zM1357.7,143.4l2.9,0.3 1.1,1.9-1.5,1.1-1.8,0-2.4-1.1z" fill="#FFFFCC" stroke-width="4.6"/>
<path d="M1354.4,179.7l1.4-0.3 3.5,0.3 0.9,0.8-1.6,1.6-0.2,3.5-1.1,0.3 1.1,3.8-0.9,2.7-3.3,0.5 0.2-3.7-1.5-1.1 1.3-3.8z" fill="#FFFFCC"/>
<path d="M1354.4,179.7l-0.8-3.5 2.6-1.4 4.8,0.3 4.4,0.2 4.4,0.3 5.5,1.6 2.2,0.9 3.3,0.2 0,1.4-2.2,1.3-2.8,1.7-2.7,3.5 1.1,1.9-1.9,3.2-2.9,2.2-5.3,0.3-2.2,1.6-2-1.4-2.4-1.6 0.9-2.7-1.1-3.8 1.1-0.3 0.2-3.5 1.6-1.6-0.9-0.8-3.5-0.3zM1379.1,185.9l2.2-0.8-0.5,1.6z" fill="#FFFFCC"/>
<path d="M1369.8,175.6l1.4-3.2 0-4.4-2.2-2.7-4.9-1.6-0.9-1.6 4-1.1 3.1,0.5-0.7-2.9 1.8,0.8 2.8-0.3 2.9-1.9 0.2-1.9 2-0.5 1.5,0.8 2.2,1.3 1.4,0.4 2.2,1.8 1.3,0 3.9,1.4-1.3,3.7-1.5,0.9-1.8,2.9 1.6-0.5 0.4,1.3-0.2,4.1 1.3,1.6-2.9,1.9-2.6-0.8-2.2-0.3-2.2,0.9 0.4,2.1-3.3-0.2-2.2-0.9zM1392.7,179.7l1.8-3 0.2,4.3z" fill="#FFFFCC"/>
<path d="M1379.3,154.8l2-0.8 3.5-0.3 2,1.1-0.5,0.8 0.9,0.3 0.7,1-0.7,0.6-0.6,1.6-2.2-1.8-1.4-0.4-2.2-1.3z" fill="#FFFFCC" stroke-width="4"/>
<path d="M1381.3,154l1.3-1.7 1.5-2.7 2.9-1.3 2.6,0.5-0.4,2.2-0.7,1.6-1.5,0.3 0.4,1.6-0.6,0.3-2-1.1z" fill="#FFFFCC" stroke-width="4"/>
<path d="M1386.6,159.1l0.6-1.6 0.7,1.6z" fill="#FFFFCC" stroke-width="4"/>
<path d="M1389.6,148.8l2.9-0.8 0.2-3.5 2.9,0.3 2.4,2.1 3.3-1.1 3.7,1.4 0.9,3.5 0.2,4.3-0.8,0-4.9,1.9 3.8,4.1-2.2,1.6 0.4,1.9-5.5,0-2,0-4.4-0.3 1.3-3.7-3.9-1.4-0.7-1.6 0.7-0.6-0.7-1-0.9-0.3 0.5-0.8 0.6-0.3-0.4-1.6 1.5-0.3 0.7-1.6z" fill="#ABD9E9"/>
<path d="M1392.7,144.5l-1.1-1.9 0.2-3.8 2.9-0.5 2.4-1.4-0.4,3.3 1.1,0.2-2,2.5-0.2,1.9zM1398.4,142.3l3.1-0.8-0.2,1.9-1.5,1.1z" fill="#FFFFCC" stroke-width="6"/>
<path d="M1389.2,136.1l-3.3-2.7-1.1-4.1 0-3.5 2.2-1.9 5.5-3 4.4-2.4 3.3-2.7 2.2-4.1 3.1-0.8 2.4-2.7 4.4-2.4 3.3-1.4 5.5-1.3 4.4-1.7 5.1-0.8 4.8,0.3 6.6,1.9-2.2,1.6 1.8-0.2-4,1.8-2.2-2.4-4.4,0.3-0.7,1.9-4.4,1.1-5.9-0.6-1.1-0.1-5.3,1.5-3.5,2.7-3.3,3.5-2.2,4.6-4,2.7 0,5.4 1.4,0.6-2.2,4-1.4,2.2-1.3-0.8-0.2-1.6-3.3,3.5z" fill="#FFFFCC" stroke-width="4"/>
<path d="M1398.4,133.4l1.6,3.5 1.5,4.1 0.7,2.1 3.1-0.2 3.5-1.7 1.3-1.9 0.2-2.7 0.9-2.4 4-2.4 0.2-1.4-3.5-1.6-0.3-3.5 1.8-2.2 4.4-2.4 2.6-2.5 1.8-2.7 4.6-0.5-0.9-1.9 0.5-2.7-2.4-2.5-5.1-1.7-5.3,1.5-3.5,2.7-3.3,3.5-2.2,4.6-4,2.7 0,5.4 1.4,0.6-2.2,4z" fill="#FFFFCC"/>
<path d="M1426.8,115l2.9,2.1-3.1,2.8-5.5,2.4-0.2,5.7-0.2,1.1 1.9,0.5 1.8,1.6 4.4-1.1 6.2-0.8 3.7-2.7 4.4-3.8-3.3-2.4 0.2-5.1-2.2-3.3 2-2.2-3.3-1.3 0.9-2.5 0.2,0-2.2-2.4-4.4,0.3-0.7,1.9-4.4,1.1-5.9-0.6-1.1-0.1 5.1,1.7 2.4,2.5-0.5,2.7z" fill="#FFFFCC"/>
<path d="M1425.5,132.8l2.6-0.8 7.3,0-1.3,5.4-3.1-0.8-2.2-0.5-1.5,0.3 0.4-1.4-2.2-0.8z" fill="#ABD9E9" stroke-width="4"/>
<path d="M1427.3,136.4l-0.5,2.1-2.4,0-0.9-1.6-2.6,0.8-0.9,1.6 0.1,1.9 2.1-0.8 5.5,0.3 3.3,1.6 1.3,0 3.5-1.2-0.8-3.1-0.9-0.6-3.1-0.8-2.2-0.5z" fill="#ABD9E9" stroke-width="3.5"/>
<path d="M1420.1,141.2l0.3,2.2 3.1,0.8 0.5,1.6 1.5,1.3 1.1,0.1 3.3-0.8 0.7-1.9 1.7-2.2-1.3,0-3.3-1.6-5.5-0.3z" fill="#ABD9E9" stroke-width="3.5"/>
<path d="M1416.9,145.7l0.9-1.3 2.6-1 3.1,0.8 0.5,1.6z" fill="#FFFFCC" stroke-width="3.5"/>
<path d="M1405,147.2l5.1-1.6 4-0.8 1.1,1.2 1.7-0.3 7.1,0.1 1.5,1.3 0.9,3.3-1.6,1.1 0.9,2.2 0.9,2.7-3.1,3.8-3.5-0.8-2.6,0.5-2-0.8-4.2-2.2-2.2-0.8-2.6-0.8-0.3-0.3-0.2-4.3z" fill="#FFFFCC"/>
<path d="M1400.4,156.9l4.9-1.9 0.8,0 0.3,0.3 2.6,0.8 2.2,0.8 4.2,2.2-4.2,1.9-0.2,0.5-4.2-1-2.6,0.5z" fill="#FFFFCC"/>
<path d="M1411,161.5l0.2,1.7 4,0.5 3.7-1.9 3.5,0.3 1.1-1.9-3.5-0.8-2.6,0.5-2-0.8-4.2,1.9z" fill="#ABD9E9"/>
<path d="M1394.9,164.5l2,0 5.5,0-0.4-1.9 2.2-1.6 2.6-0.5 4.2,1 0.2,1.7-2,2.9-0.2,0.6-3.3,0.8-1.8-0.3-3.3-1.3-3.7,0.2-2.2-0.5z" fill="#ABD9E9"/>
<path d="M1387.2,168l1.8-2.9 1.5-0.9 4.4,0.3-0.2,1.1 2.2,0.5-0.9,1.9-2.4,0.8-1.3-1-3.1,1-0.4-1.3z" fill="#ABD9E9" stroke-width="4"/>
<path d="M1390.3,174.5l2.9-1.6 3,1.4 0.7,2.7 3.7,3.2 2.9,1.4 1.8,1.1 2.8,2.1 0.9,2.7-0.7,2.7 1.8-0.8 1.5-1.9-1.5-1.9 1.1-2.1 3.3,1.3-1.1-1.9-4-3.2-2.6-0.3-3.1-4.3-2.6-1.6-0.2-3 3.3-0.8-0.5-1.1 0.2-1.4-3.3-1.3-3.7,0.2-0.9,1.9-2.4,0.8-1.3-1-3.1,1-0.2,4.1zM1401.1,190.2l7-0.8-1.1,4.4-5.7-2.5zM1391.8,187.5l0-5.1 3.3-0.8-0.2,5.4z" fill="#ABD9E9" stroke-width="3.6"/>
<path d="M1403.7,168.6l0.2-1.4 1.8,0.3 3.3-0.8 1.1,0.5-2,0.8-0.6,1.9-3.8,0 0.5-0.2z" fill="#ABD9E9" stroke-width="4.5"/>
<path d="M1403.7,169.9l3.8,0 0.6-1.9 2-0.8 2.2,1.6 3.1,0 1.1,1.9-0.9,0.9-2.2-0.6-4.8-0.3 0.2,2.8 3.7,3.2 2,1.4-2.2-1.4-3.3-1.4-1.8-1.8-1.5-3-1.3,1.3z" fill="#ABD9E9" stroke-width="4.5"/>
<path d="M1408.6,170.7l4.8,0.3 2.2,0.6 1.3,2.4-0.9,1.3-1.1,0.9-0.4,1.9-2-1.4-3.7-3.2z" fill="#ABD9E9" stroke-width="4.5"/>
<path d="M1416.5,170.7l-1.1-1.9 2.8-0.5 2.9,2.4 2.2,1.4 0.4,1.4 0.7,2.7-1.3,1 0,1.4-1.8,0.3-2.2,0.5-1.1-1.6-0.2-0.3-1.8-2.2 0.9-1.3-1.3-2.4z" fill="#FFFFCC" stroke-width="4"/>
<path d="M1414.5,178.1l0.4-1.9 1.1-0.9 1.8,2.2-1.3,2.2z" fill="#ABD9E9" stroke-width="4.5"/>
<path d="M1416.5,179.7l1.3-2.2 0.2,0.3 1.1,1.6-0.2,1.9 1.1,1.4-0.7,1.8-1.5,1.1-1.3-1.6 0.2-2.7z" fill="#ABD9E9" stroke-width="4.5"/>
<path d="M1418.9,181.3l0.2-1.9 2.2-0.5 1.8-0.3 1.3,2.7-2.2,0.5-2.2,0.9z" fill="#ABD9E9" stroke-width="4.5"/>
<path d="M1417.8,185.6l1.5-1.1 0.7-1.8 2.2-0.9 2.2-0.5 3.3-0.5 3.3,0.5 1.3-0.8-0.6,1.9-5.1,0-0.4,2.4-2-1.3 0,3.2 2.4,3 0,1.3-2.2-0.5 0.4,3.8-1.7,0-1.6-0.8-0.8-2.5-0.5-1.6-0.9-1.3zM1425.5,197l6.2,0.8-4,0.6z" fill="#FFFFCC" stroke-width="5"/>
<path d="M1423.7,173.5l2.9,1.3 4.4-0.5 2.2-0.6 3.5,1.1-1.5,2.4 0.2,2.2-3.7,0.8 0.6,0.3-1.3,0.8-3.3-0.5-3.3,0.5-1.3-2.7 0-1.4 1.3-1z" fill="#FED976"/>
<path d="M1418.2,168.3l2.2-0.8 2-4.1 1.8-0.2 3.5,0.2 4.6-1 3.3,3.7 0.2,3.8 3.3,0.6-2.4,4.3-3.5-1.1-2.2,0.6-4.4,0.5-2.9-1.3-0.4-1.4-2.2-1.4z" fill="#FED976"/>
<path d="M1409.2,166.1l2-2.9 4,0.5 3.7-1.9 3.5,0.3 1.8,1.1-1.8,0.2-2,4.1-2.2,0.8-2.8,0.5-3.1,0-2.2-1.6-1.1-0.5z" fill="#ABD9E9"/>
<path d="M1432.3,162.4l3.1,0 2.6,1 1.8,3.8-4,2.7-0.2-3.8z" fill="#ABD9E9" stroke-width="3.5"/>
<path d="M1423.5,160.2l3.1-3.8-0.9-2.7 3.1-1.1 5.5,1.1 6.6,0.5 2.9-2.1 4.4-0.8 3.7,5.1 5.5,1.6 4.4,0.8-0.7,4.6-3.3,2.2-7,2.4 1.1,2.5 2.2-0.3-3.3,1.6-3.3,0.8-2.2-2.4 2.4-1.9-3.9-0.5-2.5-0.6-2.2,3.3-3.3-0.6 4-2.7-1.8-3.8-2.6-1-3.1,0-4.6,1-3.5-0.2-1.8-1.1z" fill="#ABD9E9"/>
<path d="M1425.7,153.7l-0.9-2.2 1.6-1.1-0.9-3.3 1.1,0.1 3.3-0.8 0.7-1.9 1.7-2.2 3.5-1.2 6,1.5-0.2,2.2 1.1,1.6 3,2.1-2.8,0.9 0.9,2.7-2.9,2.1-6.6-0.5-5.5-1.1z" fill="#ABD9E9"/>
<path d="M1444.9,198.4l1.5-1.1 3.5-0.8-1.3,1.9-2.2,1z" fill="#ABD9E9" stroke-width="4"/>
<path d="M1441.6,104.2l4.8,1 6.6,0.6 11.4,6.5-7,1.9-7.7-1.4-4.4-1.3 5.1,7 4.8,1.6 2.2-1.9 5.5,0-1.1-3.8 4.4-1.3 4.4,1.3 0-6.7 5.5,1.9 3.3,0.2 11-1.6 4.4-0.8 4.4,0 6.6-1.1 1.1-2.1 8.8,1.3 4.4,2.4 3.3,0.3-2.2-3.2-0.5-3.6 3.8-5.9 3.3-1.1 5.5,1.9 0.6,4.6 1.6-1.4 3.3-2.7 6.6,0.9 5.5-3.6 13.2-0.8 1.1-1.9 17.6-4.3 11-1.1 9.4-3.2 6,2.4 11,0.8 3.3,2.7-7.7,3.3 6.6,1.3 13.2,1.9 11-1.6 8.8,1.1 3.3,6.2 3.3,0.5 4.4-1.9 11,0 4.4-2.7 13.2,0.6 8.8,1.9 4.4,1.9 15.4,3 4.4,0.8 8.8-0.3 6.6-0.8 5.5,2.4 0-3 12.1,0.9 8.8,2.4 0,10.5-5.5,0.9 3.9,5.9-11.6,1.9-7.7,4.9-9.9-0.8-5.5,1.1-1.1,5.1-1.1,4.9-1.6,3.2-3.9,4.9-3.8,3.8-3.5,2.1-2.4-5.4-0.2-5.4 1.1-5.4 4.4-4.1 7.7-5.4 4.4-2.7 2.2-2.7-9.9,2.2-7.7,0.5-4.4,5.4-7.7,0.6-6.6-0.3-11,0.3-5.5,3.5-6.6,8.1-4.9,0.8 4.9,1.9 5.9,0.3 2.7,1.6-2,6.2 0,6.8-4.4,5.4-5.5,5.7-6.2,4.3-2.8-0.8-2.7,2.2-0.2-1.1 1.3-2.2-0.4-3.7 4.4-0.6 3.3-7 0.6-1.9-8.3,1.9-0.7-3.3-7-2.4-3.3-7.9-5.5-2.1-5.7,0.5-2,1.6-1.6,6.5-3.3,1.9-2.4-0.5-3.7-1.1-6.6,2.2-7.7,0.2-7.7-2.9-6-0.6-0.6-2.1-6.8-1.9-2.5,2.9 1.1,1.4-7.2,1.4-6.6-1.9-9.3,4-1.1,0.3-4.6-1.4-4.8-3.8-6.6,0.6-4.6-6.8-3.1-2.4-6.8,1.9 0.8-1.6-6.1-0.3 0-3-4.4-0.3-8.4,2.7-8.1,1.4-1.1,2.4-2.2,3.3 3.3,1.3-0.2,1.4-6.2-0.6-6.4,1.1-7.5-3-3.3,0-4.6,3-0.6,2.2-3.5,2.4 1.3,3 3.5,3.8-3.3,2.2-1.1,2.9 1.3,4.1 2,3-4,0.2-0.6-0.2-5.3-1.9-1.1-0.6-7.7-1.6-4-2.7-0.8-0.8-2.7-1.4 2-2.1 1.5-2.2 2.5-0.8-2.5,0 3.3-2.2 0.7-4.6-4.4-0.8-5.5-1.6-3.7-5.1-4.4,0.8-0.9-2.7 2.8-0.9-3-2.1-1.1-1.6 0.2-2.2-6-1.5-0.8-3.1-0.9-0.6 1.3-5.4 4.4-1-3.3-1.7-1.5,0 3.7-2.7 4.4-3.8-3.3-2.4 0.2-5.1-2.2-3.3 2-2.2-3.3-1.3 0.9-2.5 0.2,0zM977.8,106.6l11,3.8 7.7,1.6 4,2.2-6.2,4.6-6.6-1.1-5.5-1.9-4.4,1.3zM1686.2,146.1l2.8,4.9-0.2,8.1 3.3,1.6-3.7,5.7-1.1,2.2-1.1-4.4 0-7.8-0.7-5.4z" fill="#FFFFCC"/>
<path d="M1398,79.5l6.6-2.4 13.2-1.1 15.4,0.3-11,4.3-8.8,4.9-8.8-2.5z" fill="#606060" stroke-width="5"/>
<path d="M1431.7,182.4l0.6-1.9-0.6-0.3 3.7-0.8 2.4,2.2 5.3,0 4.4-2.2 3.3-0.3 3.3,2.2 4.4,1.1 6.6-1.6 4.4,1 0.4,2.7 2.5,1.1-1.4,0.8 0.7,3.8 0.7,2.2-5.3,0.3-0.2-0.3-5.1,1.1-4.4,0-2.9,0-1.1,2.4-0.4-2.4-3.1,0-2.2,1.9-3.5-1.1-3.1-0.8-2,1.9-3.7-1.6-1.5-0.9-0.3-3.7-2.2,0.2 1.4-2.7-1.6-0.5 0.2-1.7 2.9-0.8 3.3-0.2 0.2-1.4-3.5,0.3z" fill="#FED976"/>
<path d="M1461.8,175.6l3.3,5.2 4.4,1 3.3-0.5 3.1-1.6-5.3-1.9-1.1-0.6z" fill="#FED976" stroke-width="3.5"/>
<path d="M1469.5,181.8l3.3-0.5 1.1,1.9 2.2,3 0,1.6-1.1-1.1-2.6-1.1-2.5-1.1z" fill="#FED976" stroke-width="3.5"/>
<path d="M1472.8,181.3l3.1-1.6 0.6,0.2 4-0.2 2.2,3.5 1.7,0.5-2.1,3-0.9,2.5-2-1.1 0-2.2-3.3,1.9 0-1.6-2.2-3z" fill="#FD8D3C" stroke-width="3.5"/>
<path d="M1453.4,195.9l1.1-2.4 2.9,0 4.4,0 5.1-1.1-2.9,7.6-4.8,2.7-4.4,3-2.5-1.1 0.3-1.6 1.7-2.5-0.6-1.1-0.9-0.1 0-2.3z" fill="#FFFFCC"/>
<path d="M1451,203.5l1.8-4.2 0.9,0.1 0.6,1.1-1.7,2.5z" fill="#FFFFCC" stroke-width="4"/>
<path d="M1449,208.4l1.6,4.8 1.1-4.6 0.2-0.8 0-2.4 0.4-0.8 0.3-1.6-1.6,0.5-0.9,3z" fill="#ABD9E9" stroke-width="4"/>
<path d="M1450.6,213.2l2.4,0.9 3.3-2.2-1.1-4.1 4.4-1.3 0.4-0.6-0.8-3.2-4.4,3-2.5-1.1-0.4,0.8 0,2.4-0.2,0.8z" fill="#FED976"/>
<path d="M1466.9,192.4l0.2,0.3 5.3-0.3 1.5,3.2 1.5,2.2-1.7,3.3 1.7,2.1 3.6,3.8-0.3,2.2 2,3-1.3-0.3-0.7-0.3-2.6,2.7-4-0.2-5.9-5.2-3.5-2.2-2.7-0.8-0.8-3.2 4.8-2.7z" fill="#FFFFCC"/>
<path d="M1476.1,214.3l2.6-2.7 0.7,0.3 0.9,4.1-2,0z" fill="#FFFFCC" stroke-width="4"/>
<path d="M1450.6,213.2l2.4,0.9 3.3-2.2-1.1-4.1 4.4-1.3 0.4-0.6 2.7,0.8 3.5,2.2 5.9,5.2 4,0.2 2.2,1.7 2,0 1.3,2.7 2.6,2.1-0.2,3.3 1.5,2.1 0.9,0.3 0.9,1.1 2.2,3.5 5.7,0.6 0.9,1.8-1.3,5.5-6.6,2.7-6.6,1-4.4,4.4-1.3-0.6-2.7-0.5-3.9-0.3-0.5,2.2-0.8,0.8-0.7-1.6-3.3-5.4-4-6.8-1.5-5.4-2.9-4.1-2.6-5.4-2.2-3-0.9,0z" fill="#FED976"/>
<path d="M1468,248.7l0.8-0.8 0.5-2.2 3.9,0.3 2.7,0.5 1.3,0.6 4.4-4.4 6.6-1 2.4,6.5-2,2.7-7,4.3-8.8,3.3-3.3,0.2-0.7-1.6-0.8-4.6z" fill="#FD8D3C"/>
<path d="M1490.6,248.2l-2.4-6.5 6.6-2.7 1.3-5.5-0.9-1.8 1.8-3.8 0.9-2.2 1.3,2.4 3.5,1.1 2.6,3-2.8,5.7-1.6,3.8-3.3,2.9-2.8,2.5z" fill="#FED976"/>
<path d="M1487.3,227.6l2.2,3.5 5.7,0.6 1.8-3.8 0.9-2.2-0.7-3-1.8,1.9-2.2,2.4-3.7,0.6z" fill="#FED976" stroke-width="3.5"/>
<path d="M1485.5,226.2l0-2.4 0.9-1.4 0.9,2.2 0,1.9-0.9,0z" fill="#FFFFCC" stroke-width="4"/>
<path d="M1471,186.4l1.4-0.8 2.6,1.1 1.1,1.1 3.3-1.9 0,2.2 2,1.1 1.3,2.4 2.2,1.3 3.3,1.1 4.4-0.8-0.2-1.1 3.5-1.9 3.7-0.5 4.6,1.9 4.2,2.4 0,2.7-1.5,5.2 0.9,5.9 1.9,0.3-1.9,4.3 1.7,3 2.4,1.4 1.1,2.9-0.2,1.1-3.1,1.4-0.4,2.7-5.7-0.6-3.8-0.8-1.1-3.8-5,1.4-3.3-1.1-3.3-2.2-1.6-3.2-1.7-3.3-2.2-0.5-0.9,1.4-2-3 0.3-2.2-3.6-3.8-1.7-2.1 1.7-3.3-1.5-2.2-1.5-3.2-0.7-2.2z" fill="#FFFFCC"/>
<path d="M1492.4,192.1l-0.9-5.9-1.3-1.4-0.3-3.2-0.6-1.7 2.2-1 2.6,0.5 1.8,1.9 1.1,0 2.2,0 0.2-2.7 3.1-1.1 3.3,1.4 2.8,2.7 2.5,3.2 4.4,3 4.6,2.4 0,1.7-3.8,0.8-0.6,2.1-3.8,2.5-3.5-0.6 0-2.7-4.2-2.4-4.6-1.9-3.7,0.5z" fill="#FD8D3C"/>
<path d="M1497,181.3l0-10 5.7-1.6 5.3,3.2 2.2,2.4 6.4-0.5 2.6,1.9-0.2,2.7 4.4,2.7 4.8-2.7 1.8-0.8 0.4,0.3 4,3.8-2.9,1.6-2.6-0.3-2.7-1.3-1.3,3.5-2.8,0.5 0.8,5.7-2.8-0.5 0-1.7-4.6-2.4-4.4-3-2.5-3.2-2.8-2.7-3.3-1.4-3.1,1.1-0.2,2.7z" fill="#FED976"/>
<path d="M1565.8,160.2l-3.3,1.9-0.6,3.5-5.5-0.3-1.6,4.6 0.7,0.8-5.7,0.6 0.4,7.8-2.6-1.9-7.3-0.2-3.7-0.8-1.1,2.1-5.1-0.8-0.4,1.1-1.8,0.8-4.8,2.7-4.4-2.7 0.2-2.7-2.6-1.9-6.4,0.5-2.2-2.4-5.3-3.2-5.7,1.6 0,10-1.1,0-1.8-1.9-2.6-0.5-2.2,1 0-2.7-3.3-4.6-1.6-0.2 2-1.9 4,0 0-4.4-4-0.5-4.8,1.9-3.5-3.8-1.3-3 3.5-2.4 0.6-2.2 4.6-3 3.3,0 7.5,3 6.4-1.1 6.2,0.6 0.2-1.4-3.3-1.3 2.2-3.3 1.1-2.4 8.1-1.4 8.4-2.7 4.4,0.3 0,3 6.1,0.3-0.8,1.6 6.8-1.9 3.1,2.4 4.6,6.8 6.6-0.6 4.8,3.8z" fill="#FFFFCC"/>
<path d="M1530,178.6l0.4-1.1 5.1,0.8 1.1-2.1 3.7,0.8 7.3,0.2 2.6,1.9-3.7,1.9-3.8,1.4-2.2,1.3-2.2-0.2-2.2,1.9-0.2,1-3.7,0-2.9-0.5-0.4-1.9 2.6,0.3 2.9-1.6-4-3.8z" fill="#FED976"/>
<path d="M1522.9,192.4l-0.8-5.7 2.8-0.5 1.3-3.5 2.7,1.3 0.4,1.9 2.9,0.5 3.7,0 0.2,2.5 2.5,0 0.2,3-0.2,0.5-3.6-0.5-3.5,1.9-0.4-3.6-2.9,0.3-2,2.2z" fill="#FD8D3C"/>
<path d="M1506.9,201.9l0.9,5.9 1.9,0.3-1.9,4.3 3.5,1.1 3.7-0.3 4.6-1 0.3-2.7 3.5-2.2 2.8-0.6 0.5-2.9 1.7-0.8-0.6-1.9 2.4-0.3 1.1-3-0.7-2.7 2.7-1.6 4.6-0.6 0.7-0.5-3.6-0.5-3.5,1.9-0.4-3.6-2.9,0.3-2,2.2-3.3-0.3-2.8-0.5-3.8,0.8-0.6,2.1-3.8,2.5-3.5-0.6z" fill="#E31A1C"/>
<path d="M1509.3,224.9l0.4-2.7 3.1-1.4 0.2-1.1-1.1-2.9-2.4-1.4-1.7-3 3.5,1.1 3.7-0.3 4.6-1 0.3-2.7 3.5-2.2 2.8-0.6 0.5-2.9 1.7-0.8-0.6-1.9 2.4-0.3 1.1-3-0.7-2.7 2.7-1.6 4.6-0.6 2.6,0.9 2.2,2.9 2.2,0.3-1.7,1.6-6.6,0.6-0.5,4.3 1.8,1.1 1.5,1.1-1.7,3.2-1.3,3-2.2,3-2.2,2.7-3.3-0.3-2,2.7 1.5,3.3 1.6,3.7-4.7,0.3-1.3,1.6-1.7-1-1.6-1.9-0.4-1.9-4.4,0.8z" fill="#FD8D3C"/>
<path d="M1523.8,228.9l1.3-1.6 4.7-0.3-1.6-3.7-1.5-3.3 2-2.7 3.3,0.3 2.2-2.7 2.2-3 1.3-3 1.7-3.2-1.5-1.1-1.8-1.1 0.5-4.3 6.6-0.6 1.7-1.6 2.5,3-0.5,4.9 1.1,0.2-1.1,3.5 5.1,2.7-2,3.8 4,2.5 3,1.3 3.1,0.6 2.4,1.6 5.1,0.5 0-4 1.5-0.6 0.3,2.2 0,1.1 1.9,0.5 4.9-0.5-0.7-2.5 0.9,0.9 3.1-3.3 4.4-1.1 3.9,2.2-0.6,1.6 0.2,1.6-2-0.5-2.2,1.9-1.3,3.8 0.2,1.3-1.1,2.2-1.7-0.3-0.3,3-0.4,1.9-1.1,0.6-0.7-4.7-2.4,0.6 0.5-1.6 1.9-2.2 0.3-0.3-5.3-0.8-0.5-1.9-3-1.3-0.7,1.9 1.8,1.6-1.8,1.9 1.3,0.8-0.2,2.7 0.9,3 0.2,0.8-2,0.3-2.6,0.8-0.2,1.6-1.1,2.2-3.1,1.9-2,2.7-4,4.6-2.2,0.8-2.2,1.6-0.4,5.7 0.4,1.3-1.1,3.8 0.3,3.8-1.4,0-0.8,2.7-1.6,1.1-1.5,2.2-2.2-2.5-0.7-2.7-1.1-3.8-2-4-0.8-4.4-2-4-1.1-5.4-0.5-2.7-0.2-3.3-0.2-3.5-0.2-1.1-0.9,1.9-2.4,1.4-2.2-0.8-2.2-3.6 1.5-0.5 1.3-1.4-2.4,0.3-1.5-1.1z" fill="#FD8D3C"/>
<path d="M1550,215.1l2-3.8 2.6,0.3 3.8,2.2 2.8,1.9 1.8,1.6 4.6,0.3 0,4-5.1-0.5-2.4-1.6-3.1-0.6-3-1.3z" fill="#E31A1C"/>
<path d="M1569.4,219.2l1.9-2.4 4,1 0.9,2.5-4.9,0.5-1.9-0.5z" fill="#FD8D3C" stroke-width="3.5"/>
<path d="M1569.8,234.1l-0.2-0.8-0.9-3 0.2-2.7-1.3-0.8 1.8-1.9-1.8-1.6 0.7-1.9 3,1.3 0.5,1.9 5.3,0.8-0.3,0.3-1.9,2.2-0.5,1.6 2.4-0.6 0.7,4.7-0.7,3.5-1.1-4.4-2.8,0.8z" fill="#FD8D3C" stroke-width="3.5"/>
<path d="M1549.8,266.6l2.6,3.5 1.3,2.7-0.4,3-2.2,1.3-1.5-2.7-0.3-3.8z" fill="#FFFFCC" stroke-width="4"/>
<path d="M1576.8,237.1l0.7-3.5 1.1-0.6 0.4-1.9 0.3-3 1.7,0.3 1.1-2.2-0.2-1.3 1.3-3.8 2.2-1.9 2,0.5-0.2-1.6 0.6-1.6 2.2,1.9 0.9,0.3 0,4.3-2.4,4 0.4,1.4 2.5,1.9 1.3,0.8-0.7,2.2 2.2,1.6 2.1-0.3-2.3,3.3-2.4,1.6-2.2,0.3-1.3,3.2 0.8,2.5 1.6,2.9-0.7,3.8 2.2,3.8-0.2,5.4-0.7,3.5-0.4,1.1-0.2-4.8 0.2-3.3-1.8-4.9-0.2-4.6-2-1-3,2.9-2.5-0.5 0.7-4.1-0.9-3.5-1.5-2.7z" fill="#E31A1C"/>
<path d="M1594,237.9l0.9,0.5 1.5,1.9 0.2,4.1-0.6,1.3 2.4-1.9 2.4-0.2 1.8,0 1.5,2.1 0.2,3 1.8,2.2-0.2,3.2-1.6,0-3.9,0.3-1.3,1.9 1.1,5.1-1.6-1.6-2.6-1.1-0.2-2.1-2,0.2-0.2,3.8-1.6,4.3 0.2,3.3 1.6,1.9 0.9,3.5 2.4,0.8 1.3,1.9-2.2,1.4-2.2-2.2-1.1-1.9-2.9-2.2 0-2.7 0.7-2.7 0.4-1.1 0.7-3.5 0.2-5.4-2.2-3.8 0.7-3.8-1.6-2.9-0.8-2.5 1.3-3.2 2.2-0.3z" fill="#FFFFCC"/>
<path d="M1594,237.9l2.3-3.3 1.2-2.4 1.1,0.3 1.6,1.9 2.4,3.5 0.9,2.1 1.7,2.5 2.9,4.6 2.2,5.1 0,1.1-3.3,0.8-1.1,0 0.2-3.2-1.8-2.2-0.2-3-1.5-2.1-1.8,0-2.4,0.2-2.4,1.9 0.6-1.3-0.2-4.1-1.5-1.9z" fill="#800026"/>
<path d="M1598.6,232.5l2.9-0.6 3.9-1.9 3.1,1.4 2.9,3.5-2.9,2.2-2.2,4.6 1.8,3.5 3.9,4.6 2,6.8 0,4.6-4.4,3.7-1.1,2.5-4.2,2.4 0.5-3.8-1.1-1.1 2.2-1.6 1.5,0 2.9-4 0-6 0-1.1-2.2-5.1-2.9-4.6-1.7-2.5-0.9-2.1-2.4-3.5z" fill="#FED976"/>
<path d="M1600.2,261.4l-1.1-5.1 1.3-1.9 3.9-0.3 1.6,0 1.1,0 3.3-0.8 0,6-2.9,4-1.5,0-2.2,1.6-2.2-0.5z" fill="#800026"/>
<path d="M1594,275.5l2.2,2.2 2.2-1.4 2.9,3.8 0,3.5 1.7,5.7-1.5,0.3-4.6-4.1-1.8-3.8-0.7-3.5zM1614.9,288.2l4-1.6 3.5-2.2 2.2-3.8 3.3-1 2.8-5.2 2,1.4 3.3,3.2-2.6,2.5-0.9,0.2-4-0.2-1.7,3.5 0,1.3-2.2,3-4,0-2.6,1.1z" fill="#FED976" stroke-width="4"/>
<path d="M1583.4,277.9l4.9,1.1 1.1,2.7 4.4,3.8 3.3,2.2 3.3,3.5 1.7,3.3 1.6,3.5 3.3,3.2-0.2,7.6-1.6,0.3-2-1.7-4.4-3.5-2.8-4-1.6-4.4-2.8-3.8-0.7-3.2-3.3-4.1zM1605.2,311.5l1.8-2.4 5.5,2.1 4.4,0.6 1.1-1.4 3.7,1.4 4,2.1-0.2,2.8-7.5-1.1-5.5-1.4-4.6-1.1zM1614.9,288.2l3.1,2.2 2.6-1.1 4,0 2.2-3 0-1.3 1.7-3.5 4,0.2 0.4,4.9 2.7,3.8-3.1,0.5-0.2,3.8-2.7,2.7 0.5,1.9-1.1,3.8-2.9,1.1-2.6-1.9-4,0-3.3-1.3 0-3.3-2.4-2.4-0.2-3zM1636.7,308l0.4-5.4-1.7-2.5 1.9-6.7 2.2-3.8 4.9,0.8 4.8-1.6-1.5,3.2-7.7-0.3-2,3.8 3.1,0 4.2,0-3.8,2.7 2.4,5.5-0.6,3.5-2-1.1-1.5-5.7-1.1,2.2 0,5.4zM1662,295.3l6.6,0 2.2,6.7 5.5-4.6 7.7,2.7 0,17.6-6.6-2.1-0.5-7.9-6.1-2.7-4.4-1.1-0.5-3.2-3.3-4.1zM1626.8,315.3l4.4,0.3 4.4,0 4.4,0.2 4.4-0.5 0,1.6-6.6,0.3-6.6,0.3-3.3-0.6zM1645.7,321l3.1-3-1.8,0.5zM1654.3,295.3l1.1-7.1 1.7,4.1-1.7,3.2zM1651,301.8l4.4-0.8 6.1,1-5,0.8z" fill="#FED976" stroke-width="4"/>
<path d="M1648.8,318l4.4-2.2-1.1,1.7z" fill="#FFFFFF" stroke-width="4"/>
<path d="M1624.6,280.6l2.6-1-0.4,2.1z" fill="#FED976" stroke-width="4"/>
<path d="M1684,300.1l7.7,3.3 3.3,4.6 3.9,2.2-1.3,1.8 2.9,5.5 5,4-3.9-0.5-4.4-2.2-2.2-4-4.4-0.9-2.2,4.1-4.4-0.3zM1700.5,308.3l4.4-0.3 3.7-3.5-1.5,3.5-3.3,2.2zM1705.5,300.1l3.8,2.5 1.1,3zM1713.9,308l2.8,3.5-1.5-1.3z" fill="#FD8D3C" stroke-width="3.6"/>
<path d="M1638.9,243l3.7,0.3 0,5.1-1.5,4.1 1.1,2.7 4.4,2.7-0.5,0.6-2.8-2.8-3.3,0.3-1.6-3-0.6-3.8zM1642.2,274.2l3.3-4.4 4.4-3.2 2.2,6.2-2.2,4.6-3.3-2.7zM1647.2,259.3l2.7,1.3 0,2.7-1.6,2.2-0.6-3zM1642.2,261.2l2.6,1.3 0.2,4.9-1.7-0.8-0.2-1.9zM1631.8,270.4l4.9-7.9-1.1,3.5z" fill="#FFFFFF" stroke-width="4"/>
<path d="M1638,230.8l2-5.4 2,0-1.1,5.4-1.4,2.7z" fill="#FFFFFF" stroke-width="4"/>
<path d="M1661.8,201.1l2.4-2.5 2.2-1.9 6.6-0.2 1.7-4.1 1.1,1.1 2.7-1.6 2.2-3 1.1-4.1 0.6-3.2 2.5-0.6 1.3,5.2-2.2,3.5-0.2,3.5-0.3,3.3-2.2,1.9-2.2,0.8-3.9,0.2-0.5,0.8-2.2,2.2-1.5-2.2-3.5-0.2-2.9,1.3zM1659.8,202.4l3.7-0.3-0.4,5.7-2.9,0.8-0.9-4zM1665.3,202.4l4.4-1.9-0.7,2.5-2.6,1.3zM1682.4,180.8l-0.6-3.3 2.8-1.6 0.9-5.7 2.9,3 5,0 0.5,2.7-4.9,3.5-3.9-1.3-1.1,1.8z" fill="#FFFFCC" stroke-width="4.5"/>
<path d="M1647.5,184.8l3.5-2.7 2-2.2 2.8,1.1 3.3-2.7 2-0.2 0.2,0.5-2.2,2.4 0,1.7-4.8,2.9-0.2,1.4 2.2,1.6-3.1,1.1-2,1.3-2.4-0.5 0.6-2.2-0.4-2.4z" fill="#FED976" stroke-width="3.5"/>
<path d="M1656.3,188.6l2.2,4.1 0,4.3-1.8,1.6-2.4,0.3-2.7,0.8 0.5-3 0-2.9 0.9-1.1-1.8-1.7 2-1.3z" fill="#FFFFCC" stroke-width="3.5"/>
<path d="M1566.9,159.9l9.3-4 6.6,1.9 7.2-1.4-1.1-1.4 2.5-2.9 6.8,1.9 0.6,2.1 6,0.6 7.7,2.9 7.7-0.2 6.6-2.2 3.7,1.1-1.5,2.4-1.1,2.7 4.2,0.6 2.4-0.6 2.8,3.3-5.2,0.8-3.1,1.9-5.3,2.4-3.7-0.5-1.1,1.6 1.1,1.9-5.3,3.3-9.9,2.4-8.8-2.7-8.8-0.6-3.3-4-4.4-1.9-5.7-0.8-0.5-4.6-5.9-4.4z" fill="#FD8D3C"/>
<path d="M1565.8,160.2l1.1-0.3 0.5,1.6 5.9,4.4 0.5,4.6 5.7,0.8 4.4,1.9 3.3,4 8.8,0.6 8.8,2.7 9.9-2.4 5.3-3.3-1.1-1.9 1.1-1.6 3.7,0.5 5.3-2.4 3.1-1.9 5.2-0.8-2.8-3.3-2.4,0.6-4.2-0.6 1.1-2.7 1.5-2.4 2.4,0.5 3.3-1.9 1.6-6.5 2-1.6 5.7-0.5 5.5,2.1 3.3,7.9 7,2.4 0.7,3.3 8.3-1.9-0.6,1.9-3.3,7-4.4,0.6 0.4,3.7-1.3,2.2 0,0.6-2,0.2-3.3,2.7-2.8-1.1-2,2.2-3.5,2.7-3.1,0.8-4,2.5 1.8-4.6-2.2-1.1-3.3,3-3.3,1.6-0.7,1.9 2.7,2.7 3.9-0.8 4,1.3-3.3,1.9-3.8,4.1 2.2,2.1 1.4,4.4 2.2,2.7 0.2,2.2-2.2,0.8 2.2,1.9-1.1,4.3-3.3,4.6-2.2,3.8-2.9,3.2-2.6,2.7-5.1,1.9-1.5,0.3-3.8,1.6-3,1.1-0.3,2.4-0.8,0-0.5-3.2-3.7,0-2.9-3.5-3.1-1.4-3.9,1.9-2.9,0.6-1.1-0.3-1.2,2.4-2.1,0.3-2.2-1.6 0.7-2.2-1.3-0.8-2.5-1.9-0.4-1.4 2.4-4 0-4.3-0.9-0.3-2.2-1.9-3.9-2.2-4.4,1.1-3.1,3.3-0.9-0.9-0.2,0-4-1-1.9,2.4-0.3-2.2-1.5,0.6-4.6-0.3-1.8-1.6-2.8-1.9-3.8-2.2-2.6-0.3-5.1-2.7 1.1-3.5-1.1-0.2 0.5-4.9-2.5-3-2.2-0.3-2.2-2.9-2.6-0.9 0.7-0.5 0.2-0.5-0.2-3-2.5,0-0.2-2.5 0.2-1 2.2-1.9 2.2,0.2 2.2-1.3 3.8-1.4 3.7-1.9-0.4-7.8 5.7-0.6-0.7-0.8 1.6-4.6 5.5,0.3 0.6-3.5zM1612.9,241.1l2.9-2.4 2.2,1.3-2.2,3.3-2.4,0z" fill="#FED976"/>
<path d="M1625,352.1l5.7-3.2 4.9-1.7 5.5-2.1 1.7-5.4 2.9,0.5 2-3.8 3.3-5.4 3.9,1.4 0.9,1.3 3.1-0.3 2-6.5 4.4-3.2 5.5,2.4 4.2,0-2.2,4.1-0.9,3.2 3.3,2.5 5,4.6 3.3,0 1.6-6.8 0.4-6 1.8-5.6 2.2,5.6 0.6,4.4 3.3,1.6 1.6,6.8 0.6,3.8 4.9,2.9 2.2,6.3 2.8,2.4 4.9,5.4 1.1,8.1-1.1,7.6-3.8,7.6-2.4,6-0.4,4-5.5,1.4-2.4,2.9-3.8-2.1-2.6,1.3-5.5-1.9-2.9-2.9-0.4-3.3-2.9-0.5 0.7-2.5-1.6-4.6-0.8,5.2-3.1,0-1.8-2.5-2.2-3.5-6.6-3.2-4.8,0.2-6.6,1.9-4.4,1.9-1.1,2.5-7.7,0-4.4,2.9-4.4-0.2-2.2-1.6 1.5-6.3-1.5-5.4-1.8-6.8-2-4 1.6,0.8-1.1-4.9 0.6-4.9zM1692.1,403.3l7.9,0.5-0.6,6.2-3.3,1.1-2.7-3z" fill="#ABD9E9"/>
<path d="M1753.7,386.2l3.5,2.5 2.7,3.2 1.1,3 5,0.3-2.4,4.3-0.9,3-3.3,3.2-1.1-1.9 0.5-2.4-2.7-1.9 2-3 0.2-3.2-1.1-1.9-2.8-3.6zM1753.7,402.7l3.5,3.3-2.8,4.3 0.2,1.4-4.2,1.9-1.1,3.8-3.7,1.8-3.3-1-2.2-1.1 3.3-4.4 5.5-3.5 2.2-3.2z" fill="#FFFFCC" stroke-width="3.6"/>
<path d="M1734.6,347.5l5.5,4.6 1.1,1.6-3.3-1.6z" fill="#FFFFFF" stroke-width="4"/>
<path d="M1718.1,311.2l3.3,2.5 4.4,3.8 3.9,3.5-3.9-1.9-5.5-4.9z" fill="#FFFFFF" stroke-width="4"/>
<path d="M1740.3,333.2l1.5,2.7 2.2,5.1-1.7-3.8z" fill="#FFFFFF" stroke-width="4"/>
<path d="M1763.8,340.5l2.9,0-0.5,1.9-2.2-0.3z" fill="#FFFFFF" stroke-width="4"/>
<path d="M1175.6,255.7l1.5-1.6 2,1.1 1.6,1.6 0,0.6-2.7-0.3z" fill="#800026" stroke-width="2"/>
</g>
<path d="M1182.4,120.4l2.2-5.7 6.6-0.8 6.6,4.6-1.1,3.2-7.7,1.1z" fill="#FFFFCC" stroke="#606060" stroke-width="4.5" stroke-linejoin="round"/>
<path d="M1243.4,164l3.9-8.4 4.4-2.2-0.4,4.4 4.8,1.8 1.8,4.9-1.8,2.2-4.4-0.6-1.1-1.9zM1102.1,162.1l-3.3-1.1-7.2-5.1 2.8-0.3 4,2.2 3.1,2.7zM1081.2,146.9l2.7,0.3 1.7,4.3-3.3-1.9zM1232.1,158l5.3,1.4-3.3,0.2zM1232.6,166.4l4.8,0.8-1.7,1.4z" fill="#FFFFCC" stroke="#606060" stroke-width="4.5" stroke-linejoin="round"/>
<path d="M1487.1,99l7.7-4.3 2.2-2.5 8.8-4.8 11-2.5 7.7,0.8-9.9,3.3-12.1,5.1-2.2,6.8-8.8,0.5zM1578.4,78.7l8.8-4.3 13.2,1.6 8.8,4.3-11,2.2-11-1.1zM1675.2,89.3l8.8-2.2 11,1.4 11,1-6.6,1.7-11,3.2-8.8-2.2zM1766.5,100.4l3.3-0.9 0,1.7zM1475,75.7l8.8-1.6 15.4-1.1 15.4,0.8-4.4,1.9-15.4,0.8z" fill="#FFFFCC" stroke="#606060" stroke-width="5.5" stroke-linejoin="round"/>
<path d="M1097.4,92.5l6.3-2.5 11.2,1.3 2.5,5-6.2,3.8-11.3-1.3z" fill="#606060" stroke="#606060" stroke-width="2" stroke-linejoin="round"/>
<path d="M1101.2,93.5l9.4-0.6 1.6,2.8-7.3,1.6z" fill="#FFFFCC"/>
<path d="M1116.2,95.1l7.5-2.6 11.3,0 12.5,1.3 2.5,6.3-2.5,6.2-10,2.5-11.3-1.2-7.5-3.8z" fill="#606060" stroke="#606060" stroke-width="2" stroke-linejoin="round"/>
<path d="M1121.4,97.3l11.1-1.2 12.2,1.2 0.7,5.6-9.2,2.5-11.2-1.2z" fill="#FFFFCC"/>
<path d="M1102.4,85l7.5-3.1 13.8-2.5 8.8-0.6 3.7,5-3.7,5-12.6,0.6-12.5,0z" fill="#606060" stroke="#606060" stroke-width="2" stroke-linejoin="round"/>
<path d="M1137.5,78.8l10-3.1 10-3.2 12.5-3.1 15-1.9 16.3-1.2 18.8,0.6 16.2,1.9-8.7,6.2-12.5,5-10,3.8-3.8,7.5 7.5,5 11.3,2.5 10,6.3 8.7,6.2-2.5,8.8-5,5-1.2,7.5-6.3,2.5-6.2-5-2.5-7.5-7.5-1.3-5-7.5-7.6-3.7-6.2-5-8.8,2.5-10-2.5-7.5,2.5-10-3.8-2.5-7.5-7.5-5-3.8-6.3z" fill="#606060" stroke="#606060" stroke-width="2" stroke-linejoin="round"/>
<path d="M1195.7,77.8l6.9-5.9 16.8-2.8-4.3,4.7-12.5,5.6z" fill="#FFFFCC"/>
<path d="M1191.5,96.6l14.6-1.3 1.2,5.8-12.3,1.2z" fill="#FFFFCC"/>
<path d="M1209.1,104.1l11,1.2 11,6.3 1,8.2-8.3,1.3-8.7-6z" fill="#FFFFCC"/>
<path d="M1195.7,108.2l6.6-0.6 0.5,9.7-5.3,0z" fill="#FFFFFF"/>
<path d="M1145.4,92.2l6.8,0.6-0.6,4.5-5.1-0.6z" fill="#FFFFFF"/>
<path d="M1208.2,123.2l15.6,1.9 0.7,5-6.3-1.3z" fill="#FFFFFF"/>
<path d="M1170,96.3l5.6,0.6-0.6,2.2-4.4-0.5z" fill="#FFFFFF"/>
<path d="M1152.5,76.9l5-0.6-0.3,2.5-4.1,0.2z" fill="#FFFFFF"/>
<path d="M1011.3,145.6l-7.1,2.9-8.8,2.8-8.8,1.6-7.7,1.1" fill="none" stroke="#606060" stroke-width="3" stroke-linecap="round" stroke-linejoin="round"/>
<path d="M1070.2,133.4l5.5,3.2 4.4,6.3 4.4,4 4.4,4.1 3.3,4" fill="none" stroke="#606060" stroke-width="7" stroke-linecap="round" stroke-linejoin="round"/>
<path d="M1092.2,155l4.4,3.8 3.8,2.7" fill="none" stroke="#606060" stroke-width="4" stroke-linecap="round" stroke-linejoin="round"/>
<path d="M1222,78.7l11,7 12.1,4.4 5.5,5.4 5.5,8.1 3.3,10.8 4,8.2 8.1,6.5" fill="none" stroke="#606060" stroke-width="7.5" stroke-linecap="round" stroke-linejoin="round"/>
<path d="M1329.8,84.7l-2.2,8.1-4.4,5.4-2.2,4.1-6.6,4-11,3.5-11,5.2-8.8,4.9-4.4,6.7" fill="none" stroke="#606060" stroke-width="4.5" stroke-linecap="round" stroke-linejoin="round"/>
<path d="M1324.3,90.1l-3.3,5.9-3.3,5.4" fill="none" stroke="#606060" stroke-width="10" stroke-linecap="round" stroke-linejoin="round"/>
<path d="M1228.6,73.8l17.6-2.7 28.6-1.6 26.4-1.6 24.2,3.2 17.6,1.4" fill="none" stroke="#606060" stroke-width="5" stroke-linecap="round" stroke-linejoin="round"/>
<path d="M1186.2,264.4l2.8,2.2 2.7,2.7 3.9,1.6 2.7-2.4 3.9,1.6" fill="none" stroke="#606060" stroke-width="5.5" stroke-linecap="round" stroke-linejoin="round"/>
<path d="M1187.9,233.5l3.3-1.8 5.5-0.3 5.5,3.2 4.4,2.7 2.7,1.1" fill="none" stroke="#606060" stroke-width="6" stroke-linecap="round" stroke-linejoin="round"/>
<path d="M1210.6,243l3.7-1.1 5.5,0 3.1,0.8" fill="none" stroke="#606060" stroke-width="5" stroke-linecap="round" stroke-linejoin="round"/>
<path d="M1226,243.8l3.3,0" fill="none" stroke="#606060" stroke-width="4" stroke-linecap="round" stroke-linejoin="round"/>
<path d="M1063.6,104.7l8.8,1.6 5.5-1.6 12.1-1.1 8.8,1.6 11,0 11,2.2 11,2.2 11-1.4 11,1.4 7.7-1.1 2.2-6.2" fill="none" stroke="#606060" stroke-width="5.5" stroke-linecap="round" stroke-linejoin="round"/>
<path d="M1219.8,165.9l7.7-5.4 4.4,1-1.1,4.9 4.4,2.7 4.4,0.8 1.8-2.7" fill="none" stroke="#606060" stroke-width="4.5" stroke-linecap="round" stroke-linejoin="round"/>
<path d="M1228.6,174.5l4.4-2.1 5.5-1.9" fill="none" stroke="#606060" stroke-width="4" stroke-linecap="round" stroke-linejoin="round"/>
<path d="M1231.9,129.9l5.5,6.2 4.4,6.8 5.5,4 3.3,4.9" fill="none" stroke="#606060" stroke-width="4.5" stroke-linecap="round" stroke-linejoin="round"/>
<path d="M1202.2,124.5l8.8,0.2 8.8,3.3 2.2,5.4 5.5,0" fill="none" stroke="#606060" stroke-width="4" stroke-linecap="round" stroke-linejoin="round"/>
<path d="M1118,207.8l3.7,6.8 4.4,6 3.5,5.9 2.2,3.5" fill="none" stroke="#606060" stroke-width="4.5" stroke-linecap="round" stroke-linejoin="round"/>
<path d="M1101,168.6l-0.6,10.8 3.9,11.4 4.2,8.6 7.3,4.9" fill="none" stroke="#606060" stroke-width="4" stroke-linecap="round" stroke-linejoin="round"/>
<path d="M1226.4,171.8l-7.7,4.9 0.5,3.2-8.2,3.6-3.3,8.1-1.1,6.8-6.6,4.6-4.4,4.8 1.6,10.9" fill="none" stroke="#606060" stroke-width="4" stroke-linecap="round" stroke-linejoin="round"/>
<path d="M1386.6,133.4l-1.1-6.8 3.7-4 7.7-4.4 5.5-5.1 5.5-5.4" fill="none" stroke="#606060" stroke-width="8" stroke-linecap="round" stroke-linejoin="round"/>
<path d="M1407.9,107.7l7.7-3.5 11-2.5 8.8,0 5.1,1.9" fill="none" stroke="#606060" stroke-width="5.5" stroke-linecap="round" stroke-linejoin="round"/>
<path d="M1393.2,143.7l1.3-4.4 2.4-1.9" fill="none" stroke="#606060" stroke-width="6" stroke-linecap="round" stroke-linejoin="round"/>
<path d="M1396.5,143.1l4.4-0.5" fill="none" stroke="#606060" stroke-width="6" stroke-linecap="round" stroke-linejoin="round"/>
<path d="M1718.5,155l-3.7,2.8-6.6,6.7-6.6,4.6-5.5,4.1-2,1.9" fill="none" stroke="#606060" stroke-width="3" stroke-linecap="round" stroke-linejoin="round"/>
<path d="M1577.9,256.6l-0.2,5.4 0.7,6.7 1.7,5.5" fill="none" stroke="#606060" stroke-width="3.5" stroke-linecap="round" stroke-linejoin="round"/>
<path d="M1520.7,101.4l3.8-5.9 8.8,0.8 0.6,10 2.7,4.1" fill="none" stroke="#606060" stroke-width="4" stroke-linecap="round" stroke-linejoin="round"/>
<path d="M1538.8,96.8l6.6,0.9 5.5-3.6 3.3,5.4 2.2,4.1" fill="none" stroke="#606060" stroke-width="4" stroke-linecap="round" stroke-linejoin="round"/>
<path d="M1565.2,91.4l17.6-4.3 11-1.1 9.4-3.2 6,2.4 11,0.8 3.3,2.7-7.7,3.3 6.6,1.3 13.2,1.9 11-1.6 8.8,1.1 3.3,6.2 7.7-1.4 11,0 4.4-2.7 13.2,0.6 13.2,3.8 15.4,3" fill="none" stroke="#606060" stroke-width="4.5" stroke-linecap="round" stroke-linejoin="round"/>
<path d="M1446.4,105.2l6.6,0.6 11.4,6.5-7,1.9-7.7-1.4" fill="none" stroke="#606060" stroke-width="4" stroke-linecap="round" stroke-linejoin="round"/>
<path d="M1470.6,114.4l0-6.7 5.5,1.9 14.3-1.4 8.8-0.8 7.7-3.2 8.8,1.3 5.5,0.8" fill="none" stroke="#606060" stroke-width="4" stroke-linecap="round" stroke-linejoin="round"/>
<path d="M1212.1,435.2l-3.7-6.7-0.2-8.2 2.8-5.4 0.9-6.8" fill="none" stroke="#606060" stroke-width="6" stroke-linecap="round" stroke-linejoin="round"/>
<path d="M1223.1,436.6l-3.3,4-5.5-2.7-3.3-4" fill="none" stroke="#606060" stroke-width="6.5" stroke-linecap="round" stroke-linejoin="round"/>
<path d="M1229.7,441.4l-6.6,0.6-4.4,0.8" fill="none" stroke="#606060" stroke-width="5" stroke-linecap="round" stroke-linejoin="round"/>
<path d="M1200.5,221.1l2.8,4.3 3.3,3.3 3.3,3.5 3.3,3.5" fill="none" stroke="#606060" stroke-width="5" stroke-linecap="round" stroke-linejoin="round"/>
<path d="M1230.8,243.6l4.4,0.8 2.7,2.7 1.1,4 0.6,2.7 0,3.6-1.3,2.9 0.9,4.1" fill="none" stroke="#606060" stroke-width="4" stroke-linecap="round" stroke-linejoin="round"/>
<path d="M1019.7,233.8l5-0.6 5,3.1 2.5,4.4" fill="none" stroke="#606060" stroke-width="4" stroke-linecap="round" stroke-linejoin="round"/>
<path d="M1064.1,315.1l3.8,5.7" fill="none" stroke="#606060" stroke-width="3" stroke-linecap="round" stroke-linejoin="round"/>
<path d="M993.4,329.5l6.9,2.5" fill="none" stroke="#606060" stroke-width="3" stroke-linecap="round" stroke-linejoin="round"/>
<path d="M994.7,317l2.5,1.9" fill="none" stroke="#606060" stroke-width="3" stroke-linecap="round" stroke-linejoin="round"/>
<path d="M977.2,337l1.8,5.7 1.3,6.2" fill="none" stroke="#606060" stroke-width="4" stroke-linecap="round" stroke-linejoin="round"/>
<path d="M989.1,343.9l-1.3,7.5" fill="none" stroke="#606060" stroke-width="3" stroke-linecap="round" stroke-linejoin="round"/>
<path d="M1021.6,344.6l5.6,3.1" fill="none" stroke="#606060" stroke-width="3.5" stroke-linecap="round" stroke-linejoin="round"/>
<path d="M1039.7,337.7l5,3.7" fill="none" stroke="#606060" stroke-width="4" stroke-linecap="round" stroke-linejoin="round"/>
<path d="M1692.6,237.5l2.5,8.8-2.5,10" fill="none" stroke="#606060" stroke-width="2.5" stroke-linecap="round" stroke-linejoin="round"/>
<path d="M1747.7,263.8l2.5,11.3" fill="none" stroke="#606060" stroke-width="2.5" stroke-linecap="round" stroke-linejoin="round"/>
<path d="M1742.7,262.6l3.1,7.5" fill="none" stroke="#606060" stroke-width="2.5" stroke-linecap="round" stroke-linejoin="round"/>
<path d="M1753.9,285.1l3.8,7.5 3.7,6.3" fill="none" stroke="#606060" stroke-width="3" stroke-linecap="round" stroke-linejoin="round"/>
<path d="M1741.4,331.4l3.1,8.8 3.2,7.5" fill="none" stroke="#606060" stroke-width="3.5" stroke-linecap="round" stroke-linejoin="round"/>
<path d="M1733.9,346.4l8.8,6.3" fill="none" stroke="#606060" stroke-width="3.5" stroke-linecap="round" stroke-linejoin="round"/>
<path d="M1760.1,150.7l10,1.9" fill="none" stroke="#606060" stroke-width="3" stroke-linecap="round" stroke-linejoin="round"/>
<path d="M1534.7,270.1l0.5,10-0.3,15" fill="none" stroke="#606060" stroke-width="2.5" stroke-linecap="round" stroke-linejoin="round"/>
<path d="M1486.9,259.7l6.8-1.4" fill="none" stroke="#606060" stroke-width="3" stroke-linecap="round" stroke-linejoin="round"/>
<path d="M1239.3,432.8l3.5,1.3 3.6-1.3" fill="none" stroke="#606060" stroke-width="4.5" stroke-linecap="round" stroke-linejoin="round"/>
<path d="M1289.7,439.7l5,2.5" fill="none" stroke="#606060" stroke-width="3.5" stroke-linecap="round" stroke-linejoin="round"/>
<path d="M1313,445.3l3.1,4.4-2.7,5.4" fill="none" stroke="#606060" stroke-width="3" stroke-linecap="round" stroke-linejoin="round"/>
<path d="M976.9,99.6l6.5-0.4 4.5-0.8" fill="none" stroke="#606060" stroke-width="3.5" stroke-linecap="round" stroke-linejoin="round"/>
<path d="M996.2,119.2l3.2,1.4 3.2,1.6" fill="none" stroke="#606060" stroke-width="3.2" stroke-linecap="round" stroke-linejoin="round"/>
<path d="M979.4,106l6,2.5 7,3 7,2" fill="none" stroke="#606060" stroke-width="4.5" stroke-linecap="round" stroke-linejoin="round"/>
<g fill="#606060"><circle cx="1262.5" cy="295.8" r="4.2"/><circle cx="1228.2" cy="261.2" r="1.6"/><circle cx="1233" cy="263.3" r="1.6"/><circle cx="1203.8" cy="244.1" r="2.2"/><circle cx="1196.7" cy="240.3" r="1.6"/><circle cx="983.2" cy="216.3" r="1.3"/><circle cx="990.7" cy="222.3" r="1.3"/><circle cx="994.9" cy="223.2" r="1.3"/><circle cx="1003.8" cy="225.4" r="1.3"/><circle cx="1011" cy="229.4" r="1.3"/><circle cx="1017" cy="230.4" r="1.3"/><circle cx="1000.3" cy="247.6" r="1.3"/><circle cx="1113" cy="214.4" r="1.6"/><circle cx="1120.8" cy="243.4" r="1.3"/><circle cx="1129.2" cy="241.1" r="1.5"/><circle cx="1174.3" cy="293.9" r="3.6"/><circle cx="1020.3" cy="280.1" r="1.3"/><circle cx="1022.8" cy="282" r="1.3"/><circle cx="1027.2" cy="288.2" r="1.8"/><circle cx="1021.6" cy="293.9" r="1.3"/><circle cx="984.7" cy="291.4" r="1.6"/><circle cx="995.9" cy="302" r="1.6"/><circle cx="996.6" cy="304.5" r="1.3"/><circle cx="1032.2" cy="304.1" r="1.5"/><circle cx="1030.6" cy="308.3" r="1.3"/><circle cx="1026" cy="317.6" r="1.3"/><circle cx="1019.1" cy="320.8" r="1.5"/><circle cx="1009.1" cy="323.3" r="1.6"/><circle cx="1037.9" cy="320.8" r="1.3"/><circle cx="1043.2" cy="320.2" r="1.3"/><circle cx="1039.5" cy="323.9" r="1.3"/><circle cx="985.3" cy="328.9" r="1.3"/><circle cx="981.5" cy="331.7" r="1.3"/><circle cx="987.2" cy="335.4" r="1.3"/><circle cx="999.7" cy="344.9" r="1.5"/><circle cx="1014.5" cy="342.4" r="1.3"/><circle cx="1021.6" cy="350.2" r="1.3"/><circle cx="1026" cy="352.1" r="1.3"/><circle cx="1047.2" cy="336.4" r="1.3"/><circle cx="1051.3" cy="337" r="1.3"/><circle cx="1055.1" cy="335.4" r="1.3"/><circle cx="1054.5" cy="347.1" r="1.3"/><circle cx="1036.6" cy="354.9" r="1.3"/><circle cx="1040.4" cy="354.2" r="1.3"/><circle cx="1044.7" cy="356.4" r="1.3"/><circle cx="1048.5" cy="357.9" r="1.3"/><circle cx="1064.1" cy="352.1" r="1.3"/><circle cx="1067.9" cy="353.3" r="1.3"/><circle cx="1076.3" cy="355.8" r="1.3"/><circle cx="1087" cy="361.5" r="1.3"/><circle cx="1091.1" cy="358.9" r="1.3"/><circle cx="1098.8" cy="359.9" r="1.3"/><circle cx="1056.6" cy="368.3" r="1.6"/><circle cx="1132.6" cy="366.5" r="1.5"/><circle cx="1141.4" cy="365" r="1.5"/><circle cx="1197.4" cy="364.6" r="1.6"/><circle cx="981.5" cy="372.7" r="1.3"/><circle cx="980.3" cy="376.5" r="1.3"/><circle cx="1196.2" cy="384.6" r="1.3"/><circle cx="1199.9" cy="384" r="1.3"/><circle cx="1662.6" cy="223.2" r="1.3"/><circle cx="1663.2" cy="226.3" r="1.3"/><circle cx="1683.8" cy="218.8" r="1.3"/><circle cx="1684.5" cy="224.4" r="1.3"/><circle cx="1740.1" cy="240.1" r="1.3"/><circle cx="1745.2" cy="253.8" r="1.3"/><circle cx="1630" cy="236.9" r="1.3"/><circle cx="1677.6" cy="267.6" r="1.3"/><circle cx="1668.8" cy="272.6" r="1.3"/><circle cx="1664.4" cy="278.8" r="1.3"/><circle cx="1687.6" cy="275.1" r="1.3"/><circle cx="1691.3" cy="272.6" r="1.3"/><circle cx="1695.1" cy="272" r="1.3"/><circle cx="1702.6" cy="268.8" r="1.3"/><circle cx="1705.1" cy="273.2" r="1.3"/><circle cx="1707.6" cy="272" r="1.3"/><circle cx="1711.4" cy="278.8" r="1.3"/><circle cx="1721.4" cy="274.5" r="1.3"/><circle cx="1732.6" cy="278.2" r="1.3"/><circle cx="1730.1" cy="262" r="1.3"/><circle cx="1737.6" cy="261.3" r="1.3"/><circle cx="1740.1" cy="268.2" r="1.3"/><circle cx="1743.9" cy="272.6" r="1.3"/><circle cx="1741.4" cy="294.5" r="1.3"/><circle cx="1691.3" cy="296.4" r="1.3"/><circle cx="1697.6" cy="298.9" r="1.3"/><circle cx="1702.6" cy="297" r="1.3"/><circle cx="1723.9" cy="306.4" r="1.6"/><circle cx="1725.1" cy="323.3" r="1.6"/><circle cx="1760.2" cy="310.1" r="1.3"/><circle cx="1763.9" cy="312.6" r="1.3"/><circle cx="1767.7" cy="315.1" r="1.3"/><circle cx="1738.9" cy="320.2" r="1.3"/><circle cx="1762.7" cy="327" r="1.3"/><circle cx="1725.1" cy="345.2" r="1.3"/><circle cx="1750.2" cy="353.3" r="1.3"/><circle cx="1742.7" cy="372.1" r="1.3"/><circle cx="1722.6" cy="378.3" r="1.3"/><circle cx="1605.6" cy="321.4" r="1.5"/><circle cx="1586.8" cy="325.8" r="1.5"/><circle cx="1701.2" cy="84.4" r="1.5"/><circle cx="1709.4" cy="85.9" r="1.5"/><circle cx="1718.1" cy="83.5" r="1.5"/><circle cx="1740" cy="143.2" r="2"/><circle cx="1755.1" cy="149.5" r="2"/><circle cx="1681.2" cy="202.7" r="1.3"/><circle cx="1681.8" cy="210.2" r="1.3"/><circle cx="1685.6" cy="218.9" r="1.5"/><circle cx="1684.4" cy="224" r="1.3"/><circle cx="1740" cy="240.2" r="1.3"/><circle cx="1662.5" cy="222.7" r="1.3"/><circle cx="1651.2" cy="218.9" r="1.3"/><circle cx="1656.2" cy="220.8" r="1.3"/><circle cx="1336.7" cy="203.2" r="1.8"/><circle cx="1333.5" cy="216.3" r="1.6"/><circle cx="1337.3" cy="215" r="1.5"/><circle cx="1341.1" cy="214.4" r="1.5"/><circle cx="1344.2" cy="213.5" r="1.6"/><circle cx="1321.7" cy="248.8" r="1.3"/><circle cx="1323.9" cy="251.6" r="1.3"/><circle cx="1341.7" cy="314.5" r="1.5"/><circle cx="1361.1" cy="336.4" r="1.6"/><circle cx="1389.2" cy="287.6" r="1.5"/><circle cx="1387.4" cy="292" r="1.5"/><circle cx="1385.5" cy="297" r="1.6"/><circle cx="1469.3" cy="323.9" r="1.5"/><circle cx="1472.5" cy="326.7" r="1.5"/><circle cx="1475.6" cy="318.3" r="1.8"/><circle cx="1495.6" cy="305.2" r="1.7"/><circle cx="1497.5" cy="312" r="1.3"/><circle cx="1498.1" cy="321.4" r="1.5"/><circle cx="1495.6" cy="350.2" r="1.7"/><circle cx="1500" cy="347.7" r="1.5"/><circle cx="1513.1" cy="346.5" r="1.5"/><circle cx="1532.5" cy="261.4" r="1.8"/><circle cx="1530.7" cy="306.4" r="1.3"/><circle cx="1533.2" cy="312.7" r="1.5"/><circle cx="1468.1" cy="325.2" r="1.3"/><circle cx="1467.5" cy="322.7" r="1.3"/><circle cx="1304.5" cy="185.6" r="1.5"/><circle cx="1312" cy="188.1" r="1.5"/><circle cx="1317.6" cy="191.3" r="1.6"/><circle cx="1230.6" cy="205" r="1.6"/><circle cx="1319.5" cy="248.2" r="1.6"/><circle cx="1322.6" cy="250.7" r="1.5"/><circle cx="1320.1" cy="252.6" r="1.3"/><circle cx="1302" cy="303.3" r="1.5"/><circle cx="1342" cy="314.5" r="1.5"/><circle cx="1360.8" cy="336.4" r="1.5"/><circle cx="1307" cy="348.3" r="1.6"/><circle cx="1242.5" cy="257" r="1.6"/><circle cx="1188.1" cy="245.1" r="1.5"/><circle cx="1141.2" cy="364.6" r="1.5"/><circle cx="1197.5" cy="364" r="1.5"/><circle cx="1346.2" cy="393.8" r="1.3"/><circle cx="1351.2" cy="402.5" r="1.3"/><circle cx="1381.2" cy="440.6" r="1.3"/><circle cx="1456.3" cy="420.1" r="1.5"/><circle cx="1485.1" cy="418.3" r="1.3"/><circle cx="1488.8" cy="419.1" r="1.3"/><circle cx="1526.4" cy="426.3" r="2.6"/><circle cx="1535.1" cy="437.1" r="1.6"/><circle cx="1543.9" cy="397" r="1.6"/><circle cx="1722.8" cy="378.8" r="1.3"/><circle cx="1742.8" cy="372" r="1.3"/><circle cx="1766.6" cy="422.6" r="1.3"/><circle cx="1766.6" cy="427.6" r="1.3"/><circle cx="1739.1" cy="430.6" r="1.6"/><circle cx="1745.3" cy="435.6" r="1.4"/><circle cx="1722.8" cy="441.3" r="1.3"/><circle cx="1355.3" cy="100.1" r="2"/><circle cx="1358.5" cy="124.5" r="2"/><circle cx="1371" cy="128.8" r="2"/><circle cx="1415.4" cy="90.7" r="1.8"/><circle cx="1230.8" cy="205.2" r="1.7"/><circle cx="1337.2" cy="203.3" r="2"/><circle cx="1304.6" cy="185.2" r="1.6"/><circle cx="1312.2" cy="187.7" r="1.8"/><circle cx="1317.8" cy="191.4" r="2"/><circle cx="1197.3" cy="364.4" r="2"/><circle cx="1195.9" cy="384.5" r="1.6"/><circle cx="1199.9" cy="384.1" r="1.6"/><circle cx="1307.6" cy="348.8" r="1.8"/><circle cx="1252.7" cy="459.3" r="2"/><circle cx="1274.1" cy="457.8" r="2"/><circle cx="993.4" cy="128.8" r="2.0"/><circle cx="998.6" cy="138.6" r="2.3"/><circle cx="1030.8" cy="140.8" r="2.2"/><circle cx="990.9" cy="126.5" r="1.2"/></g>
</g>
<g id="panelE">
<g stroke="#606060" stroke-width="3.0" stroke-linejoin="round">
<path d="M1063.6,629.4l8.8,1.6 5.5-1.6 12.1-1.1 8.8,1.6 11,0 11,2.2 11,2.2 11-1.4 11,1.4 7.7-1.1 2.2-9.2 5.5,1.6 4.4,4.1 6.6,2.4 5.5-2.7 7.7,0 1.1,4.3-5.5,3.8-6.6,2.7-4.4,4.4-4.4,1-4.4,4.4-3.3,5.4-0.4,3.2 4.8,4.9 5.5,0 4.4,1.4 6.6,3.2 6,0.5 0.4,5.7 3.5,4.4 3.3-0.3 0-6.8 4.4-4-1.1-5.5-2.2-3.2 2.2-3.5-1.1-6.2 8.8,0 8.8,3.5 0,5.4 4.4,1.9 5.5-3.3 2.2-2.1 5.5,6.2 4.4,6.8 5.5,2.7 3.8,5.9-6,2.7-3.3,3-8.8,0-5.9,0.3-6.2,5.7-3.3,2.9 2.2-1 6.6-4.6 6,0.5-1.6,2.7 0.5,3.5 2.2,1.4 5,0.8 3.3-1.6-2.2,2.7-5.5,1.9-5.5,2.9-0.4-2.7 3.7-2.1-5.5,0.5-1.7-5.1-3.1-1.1-2.4,4-2.7,2.5-7,0-3.5,2.2-6,1.8 0,1.7-7.7,2.7-1.3-1.1 1.5-1.9-0.2-6.2-2.2-1.9-2.2-1.4-7.7-4.6-3.3,0.6-3.3-0.6-4.4-1.1-4.8-1-61.6,0-2.9-2.7-6.6-2.8-1.1-4-4.4-4.9-0.4-1.9 0.4-2.7-4.4-2.7-3.3-4.6-3.3-2.2-5.5,1.4-3.3-2.7-4.4-0.8z" fill="#FFFFCC"/>
<path d="M1063.6,629.4l0,25.2 4.4,0.8 3.3,2.7 5.5-1.4 3.3,2.2 3.3,4.6 4.4,2.7-0.4,2.7-2.9,0-4.4-4-4.4-4.1-3.3-1.1-6.6-3.5-8.8-0.8-5.5-2.7-4.4,1.3-3.3,3.3-3.9,0.2 1.7-4.3 2.2-1.1-5.5,1.9-2.2,3.3-2.2,2.1-4.4,3.3-4.4,3.5-5.5,2.2-4.4,1.3-3.9,0.6 3.9-2.2 5.5-1.9 5.5-4.1 1.6-3.2-3.8,0.3-6.1-0.3-0.5-3-5.5-0.5-3.3-4.1 3.3-4 7.7-1.4 0-2.7-7.7,0-4.4-2.2-3.3-0.8 8.8-2.4 4.9,0.8-3.8-2.2-6.6-3.5 7.7-1.9 6.6-4 7.5-2.2 10.1,1.3 8.8,1.4 8.8,0.8z" fill="#FFFFCC" stroke-width="3.5"/>
<path d="M1102.8,685.2l61.6,0 4.8,1 4.4,1.1 3.3,0.6 3.3-0.6 7.7,4.6 2.2,1.4 2.2,1.9 0.2,6.2-1.5,1.9 1.3,1.1 7.7-2.7 0-1.7 6-1.8 3.5-2.2 7,0 2.7-2.5 2.4-4 3.1,1.1 1.7,5.1 0,0.8-3.9,1.1-3.1,1.9-1.3,2.7 1.7,2.7-4.4,1.4-4.4,1.6-2.2,4.9-1.3,2.7-0.9,2.1 1.1,4.6-2.2,1.7-3.1,1.9-2.4,1.3-4.4,4.1-0.9,4 1.8,5.5 1.3,4.6-0.9,4.3-1.7,0-1.3-2.2-2-4.9-0.7-3.2-2.6-2.7-2.9,0.5-5.5-1.3-3.3,0.2 0.7,3-1.8,0.3-3.3-1.1-5-0.8-2,0.8-2.9,2.2-3.1,3 0.5,4.3-4.2-1.4-0.9-2.9-4.2-6.3-2.4,0-1.5,2.2-2.9-1.6-4.4-6-3.7,0 0,1.4-6.2,0-8.1-3.8-5.3,0.5-3.1-4-4.6-1.4-2.9-5.7-1.3-3.2-3.9-7.1-0.5-7 1.1-8.7-1.5-5.9 3.7,0.5z" fill="#FFFFCC"/>
<path d="M1116.2,729.8l5.3-0.5 8.1,3.8 6.2,0 0-1.4 3.7,0 4.4,6 2.9,1.6 1.5-2.2 2.4,0 4.2,6.3 0.9,2.9 4.2,1.4-1.1,5.1-0.2,4.6 1.1,3.6 2.4,4.6 0.9,1.3 2.8,1.6 4.4-1.1 2.2,0.3 2.2-3.5 0.5-3.2 5-1.7 2.7,1.1-1.6,4.6-1.7,2.7-2,1.6-4,0.3-0.9,1.6 2,3-2.6,0.3-0.7,2.2-0.4,1.8-2.9-2.7-2.6-1.9-2.9,1.4-4.4-1.4-4.4-2.1-4.4-2.7-5-3-2.7-3.5-0.2-3-1.8-4.6-3.5-4.9-3.1-3.5-2.4-4.1-3.7-4.6-1.8-4.6-3.9-1.6 0.2,0.6 1.5,4.3 2.7,5.4 3.3,5.4 2.2,4.6 1.7,3-1.1,0.8-3.3-3.8-1.5-1.9-2.9-4.6-3.3-2.7 1.8-0.8-1.8-2.7-2.2-3.8z" fill="#FED976"/>
<path d="M1213.2,606.1l11-4.3 13.2-4.6 26.4-2.7 37.4-3 24.2,3.8 22,1.9-13.2,4 2.2,5.5-6.6,5.4 2.2,4-6.6,4.1 0,6.8-6.6,4-11,2.2-13.2,6.5-8.8,2.1-6.6,13-2.2,1.1-8.8-3.2-6.6-6.8-5.5-8.1 1.1-5.4 4.4-2.7-7.7-2.7-1.1-5.5-6.6-8.1-8.8-1.9-13.2,0.6-6.6-3.3z" fill="#FED976"/>
<path d="M1344.8,742.8l3.7-2.4 3.7-3.3 0-4.3 1.4-3 5.2-4 2-4.9 1.3-0.3 6.9,2.2 0.8,1.6 1.4,6.2-5.3,1.4 0,1.9-3.1,1.3-4.4,2.7-3.7,2.2 0,2.7z" fill="#FED976"/>
<path d="M1344.8,742.8l9.9,0 0,1.1 0,3.5-7.3,0 0,7.1-2.2,1 0,4.6-8.9,1.4 2.3-7.9 3.1-6.2z" fill="#FFFFFF"/>
<path d="M1369,722.8l4.8-2.2 6.6-2.7 6.6-0.3 5.7,0.3-0.6,4.6-1.8,3.5 3.3,5.2 1.1,4.6 0.9,4.9-1.1,6.2 1.3,4.6 4.4,2.7-13.6,10.8-3.6,1.1-1.9,0.3-0.3-2.2-4.4-2.7-13.2-11.4-8.5-6.2 0-1.1 0-2.7 3.7-2.2 4.4-2.7 3.1-1.3 0-1.9 5.3-1.4-1.4-6.2z" fill="#FED976"/>
<path d="M1392.7,717.9l3.5-1.1 1.8,0.8-0.9,3.3 0.9,3.5-2.2,1.9 3.3,1.6 0,1.9-2.6,1.9 0,2.7-1.8,1.4-1.1-4.6-3.3-5.2 1.8-3.5z" fill="#FFFFCC"/>
<path d="M1399.1,727.9l3.3,0.8 4.8,1.7 1.4,2.4 4.8,2.4 4,0 0.4-4 3.3-2.5 3.7,1.4 4,1.9 0,26.2 0,5.5-2.2,0 0,1.3-17.6-10.5-2.2,1-1.8,1.1-4.8-2.4-4.4-2.7-1.3-4.6 1.1-6.2-0.9-4.9 1.8-1.4 0-2.7 2.6-1.9z" fill="#FFFFCC"/>
<path d="M1428.8,732l4.4,1.1 4.4,1.1 4.4-1.7 2.9,0.6 4.1,0 1.6,4.8-1.6,4.9-1.5-1.3-2-4.6 2.2,6.5 2,5.4 2.2,4 0.4,2.7 2.7,2.7-26.2,0z" fill="#FD8D3C"/>
<path d="M1455,758.2l0.6,2.8 0.3,5.4 2.6,2.7-3.3,2.7-1.1,4.9-0.2,1.8-0.7,4.9-2,2.5-1.9,2.9-0.7,3.3 0.2,2.7-2.4,1.6 1.8,1.9 1.9,1.4 2.7,3.8 0,1.8-4.2,1.1-0.2,1.1-6.6,0.8-3.1-2.4-2.4,0.3-2.2-2.2-2.2-4.1-2.7-2.4-2.6-3.3-1.1-0.8 0-2.7-1.5-2.7-0.7-4.6-1.1-3 1.1-1 0.9-4.1 2.4,0 0-10.3 0-1.3 2.2,0 0-5.5z" fill="#FD8D3C"/>
<path d="M1337.5,774.2l1.1-5.1-1.1-4.1-1.2-3.5 8.9-1.4 0-4.6 2.2-1 0-7.1 7.3,0 0-3.5 8.5,6.2-3.7,0 2,23 0.6,0.6-0.4,2.1-8.4,0-4.8-0.2-1.5,2.1-2.2-1.9-2.9-2.9z" fill="#E31A1C"/>
<path d="M1347,777.7l1.5-2.1 4.8,0.2 8.4,0 0.4-2.1-0.6-0.6-2-23 3.7,0 13.2,11.4 4.4,2.7 0.3,2.2 1.9-0.3 0,6.2-1.5,3.5-4.4,0.6-2.9,0.8-1.9,0-4.7,2.7-3.3,2.2-1.9,3.8-0.7,3.7-1.5-0.5-4,1.1-1.8-3.5-2.6-1.4-3.1-1.1-1.3-2.9z" fill="#800026"/>
<path d="M1337.1,784.5l-0.3-2.2 0-1.3-1.5-3 2.2-3.8 4.4-1.3 2.9,2.9 2.2,1.9 0.4,3.6 1.3,2.9-5-0.5z" fill="#E31A1C"/>
<path d="M1336.8,782.3l0-1.3 3.1-0.6 3.1,0.6 0,1.1-3.1-0.3z" fill="#E31A1C" stroke-width="3.5"/>
<path d="M1340.8,788.3l-2.9-2.4-0.8-1.4 6.6-0.8 0,2.4z" fill="#800026" stroke-width="4"/>
<path d="M1344.5,793.4l-2.6-3.5-1.1-1.6 2.9-2.2 0-2.4 5,0.5 3.1,1.1 2.6,1.4 1.8,3.5 0.4,4.6-1.5,2.4-2-1.1-2-1-0.6-1.7-1.3-2.7-2.9,0.6z" fill="#800026"/>
<path d="M1348.5,799.1l-3.3-3-0.7-2.7 1.8-2.1 2.9-0.6 1.3,2.7 0.6,1.7z" fill="#800026" stroke-width="3.5"/>
<path d="M1357.3,805.9l-4-3-4.8-3.8 2.6-4 2,1 2,1.1 0.2,3 2,1.9z" fill="#800026" stroke-width="3.5"/>
<path d="M1367,804l-4.2,0-5.5,1.9 0-3.8-2-1.9-0.2-3 1.5-2.4-0.4-4.6 4-1.1 1.5,0.5 2,1.7 3.9,0.5 0.7,3.8-1.5,4.6z" fill="#800026"/>
<path d="M1361.7,789.6l0.7-3.7 1.9-3.8 3.3-2.2 4.7-2.7 1.9,0 1.8,4.3 2.4,1.9 0.7,2.2-2.2,1.3-1.1,1.1-2.2-0.2-6,0.2 0,3.8-3.9-0.5z" fill="#800026"/>
<path d="M1376.4,801.3l-2.6,1.3-4.4,2.2-2.4-0.8-0.2-3.8 1.5-4.6-0.7-3.8 0-3.8 6-0.2 1.3,4.3 0.2,5.4z" fill="#E31A1C"/>
<path d="M1377.3,801l-0.9,0.3-1.3-3.8-0.2-5.4-1.3-4.3 2.2,0.2 1.5,5.4z" fill="#E31A1C" stroke-width="3.5"/>
<path d="M1379.7,800.5l-2.4,0.5 0-7.6-1.5-5.4 1.1-1.1 2.2-1.3 2.6,0.5 0.5,3.8-2.2,3.5z" fill="#800026"/>
<path d="M1374.2,777.2l2.9-0.8 4.4-0.6 1.5-3.5 0-6.2 3.6-1.1 13.6-10.8 4.8,2.4 1.8-1.1 1.8,7.3-0.7,9.5-4.4,8.7-2.2,1.3-5.5-0.5-4.4,0.3-3.3-0.8-5.5,0-0.9,4.8-2.6-0.5-0.7-2.2-2.4-1.9z" fill="#800026"/>
<path d="M1392.5,805.1l-3.3,0.8-2.2,0.3-2.2-3.6-1.3-1.9-3.8-0.2 0.3-7.1 2.2-3.5-0.5-3.8 0.9-4.8 5.5,0 3.3,0.8 4.4-0.3 5.5,0.5 2.2-1.3 1.3,1.3 1.1,4.4-2.8,4-1.4,3.5-1.9,4.7-2.9,0-2.6,1.6z" fill="#800026"/>
<path d="M1403.5,781l4.4-8.7 0.7-9.5-1.8-7.3 2.2-1 17.6,10.5 0,10.3-2.4,0-0.9,4.1-1.1,1 1.1,3 0.7,4.6-2.5,1.1-5.7,4.3-1.1,2.5-3.5,1.1-3.3,0.5-2.9-6.8 2.9,0-0.9-2.7-0.4-4.3-1.8-1.4z" fill="#800026"/>
<path d="M1395.4,811.6l-0.3-3.8-1.7-2.2-0.9-0.5 1.8-4.6 2.6-1.6 2.9,0 1.9-4.7 1.4-3.5 2.8-4-1.1-4.4 1.8,1.4 0.4,4.3 0.9,2.7-2.9,0 2.9,6.8-2.2,3.8 0.2,3.2 1.3,2.7 2,4.6-6.1,0-4.4,0z" fill="#E31A1C"/>
<path d="M1407.9,797.5l3.3-0.5 3.5-1.1 1.1-2.5 5.7-4.3 2.5-1.1 1.5,2.7 0,2.7 1.1,0.8 2.6,3.3 2.7,2.4 2.2,4.1-4.6-0.3-2,0.3-3.3,0.8-1.1,1.9-4.2-1.1-2.2-1.6-2,2.2 0,2.1-4.4,0-1.1,3.5-2-4.6-1.3-2.7-0.2-3.2z" fill="#800026"/>
<path d="M1394.9,815.1l0.5-3.5 3.3,0.2 0,3.3z" fill="#E31A1C" stroke-width="4"/>
<path d="M1398.2,828.4l-3.3-4.1-1.7-4.3 1.3-2.7 0.4-2.2 3.8,0 0-3.3 4.4,0 0,2.5 2.4,0 0,4.9-1.1,2.1 1.3,2.7-4-0.5-1.5,1.1-0.9,1.3z" fill="#E31A1C"/>
<path d="M1400.2,831.3l-2-2.9 1.1-2.5 0.9-1.3 1.5-1.1 4,0.5-1.3-2.7 1.1-2.1 0-4.9-2.4,0 0-2.5 6.1,0 1.1-3.5 4.4,0-1.1,3.3-0.6,4.8-0.5,3-3.1,3.8-0.6,5.2-1.3,1-2,1.7-3.1-0.8z" fill="#E31A1C"/>
<path d="M1400.6,833.5l-0.4-2.2 2.2-1-0.4,3.2z" fill="#800026"/>
<path d="M1402.4,830.3l3.1,0.8 2-1.7 1.3-1 0.6-5.2 3.1-3.8 0.5-3 0.6-4.8 1.1-3.3 0-2.1 2-2.2 2.2,1.6 4.2,1.1 1.1-1.9 3.3-0.8 2-0.3 4.6,0.3 2.2,2.2 2.4-0.3 3.1,2.4 0.9,3.5-2.9,2.8-0.7,3.2-0.2,3.8-1.3,3.5 0.4,1.6 0.5,3 0.4,5.7 2.4,4.6-3.9,0.8-0.9,1.9 0.2,3.5-0.4,3.5 3.1,1.1 0,3.3-1.8,0-3.3-3-0.7-1.9-2.6,0.8-1.5-1.9-2,0.6-0.9-1.4-4,0.5 0.3-2.1-1.1-2.2 0-5.9-3.1-0.9-2,0-1.1,2.8-2.2,0.2-1.1-0.2-1.3-2.2-0.7-3.5-7,0-2.7-0.3 1.4,0z" fill="#800026"/>
<path d="M1453.9,778.5l2.4,0.9 2.2-0.9 1.5,0 2.2,0.3 4.9,5.2-1.3,2.1 0,1.9 2.4,0.3 2.4,5.1 6.6,2.7 2.2,0-6.6,8.2-3.7,0.5-2.9,1.6-0.2,0.8-2,0-3.3,1.4-3.3-0.5-2.4-2.2-2.2-0.6 0-1.8-2.7-3.8-1.9-1.4-1.8-1.9 2.4-1.6-0.2-2.7 0.7-3.3 1.9-2.9 2-2.5z" fill="#800026"/>
<path d="M1458.5,769.1l1.8,5.9 3.7,3.3 3.1,3.8 1.5,1.3-1.5,0.6-4.9-5.2-2.2-0.3-1.5,0-2.2,0.9-2.4-0.9 0.2-1.8 1.1-4.9z" fill="#800026"/>
<path d="M1468.6,783.4l-0.9,3 1.1,0.3-0.6,1.6-2.4-0.3 0-1.9 1.3-2.1z" fill="#800026" stroke-width="4"/>
<path d="M1468.8,786.7l2.9,2.9 5.5-2.1 4.4-0.3 4.8-1.9-0.2,4.3-1.8,5.2-2.8,6.8-2.2,4-4.4,5.4-4.4,4.1-3.3,4.1-2,3.2-1.3-2.2 0-2.4 0-7.6 2-3 0.2-0.8 2.9-1.6 3.7-0.5 6.6-8.2-2.2,0-6.6-2.7-2.4-5.1z" fill="#800026"/>
<path d="M1465.3,822.4l-3.1,2.7-2.2,5.4-3.3-3.5-0.2-1.1-7.9-5.4-0.2-3 2.4-4.3-1.1-4.1-1.1-2.7 4.2-1.1 2.2,0.6 2.4,2.2 3.3,0.5 3.3-1.4 2,0-2,3 0,7.6 0,2.4z" fill="#E31A1C"/>
<path d="M1448.6,806.4l1.1,2.7 1.1,4.1-2.4,4.3 0.2,3-7.7,0-2,1.1 0.2-3.8 0.7-3.2 2.9-2.8-0.9-3.5 6.6-0.8z" fill="#E31A1C"/>
<path d="M1438.9,821.6l2-1.1 0.7,3.8-2,1.1-2-0.3z" fill="#800026" stroke-width="3.5"/>
<path d="M1437.6,825.1l2,0.3 2-1.1 0,2.4-3.1,3-0.5-3z" fill="#800026" stroke-width="3.5"/>
<path d="M1460,830.5l-0.8,4.9 1.5,1.3-0.2,4.1 2.2,5.4-5.3,2.2-1.1,1.1-5.5-0.3-0.9-0.3-1.3-5.4-2.4-0.3-4.2-2.1-0.7-1.1-2.4-4.6-0.4-5.7 3.1-3 0-2.4-0.7-3.8 7.7,0 7.9,5.4 0.2,1.1z" fill="#800026"/>
<path d="M1462.7,846.2l0.4,9.5 0.5,2.7-2.9,4.1-5.5,3.5-1.8,3-2.8,2.4-0.2,1.9 1.5,4.1 0,5.4-5.5,3.5-0.4,1.9 0.2,2.4-1.8-0.3-0.4-2.4 0.2-3.8-1.5-5.7 2.4-2.9 1.3-4.1-0.7-3.5 0.7-4.1-0.2-0.8-2.4-1.1-3.1-1.9-0.5-1.6 6.2-2.7 3.3,1.4-0.4,4 1.9,3 1.4-3 0.2-3-2-3.8-1.3-2.7 0.4-2.7 0.9,0.3 5.5,0.3 1.1-1.1z" fill="#E31A1C"/>
<path d="M1446.2,843.2l2.4,0.3 1.3,5.4-0.4,2.7 1.3,2.7 2,3.8-0.2,3-1.4,3-1.9-3 0.4-4-3.3-1.4-0.7-1.1 1.4-3.5 0-4.9z" fill="#800026"/>
<path d="M1441.3,840l0.7,1.1 4.2,2.1 0.9,3 0,4.9-1.4,3.5 0.7,1.1-6.2,2.7 0.5,1.6-3.3,1.1-4.2,5.2-3.7-0.3-4.2-0.6-3.1-3.7 0-8.7 4.4,0 0-5.7 0.9,1.4 2-0.6 1.5,1.9 2.6-0.8 0.7,1.9 3.3,3 1.8,0 0-3.3-3.1-1.1 0.4-3.5-0.2-3.5 0.9-1.9z" fill="#800026"/>
<path d="M1429.5,866l3.7,0.3 4.2-5.2 3.3-1.1 3.1,1.9 2.4,1.1 0.2,0.8-0.7,4.1 0.7,3.5-1.3,4.1-2.4,2.9-4.2-0.5-3.1-1.9-0.7-2.7-3.3-2.7z" fill="#E31A1C"/>
<path d="M1399.8,864.6l0-4 1.5-6.3 2.4-3.2 0.5-3.5-1.4-5.4-0.8-5.5-1.1-2.4-0.3-0.8 2.7,0.3 7,0 0.7,3.5 1.3,2.2 1.1,0.2 2.2-0.2 1.1-2.8 2,0 3.1,0.9 0,5.9 1.1,2.2-0.3,2.1 4-0.5 0,5.7-4.4,0 0,8.7 3.1,3.7-4.4,0.9-6.4-1.4-9.9,0-1.1-1.1z" fill="#800026"/>
<path d="M1410.1,895.2l-2.9-4.9-1.5-7.5 0-4.1-2.4-5.4-3.1-6.8-0.4-1.9 3.7-0.8 1.1,1.1 9.9,0 6.4,1.4 4.4-0.9 4.2,0.6-1.8,0.5-2.6,0-5.1,0.8 0,10.1-2.2,0 0,7.5 0,9.8-2.2,1.3-3.5-0.5z" fill="#E31A1C"/>
<path d="M1417.8,884.9l0-7.5 2.2,0 0-10.1 5.1-0.8 2.6,0 1.8-0.5 1.9,4.6 3.3,2.7 0.7,2.7 3.1,1.9-2.4,1.1-3.1,4.6-2.9,3.5-2.4,0.3-3.3-1.1-2.2,3.5-2.6,0.5z" fill="#E31A1C"/>
<path d="M1446.2,890.6l-1.1,4.3-3.1,4.1-2.2,3.5-3.3,3.5-3.3,2.8-2.9,1-7,0.3-5.5,1.9-3.5-1.6-0.2-4.1-1.1-4.6-2.9-6.5 2,0.3 3.5,0.5 2.2-1.3 0-9.8 1.8,5.4 2.6-0.5 2.2-3.5 3.3,1.1 2.4-0.3 2.9-3.5 3.1-4.6 2.4-1.1 4.2,0.5 1.5,5.7-0.2,3.8-1.8,0-0.6,2.4 1.1,1.4 1.7-1.4z" fill="#FD8D3C"/>
<path d="M1444,887.9l-1.8,0-0.6,2.4 1.1,1.4 1.7-1.4z" fill="#E31A1C" stroke-width="3.5"/>
<path d="M1433.2,897.9l2.2-2.1 1.5-0.6 1.6,2.2-0.5,1.6-2.2,1.6-1.7-0.8z" fill="#606060" stroke-width="3.5"/>
<path d="M1482.3,850.3l2.6,9.5-1.5,4-0.9,2.7-3.5,13.6-1.8,5.4-4,1.3-3.3-2.7-0.8-6.7 2.4-5.5-0.9-6.7 1.1-3.5 4-1.4 3.7-5.1z" fill="#800026"/>
<path d="M1171,778.5l0.4-1.8 0.7-2.2 2.6-0.3-2-3 0.9-1.6 4,0 0,5.2 2,0.5-2,1.9-0.5,1.6-1.5,1.6z" fill="#FED976" stroke-width="3.5"/>
<path d="M1177.6,769.3l2-1.6 0.4,2.7-1.8,4.4-0.6,0z" fill="#FFFFFF" stroke-width="4"/>
<path d="M1177.6,777.2l2-1.9 1.7-0.3 3.3-0.5 3.3,0.5 2.9,2.2-3.5,0.8-2,2.2-2.4,0.5-1.4,2.2-0.8-1.4-1.6-1.6-2-1.1z" fill="#FED976" stroke-width="3.5"/>
<path d="M1181.5,782.9l1.4-2.2 2.4-0.5 2-2.2 3.5-0.8-0.7,6.8-0.4,4-4.4-0.2-1.8-1.9-2.6-3z" fill="#FED976" stroke-width="3.5"/>
<path d="M1185.3,787.8l4.4,0.2 2.4,3.8-0.7,4.1-1.5-1.1-2.6-3.3-2.2-0.8z" fill="#FFFFFF" stroke-width="4.5"/>
<path d="M1191.4,795.9l0.7-4.1 3.5,2.2 3.1-2.2 4.8,2.4-1.1,3.8-1.3-2.7-2.6-1.3-1.6,1.6 0.5,2.4-2.2-0.5z" fill="#FFFFFF" stroke-width="4.5"/>
<path d="M1187,758.5l4.2-3 5.5-0.2 7.7,4 6.2,3.8-7.7,0.8-1.8-2.9-7.7-3.8z" fill="#FFFFFF" stroke-width="4.5"/>
<path d="M1210.1,768l3.1,0.5 2.7,0.6 0.2-4.6-2.9-0.6 0.5,2.5-1.6,1z" fill="#FFFFFF" stroke-width="4"/>
<path d="M1215.9,769.1l3.9-0.8 3.5-0.9-3-2.1-4.2-0.8z" fill="#FFFFFF" stroke-width="4"/>
<path d="M1201.6,768l4.4,0.8-2,0.8z" fill="#FFFFFF" stroke-width="4"/>
<path d="M1226,768l3.3,0.3-1.8,0.9z" fill="#FFFFFF" stroke-width="4"/>
<path d="M1203.5,794.2l1.4,1.9 2.6-4 1.3-3.5 1.8-1.4 4.8-2.4 1.6-0.3 0,1.4-2.7,2.1-1.1,4.9 1.3,2.4 0.9,3.6 4.4,0 5.5,2.1-0.6,5.4 1.7,6 0,2.2-6.1-1.4 0.6,3-1.1,2.1 1.3,2.7-1.1,8.2-1.7-1.1-4-3.8-2.4-3-3.7-3.2-2.7-1.1-2.2-0.8-2.8-2.2 0.6-3 2.7-4-0.3-5.4-1.1-3.6z" fill="#FFFFCC"/>
<path d="M1217,785.9l-0.5,2.7 3.3-1.9 0-1.9 3.8,3.8 5,0.5 3.3,1.1 5.5-1.4 2.2,2.5 0.5,3.5 1.7,0-2.6,2.7 1.5,1.4-1.7,2.7 1.3,2.1 0,1.1-4.6,2.2-3.1-0.6 0.4,4.6-3.3,4.1-2.8-0.5-0.5,0 0-2.2-1.7-6 0.6-5.4-5.5-2.1-4.4,0-0.9-3.6-1.3-2.4 1.1-4.9z" fill="#FFFFCC"/>
<path d="M1241.8,794.8l3.3,3.5 2.9,3.3-0.2,2.1-1.6,3.3 1.1,1.9 2.2,3.8-5,1.6-2.5-3.3 0-5.4-1.7-1.9-1.3-2.1 1.7-2.7-1.5-1.4z" fill="#FED976"/>
<path d="M1248,801.6l7,0.5-1.1,2.7 1.1,3.5-1.1,3.3-3.3,0.8-1.1,0.3-2.2-3.8-1.1-1.9 1.6-3.3z" fill="#FED976"/>
<path d="M1255,802.1l4.4,3 0.7,1.9-2.2,4.6-4,0 1.1-3.3-1.1-3.5z" fill="#FFFFFF"/>
<path d="M1260.1,807l3.7,5.9 0,4.9 3.3,1.4 1.1,1.3 7.7,4.1 6.6,1.1 5.5,1.6 4,3.5 4.1,1.1 1.1,5.4-0.4,4.9-4.4,5.4-3.3,5.4-1.1,6.8-1.1,6.7-2.9,8.1-0.4,2.8-2.2,2.7-5.5,0.5-4,2.2-4.8,5.4-0.2,5.4-3.1,5.4-4.8,6-2.7,4 0.5-2.7-5.3-4.9-4.4-1.8 4-4.9 4.4-3.3-1.8-4.3 0.7-4.3-2.7,0-0.4-4.6-4.9-0.6-0.6-5.1 0.4-1.1 1.1-4.9-1.7-1.9-4.2-2.7-0.7-6.7-3.3-0.9-5.5-2.7-1.7-2.7 0-4.6-2.9,0.3-4.6,3-4.2,0 0-4.1-3.5,1.4-2.2-1.7 0.6-1-2.4-4.4 0.7-1.6 1.5-3.5 0.2-1.1 4.7-2.4 1.9,0 1.1-8.2-1.3-2.7 1.1-2.1-0.6-3 6.1,1.4 0.5,0 2.8,0.5 3.3-4.1-0.4-4.6 3.1,0.6 4.6-2.2 0-1.1 1.7,1.9 0,5.4 2.5,3.3 5-1.6 1.1-0.3 3.3-0.8 4,0z" fill="#FED976"/>
<path d="M1200.5,814l2.8,2.2 2.2,0.8 2.7,1.1-0.5,3.8-2.2,2.9-3.3,1.9-1.1,4.1-2.8-0.5-1.1-3.3 0.6-2.4-2.2-0.8 0.5-3.3 1.7-3.2 0-1.7z" fill="#FD8D3C"/>
<path d="M1197.2,827l1.1,3.3 2.8,0.5 1.1-4.1 3.3-1.9 2.2-2.9 0.5-3.8 3.7,3.2 2.4,3 4,3.8 1.7,1.1-1.9,0-4.7,2.4-0.2,1.1-1.5,3.5-0.7,1.6 2.4,4.4-0.6,1 2.2,1.7 3.5-1.4 0,4.1 4.2,0-0.7,4 0.7,3.6-1.1,4 0.4,2.5-1.1,3.5-2,2.1-2.2-2.4-4.6-3-5.9-6.2-2.2-5.4-2.9-6.8-3.1-6.8-2.8-2.7-0.2-4z" fill="#FD8D3C"/>
<path d="M1222.7,847.6l4.6-3 2.9-0.3 0,4.6 1.7,2.7 5.5,2.7 3.3,0.9 0.7,6.7 4.2,2.7 1.7,1.9-1.1,4.9-0.4,1.1-2-2.5-5.9,0.9-1.8,7-3.1-0.5-2.6,0.2-2.4-0.8-2,2.7-1.6,0-0.6-4-0.7-4.9-1.1-1.4-1.1-4 1.1-3.5-0.4-2.5 1.1-4-0.7-3.6z" fill="#E31A1C"/>
<path d="M1245.8,872.5l0.6,5.1 4.9,0.6 0.4,4.6 2.7,0-0.7,4.3-0.9,3.8-3.1,1.1-4.8-0.6 2.2-4.6-3.1-2.7-4.4-1.9-3.5-4.3 1.8-7 5.9-0.9z" fill="#FFFFCC"/>
<path d="M1256.3,909l0.5-2.7-5.3-4.9-4.4-1.8-1.3,6.2-0.5,4 3.1,1.7 4.4,0.8z" fill="#FFFFCC"/>
<path d="M1226,879.5l2-2.7 2.4,0.8 2.6-0.2 3.1,0.5 3.5,4.3 4.4,1.9 3.1,2.7-2.2,4.6 4.8,0.6 3.1-1.1 0.9-3.8 1.8,4.3-4.4,3.3-4,4.9-1.3,6.2-0.5,4 2.7,3.6-0.2,2.4 1.3,0.8-2,4.1-3.1,1.9-6.6,0.8-0.6,4.3-6,0.5 0,3.8 3.1,1.1-3.1,1.9-1.1,4.6-4.4,2.7 3.8,3.3-0.5,2.1-3.7,4.9-2.9,3 1.3,3.8-3.5-0.8-4.4,0-0.9-3.6-1.7-3.7 2-4.9 1.3-5.4 0-5.4-0.2-5.5 1.3-5.4 0.4-5.4 1.6-5.4 1.1-5.4-1.1-5.4 0.8-4.1 1.6-5.4 1.7-4.9-0.2-4.6zM1222.9,960.2l7.5,5.7-2.9,0.8-4.6-0.3z" fill="#FFFFCC"/>
<path d="M1218.9,867.3l2-2.1 1.1,4 1.1,1.4 0.7,4.9 0.6,4 1.6,0-2.9,4.6 0.2,4.6-1.7,4.9-1.6,5.4-0.8,4.1 1.1,5.4-1.1,5.4-1.6,5.4-0.4,5.4-1.3,5.4 0.2,5.5 0,5.4-1.3,5.4-2,4.9 1.7,3.7 0.9,3.6 4.4,0 3.5,0.8-5.5,3.5-5.7-3-3.9-6.7-0.5-8.2 3.3-5.4 1.1-8.1-0.4-6.8 1.1-6.7 1.5-4.1 1.8-5.4 0.4-6.8 0.2-5.4 1.4-6.8 0.6-8.1 0.9-6.8zM1222.9,960.2l0,6.2-3.1,1.1-4.4-2.2-4.4-4 6.6,2.1 1.8-2.7z" fill="#FD8D3C"/>
<path d="M1239.6,958l5.5-1.3 1.6,1.1-3.8,1.6z" fill="#606060" stroke-width="5"/>
<path d="M1319.9,640.5l5.5-2.4 8.8,0.5 4.4-0.8 3.3,1.3 2.2,2.7-3.3,1.9-7.7,2.5-8.8-1.1 1.1-2.7-4.4-0.6z" fill="#FFFFCC" stroke-width="4"/>
<path d="M1351.8,678.1l1.1-4.6-1.1-2.4 3.3-2.7 2.6-0.3-1.7,2.2 2.4,1.1 1.8,0 0.4,2.9-0.9,2.2-3.5,1.1z" fill="#FED976" stroke-width="4.2"/>
<path d="M1361.3,682.5l4.8-1.1 3.3-0.6 7.5-1.6-2-0.8 2.6-3.3-3-0.8-1.1-3.2-3.1-3.3-3.1-1.6 2.2-3.2 0.4-1.1-4.8,0 2-2.7-4.2,0-1.8,2.9 0.7,2.8 0,2.9 1.1,1.7 3.3-0.3 1.1,4-3.3,0.3 0.9,2.7-2.4,1.1 4.4,1.4-2.9,1zM1357.7,668.1l2.9,0.3 1.1,1.9-1.5,1.1-1.8,0-2.4-1.1z" fill="#FFFFCC" stroke-width="4.6"/>
<path d="M1354.4,704.4l1.4-0.3 3.5,0.3 0.9,0.8-1.6,1.6-0.2,3.5-1.1,0.3 1.1,3.8-0.9,2.7-3.3,0.5 0.2-3.7-1.5-1.1 1.3-3.8z" fill="#FFFFCC"/>
<path d="M1354.4,704.4l-0.8-3.5 2.6-1.4 4.8,0.3 4.4,0.2 4.4,0.3 5.5,1.6 2.2,0.9 3.3,0.2 0,1.4-2.2,1.3-2.8,1.7-2.7,3.5 1.1,1.9-1.9,3.2-2.9,2.2-5.3,0.3-2.2,1.6-2-1.4-2.4-1.6 0.9-2.7-1.1-3.8 1.1-0.3 0.2-3.5 1.6-1.6-0.9-0.8-3.5-0.3zM1379.1,710.6l2.2-0.8-0.5,1.6z" fill="#FFFFCC"/>
<path d="M1369.8,700.3l1.4-3.2 0-4.4-2.2-2.7-4.9-1.6-0.9-1.6 4-1.1 3.1,0.5-0.7-2.9 1.8,0.8 2.8-0.3 2.9-1.9 0.2-1.9 2-0.5 1.5,0.8 2.2,1.3 1.4,0.4 2.2,1.8 1.3,0 3.9,1.4-1.3,3.7-1.5,0.9-1.8,2.9 1.6-0.5 0.4,1.3-0.2,4.1 1.3,1.6-2.9,1.9-2.6-0.8-2.2-0.3-2.2,0.9 0.4,2.1-3.3-0.2-2.2-0.9zM1392.7,704.4l1.8-3 0.2,4.3z" fill="#FFFFCC"/>
<path d="M1379.3,679.5l2-0.8 3.5-0.3 2,1.1-0.5,0.8 0.9,0.3 0.7,1-0.7,0.6-0.6,1.6-2.2-1.8-1.4-0.4-2.2-1.3z" fill="#FFFFCC" stroke-width="4"/>
<path d="M1381.3,678.7l1.3-1.7 1.5-2.7 2.9-1.3 2.6,0.5-0.4,2.2-0.7,1.6-1.5,0.3 0.4,1.6-0.6,0.3-2-1.1z" fill="#FFFFCC" stroke-width="4"/>
<path d="M1386.6,683.8l0.6-1.6 0.7,1.6z" fill="#FFFFCC" stroke-width="4"/>
<path d="M1389.6,673.5l2.9-0.8 0.2-3.5 2.9,0.3 2.4,2.1 3.3-1.1 3.7,1.4 0.9,3.5 0.2,4.3-0.8,0-4.9,1.9 3.8,4.1-2.2,1.6 0.4,1.9-5.5,0-2,0-4.4-0.3 1.3-3.7-3.9-1.4-0.7-1.6 0.7-0.6-0.7-1-0.9-0.3 0.5-0.8 0.6-0.3-0.4-1.6 1.5-0.3 0.7-1.6z" fill="#ABD9E9"/>
<path d="M1392.7,669.2l-1.1-1.9 0.2-3.8 2.9-0.5 2.4-1.4-0.4,3.3 1.1,0.2-2,2.5-0.2,1.9zM1398.4,667l3.1-0.8-0.2,1.9-1.5,1.1z" fill="#FFFFCC" stroke-width="6"/>
<path d="M1389.2,660.8l-3.3-2.7-1.1-4.1 0-3.5 2.2-1.9 5.5-3 4.4-2.4 3.3-2.7 2.2-4.1 3.1-0.8 2.4-2.7 4.4-2.4 3.3-1.4 5.5-1.3 4.4-1.7 5.1-0.8 4.8,0.3 6.6,1.9-2.2,1.6 1.8-0.2-4,1.8-2.2-2.4-4.4,0.3-0.7,1.9-4.4,1.1-5.9-0.6-1.1-0.1-5.3,1.5-3.5,2.7-3.3,3.5-2.2,4.6-4,2.7 0,5.4 1.4,0.6-2.2,4-1.4,2.2-1.3-0.8-0.2-1.6-3.3,3.5z" fill="#FFFFCC" stroke-width="4"/>
<path d="M1398.4,658.1l1.6,3.5 1.5,4.1 0.7,2.1 3.1-0.2 3.5-1.7 1.3-1.9 0.2-2.7 0.9-2.4 4-2.4 0.2-1.4-3.5-1.6-0.3-3.5 1.8-2.2 4.4-2.4 2.6-2.5 1.8-2.7 4.6-0.5-0.9-1.9 0.5-2.7-2.4-2.5-5.1-1.7-5.3,1.5-3.5,2.7-3.3,3.5-2.2,4.6-4,2.7 0,5.4 1.4,0.6-2.2,4z" fill="#FFFFCC"/>
<path d="M1426.8,639.7l2.9,2.1-3.1,2.8-5.5,2.4-0.2,5.7-0.2,1.1 1.9,0.5 1.8,1.6 4.4-1.1 6.2-0.8 3.7-2.7 4.4-3.8-3.3-2.4 0.2-5.1-2.2-3.3 2-2.2-3.3-1.3 0.9-2.5 0.2,0-2.2-2.4-4.4,0.3-0.7,1.9-4.4,1.1-5.9-0.6-1.1-0.1 5.1,1.7 2.4,2.5-0.5,2.7z" fill="#FFFFCC"/>
<path d="M1425.5,657.5l2.6-0.8 7.3,0-1.3,5.4-3.1-0.8-2.2-0.5-1.5,0.3 0.4-1.4-2.2-0.8z" fill="#ABD9E9" stroke-width="4"/>
<path d="M1427.3,661.1l-0.5,2.1-2.4,0-0.9-1.6-2.6,0.8-0.9,1.6 0.1,1.9 2.1-0.8 5.5,0.3 3.3,1.6 1.3,0 3.5-1.2-0.8-3.1-0.9-0.6-3.1-0.8-2.2-0.5z" fill="#ABD9E9" stroke-width="3.5"/>
<path d="M1420.1,665.9l0.3,2.2 3.1,0.8 0.5,1.6 1.5,1.3 1.1,0.1 3.3-0.8 0.7-1.9 1.7-2.2-1.3,0-3.3-1.6-5.5-0.3z" fill="#ABD9E9" stroke-width="3.5"/>
<path d="M1416.9,670.4l0.9-1.3 2.6-1 3.1,0.8 0.5,1.6z" fill="#FFFFCC" stroke-width="3.5"/>
<path d="M1405,671.9l5.1-1.6 4-0.8 1.1,1.2 1.7-0.3 7.1,0.1 1.5,1.3 0.9,3.3-1.6,1.1 0.9,2.2 0.9,2.7-3.1,3.8-3.5-0.8-2.6,0.5-2-0.8-4.2-2.2-2.2-0.8-2.6-0.8-0.3-0.3-0.2-4.3z" fill="#FFFFCC"/>
<path d="M1400.4,681.6l4.9-1.9 0.8,0 0.3,0.3 2.6,0.8 2.2,0.8 4.2,2.2-4.2,1.9-0.2,0.5-4.2-1-2.6,0.5z" fill="#FFFFCC"/>
<path d="M1411,686.2l0.2,1.7 4,0.5 3.7-1.9 3.5,0.3 1.1-1.9-3.5-0.8-2.6,0.5-2-0.8-4.2,1.9z" fill="#ABD9E9"/>
<path d="M1394.9,689.2l2,0 5.5,0-0.4-1.9 2.2-1.6 2.6-0.5 4.2,1 0.2,1.7-2,2.9-0.2,0.6-3.3,0.8-1.8-0.3-3.3-1.3-3.7,0.2-2.2-0.5z" fill="#ABD9E9"/>
<path d="M1387.2,692.7l1.8-2.9 1.5-0.9 4.4,0.3-0.2,1.1 2.2,0.5-0.9,1.9-2.4,0.8-1.3-1-3.1,1-0.4-1.3z" fill="#ABD9E9" stroke-width="4"/>
<path d="M1390.3,699.2l2.9-1.6 3,1.4 0.7,2.7 3.7,3.2 2.9,1.4 1.8,1.1 2.8,2.1 0.9,2.7-0.7,2.7 1.8-0.8 1.5-1.9-1.5-1.9 1.1-2.1 3.3,1.3-1.1-1.9-4-3.2-2.6-0.3-3.1-4.3-2.6-1.6-0.2-3 3.3-0.8-0.5-1.1 0.2-1.4-3.3-1.3-3.7,0.2-0.9,1.9-2.4,0.8-1.3-1-3.1,1-0.2,4.1zM1401.1,714.9l7-0.8-1.1,4.4-5.7-2.5zM1391.8,712.2l0-5.1 3.3-0.8-0.2,5.4z" fill="#ABD9E9" stroke-width="3.6"/>
<path d="M1403.7,693.3l0.2-1.4 1.8,0.3 3.3-0.8 1.1,0.5-2,0.8-0.6,1.9-3.8,0 0.5-0.2z" fill="#ABD9E9" stroke-width="4.5"/>
<path d="M1403.7,694.6l3.8,0 0.6-1.9 2-0.8 2.2,1.6 3.1,0 1.1,1.9-0.9,0.9-2.2-0.6-4.8-0.3 0.2,2.8 3.7,3.2 2,1.4-2.2-1.4-3.3-1.4-1.8-1.8-1.5-3-1.3,1.3z" fill="#ABD9E9" stroke-width="4.5"/>
<path d="M1408.6,695.4l4.8,0.3 2.2,0.6 1.3,2.4-0.9,1.3-1.1,0.9-0.4,1.9-2-1.4-3.7-3.2z" fill="#ABD9E9" stroke-width="4.5"/>
<path d="M1416.5,695.4l-1.1-1.9 2.8-0.5 2.9,2.4 2.2,1.4 0.4,1.4 0.7,2.7-1.3,1 0,1.4-1.8,0.3-2.2,0.5-1.1-1.6-0.2-0.3-1.8-2.2 0.9-1.3-1.3-2.4z" fill="#FFFFCC" stroke-width="4"/>
<path d="M1414.5,702.8l0.4-1.9 1.1-0.9 1.8,2.2-1.3,2.2z" fill="#ABD9E9" stroke-width="4.5"/>
<path d="M1416.5,704.4l1.3-2.2 0.2,0.3 1.1,1.6-0.2,1.9 1.1,1.4-0.7,1.8-1.5,1.1-1.3-1.6 0.2-2.7z" fill="#ABD9E9" stroke-width="4.5"/>
<path d="M1418.9,706l0.2-1.9 2.2-0.5 1.8-0.3 1.3,2.7-2.2,0.5-2.2,0.9z" fill="#ABD9E9" stroke-width="4.5"/>
<path d="M1417.8,710.3l1.5-1.1 0.7-1.8 2.2-0.9 2.2-0.5 3.3-0.5 3.3,0.5 1.3-0.8-0.6,1.9-5.1,0-0.4,2.4-2-1.3 0,3.2 2.4,3 0,1.3-2.2-0.5 0.4,3.8-1.7,0-1.6-0.8-0.8-2.5-0.5-1.6-0.9-1.3zM1425.5,721.7l6.2,0.8-4,0.6z" fill="#FFFFCC" stroke-width="5"/>
<path d="M1423.7,698.2l2.9,1.3 4.4-0.5 2.2-0.6 3.5,1.1-1.5,2.4 0.2,2.2-3.7,0.8 0.6,0.3-1.3,0.8-3.3-0.5-3.3,0.5-1.3-2.7 0-1.4 1.3-1z" fill="#FED976"/>
<path d="M1418.2,693l2.2-0.8 2-4.1 1.8-0.2 3.5,0.2 4.6-1 3.3,3.7 0.2,3.8 3.3,0.6-2.4,4.3-3.5-1.1-2.2,0.6-4.4,0.5-2.9-1.3-0.4-1.4-2.2-1.4z" fill="#FED976"/>
<path d="M1409.2,690.8l2-2.9 4,0.5 3.7-1.9 3.5,0.3 1.8,1.1-1.8,0.2-2,4.1-2.2,0.8-2.8,0.5-3.1,0-2.2-1.6-1.1-0.5z" fill="#ABD9E9"/>
<path d="M1432.3,687.1l3.1,0 2.6,1 1.8,3.8-4,2.7-0.2-3.8z" fill="#ABD9E9" stroke-width="3.5"/>
<path d="M1423.5,684.9l3.1-3.8-0.9-2.7 3.1-1.1 5.5,1.1 6.6,0.5 2.9-2.1 4.4-0.8 3.7,5.1 5.5,1.6 4.4,0.8-0.7,4.6-3.3,2.2-7,2.4 1.1,2.5 2.2-0.3-3.3,1.6-3.3,0.8-2.2-2.4 2.4-1.9-3.9-0.5-2.5-0.6-2.2,3.3-3.3-0.6 4-2.7-1.8-3.8-2.6-1-3.1,0-4.6,1-3.5-0.2-1.8-1.1z" fill="#ABD9E9"/>
<path d="M1425.7,678.4l-0.9-2.2 1.6-1.1-0.9-3.3 1.1,0.1 3.3-0.8 0.7-1.9 1.7-2.2 3.5-1.2 6,1.5-0.2,2.2 1.1,1.6 3,2.1-2.8,0.9 0.9,2.7-2.9,2.1-6.6-0.5-5.5-1.1z" fill="#ABD9E9"/>
<path d="M1444.9,723.1l1.5-1.1 3.5-0.8-1.3,1.9-2.2,1z" fill="#ABD9E9" stroke-width="4"/>
<path d="M1441.6,628.9l4.8,1 6.6,0.6 11.4,6.5-7,1.9-7.7-1.4-4.4-1.3 5.1,7 4.8,1.6 2.2-1.9 5.5,0-1.1-3.8 4.4-1.3 4.4,1.3 0-6.7 5.5,1.9 3.3,0.2 11-1.6 4.4-0.8 4.4,0 6.6-1.1 1.1-2.1 8.8,1.3 4.4,2.4 3.3,0.3-2.2-3.2-0.5-3.6 3.8-5.9 3.3-1.1 5.5,1.9 0.6,4.6 1.6-1.4 3.3-2.7 6.6,0.9 5.5-3.6 13.2-0.8 1.1-1.9 17.6-4.3 11-1.1 9.4-3.2 6,2.4 11,0.8 3.3,2.7-7.7,3.3 6.6,1.3 13.2,1.9 11-1.6 8.8,1.1 3.3,6.2 3.3,0.5 4.4-1.9 11,0 4.4-2.7 13.2,0.6 8.8,1.9 4.4,1.9 15.4,3 4.4,0.8 8.8-0.3 6.6-0.8 5.5,2.4 0-3 12.1,0.9 8.8,2.4 0,10.5-5.5,0.9 3.9,5.9-11.6,1.9-7.7,4.9-9.9-0.8-5.5,1.1-1.1,5.1-1.1,4.9-1.6,3.2-3.9,4.9-3.8,3.8-3.5,2.1-2.4-5.4-0.2-5.4 1.1-5.4 4.4-4.1 7.7-5.4 4.4-2.7 2.2-2.7-9.9,2.2-7.7,0.5-4.4,5.4-7.7,0.6-6.6-0.3-11,0.3-5.5,3.5-6.6,8.1-4.9,0.8 4.9,1.9 5.9,0.3 2.7,1.6-2,6.2 0,6.8-4.4,5.4-5.5,5.7-6.2,4.3-2.8-0.8-2.7,2.2-0.2-1.1 1.3-2.2-0.4-3.7 4.4-0.6 3.3-7 0.6-1.9-8.3,1.9-0.7-3.3-7-2.4-3.3-7.9-5.5-2.1-5.7,0.5-2,1.6-1.6,6.5-3.3,1.9-2.4-0.5-3.7-1.1-6.6,2.2-7.7,0.2-7.7-2.9-6-0.6-0.6-2.1-6.8-1.9-2.5,2.9 1.1,1.4-7.2,1.4-6.6-1.9-9.3,4-1.1,0.3-4.6-1.4-4.8-3.8-6.6,0.6-4.6-6.8-3.1-2.4-6.8,1.9 0.8-1.6-6.1-0.3 0-3-4.4-0.3-8.4,2.7-8.1,1.4-1.1,2.4-2.2,3.3 3.3,1.3-0.2,1.4-6.2-0.6-6.4,1.1-7.5-3-3.3,0-4.6,3-0.6,2.2-3.5,2.4 1.3,3 3.5,3.8-3.3,2.2-1.1,2.9 1.3,4.1 2,3-4,0.2-0.6-0.2-5.3-1.9-1.1-0.6-7.7-1.6-4-2.7-0.8-0.8-2.7-1.4 2-2.1 1.5-2.2 2.5-0.8-2.5,0 3.3-2.2 0.7-4.6-4.4-0.8-5.5-1.6-3.7-5.1-4.4,0.8-0.9-2.7 2.8-0.9-3-2.1-1.1-1.6 0.2-2.2-6-1.5-0.8-3.1-0.9-0.6 1.3-5.4 4.4-1-3.3-1.7-1.5,0 3.7-2.7 4.4-3.8-3.3-2.4 0.2-5.1-2.2-3.3 2-2.2-3.3-1.3 0.9-2.5 0.2,0zM977.8,631.3l11,3.8 7.7,1.6 4,2.2-6.2,4.6-6.6-1.1-5.5-1.9-4.4,1.3zM1686.2,670.8l2.8,4.9-0.2,8.1 3.3,1.6-3.7,5.7-1.1,2.2-1.1-4.4 0-7.8-0.7-5.4z" fill="#FFFFCC"/>
<path d="M1398,604.2l6.6-2.4 13.2-1.1 15.4,0.3-11,4.3-8.8,4.9-8.8-2.5z" fill="#606060" stroke-width="5"/>
<path d="M1431.7,707.1l0.6-1.9-0.6-0.3 3.7-0.8 2.4,2.2 5.3,0 4.4-2.2 3.3-0.3 3.3,2.2 4.4,1.1 6.6-1.6 4.4,1 0.4,2.7 2.5,1.1-1.4,0.8 0.7,3.8 0.7,2.2-5.3,0.3-0.2-0.3-5.1,1.1-4.4,0-2.9,0-1.1,2.4-0.4-2.4-3.1,0-2.2,1.9-3.5-1.1-3.1-0.8-2,1.9-3.7-1.6-1.5-0.9-0.3-3.7-2.2,0.2 1.4-2.7-1.6-0.5 0.2-1.7 2.9-0.8 3.3-0.2 0.2-1.4-3.5,0.3z" fill="#FED976"/>
<path d="M1461.8,700.3l3.3,5.2 4.4,1 3.3-0.5 3.1-1.6-5.3-1.9-1.1-0.6z" fill="#FED976" stroke-width="3.5"/>
<path d="M1469.5,706.5l3.3-0.5 1.1,1.9 2.2,3 0,1.6-1.1-1.1-2.6-1.1-2.5-1.1z" fill="#FED976" stroke-width="3.5"/>
<path d="M1472.8,706l3.1-1.6 0.6,0.2 4-0.2 2.2,3.5 1.7,0.5-2.1,3-0.9,2.5-2-1.1 0-2.2-3.3,1.9 0-1.6-2.2-3z" fill="#FD8D3C" stroke-width="3.5"/>
<path d="M1453.4,720.6l1.1-2.4 2.9,0 4.4,0 5.1-1.1-2.9,7.6-4.8,2.7-4.4,3-2.5-1.1 0.3-1.6 1.7-2.5-0.6-1.1-0.9-0.1 0-2.3z" fill="#FFFFCC"/>
<path d="M1451,728.2l1.8-4.2 0.9,0.1 0.6,1.1-1.7,2.5z" fill="#FFFFCC" stroke-width="4"/>
<path d="M1449,733.1l1.6,4.8 1.1-4.6 0.2-0.8 0-2.4 0.4-0.8 0.3-1.6-1.6,0.5-0.9,3z" fill="#ABD9E9" stroke-width="4"/>
<path d="M1450.6,737.9l2.4,0.9 3.3-2.2-1.1-4.1 4.4-1.3 0.4-0.6-0.8-3.2-4.4,3-2.5-1.1-0.4,0.8 0,2.4-0.2,0.8z" fill="#FED976"/>
<path d="M1466.9,717.1l0.2,0.3 5.3-0.3 1.5,3.2 1.5,2.2-1.7,3.3 1.7,2.1 3.6,3.8-0.3,2.2 2,3-1.3-0.3-0.7-0.3-2.6,2.7-4-0.2-5.9-5.2-3.5-2.2-2.7-0.8-0.8-3.2 4.8-2.7z" fill="#FFFFCC"/>
<path d="M1476.1,739l2.6-2.7 0.7,0.3 0.9,4.1-2,0z" fill="#FFFFCC" stroke-width="4"/>
<path d="M1450.6,737.9l2.4,0.9 3.3-2.2-1.1-4.1 4.4-1.3 0.4-0.6 2.7,0.8 3.5,2.2 5.9,5.2 4,0.2 2.2,1.7 2,0 1.3,2.7 2.6,2.1-0.2,3.3 1.5,2.1 0.9,0.3 0.9,1.1 2.2,3.5 5.7,0.6 0.9,1.8-1.3,5.5-6.6,2.7-6.6,1-4.4,4.4-1.3-0.6-2.7-0.5-3.9-0.3-0.5,2.2-0.8,0.8-0.7-1.6-3.3-5.4-4-6.8-1.5-5.4-2.9-4.1-2.6-5.4-2.2-3-0.9,0z" fill="#FED976"/>
<path d="M1468,773.4l0.8-0.8 0.5-2.2 3.9,0.3 2.7,0.5 1.3,0.6 4.4-4.4 6.6-1 2.4,6.5-2,2.7-7,4.3-8.8,3.3-3.3,0.2-0.7-1.6-0.8-4.6z" fill="#FD8D3C"/>
<path d="M1490.6,772.9l-2.4-6.5 6.6-2.7 1.3-5.5-0.9-1.8 1.8-3.8 0.9-2.2 1.3,2.4 3.5,1.1 2.6,3-2.8,5.7-1.6,3.8-3.3,2.9-2.8,2.5z" fill="#FED976"/>
<path d="M1487.3,752.3l2.2,3.5 5.7,0.6 1.8-3.8 0.9-2.2-0.7-3-1.8,1.9-2.2,2.4-3.7,0.6z" fill="#FED976" stroke-width="3.5"/>
<path d="M1485.5,750.9l0-2.4 0.9-1.4 0.9,2.2 0,1.9-0.9,0z" fill="#FFFFCC" stroke-width="4"/>
<path d="M1471,711.1l1.4-0.8 2.6,1.1 1.1,1.1 3.3-1.9 0,2.2 2,1.1 1.3,2.4 2.2,1.3 3.3,1.1 4.4-0.8-0.2-1.1 3.5-1.9 3.7-0.5 4.6,1.9 4.2,2.4 0,2.7-1.5,5.2 0.9,5.9 1.9,0.3-1.9,4.3 1.7,3 2.4,1.4 1.1,2.9-0.2,1.1-3.1,1.4-0.4,2.7-5.7-0.6-3.8-0.8-1.1-3.8-5,1.4-3.3-1.1-3.3-2.2-1.6-3.2-1.7-3.3-2.2-0.5-0.9,1.4-2-3 0.3-2.2-3.6-3.8-1.7-2.1 1.7-3.3-1.5-2.2-1.5-3.2-0.7-2.2z" fill="#FFFFCC"/>
<path d="M1492.4,716.8l-0.9-5.9-1.3-1.4-0.3-3.2-0.6-1.7 2.2-1 2.6,0.5 1.8,1.9 1.1,0 2.2,0 0.2-2.7 3.1-1.1 3.3,1.4 2.8,2.7 2.5,3.2 4.4,3 4.6,2.4 0,1.7-3.8,0.8-0.6,2.1-3.8,2.5-3.5-0.6 0-2.7-4.2-2.4-4.6-1.9-3.7,0.5z" fill="#FD8D3C"/>
<path d="M1497,706l0-10 5.7-1.6 5.3,3.2 2.2,2.4 6.4-0.5 2.6,1.9-0.2,2.7 4.4,2.7 4.8-2.7 1.8-0.8 0.4,0.3 4,3.8-2.9,1.6-2.6-0.3-2.7-1.3-1.3,3.5-2.8,0.5 0.8,5.7-2.8-0.5 0-1.7-4.6-2.4-4.4-3-2.5-3.2-2.8-2.7-3.3-1.4-3.1,1.1-0.2,2.7z" fill="#FED976"/>
<path d="M1565.8,684.9l-3.3,1.9-0.6,3.5-5.5-0.3-1.6,4.6 0.7,0.8-5.7,0.6 0.4,7.8-2.6-1.9-7.3-0.2-3.7-0.8-1.1,2.1-5.1-0.8-0.4,1.1-1.8,0.8-4.8,2.7-4.4-2.7 0.2-2.7-2.6-1.9-6.4,0.5-2.2-2.4-5.3-3.2-5.7,1.6 0,10-1.1,0-1.8-1.9-2.6-0.5-2.2,1 0-2.7-3.3-4.6-1.6-0.2 2-1.9 4,0 0-4.4-4-0.5-4.8,1.9-3.5-3.8-1.3-3 3.5-2.4 0.6-2.2 4.6-3 3.3,0 7.5,3 6.4-1.1 6.2,0.6 0.2-1.4-3.3-1.3 2.2-3.3 1.1-2.4 8.1-1.4 8.4-2.7 4.4,0.3 0,3 6.1,0.3-0.8,1.6 6.8-1.9 3.1,2.4 4.6,6.8 6.6-0.6 4.8,3.8z" fill="#FFFFCC"/>
<path d="M1530,703.3l0.4-1.1 5.1,0.8 1.1-2.1 3.7,0.8 7.3,0.2 2.6,1.9-3.7,1.9-3.8,1.4-2.2,1.3-2.2-0.2-2.2,1.9-0.2,1-3.7,0-2.9-0.5-0.4-1.9 2.6,0.3 2.9-1.6-4-3.8z" fill="#FED976"/>
<path d="M1522.9,717.1l-0.8-5.7 2.8-0.5 1.3-3.5 2.7,1.3 0.4,1.9 2.9,0.5 3.7,0 0.2,2.5 2.5,0 0.2,3-0.2,0.5-3.6-0.5-3.5,1.9-0.4-3.6-2.9,0.3-2,2.2z" fill="#FD8D3C"/>
<path d="M1506.9,726.6l0.9,5.9 1.9,0.3-1.9,4.3 3.5,1.1 3.7-0.3 4.6-1 0.3-2.7 3.5-2.2 2.8-0.6 0.5-2.9 1.7-0.8-0.6-1.9 2.4-0.3 1.1-3-0.7-2.7 2.7-1.6 4.6-0.6 0.7-0.5-3.6-0.5-3.5,1.9-0.4-3.6-2.9,0.3-2,2.2-3.3-0.3-2.8-0.5-3.8,0.8-0.6,2.1-3.8,2.5-3.5-0.6z" fill="#E31A1C"/>
<path d="M1509.3,749.6l0.4-2.7 3.1-1.4 0.2-1.1-1.1-2.9-2.4-1.4-1.7-3 3.5,1.1 3.7-0.3 4.6-1 0.3-2.7 3.5-2.2 2.8-0.6 0.5-2.9 1.7-0.8-0.6-1.9 2.4-0.3 1.1-3-0.7-2.7 2.7-1.6 4.6-0.6 2.6,0.9 2.2,2.9 2.2,0.3-1.7,1.6-6.6,0.6-0.5,4.3 1.8,1.1 1.5,1.1-1.7,3.2-1.3,3-2.2,3-2.2,2.7-3.3-0.3-2,2.7 1.5,3.3 1.6,3.7-4.7,0.3-1.3,1.6-1.7-1-1.6-1.9-0.4-1.9-4.4,0.8z" fill="#FD8D3C"/>
<path d="M1523.8,753.6l1.3-1.6 4.7-0.3-1.6-3.7-1.5-3.3 2-2.7 3.3,0.3 2.2-2.7 2.2-3 1.3-3 1.7-3.2-1.5-1.1-1.8-1.1 0.5-4.3 6.6-0.6 1.7-1.6 2.5,3-0.5,4.9 1.1,0.2-1.1,3.5 5.1,2.7-2,3.8 4,2.5 3,1.3 3.1,0.6 2.4,1.6 5.1,0.5 0-4 1.5-0.6 0.3,2.2 0,1.1 1.9,0.5 4.9-0.5-0.7-2.5 0.9,0.9 3.1-3.3 4.4-1.1 3.9,2.2-0.6,1.6 0.2,1.6-2-0.5-2.2,1.9-1.3,3.8 0.2,1.3-1.1,2.2-1.7-0.3-0.3,3-0.4,1.9-1.1,0.6-0.7-4.7-2.4,0.6 0.5-1.6 1.9-2.2 0.3-0.3-5.3-0.8-0.5-1.9-3-1.3-0.7,1.9 1.8,1.6-1.8,1.9 1.3,0.8-0.2,2.7 0.9,3 0.2,0.8-2,0.3-2.6,0.8-0.2,1.6-1.1,2.2-3.1,1.9-2,2.7-4,4.6-2.2,0.8-2.2,1.6-0.4,5.7 0.4,1.3-1.1,3.8 0.3,3.8-1.4,0-0.8,2.7-1.6,1.1-1.5,2.2-2.2-2.5-0.7-2.7-1.1-3.8-2-4-0.8-4.4-2-4-1.1-5.4-0.5-2.7-0.2-3.3-0.2-3.5-0.2-1.1-0.9,1.9-2.4,1.4-2.2-0.8-2.2-3.6 1.5-0.5 1.3-1.4-2.4,0.3-1.5-1.1z" fill="#FD8D3C"/>
<path d="M1550,739.8l2-3.8 2.6,0.3 3.8,2.2 2.8,1.9 1.8,1.6 4.6,0.3 0,4-5.1-0.5-2.4-1.6-3.1-0.6-3-1.3z" fill="#E31A1C"/>
<path d="M1569.4,743.9l1.9-2.4 4,1 0.9,2.5-4.9,0.5-1.9-0.5z" fill="#FD8D3C" stroke-width="3.5"/>
<path d="M1569.8,758.8l-0.2-0.8-0.9-3 0.2-2.7-1.3-0.8 1.8-1.9-1.8-1.6 0.7-1.9 3,1.3 0.5,1.9 5.3,0.8-0.3,0.3-1.9,2.2-0.5,1.6 2.4-0.6 0.7,4.7-0.7,3.5-1.1-4.4-2.8,0.8z" fill="#FD8D3C" stroke-width="3.5"/>
<path d="M1549.8,791.3l2.6,3.5 1.3,2.7-0.4,3-2.2,1.3-1.5-2.7-0.3-3.8z" fill="#FFFFCC" stroke-width="4"/>
<path d="M1576.8,761.8l0.7-3.5 1.1-0.6 0.4-1.9 0.3-3 1.7,0.3 1.1-2.2-0.2-1.3 1.3-3.8 2.2-1.9 2,0.5-0.2-1.6 0.6-1.6 2.2,1.9 0.9,0.3 0,4.3-2.4,4 0.4,1.4 2.5,1.9 1.3,0.8-0.7,2.2 2.2,1.6 2.1-0.3-2.3,3.3-2.4,1.6-2.2,0.3-1.3,3.2 0.8,2.5 1.6,2.9-0.7,3.8 2.2,3.8-0.2,5.4-0.7,3.5-0.4,1.1-0.2-4.8 0.2-3.3-1.8-4.9-0.2-4.6-2-1-3,2.9-2.5-0.5 0.7-4.1-0.9-3.5-1.5-2.7z" fill="#E31A1C"/>
<path d="M1594,762.6l0.9,0.5 1.5,1.9 0.2,4.1-0.6,1.3 2.4-1.9 2.4-0.2 1.8,0 1.5,2.1 0.2,3 1.8,2.2-0.2,3.2-1.6,0-3.9,0.3-1.3,1.9 1.1,5.1-1.6-1.6-2.6-1.1-0.2-2.1-2,0.2-0.2,3.8-1.6,4.3 0.2,3.3 1.6,1.9 0.9,3.5 2.4,0.8 1.3,1.9-2.2,1.4-2.2-2.2-1.1-1.9-2.9-2.2 0-2.7 0.7-2.7 0.4-1.1 0.7-3.5 0.2-5.4-2.2-3.8 0.7-3.8-1.6-2.9-0.8-2.5 1.3-3.2 2.2-0.3z" fill="#FFFFCC"/>
<path d="M1594,762.6l2.3-3.3 1.2-2.4 1.1,0.3 1.6,1.9 2.4,3.5 0.9,2.1 1.7,2.5 2.9,4.6 2.2,5.1 0,1.1-3.3,0.8-1.1,0 0.2-3.2-1.8-2.2-0.2-3-1.5-2.1-1.8,0-2.4,0.2-2.4,1.9 0.6-1.3-0.2-4.1-1.5-1.9z" fill="#800026"/>
<path d="M1598.6,757.2l2.9-0.6 3.9-1.9 3.1,1.4 2.9,3.5-2.9,2.2-2.2,4.6 1.8,3.5 3.9,4.6 2,6.8 0,4.6-4.4,3.7-1.1,2.5-4.2,2.4 0.5-3.8-1.1-1.1 2.2-1.6 1.5,0 2.9-4 0-6 0-1.1-2.2-5.1-2.9-4.6-1.7-2.5-0.9-2.1-2.4-3.5z" fill="#FED976"/>
<path d="M1600.2,786.1l-1.1-5.1 1.3-1.9 3.9-0.3 1.6,0 1.1,0 3.3-0.8 0,6-2.9,4-1.5,0-2.2,1.6-2.2-0.5z" fill="#800026"/>
<path d="M1594,800.2l2.2,2.2 2.2-1.4 2.9,3.8 0,3.5 1.7,5.7-1.5,0.3-4.6-4.1-1.8-3.8-0.7-3.5zM1614.9,812.9l4-1.6 3.5-2.2 2.2-3.8 3.3-1 2.8-5.2 2,1.4 3.3,3.2-2.6,2.5-0.9,0.2-4-0.2-1.7,3.5 0,1.3-2.2,3-4,0-2.6,1.1z" fill="#FED976" stroke-width="4"/>
<path d="M1583.4,802.6l4.9,1.1 1.1,2.7 4.4,3.8 3.3,2.2 3.3,3.5 1.7,3.3 1.6,3.5 3.3,3.2-0.2,7.6-1.6,0.3-2-1.7-4.4-3.5-2.8-4-1.6-4.4-2.8-3.8-0.7-3.2-3.3-4.1zM1605.2,836.2l1.8-2.4 5.5,2.1 4.4,0.6 1.1-1.4 3.7,1.4 4,2.1-0.2,2.8-7.5-1.1-5.5-1.4-4.6-1.1zM1614.9,812.9l3.1,2.2 2.6-1.1 4,0 2.2-3 0-1.3 1.7-3.5 4,0.2 0.4,4.9 2.7,3.8-3.1,0.5-0.2,3.8-2.7,2.7 0.5,1.9-1.1,3.8-2.9,1.1-2.6-1.9-4,0-3.3-1.3 0-3.3-2.4-2.4-0.2-3zM1636.7,832.7l0.4-5.4-1.7-2.5 1.9-6.7 2.2-3.8 4.9,0.8 4.8-1.6-1.5,3.2-7.7-0.3-2,3.8 3.1,0 4.2,0-3.8,2.7 2.4,5.5-0.6,3.5-2-1.1-1.5-5.7-1.1,2.2 0,5.4zM1662,820l6.6,0 2.2,6.7 5.5-4.6 7.7,2.7 0,17.6-6.6-2.1-0.5-7.9-6.1-2.7-4.4-1.1-0.5-3.2-3.3-4.1zM1626.8,840l4.4,0.3 4.4,0 4.4,0.2 4.4-0.5 0,1.6-6.6,0.3-6.6,0.3-3.3-0.6zM1645.7,845.7l3.1-3-1.8,0.5zM1654.3,820l1.1-7.1 1.7,4.1-1.7,3.2zM1651,826.5l4.4-0.8 6.1,1-5,0.8z" fill="#FED976" stroke-width="4"/>
<path d="M1648.8,842.7l4.4-2.2-1.1,1.7z" fill="#FFFFFF" stroke-width="4"/>
<path d="M1624.6,805.3l2.6-1-0.4,2.1z" fill="#FED976" stroke-width="4"/>
<path d="M1684,824.8l7.7,3.3 3.3,4.6 3.9,2.2-1.3,1.8 2.9,5.5 5,4-3.9-0.5-4.4-2.2-2.2-4-4.4-0.9-2.2,4.1-4.4-0.3zM1700.5,833l4.4-0.3 3.7-3.5-1.5,3.5-3.3,2.2zM1705.5,824.8l3.8,2.5 1.1,3zM1713.9,832.7l2.8,3.5-1.5-1.3z" fill="#FD8D3C" stroke-width="3.6"/>
<path d="M1638.9,767.7l3.7,0.3 0,5.1-1.5,4.1 1.1,2.7 4.4,2.7-0.5,0.6-2.8-2.8-3.3,0.3-1.6-3-0.6-3.8zM1642.2,798.9l3.3-4.4 4.4-3.2 2.2,6.2-2.2,4.6-3.3-2.7zM1647.2,784l2.7,1.3 0,2.7-1.6,2.2-0.6-3zM1642.2,785.9l2.6,1.3 0.2,4.9-1.7-0.8-0.2-1.9zM1631.8,795.1l4.9-7.9-1.1,3.5z" fill="#FFFFFF" stroke-width="4"/>
<path d="M1638,755.5l2-5.4 2,0-1.1,5.4-1.4,2.7z" fill="#FFFFFF" stroke-width="4"/>
<path d="M1661.8,725.8l2.4-2.5 2.2-1.9 6.6-0.2 1.7-4.1 1.1,1.1 2.7-1.6 2.2-3 1.1-4.1 0.6-3.2 2.5-0.6 1.3,5.2-2.2,3.5-0.2,3.5-0.3,3.3-2.2,1.9-2.2,0.8-3.9,0.2-0.5,0.8-2.2,2.2-1.5-2.2-3.5-0.2-2.9,1.3zM1659.8,727.1l3.7-0.3-0.4,5.7-2.9,0.8-0.9-4zM1665.3,727.1l4.4-1.9-0.7,2.5-2.6,1.3zM1682.4,705.5l-0.6-3.3 2.8-1.6 0.9-5.7 2.9,3 5,0 0.5,2.7-4.9,3.5-3.9-1.3-1.1,1.8z" fill="#FFFFCC" stroke-width="4.5"/>
<path d="M1647.5,709.5l3.5-2.7 2-2.2 2.8,1.1 3.3-2.7 2-0.2 0.2,0.5-2.2,2.4 0,1.7-4.8,2.9-0.2,1.4 2.2,1.6-3.1,1.1-2,1.3-2.4-0.5 0.6-2.2-0.4-2.4z" fill="#FED976" stroke-width="3.5"/>
<path d="M1656.3,713.3l2.2,4.1 0,4.3-1.8,1.6-2.4,0.3-2.7,0.8 0.5-3 0-2.9 0.9-1.1-1.8-1.7 2-1.3z" fill="#FFFFCC" stroke-width="3.5"/>
<path d="M1566.9,684.6l9.3-4 6.6,1.9 7.2-1.4-1.1-1.4 2.5-2.9 6.8,1.9 0.6,2.1 6,0.6 7.7,2.9 7.7-0.2 6.6-2.2 3.7,1.1-1.5,2.4-1.1,2.7 4.2,0.6 2.4-0.6 2.8,3.3-5.2,0.8-3.1,1.9-5.3,2.4-3.7-0.5-1.1,1.6 1.1,1.9-5.3,3.3-9.9,2.4-8.8-2.7-8.8-0.6-3.3-4-4.4-1.9-5.7-0.8-0.5-4.6-5.9-4.4z" fill="#FD8D3C"/>
<path d="M1565.8,684.9l1.1-0.3 0.5,1.6 5.9,4.4 0.5,4.6 5.7,0.8 4.4,1.9 3.3,4 8.8,0.6 8.8,2.7 9.9-2.4 5.3-3.3-1.1-1.9 1.1-1.6 3.7,0.5 5.3-2.4 3.1-1.9 5.2-0.8-2.8-3.3-2.4,0.6-4.2-0.6 1.1-2.7 1.5-2.4 2.4,0.5 3.3-1.9 1.6-6.5 2-1.6 5.7-0.5 5.5,2.1 3.3,7.9 7,2.4 0.7,3.3 8.3-1.9-0.6,1.9-3.3,7-4.4,0.6 0.4,3.7-1.3,2.2 0,0.6-2,0.2-3.3,2.7-2.8-1.1-2,2.2-3.5,2.7-3.1,0.8-4,2.5 1.8-4.6-2.2-1.1-3.3,3-3.3,1.6-0.7,1.9 2.7,2.7 3.9-0.8 4,1.3-3.3,1.9-3.8,4.1 2.2,2.1 1.4,4.4 2.2,2.7 0.2,2.2-2.2,0.8 2.2,1.9-1.1,4.3-3.3,4.6-2.2,3.8-2.9,3.2-2.6,2.7-5.1,1.9-1.5,0.3-3.8,1.6-3,1.1-0.3,2.4-0.8,0-0.5-3.2-3.7,0-2.9-3.5-3.1-1.4-3.9,1.9-2.9,0.6-1.1-0.3-1.2,2.4-2.1,0.3-2.2-1.6 0.7-2.2-1.3-0.8-2.5-1.9-0.4-1.4 2.4-4 0-4.3-0.9-0.3-2.2-1.9-3.9-2.2-4.4,1.1-3.1,3.3-0.9-0.9-0.2,0-4-1-1.9,2.4-0.3-2.2-1.5,0.6-4.6-0.3-1.8-1.6-2.8-1.9-3.8-2.2-2.6-0.3-5.1-2.7 1.1-3.5-1.1-0.2 0.5-4.9-2.5-3-2.2-0.3-2.2-2.9-2.6-0.9 0.7-0.5 0.2-0.5-0.2-3-2.5,0-0.2-2.5 0.2-1 2.2-1.9 2.2,0.2 2.2-1.3 3.8-1.4 3.7-1.9-0.4-7.8 5.7-0.6-0.7-0.8 1.6-4.6 5.5,0.3 0.6-3.5zM1612.9,765.8l2.9-2.4 2.2,1.3-2.2,3.3-2.4,0z" fill="#FED976"/>
<path d="M1625,876.8l5.7-3.2 4.9-1.7 5.5-2.1 1.7-5.4 2.9,0.5 2-3.8 3.3-5.4 3.9,1.4 0.9,1.3 3.1-0.3 2-6.5 4.4-3.2 5.5,2.4 4.2,0-2.2,4.1-0.9,3.2 3.3,2.5 5,4.6 3.3,0 1.6-6.8 0.4-6 1.8-5.6 2.2,5.6 0.6,4.4 3.3,1.6 1.6,6.8 0.6,3.8 4.9,2.9 2.2,6.3 2.8,2.4 4.9,5.4 1.1,8.1-1.1,7.6-3.8,7.6-2.4,6-0.4,4-5.5,1.4-2.4,2.9-3.8-2.1-2.6,1.3-5.5-1.9-2.9-2.9-0.4-3.3-2.9-0.5 0.7-2.5-1.6-4.6-0.8,5.2-3.1,0-1.8-2.5-2.2-3.5-6.6-3.2-4.8,0.2-6.6,1.9-4.4,1.9-1.1,2.5-7.7,0-4.4,2.9-4.4-0.2-2.2-1.6 1.5-6.3-1.5-5.4-1.8-6.8-2-4 1.6,0.8-1.1-4.9 0.6-4.9zM1692.1,928l7.9,0.5-0.6,6.2-3.3,1.1-2.7-3z" fill="#ABD9E9"/>
<path d="M1753.7,910.9l3.5,2.5 2.7,3.2 1.1,3 5,0.3-2.4,4.3-0.9,3-3.3,3.2-1.1-1.9 0.5-2.4-2.7-1.9 2-3 0.2-3.2-1.1-1.9-2.8-3.6zM1753.7,927.4l3.5,3.3-2.8,4.3 0.2,1.4-4.2,1.9-1.1,3.8-3.7,1.8-3.3-1-2.2-1.1 3.3-4.4 5.5-3.5 2.2-3.2z" fill="#FFFFCC" stroke-width="3.6"/>
<path d="M1734.6,872.2l5.5,4.6 1.1,1.6-3.3-1.6z" fill="#FFFFFF" stroke-width="4"/>
<path d="M1718.1,835.9l3.3,2.5 4.4,3.8 3.9,3.5-3.9-1.9-5.5-4.9z" fill="#FFFFFF" stroke-width="4"/>
<path d="M1740.3,857.9l1.5,2.7 2.2,5.1-1.7-3.8z" fill="#FFFFFF" stroke-width="4"/>
<path d="M1763.8,865.2l2.9,0-0.5,1.9-2.2-0.3z" fill="#FFFFFF" stroke-width="4"/>
<path d="M1175.6,780.4l1.5-1.6 2,1.1 1.6,1.6 0,0.6-2.7-0.3z" fill="#800026" stroke-width="2"/>
</g>
<path d="M1182.4,645.1l2.2-5.7 6.6-0.8 6.6,4.6-1.1,3.2-7.7,1.1z" fill="#FFFFCC" stroke="#606060" stroke-width="4.5" stroke-linejoin="round"/>
<path d="M1243.4,688.7l3.9-8.4 4.4-2.2-0.4,4.4 4.8,1.8 1.8,4.9-1.8,2.2-4.4-0.6-1.1-1.9zM1102.1,686.8l-3.3-1.1-7.2-5.1 2.8-0.3 4,2.2 3.1,2.7zM1081.2,671.6l2.7,0.3 1.7,4.3-3.3-1.9zM1232.1,682.7l5.3,1.4-3.3,0.2zM1232.6,691.1l4.8,0.8-1.7,1.4z" fill="#FFFFCC" stroke="#606060" stroke-width="4.5" stroke-linejoin="round"/>
<path d="M1487.1,623.7l7.7-4.3 2.2-2.5 8.8-4.8 11-2.5 7.7,0.8-9.9,3.3-12.1,5.1-2.2,6.8-8.8,0.5zM1578.4,603.4l8.8-4.3 13.2,1.6 8.8,4.3-11,2.2-11-1.1zM1675.2,614l8.8-2.2 11,1.4 11,1-6.6,1.7-11,3.2-8.8-2.2zM1766.5,625.1l3.3-0.9 0,1.7zM1475,600.4l8.8-1.6 15.4-1.1 15.4,0.8-4.4,1.9-15.4,0.8z" fill="#FFFFCC" stroke="#606060" stroke-width="5.5" stroke-linejoin="round"/>
<path d="M1097.4,617.2l6.3-2.5 11.2,1.3 2.5,5-6.2,3.8-11.3-1.3z" fill="#606060" stroke="#606060" stroke-width="2" stroke-linejoin="round"/>
<path d="M1101.2,618.2l9.4-0.6 1.6,2.8-7.3,1.6z" fill="#FFFFCC"/>
<path d="M1116.2,619.8l7.5-2.6 11.3,0 12.5,1.3 2.5,6.3-2.5,6.2-10,2.5-11.3-1.2-7.5-3.8z" fill="#606060" stroke="#606060" stroke-width="2" stroke-linejoin="round"/>
<path d="M1121.4,622l11.1-1.2 12.2,1.2 0.7,5.6-9.2,2.5-11.2-1.2z" fill="#FFFFCC"/>
<path d="M1102.4,609.7l7.5-3.1 13.8-2.5 8.8-0.6 3.7,5-3.7,5-12.6,0.6-12.5,0z" fill="#606060" stroke="#606060" stroke-width="2" stroke-linejoin="round"/>
<path d="M1137.5,603.5l10-3.1 10-3.2 12.5-3.1 15-1.9 16.3-1.2 18.8,0.6 16.2,1.9-8.7,6.2-12.5,5-10,3.8-3.8,7.5 7.5,5 11.3,2.5 10,6.3 8.7,6.2-2.5,8.8-5,5-1.2,7.5-6.3,2.5-6.2-5-2.5-7.5-7.5-1.3-5-7.5-7.6-3.7-6.2-5-8.8,2.5-10-2.5-7.5,2.5-10-3.8-2.5-7.5-7.5-5-3.8-6.3z" fill="#606060" stroke="#606060" stroke-width="2" stroke-linejoin="round"/>
<path d="M1195.7,602.5l6.9-5.9 16.8-2.8-4.3,4.7-12.5,5.6z" fill="#FFFFCC"/>
<path d="M1191.5,621.3l14.6-1.3 1.2,5.8-12.3,1.2z" fill="#FFFFCC"/>
<path d="M1209.1,628.8l11,1.2 11,6.3 1,8.2-8.3,1.3-8.7-6z" fill="#FFFFCC"/>
<path d="M1195.7,632.9l6.6-0.6 0.5,9.7-5.3,0z" fill="#FFFFFF"/>
<path d="M1145.4,616.9l6.8,0.6-0.6,4.5-5.1-0.6z" fill="#FFFFFF"/>
<path d="M1208.2,647.9l15.6,1.9 0.7,5-6.3-1.3z" fill="#FFFFFF"/>
<path d="M1170,621l5.6,0.6-0.6,2.2-4.4-0.5z" fill="#FFFFFF"/>
<path d="M1152.5,601.6l5-0.6-0.3,2.5-4.1,0.2z" fill="#FFFFFF"/>
<path d="M1011.3,670.3l-7.1,2.9-8.8,2.8-8.8,1.6-7.7,1.1" fill="none" stroke="#606060" stroke-width="3" stroke-linecap="round" stroke-linejoin="round"/>
<path d="M1070.2,658.1l5.5,3.2 4.4,6.3 4.4,4 4.4,4.1 3.3,4" fill="none" stroke="#606060" stroke-width="7" stroke-linecap="round" stroke-linejoin="round"/>
<path d="M1092.2,679.7l4.4,3.8 3.8,2.7" fill="none" stroke="#606060" stroke-width="4" stroke-linecap="round" stroke-linejoin="round"/>
<path d="M1222,603.4l11,7 12.1,4.4 5.5,5.4 5.5,8.1 3.3,10.8 4,8.2 8.1,6.5" fill="none" stroke="#606060" stroke-width="7.5" stroke-linecap="round" stroke-linejoin="round"/>
<path d="M1329.8,609.4l-2.2,8.1-4.4,5.4-2.2,4.1-6.6,4-11,3.5-11,5.2-8.8,4.9-4.4,6.7" fill="none" stroke="#606060" stroke-width="4.5" stroke-linecap="round" stroke-linejoin="round"/>
<path d="M1324.3,614.8l-3.3,5.9-3.3,5.4" fill="none" stroke="#606060" stroke-width="10" stroke-linecap="round" stroke-linejoin="round"/>
<path d="M1228.6,598.5l17.6-2.7 28.6-1.6 26.4-1.6 24.2,3.2 17.6,1.4" fill="none" stroke="#606060" stroke-width="5" stroke-linecap="round" stroke-linejoin="round"/>
<path d="M1186.2,789.1l2.8,2.2 2.7,2.7 3.9,1.6 2.7-2.4 3.9,1.6" fill="none" stroke="#606060" stroke-width="5.5" stroke-linecap="round" stroke-linejoin="round"/>
<path d="M1187.9,758.2l3.3-1.8 5.5-0.3 5.5,3.2 4.4,2.7 2.7,1.1" fill="none" stroke="#606060" stroke-width="6" stroke-linecap="round" stroke-linejoin="round"/>
<path d="M1210.6,767.7l3.7-1.1 5.5,0 3.1,0.8" fill="none" stroke="#606060" stroke-width="5" stroke-linecap="round" stroke-linejoin="round"/>
<path d="M1226,768.5l3.3,0" fill="none" stroke="#606060" stroke-width="4" stroke-linecap="round" stroke-linejoin="round"/>
<path d="M1063.6,629.4l8.8,1.6 5.5-1.6 12.1-1.1 8.8,1.6 11,0 11,2.2 11,2.2 11-1.4 11,1.4 7.7-1.1 2.2-6.2" fill="none" stroke="#606060" stroke-width="5.5" stroke-linecap="round" stroke-linejoin="round"/>
<path d="M1219.8,690.6l7.7-5.4 4.4,1-1.1,4.9 4.4,2.7 4.4,0.8 1.8-2.7" fill="none" stroke="#606060" stroke-width="4.5" stroke-linecap="round" stroke-linejoin="round"/>
<path d="M1228.6,699.2l4.4-2.1 5.5-1.9" fill="none" stroke="#606060" stroke-width="4" stroke-linecap="round" stroke-linejoin="round"/>
<path d="M1231.9,654.6l5.5,6.2 4.4,6.8 5.5,4 3.3,4.9" fill="none" stroke="#606060" stroke-width="4.5" stroke-linecap="round" stroke-linejoin="round"/>
<path d="M1202.2,649.2l8.8,0.2 8.8,3.3 2.2,5.4 5.5,0" fill="none" stroke="#606060" stroke-width="4" stroke-linecap="round" stroke-linejoin="round"/>
<path d="M1118,732.5l3.7,6.8 4.4,6 3.5,5.9 2.2,3.5" fill="none" stroke="#606060" stroke-width="4.5" stroke-linecap="round" stroke-linejoin="round"/>
<path d="M1101,693.3l-0.6,10.8 3.9,11.4 4.2,8.6 7.3,4.9" fill="none" stroke="#606060" stroke-width="4" stroke-linecap="round" stroke-linejoin="round"/>
<path d="M1226.4,696.5l-7.7,4.9 0.5,3.2-8.2,3.6-3.3,8.1-1.1,6.8-6.6,4.6-4.4,4.8 1.6,10.9" fill="none" stroke="#606060" stroke-width="4" stroke-linecap="round" stroke-linejoin="round"/>
<path d="M1386.6,658.1l-1.1-6.8 3.7-4 7.7-4.4 5.5-5.1 5.5-5.4" fill="none" stroke="#606060" stroke-width="8" stroke-linecap="round" stroke-linejoin="round"/>
<path d="M1407.9,632.4l7.7-3.5 11-2.5 8.8,0 5.1,1.9" fill="none" stroke="#606060" stroke-width="5.5" stroke-linecap="round" stroke-linejoin="round"/>
<path d="M1393.2,668.4l1.3-4.4 2.4-1.9" fill="none" stroke="#606060" stroke-width="6" stroke-linecap="round" stroke-linejoin="round"/>
<path d="M1396.5,667.8l4.4-0.5" fill="none" stroke="#606060" stroke-width="6" stroke-linecap="round" stroke-linejoin="round"/>
<path d="M1718.5,679.7l-3.7,2.8-6.6,6.7-6.6,4.6-5.5,4.1-2,1.9" fill="none" stroke="#606060" stroke-width="3" stroke-linecap="round" stroke-linejoin="round"/>
<path d="M1577.9,781.3l-0.2,5.4 0.7,6.7 1.7,5.5" fill="none" stroke="#606060" stroke-width="3.5" stroke-linecap="round" stroke-linejoin="round"/>
<path d="M1520.7,626.1l3.8-5.9 8.8,0.8 0.6,10 2.7,4.1" fill="none" stroke="#606060" stroke-width="4" stroke-linecap="round" stroke-linejoin="round"/>
<path d="M1538.8,621.5l6.6,0.9 5.5-3.6 3.3,5.4 2.2,4.1" fill="none" stroke="#606060" stroke-width="4" stroke-linecap="round" stroke-linejoin="round"/>
<path d="M1565.2,616.1l17.6-4.3 11-1.1 9.4-3.2 6,2.4 11,0.8 3.3,2.7-7.7,3.3 6.6,1.3 13.2,1.9 11-1.6 8.8,1.1 3.3,6.2 7.7-1.4 11,0 4.4-2.7 13.2,0.6 13.2,3.8 15.4,3" fill="none" stroke="#606060" stroke-width="4.5" stroke-linecap="round" stroke-linejoin="round"/>
<path d="M1446.4,629.9l6.6,0.6 11.4,6.5-7,1.9-7.7-1.4" fill="none" stroke="#606060" stroke-width="4" stroke-linecap="round" stroke-linejoin="round"/>
<path d="M1470.6,639.1l0-6.7 5.5,1.9 14.3-1.4 8.8-0.8 7.7-3.2 8.8,1.3 5.5,0.8" fill="none" stroke="#606060" stroke-width="4" stroke-linecap="round" stroke-linejoin="round"/>
<path d="M1212.1,959.9l-3.7-6.7-0.2-8.2 2.8-5.4 0.9-6.8" fill="none" stroke="#606060" stroke-width="6" stroke-linecap="round" stroke-linejoin="round"/>
<path d="M1223.1,961.3l-3.3,4-5.5-2.7-3.3-4" fill="none" stroke="#606060" stroke-width="6.5" stroke-linecap="round" stroke-linejoin="round"/>
<path d="M1229.7,966.1l-6.6,0.6-4.4,0.8" fill="none" stroke="#606060" stroke-width="5" stroke-linecap="round" stroke-linejoin="round"/>
<path d="M1200.5,745.8l2.8,4.3 3.3,3.3 3.3,3.5 3.3,3.5" fill="none" stroke="#606060" stroke-width="5" stroke-linecap="round" stroke-linejoin="round"/>
<path d="M1230.8,768.3l4.4,0.8 2.7,2.7 1.1,4 0.6,2.7 0,3.6-1.3,2.9 0.9,4.1" fill="none" stroke="#606060" stroke-width="4" stroke-linecap="round" stroke-linejoin="round"/>
<path d="M1019.7,758.5l5-0.6 5,3.1 2.5,4.4" fill="none" stroke="#606060" stroke-width="4" stroke-linecap="round" stroke-linejoin="round"/>
<path d="M1064.1,839.8l3.8,5.7" fill="none" stroke="#606060" stroke-width="3" stroke-linecap="round" stroke-linejoin="round"/>
<path d="M993.4,854.2l6.9,2.5" fill="none" stroke="#606060" stroke-width="3" stroke-linecap="round" stroke-linejoin="round"/>
<path d="M994.7,841.7l2.5,1.9" fill="none" stroke="#606060" stroke-width="3" stroke-linecap="round" stroke-linejoin="round"/>
<path d="M977.2,861.7l1.8,5.7 1.3,6.2" fill="none" stroke="#606060" stroke-width="4" stroke-linecap="round" stroke-linejoin="round"/>
<path d="M989.1,868.6l-1.3,7.5" fill="none" stroke="#606060" stroke-width="3" stroke-linecap="round" stroke-linejoin="round"/>
<path d="M1021.6,869.3l5.6,3.1" fill="none" stroke="#606060" stroke-width="3.5" stroke-linecap="round" stroke-linejoin="round"/>
<path d="M1039.7,862.4l5,3.7" fill="none" stroke="#606060" stroke-width="4" stroke-linecap="round" stroke-linejoin="round"/>
<path d="M1692.6,762.2l2.5,8.8-2.5,10" fill="none" stroke="#606060" stroke-width="2.5" stroke-linecap="round" stroke-linejoin="round"/>
<path d="M1747.7,788.5l2.5,11.3" fill="none" stroke="#606060" stroke-width="2.5" stroke-linecap="round" stroke-linejoin="round"/>
<path d="M1742.7,787.3l3.1,7.5" fill="none" stroke="#606060" stroke-width="2.5" stroke-linecap="round" stroke-linejoin="round"/>
<path d="M1753.9,809.8l3.8,7.5 3.7,6.3" fill="none" stroke="#606060" stroke-width="3" stroke-linecap="round" stroke-linejoin="round"/>
<path d="M1741.4,856.1l3.1,8.8 3.2,7.5" fill="none" stroke="#606060" stroke-width="3.5" stroke-linecap="round" stroke-linejoin="round"/>
<path d="M1733.9,871.1l8.8,6.3" fill="none" stroke="#606060" stroke-width="3.5" stroke-linecap="round" stroke-linejoin="round"/>
<path d="M1760.1,675.4l10,1.9" fill="none" stroke="#606060" stroke-width="3" stroke-linecap="round" stroke-linejoin="round"/>
<path d="M1534.7,794.8l0.5,10-0.3,15" fill="none" stroke="#606060" stroke-width="2.5" stroke-linecap="round" stroke-linejoin="round"/>
<path d="M1486.9,784.4l6.8-1.4" fill="none" stroke="#606060" stroke-width="3" stroke-linecap="round" stroke-linejoin="round"/>
<path d="M1239.3,957.5l3.5,1.3 3.6-1.3" fill="none" stroke="#606060" stroke-width="4.5" stroke-linecap="round" stroke-linejoin="round"/>
<path d="M1289.7,964.4l5,2.5" fill="none" stroke="#606060" stroke-width="3.5" stroke-linecap="round" stroke-linejoin="round"/>
<path d="M1313,970l3.1,4.4-2.7,5.4" fill="none" stroke="#606060" stroke-width="3" stroke-linecap="round" stroke-linejoin="round"/>
<path d="M976.9,624.3l6.5-0.4 4.5-0.8" fill="none" stroke="#606060" stroke-width="3.5" stroke-linecap="round" stroke-linejoin="round"/>
<path d="M996.2,643.9l3.2,1.4 3.2,1.6" fill="none" stroke="#606060" stroke-width="3.2" stroke-linecap="round" stroke-linejoin="round"/>
<path d="M979.4,630.7l6,2.5 7,3 7,2" fill="none" stroke="#606060" stroke-width="4.5" stroke-linecap="round" stroke-linejoin="round"/>
<g fill="#606060"><circle cx="1262.5" cy="820.5" r="4.2"/><circle cx="1228.2" cy="785.9" r="1.6"/><circle cx="1233" cy="788" r="1.6"/><circle cx="1203.8" cy="768.8" r="2.2"/><circle cx="1196.7" cy="765" r="1.6"/><circle cx="983.2" cy="741" r="1.3"/><circle cx="990.7" cy="747" r="1.3"/><circle cx="994.9" cy="747.9" r="1.3"/><circle cx="1003.8" cy="750.1" r="1.3"/><circle cx="1011" cy="754.1" r="1.3"/><circle cx="1017" cy="755.1" r="1.3"/><circle cx="1000.3" cy="772.3" r="1.3"/><circle cx="1113" cy="739.1" r="1.6"/><circle cx="1120.8" cy="768.1" r="1.3"/><circle cx="1129.2" cy="765.8" r="1.5"/><circle cx="1174.3" cy="818.6" r="3.6"/><circle cx="1020.3" cy="804.8" r="1.3"/><circle cx="1022.8" cy="806.7" r="1.3"/><circle cx="1027.2" cy="812.9" r="1.8"/><circle cx="1021.6" cy="818.6" r="1.3"/><circle cx="984.7" cy="816.1" r="1.6"/><circle cx="995.9" cy="826.7" r="1.6"/><circle cx="996.6" cy="829.2" r="1.3"/><circle cx="1032.2" cy="828.8" r="1.5"/><circle cx="1030.6" cy="833" r="1.3"/><circle cx="1026" cy="842.3" r="1.3"/><circle cx="1019.1" cy="845.5" r="1.5"/><circle cx="1009.1" cy="848" r="1.6"/><circle cx="1037.9" cy="845.5" r="1.3"/><circle cx="1043.2" cy="844.9" r="1.3"/><circle cx="1039.5" cy="848.6" r="1.3"/><circle cx="985.3" cy="853.6" r="1.3"/><circle cx="981.5" cy="856.4" r="1.3"/><circle cx="987.2" cy="860.1" r="1.3"/><circle cx="999.7" cy="869.6" r="1.5"/><circle cx="1014.5" cy="867.1" r="1.3"/><circle cx="1021.6" cy="874.9" r="1.3"/><circle cx="1026" cy="876.8" r="1.3"/><circle cx="1047.2" cy="861.1" r="1.3"/><circle cx="1051.3" cy="861.7" r="1.3"/><circle cx="1055.1" cy="860.1" r="1.3"/><circle cx="1054.5" cy="871.8" r="1.3"/><circle cx="1036.6" cy="879.6" r="1.3"/><circle cx="1040.4" cy="878.9" r="1.3"/><circle cx="1044.7" cy="881.1" r="1.3"/><circle cx="1048.5" cy="882.6" r="1.3"/><circle cx="1064.1" cy="876.8" r="1.3"/><circle cx="1067.9" cy="878" r="1.3"/><circle cx="1076.3" cy="880.5" r="1.3"/><circle cx="1087" cy="886.2" r="1.3"/><circle cx="1091.1" cy="883.6" r="1.3"/><circle cx="1098.8" cy="884.6" r="1.3"/><circle cx="1056.6" cy="893" r="1.6"/><circle cx="1132.6" cy="891.2" r="1.5"/><circle cx="1141.4" cy="889.7" r="1.5"/><circle cx="1197.4" cy="889.3" r="1.6"/><circle cx="981.5" cy="897.4" r="1.3"/><circle cx="980.3" cy="901.2" r="1.3"/><circle cx="1196.2" cy="909.3" r="1.3"/><circle cx="1199.9" cy="908.7" r="1.3"/><circle cx="1662.6" cy="747.9" r="1.3"/><circle cx="1663.2" cy="751" r="1.3"/><circle cx="1683.8" cy="743.5" r="1.3"/><circle cx="1684.5" cy="749.1" r="1.3"/><circle cx="1740.1" cy="764.8" r="1.3"/><circle cx="1745.2" cy="778.5" r="1.3"/><circle cx="1630" cy="761.6" r="1.3"/><circle cx="1677.6" cy="792.3" r="1.3"/><circle cx="1668.8" cy="797.3" r="1.3"/><circle cx="1664.4" cy="803.5" r="1.3"/><circle cx="1687.6" cy="799.8" r="1.3"/><circle cx="1691.3" cy="797.3" r="1.3"/><circle cx="1695.1" cy="796.7" r="1.3"/><circle cx="1702.6" cy="793.5" r="1.3"/><circle cx="1705.1" cy="797.9" r="1.3"/><circle cx="1707.6" cy="796.7" r="1.3"/><circle cx="1711.4" cy="803.5" r="1.3"/><circle cx="1721.4" cy="799.2" r="1.3"/><circle cx="1732.6" cy="802.9" r="1.3"/><circle cx="1730.1" cy="786.7" r="1.3"/><circle cx="1737.6" cy="786" r="1.3"/><circle cx="1740.1" cy="792.9" r="1.3"/><circle cx="1743.9" cy="797.3" r="1.3"/><circle cx="1741.4" cy="819.2" r="1.3"/><circle cx="1691.3" cy="821.1" r="1.3"/><circle cx="1697.6" cy="823.6" r="1.3"/><circle cx="1702.6" cy="821.7" r="1.3"/><circle cx="1723.9" cy="831.1" r="1.6"/><circle cx="1725.1" cy="848" r="1.6"/><circle cx="1760.2" cy="834.8" r="1.3"/><circle cx="1763.9" cy="837.3" r="1.3"/><circle cx="1767.7" cy="839.8" r="1.3"/><circle cx="1738.9" cy="844.9" r="1.3"/><circle cx="1762.7" cy="851.7" r="1.3"/><circle cx="1725.1" cy="869.9" r="1.3"/><circle cx="1750.2" cy="878" r="1.3"/><circle cx="1742.7" cy="896.8" r="1.3"/><circle cx="1722.6" cy="903" r="1.3"/><circle cx="1605.6" cy="846.1" r="1.5"/><circle cx="1586.8" cy="850.5" r="1.5"/><circle cx="1701.2" cy="609.1" r="1.5"/><circle cx="1709.4" cy="610.6" r="1.5"/><circle cx="1718.1" cy="608.2" r="1.5"/><circle cx="1740" cy="667.9" r="2"/><circle cx="1755.1" cy="674.2" r="2"/><circle cx="1681.2" cy="727.4" r="1.3"/><circle cx="1681.8" cy="734.9" r="1.3"/><circle cx="1685.6" cy="743.6" r="1.5"/><circle cx="1684.4" cy="748.7" r="1.3"/><circle cx="1740" cy="764.9" r="1.3"/><circle cx="1662.5" cy="747.4" r="1.3"/><circle cx="1651.2" cy="743.6" r="1.3"/><circle cx="1656.2" cy="745.5" r="1.3"/><circle cx="1336.7" cy="727.9" r="1.8"/><circle cx="1333.5" cy="741" r="1.6"/><circle cx="1337.3" cy="739.7" r="1.5"/><circle cx="1341.1" cy="739.1" r="1.5"/><circle cx="1344.2" cy="738.2" r="1.6"/><circle cx="1321.7" cy="773.5" r="1.3"/><circle cx="1323.9" cy="776.3" r="1.3"/><circle cx="1341.7" cy="839.2" r="1.5"/><circle cx="1361.1" cy="861.1" r="1.6"/><circle cx="1389.2" cy="812.3" r="1.5"/><circle cx="1387.4" cy="816.7" r="1.5"/><circle cx="1385.5" cy="821.7" r="1.6"/><circle cx="1469.3" cy="848.6" r="1.5"/><circle cx="1472.5" cy="851.4" r="1.5"/><circle cx="1475.6" cy="843" r="1.8"/><circle cx="1495.6" cy="829.9" r="1.7"/><circle cx="1497.5" cy="836.7" r="1.3"/><circle cx="1498.1" cy="846.1" r="1.5"/><circle cx="1495.6" cy="874.9" r="1.7"/><circle cx="1500" cy="872.4" r="1.5"/><circle cx="1513.1" cy="871.2" r="1.5"/><circle cx="1532.5" cy="786.1" r="1.8"/><circle cx="1530.7" cy="831.1" r="1.3"/><circle cx="1533.2" cy="837.4" r="1.5"/><circle cx="1468.1" cy="849.9" r="1.3"/><circle cx="1467.5" cy="847.4" r="1.3"/><circle cx="1304.5" cy="710.3" r="1.5"/><circle cx="1312" cy="712.8" r="1.5"/><circle cx="1317.6" cy="716" r="1.6"/><circle cx="1230.6" cy="729.7" r="1.6"/><circle cx="1319.5" cy="772.9" r="1.6"/><circle cx="1322.6" cy="775.4" r="1.5"/><circle cx="1320.1" cy="777.3" r="1.3"/><circle cx="1302" cy="828" r="1.5"/><circle cx="1342" cy="839.2" r="1.5"/><circle cx="1360.8" cy="861.1" r="1.5"/><circle cx="1307" cy="873" r="1.6"/><circle cx="1242.5" cy="781.7" r="1.6"/><circle cx="1188.1" cy="769.8" r="1.5"/><circle cx="1141.2" cy="889.3" r="1.5"/><circle cx="1197.5" cy="888.7" r="1.5"/><circle cx="1346.2" cy="918.5" r="1.3"/><circle cx="1351.2" cy="927.2" r="1.3"/><circle cx="1381.2" cy="965.3" r="1.3"/><circle cx="1456.3" cy="944.8" r="1.5"/><circle cx="1485.1" cy="943" r="1.3"/><circle cx="1488.8" cy="943.8" r="1.3"/><circle cx="1526.4" cy="951" r="2.6"/><circle cx="1535.1" cy="961.8" r="1.6"/><circle cx="1543.9" cy="921.7" r="1.6"/><circle cx="1722.8" cy="903.5" r="1.3"/><circle cx="1742.8" cy="896.7" r="1.3"/><circle cx="1766.6" cy="947.3" r="1.3"/><circle cx="1766.6" cy="952.3" r="1.3"/><circle cx="1739.1" cy="955.3" r="1.6"/><circle cx="1745.3" cy="960.3" r="1.4"/><circle cx="1722.8" cy="966" r="1.3"/><circle cx="1355.3" cy="624.8" r="2"/><circle cx="1358.5" cy="649.2" r="2"/><circle cx="1371" cy="653.5" r="2"/><circle cx="1415.4" cy="615.4" r="1.8"/><circle cx="1230.8" cy="729.9" r="1.7"/><circle cx="1337.2" cy="728" r="2"/><circle cx="1304.6" cy="709.9" r="1.6"/><circle cx="1312.2" cy="712.4" r="1.8"/><circle cx="1317.8" cy="716.1" r="2"/><circle cx="1197.3" cy="889.1" r="2"/><circle cx="1195.9" cy="909.2" r="1.6"/><circle cx="1199.9" cy="908.8" r="1.6"/><circle cx="1307.6" cy="873.5" r="1.8"/><circle cx="1252.7" cy="984" r="2"/><circle cx="1274.1" cy="982.5" r="2"/><circle cx="993.4" cy="653.5" r="2.0"/><circle cx="998.6" cy="663.3" r="2.3"/><circle cx="1030.8" cy="665.5" r="2.2"/><circle cx="990.9" cy="651.2" r="1.2"/></g>
</g>
<g id="panelF">
<g stroke="#606060" stroke-width="3.0" stroke-linejoin="round">
<path d="M1063.6,1154.8l8.8,1.6 5.5-1.6 12.1-1.1 8.8,1.6 11,0 11,2.2 11,2.2 11-1.4 11,1.4 7.7-1.1 2.2-9.2 5.5,1.6 4.4,4.1 6.6,2.4 5.5-2.7 7.7,0 1.1,4.3-5.5,3.8-6.6,2.7-4.4,4.4-4.4,1-4.4,4.4-3.3,5.4-0.4,3.2 4.8,4.9 5.5,0 4.4,1.4 6.6,3.2 6,0.5 0.4,5.7 3.5,4.4 3.3-0.3 0-6.8 4.4-4-1.1-5.5-2.2-3.2 2.2-3.5-1.1-6.2 8.8,0 8.8,3.5 0,5.4 4.4,1.9 5.5-3.3 2.2-2.1 5.5,6.2 4.4,6.8 5.5,2.7 3.8,5.9-6,2.7-3.3,3-8.8,0-5.9,0.3-6.2,5.7-3.3,2.9 2.2-1 6.6-4.6 6,0.5-1.6,2.7 0.5,3.5 2.2,1.4 5,0.8 3.3-1.6-2.2,2.7-5.5,1.9-5.5,2.9-0.4-2.7 3.7-2.1-5.5,0.5-1.7-5.1-3.1-1.1-2.4,4-2.7,2.5-7,0-3.5,2.2-6,1.8 0,1.7-7.7,2.7-1.3-1.1 1.5-1.9-0.2-6.2-2.2-1.9-2.2-1.4-7.7-4.6-3.3,0.6-3.3-0.6-4.4-1.1-4.8-1-61.6,0-2.9-2.8-6.6-2.7-1.1-4-4.4-4.9-0.4-1.9 0.4-2.7-4.4-2.7-3.3-4.6-3.3-2.2-5.5,1.4-3.3-2.7-4.4-0.8z" fill="#A9CEA6"/>
<path d="M1063.6,1154.8l0,25.2 4.4,0.8 3.3,2.7 5.5-1.4 3.3,2.2 3.3,4.6 4.4,2.7-0.4,2.7-2.9,0-4.4-4-4.4-4.1-3.3-1.1-6.6-3.5-8.8-0.8-5.5-2.7-4.4,1.3-3.3,3.3-3.9,0.2 1.7-4.3 2.2-1.1-5.5,1.9-2.2,3.3-2.2,2.1-4.4,3.3-4.4,3.5-5.5,2.2-4.4,1.3-3.9,0.6 3.9-2.2 5.5-1.9 5.5-4.1 1.6-3.2-3.8,0.3-6.1-0.3-0.5-3-5.5-0.5-3.3-4.1 3.3-4 7.7-1.4 0-2.7-7.7,0-4.4-2.2-3.3-0.8 8.8-2.4 4.9,0.8-3.8-2.2-6.6-3.5 7.7-1.9 6.6-4 7.5-2.2 10.1,1.3 8.8,1.4 8.8,0.8z" fill="#A9CEA6" stroke-width="3.5"/>
<path d="M1102.8,1210.6l61.6,0 4.8,1 4.4,1.1 3.3,0.6 3.3-0.6 7.7,4.6 2.2,1.4 2.2,1.9 0.2,6.2-1.5,1.9 1.3,1.1 7.7-2.7 0-1.7 6-1.8 3.5-2.2 7,0 2.7-2.5 2.4-4 3.1,1.1 1.7,5.1 0,0.8-3.9,1.1-3.1,1.9-1.3,2.7 1.7,2.7-4.4,1.4-4.4,1.6-2.2,4.9-1.3,2.7-0.9,2.1 1.1,4.6-2.2,1.7-3.1,1.9-2.4,1.3-4.4,4.1-0.9,4 1.8,5.5 1.3,4.6-0.9,4.3-1.7,0-1.3-2.2-2-4.9-0.7-3.2-2.6-2.7-2.9,0.5-5.5-1.3-3.3,0.2 0.7,3-1.8,0.3-3.3-1.1-5-0.8-2,0.8-2.9,2.2-3.1,3 0.5,4.3-4.2-1.4-0.9-2.9-4.2-6.3-2.4,0-1.5,2.2-2.9-1.6-4.4-6-3.7,0 0,1.4-6.2,0-8.1-3.8-5.3,0.5-3.1-4-4.6-1.4-2.9-5.7-1.3-3.2-3.9-7.1-0.5-7 1.1-8.7-1.5-5.9 3.7,0.5z" fill="#A9CEA6"/>
<path d="M1116.2,1255.2l5.3-0.5 8.1,3.8 6.2,0 0-1.4 3.7,0 4.4,6 2.9,1.6 1.5-2.2 2.4,0 4.2,6.3 0.9,2.9 4.2,1.4-1.1,5.1-0.2,4.6 1.1,3.6 2.4,4.6 0.9,1.3 2.8,1.6 4.4-1.1 2.2,0.3 2.2-3.5 0.5-3.2 5-1.7 2.7,1.1-1.6,4.6-1.7,2.7-2,1.6-4,0.3-0.9,1.6 2,3-2.6,0.3-0.7,2.2-0.4,1.8-2.9-2.7-2.6-1.9-2.9,1.4-4.4-1.4-4.4-2.1-4.4-2.7-5-3-2.7-3.5-0.2-3-1.8-4.6-3.5-4.9-3.1-3.5-2.4-4.1-3.7-4.6-1.8-4.6-3.9-1.6 0.2,0.6 1.5,4.3 2.7,5.4 3.3,5.4 2.2,4.6 1.7,3-1.1,0.8-3.3-3.8-1.5-1.9-2.9-4.6-3.3-2.7 1.8-0.8-1.8-2.7-2.2-3.8z" fill="#C1DABB"/>
<path d="M1213.2,1131.5l11-4.3 13.2-4.6 26.4-2.7 37.4-3 24.2,3.8 22,1.9-13.2,4 2.2,5.5-6.6,5.4 2.2,4-6.6,4.1 0,6.8-6.6,4-11,2.2-13.2,6.5-8.8,2.1-6.6,13-2.2,1.1-8.8-3.2-6.6-6.8-5.5-8.1 1.1-5.4 4.4-2.7-7.7-2.7-1.1-5.5-6.6-8.1-8.8-1.9-13.2,0.6-6.6-3.3z" fill="#98C698"/>
<path d="M1344.8,1268.2l3.7-2.4 3.7-3.3 0-4.3 1.4-3 5.2-4 2-4.9 1.3-0.3 6.9,2.2 0.8,1.6 1.4,6.2-5.3,1.4 0,1.9-3.1,1.3-4.4,2.7-3.7,2.2 0,2.7z" fill="#98C698"/>
<path d="M1344.8,1268.2l9.9,0 0,1.1 0,3.5-7.3,0 0,7.1-2.2,1 0,4.6-8.9,1.4 2.3-7.9 3.1-6.2z" fill="#BEBEBE"/>
<path d="M1369,1248.2l4.8-2.2 6.6-2.7 6.6-0.3 5.7,0.3-0.6,4.6-1.8,3.5 3.3,5.2 1.1,4.6 0.9,4.9-1.1,6.2 1.3,4.6 4.4,2.7-13.6,10.8-3.6,1.1-1.9,0.3-0.3-2.2-4.4-2.7-13.2-11.4-8.5-6.2 0-1.1 0-2.7 3.7-2.2 4.4-2.7 3.1-1.3 0-1.9 5.3-1.4-1.4-6.2z" fill="#C1DABB"/>
<path d="M1392.7,1243.3l3.5-1.1 1.8,0.8-0.9,3.3 0.9,3.5-2.2,1.9 3.3,1.6 0,1.9-2.6,1.9 0,2.7-1.8,1.4-1.1-4.6-3.3-5.2 1.8-3.5z" fill="#98C698"/>
<path d="M1399.1,1253.3l3.3,0.8 4.8,1.7 1.4,2.4 4.8,2.4 4,0 0.4-4 3.3-2.5 3.7,1.4 4,1.9 0,26.2 0,5.5-2.2,0 0,1.3-17.6-10.5-2.2,1-1.8,1.1-4.8-2.4-4.4-2.7-1.3-4.6 1.1-6.2-0.9-4.9 1.8-1.4 0-2.7 2.6-1.9z" fill="#E5EAD7"/>
<path d="M1428.8,1257.4l4.4,1.1 4.4,1.1 4.4-1.7 2.9,0.6 4.1,0 1.6,4.8-1.6,4.9-1.5-1.3-2-4.6 2.2,6.5 2,5.4 2.2,4 0.4,2.7 2.7,2.7-26.2,0z" fill="#98C698"/>
<path d="M1455,1283.6l0.6,2.8 0.3,5.4 2.6,2.7-3.3,2.7-1.1,4.9-0.2,1.8-0.7,4.9-2,2.5-1.9,2.9-0.7,3.3 0.2,2.7-2.4,1.6 1.8,1.9 1.9,1.4 2.7,3.8 0,1.8-4.2,1.1-0.2,1.1-6.6,0.8-3.1-2.4-2.4,0.3-2.2-2.2-2.2-4.1-2.7-2.4-2.6-3.3-1.1-0.8 0-2.7-1.5-2.7-0.7-4.6-1.1-3 1.1-1 0.9-4.1 2.4,0 0-10.3 0-1.3 2.2,0 0-5.5z" fill="#78B682"/>
<path d="M1337.5,1299.6l1.1-5.1-1.1-4.1-1.2-3.5 8.9-1.4 0-4.6 2.2-1 0-7.1 7.3,0 0-3.5 8.5,6.2-3.7,0 2,23 0.6,0.6-0.4,2.1-8.4,0-4.8-0.2-1.5,2.1-2.2-1.9-2.9-2.9z" fill="#C1DABB"/>
<path d="M1347,1303.1l1.5-2.1 4.8,0.2 8.4,0 0.4-2.1-0.6-0.6-2-23 3.7,0 13.2,11.4 4.4,2.7 0.3,2.2 1.9-0.3 0,6.2-1.5,3.5-4.4,0.6-2.9,0.8-1.9,0-4.7,2.7-3.3,2.2-1.9,3.8-0.7,3.7-1.5-0.5-4,1.1-1.8-3.5-2.6-1.4-3.1-1.1-1.3-2.9z" fill="#C1DABB"/>
<path d="M1337.1,1309.9l-0.3-2.2 0-1.3-1.5-3 2.2-3.8 4.4-1.3 2.9,2.9 2.2,1.9 0.4,3.6 1.3,2.9-5-0.5z" fill="#C1DABB"/>
<path d="M1336.8,1307.7l0-1.3 3.1-0.6 3.1,0.6 0,1.1-3.1-0.3z" fill="#C1DABB" stroke-width="3.5"/>
<path d="M1340.8,1313.7l-2.9-2.4-0.8-1.4 6.6-0.8 0,2.4z" fill="#C1DABB" stroke-width="4"/>
<path d="M1344.5,1318.8l-2.6-3.5-1.1-1.6 2.9-2.2 0-2.4 5,0.5 3.1,1.1 2.6,1.4 1.8,3.5 0.4,4.6-1.5,2.4-2-1.1-2-1-0.6-1.7-1.3-2.7-2.9,0.6z" fill="#C1DABB"/>
<path d="M1348.5,1324.5l-3.3-3-0.7-2.7 1.8-2.1 2.9-0.6 1.3,2.7 0.6,1.7z" fill="#C1DABB" stroke-width="3.5"/>
<path d="M1357.3,1331.3l-4-3-4.8-3.8 2.6-4 2,1 2,1.1 0.2,3 2,1.9z" fill="#C1DABB" stroke-width="3.5"/>
<path d="M1367,1329.4l-4.2,0-5.5,1.9 0-3.8-2-1.9-0.2-3 1.5-2.4-0.4-4.6 4-1.1 1.5,0.5 2,1.7 3.9,0.5 0.7,3.8-1.5,4.6z" fill="#C1DABB"/>
<path d="M1361.7,1315l0.7-3.7 1.9-3.8 3.3-2.2 4.7-2.7 1.9,0 1.8,4.3 2.4,1.9 0.7,2.2-2.2,1.3-1.1,1.1-2.2-0.2-6,0.2 0,3.8-3.9-0.5z" fill="#C1DABB"/>
<path d="M1376.4,1326.7l-2.6,1.3-4.4,2.2-2.4-0.8-0.2-3.8 1.5-4.6-0.7-3.8 0-3.8 6-0.2 1.3,4.3 0.2,5.4z" fill="#C1DABB"/>
<path d="M1377.3,1326.4l-0.9,0.3-1.3-3.8-0.2-5.4-1.3-4.3 2.2,0.2 1.5,5.4z" fill="#C1DABB" stroke-width="3.5"/>
<path d="M1379.7,1325.9l-2.4,0.5 0-7.6-1.5-5.4 1.1-1.1 2.2-1.3 2.6,0.5 0.5,3.8-2.2,3.5z" fill="#C1DABB"/>
<path d="M1374.2,1302.6l2.9-0.8 4.4-0.6 1.5-3.5 0-6.2 3.6-1.1 13.6-10.8 4.8,2.4 1.8-1.1 1.8,7.3-0.7,9.5-4.4,8.7-2.2,1.3-5.5-0.5-4.4,0.3-3.3-0.8-5.5,0-0.9,4.8-2.6-0.5-0.7-2.2-2.4-1.9z" fill="#C1DABB"/>
<path d="M1392.5,1330.5l-3.3,0.8-2.2,0.3-2.2-3.6-1.3-1.9-3.8-0.2 0.3-7.1 2.2-3.5-0.5-3.8 0.9-4.8 5.5,0 3.3,0.8 4.4-0.3 5.5,0.5 2.2-1.3 1.3,1.3 1.1,4.4-2.8,4-1.4,3.5-1.9,4.7-2.9,0-2.6,1.6z" fill="#C1DABB"/>
<path d="M1403.5,1306.4l4.4-8.7 0.7-9.5-1.8-7.3 2.2-1 17.6,10.5 0,10.3-2.4,0-0.9,4.1-1.1,1 1.1,3 0.7,4.6-2.5,1.1-5.7,4.3-1.1,2.5-3.5,1.1-3.3,0.5-2.9-6.8 2.9,0-0.9-2.7-0.4-4.3-1.8-1.4z" fill="#E5EAD7"/>
<path d="M1395.4,1337l-0.3-3.8-1.7-2.2-0.9-0.5 1.8-4.6 2.6-1.6 2.9,0 1.9-4.7 1.4-3.5 2.8-4-1.1-4.4 1.8,1.4 0.4,4.3 0.9,2.7-2.9,0 2.9,6.8-2.2,3.8 0.2,3.2 1.3,2.7 2,4.6-6.1,0-4.4,0z" fill="#C1DABB"/>
<path d="M1407.9,1322.9l3.3-0.5 3.5-1.1 1.1-2.5 5.7-4.3 2.5-1.1 1.5,2.7 0,2.7 1.1,0.8 2.6,3.3 2.7,2.4 2.2,4.1-4.6-0.3-2,0.3-3.3,0.8-1.1,1.9-4.2-1.1-2.2-1.6-2,2.2 0,2.1-4.4,0-1.1,3.5-2-4.6-1.3-2.7-0.2-3.2z" fill="#E5EAD7"/>
<path d="M1394.9,1340.5l0.5-3.5 3.3,0.2 0,3.3z" fill="#98C698" stroke-width="4"/>
<path d="M1398.2,1353.8l-3.3-4.1-1.7-4.3 1.3-2.7 0.4-2.2 3.8,0 0-3.3 4.4,0 0,2.5 2.4,0 0,4.9-1.1,2.1 1.3,2.7-4-0.5-1.5,1.1-0.9,1.3z" fill="#C1DABB"/>
<path d="M1400.2,1356.7l-2-2.9 1.1-2.5 0.9-1.3 1.5-1.1 4,0.5-1.3-2.7 1.1-2.1 0-4.9-2.4,0 0-2.5 6.1,0 1.1-3.5 4.4,0-1.1,3.3-0.6,4.8-0.5,3-3.1,3.8-0.6,5.2-1.3,1-2,1.7-3.1-0.8z" fill="#C1DABB"/>
<path d="M1400.6,1358.9l-0.4-2.2 2.2-1-0.4,3.2z" fill="#C1DABB"/>
<path d="M1402.4,1355.7l3.1,0.8 2-1.7 1.3-1 0.6-5.2 3.1-3.8 0.5-3 0.6-4.8 1.1-3.3 0-2.1 2-2.2 2.2,1.6 4.2,1.1 1.1-1.9 3.3-0.8 2-0.3 4.6,0.3 2.2,2.2 2.4-0.3 3.1,2.4 0.9,3.5-2.9,2.8-0.7,3.2-0.2,3.8-1.3,3.5 0.4,1.6 0.5,3 0.4,5.7 2.4,4.6-3.9,0.8-0.9,1.9 0.2,3.5-0.4,3.5 3.1,1.1 0,3.3-1.8,0-3.3-3-0.7-1.9-2.6,0.8-1.5-1.9-2,0.6-0.9-1.4-4,0.5 0.3-2.1-1.1-2.2 0-5.9-3.1-0.9-2,0-1.1,2.8-2.2,0.2-1.1-0.2-1.3-2.2-0.7-3.5-7,0-2.7-0.3 1.4,0z" fill="#E5EAD7"/>
<path d="M1453.9,1303.9l2.4,0.9 2.2-0.9 1.5,0 2.2,0.3 4.9,5.2-1.3,2.1 0,1.9 2.4,0.3 2.4,5.1 6.6,2.7 2.2,0-6.6,8.2-3.7,0.5-2.9,1.6-0.2,0.8-2,0-3.3,1.4-3.3-0.5-2.4-2.2-2.2-0.6 0-1.8-2.7-3.8-1.9-1.4-1.8-1.9 2.4-1.6-0.2-2.7 0.7-3.3 1.9-2.9 2-2.5z" fill="#78B682"/>
<path d="M1458.5,1294.5l1.8,5.9 3.7,3.3 3.1,3.8 1.5,1.3-1.5,0.6-4.9-5.2-2.2-0.3-1.5,0-2.2,0.9-2.4-0.9 0.2-1.8 1.1-4.9z" fill="#C1DABB"/>
<path d="M1468.6,1308.8l-0.9,3 1.1,0.3-0.6,1.6-2.4-0.3 0-1.9 1.3-2.1z" fill="#C1DABB" stroke-width="4"/>
<path d="M1468.8,1312.1l2.9,2.9 5.5-2.1 4.4-0.3 4.8-1.9-0.2,4.3-1.8,5.2-2.8,6.8-2.2,4-4.4,5.4-4.4,4.1-3.3,4.1-2,3.2-1.3-2.2 0-2.4 0-7.6 2-3 0.2-0.8 2.9-1.6 3.7-0.5 6.6-8.2-2.2,0-6.6-2.7-2.4-5.1z" fill="#E5EAD7"/>
<path d="M1465.3,1347.8l-3.1,2.7-2.2,5.4-3.3-3.5-0.2-1.1-7.9-5.4-0.2-3 2.4-4.3-1.1-4.1-1.1-2.7 4.2-1.1 2.2,0.6 2.4,2.2 3.3,0.5 3.3-1.4 2,0-2,3 0,7.6 0,2.4z" fill="#E5EAD7"/>
<path d="M1448.6,1331.8l1.1,2.7 1.1,4.1-2.4,4.3 0.2,3-7.7,0-2,1.1 0.2-3.8 0.7-3.2 2.9-2.8-0.9-3.5 6.6-0.8z" fill="#C1DABB"/>
<path d="M1438.9,1347l2-1.1 0.7,3.8-2,1.1-2-0.3z" fill="#98C698" stroke-width="3.5"/>
<path d="M1437.6,1350.5l2,0.3 2-1.1 0,2.4-3.1,3-0.5-3z" fill="#98C698" stroke-width="3.5"/>
<path d="M1460,1355.9l-0.8,4.9 1.5,1.3-0.2,4.1 2.2,5.4-5.3,2.2-1.1,1.1-5.5-0.3-0.9-0.3-1.3-5.4-2.4-0.3-4.2-2.1-0.7-1.1-2.4-4.6-0.4-5.7 3.1-3 0-2.4-0.7-3.8 7.7,0 7.9,5.4 0.2,1.1z" fill="#98C698"/>
<path d="M1462.7,1371.6l0.4,9.5 0.5,2.7-2.9,4.1-5.5,3.5-1.8,3-2.8,2.4-0.2,1.9 1.5,4.1 0,5.4-5.5,3.5-0.4,1.9 0.2,2.4-1.8-0.3-0.4-2.4 0.2-3.8-1.5-5.7 2.4-2.9 1.3-4.1-0.7-3.5 0.7-4.1-0.2-0.8-2.4-1.1-3.1-1.9-0.5-1.6 6.2-2.7 3.3,1.4-0.4,4 1.9,3 1.4-3 0.2-3-2-3.8-1.3-2.7 0.4-2.7 0.9,0.3 5.5,0.3 1.1-1.1z" fill="#C1DABB"/>
<path d="M1446.2,1368.6l2.4,0.3 1.3,5.4-0.4,2.7 1.3,2.7 2,3.8-0.2,3-1.4,3-1.9-3 0.4-4-3.3-1.4-0.7-1.1 1.4-3.5 0-4.9z" fill="#98C698"/>
<path d="M1441.3,1365.4l0.7,1.1 4.2,2.1 0.9,3 0,4.9-1.4,3.5 0.7,1.1-6.2,2.7 0.5,1.6-3.3,1.1-4.2,5.2-3.7-0.3-4.2-0.6-3.1-3.7 0-8.7 4.4,0 0-5.7 0.9,1.4 2-0.6 1.5,1.9 2.6-0.8 0.7,1.9 3.3,3 1.8,0 0-3.3-3.1-1.1 0.4-3.5-0.2-3.5 0.9-1.9z" fill="#C1DABB"/>
<path d="M1429.5,1391.4l3.7,0.3 4.2-5.2 3.3-1.1 3.1,1.9 2.4,1.1 0.2,0.8-0.7,4.1 0.7,3.5-1.3,4.1-2.4,2.9-4.2-0.5-3.1-1.9-0.7-2.7-3.3-2.7z" fill="#F8DDD5"/>
<path d="M1399.8,1390l0-4 1.5-6.3 2.4-3.2 0.5-3.5-1.4-5.4-0.8-5.5-1.1-2.4-0.3-0.8 2.7,0.3 7,0 0.7,3.5 1.3,2.2 1.1,0.2 2.2-0.2 1.1-2.8 2,0 3.1,0.9 0,5.9 1.1,2.2-0.3,2.1 4-0.5 0,5.7-4.4,0 0,8.7 3.1,3.7-4.4,0.9-6.4-1.4-9.9,0-1.1-1.1z" fill="#C1DABB"/>
<path d="M1410.1,1420.6l-2.9-4.9-1.5-7.5 0-4.1-2.4-5.4-3.1-6.8-0.4-1.9 3.7-0.8 1.1,1.1 9.9,0 6.4,1.4 4.4-0.9 4.2,0.6-1.8,0.5-2.6,0-5.1,0.8 0,10.1-2.2,0 0,7.5 0,9.8-2.2,1.3-3.5-0.5z" fill="#E5EAD7"/>
<path d="M1417.8,1410.3l0-7.5 2.2,0 0-10.1 5.1-0.8 2.6,0 1.8-0.5 1.9,4.6 3.3,2.7 0.7,2.7 3.1,1.9-2.4,1.1-3.1,4.6-2.9,3.5-2.4,0.3-3.3-1.1-2.2,3.5-2.6,0.5z" fill="#C1DABB"/>
<path d="M1446.2,1416l-1.1,4.3-3.1,4.1-2.2,3.5-3.3,3.5-3.3,2.8-2.9,1-7,0.3-5.5,1.9-3.5-1.6-0.2-4.1-1.1-4.6-2.9-6.5 2,0.3 3.5,0.5 2.2-1.3 0-9.8 1.8,5.4 2.6-0.5 2.2-3.5 3.3,1.1 2.4-0.3 2.9-3.5 3.1-4.6 2.4-1.1 4.2,0.5 1.5,5.7-0.2,3.8-1.8,0-0.6,2.4 1.1,1.4 1.7-1.4z" fill="#E5EAD7"/>
<path d="M1444,1413.3l-1.8,0-0.6,2.4 1.1,1.4 1.7-1.4z" fill="#C1DABB" stroke-width="3.5"/>
<path d="M1433.2,1423.3l2.2-2.1 1.5-0.6 1.6,2.2-0.5,1.6-2.2,1.6-1.7-0.8z" fill="#606060" stroke-width="3.5"/>
<path d="M1482.3,1375.7l2.6,9.5-1.5,4-0.9,2.7-3.5,13.6-1.8,5.4-4,1.3-3.3-2.7-0.8-6.7 2.4-5.5-0.9-6.7 1.1-3.5 4-1.4 3.7-5.1z" fill="#C1DABB"/>
<path d="M1171,1303.9l0.4-1.8 0.7-2.2 2.6-0.3-2-3 0.9-1.6 4,0 0,5.2 2,0.5-2,1.9-0.5,1.6-1.5,1.6z" fill="#C1DABB" stroke-width="3.5"/>
<path d="M1177.6,1294.7l2-1.6 0.4,2.7-1.8,4.4-0.6,0z" fill="#FFFFFF" stroke-width="4"/>
<path d="M1177.6,1302.6l2-1.9 1.7-0.3 3.3-0.5 3.3,0.5 2.9,2.2-3.5,0.8-2,2.2-2.4,0.5-1.4,2.2-0.8-1.4-1.6-1.6-2-1.1z" fill="#C1DABB" stroke-width="3.5"/>
<path d="M1181.5,1308.3l1.4-2.2 2.4-0.5 2-2.2 3.5-0.8-0.7,6.8-0.4,4-4.4-0.2-1.8-1.9-2.6-3z" fill="#98C698" stroke-width="3.5"/>
<path d="M1185.3,1313.2l4.4,0.2 2.4,3.8-0.7,4.1-1.5-1.1-2.6-3.3-2.2-0.8z" fill="#FFFFFF" stroke-width="4.5"/>
<path d="M1191.4,1321.3l0.7-4.1 3.5,2.2 3.1-2.2 4.8,2.4-1.1,3.8-1.3-2.7-2.6-1.3-1.6,1.6 0.5,2.4-2.2-0.5z" fill="#FFFFFF" stroke-width="4.5"/>
<path d="M1187,1283.9l4.2-3 5.5-0.2 7.7,4 6.2,3.8-7.7,0.8-1.8-2.9-7.7-3.8z" fill="#FFFFFF" stroke-width="4.5"/>
<path d="M1210.1,1293.4l3.1,0.5 2.7,0.6 0.2-4.6-2.9-0.6 0.5,2.5-1.6,1z" fill="#FFFFFF" stroke-width="4"/>
<path d="M1215.9,1294.5l3.9-0.8 3.5-0.9-3-2.1-4.2-0.8z" fill="#FFFFFF" stroke-width="4"/>
<path d="M1201.6,1293.4l4.4,0.8-2,0.8z" fill="#FFFFFF" stroke-width="4"/>
<path d="M1226,1293.4l3.3,0.3-1.8,0.9z" fill="#FFFFFF" stroke-width="4"/>
<path d="M1203.5,1319.6l1.4,1.9 2.6-4 1.3-3.5 1.8-1.4 4.8-2.4 1.6-0.3 0,1.4-2.7,2.1-1.1,4.9 1.3,2.4 0.9,3.6 4.4,0 5.5,2.1-0.6,5.4 1.7,6 0,2.2-6.1-1.4 0.6,3-1.1,2.1 1.3,2.7-1.1,8.2-1.7-1.1-4-3.8-2.4-3-3.7-3.2-2.7-1.1-2.2-0.8-2.8-2.2 0.6-3 2.7-4-0.3-5.4-1.1-3.6z" fill="#A9CEA6"/>
<path d="M1217,1311.3l-0.5,2.7 3.3-1.9 0-1.9 3.8,3.8 5,0.5 3.3,1.1 5.5-1.4 2.2,2.5 0.5,3.5 1.7,0-2.6,2.7 1.5,1.4-1.7,2.7 1.3,2.1 0,1.1-4.6,2.2-3.1-0.6 0.4,4.6-3.3,4.1-2.8-0.5-0.5,0 0-2.2-1.7-6 0.6-5.4-5.5-2.1-4.4,0-0.9-3.6-1.3-2.4 1.1-4.9z" fill="#E5EAD7"/>
<path d="M1241.8,1320.2l3.3,3.5 2.9,3.3-0.2,2.1-1.6,3.3 1.1,1.9 2.2,3.8-5,1.6-2.5-3.3 0-5.4-1.7-1.9-1.3-2.1 1.7-2.7-1.5-1.4z" fill="#E5EAD7"/>
<path d="M1248,1327l7,0.5-1.1,2.7 1.1,3.5-1.1,3.3-3.3,0.8-1.1,0.3-2.2-3.8-1.1-1.9 1.6-3.3z" fill="#E5EAD7"/>
<path d="M1255,1327.5l4.4,3 0.7,1.9-2.2,4.6-4,0 1.1-3.3-1.1-3.5z" fill="#FFFFFF"/>
<path d="M1260.1,1332.4l3.7,5.9 0,4.9 3.3,1.4 1.1,1.3 7.7,4.1 6.6,1.1 5.5,1.6 4,3.5 4.1,1.1 1.1,5.4-0.4,4.9-4.4,5.4-3.3,5.4-1.1,6.8-1.1,6.7-2.9,8.1-0.4,2.8-2.2,2.7-5.5,0.5-4,2.2-4.8,5.4-0.2,5.4-3.1,5.4-4.8,6-2.7,4 0.5-2.7-5.3-4.9-4.4-1.8 4-4.9 4.4-3.3-1.8-4.3 0.7-4.3-2.7,0-0.4-4.6-4.9-0.6-0.6-5.1 0.4-1.1 1.1-4.9-1.7-1.9-4.2-2.7-0.7-6.7-3.3-0.9-5.5-2.7-1.7-2.7 0-4.6-2.9,0.3-4.6,3-4.2,0 0-4.1-3.5,1.4-2.2-1.7 0.6-1-2.4-4.4 0.7-1.6 1.5-3.5 0.2-1.1 4.7-2.4 1.9,0 1.1-8.2-1.3-2.7 1.1-2.1-0.6-3 6.1,1.4 0.5,0 2.8,0.5 3.3-4.1-0.4-4.6 3.1,0.6 4.6-2.2 0-1.1 1.7,1.9 0,5.4 2.5,3.3 5-1.6 1.1-0.3 3.3-0.8 4,0z" fill="#D2E2C8"/>
<path d="M1200.5,1339.4l2.8,2.2 2.2,0.8 2.7,1.1-0.5,3.8-2.2,2.9-3.3,1.9-1.1,4.1-2.8-0.5-1.1-3.3 0.6-2.4-2.2-0.8 0.5-3.3 1.7-3.2 0-1.7z" fill="#A9CEA6"/>
<path d="M1197.2,1352.4l1.1,3.3 2.8,0.5 1.1-4.1 3.3-1.9 2.2-2.9 0.5-3.8 3.7,3.2 2.4,3 4,3.8 1.7,1.1-1.9,0-4.7,2.4-0.2,1.1-1.5,3.5-0.7,1.6 2.4,4.4-0.6,1 2.2,1.7 3.5-1.4 0,4.1 4.2,0-0.7,4 0.7,3.6-1.1,4 0.4,2.5-1.1,3.5-2,2.1-2.2-2.4-4.6-3-5.9-6.2-2.2-5.4-2.9-6.8-3.1-6.8-2.8-2.7-0.2-4z" fill="#A9CEA6"/>
<path d="M1222.7,1373l4.6-3 2.9-0.3 0,4.6 1.7,2.7 5.5,2.7 3.3,0.9 0.7,6.7 4.2,2.7 1.7,1.9-1.1,4.9-0.4,1.1-2-2.5-5.9,0.9-1.8,7-3.1-0.5-2.6,0.2-2.4-0.8-2,2.7-1.6,0-0.6-4-0.7-4.9-1.1-1.4-1.1-4 1.1-3.5-0.4-2.5 1.1-4-0.7-3.6z" fill="#98C698"/>
<path d="M1245.8,1397.9l0.6,5.1 4.9,0.6 0.4,4.6 2.7,0-0.7,4.3-0.9,3.8-3.1,1.1-4.8-0.6 2.2-4.6-3.1-2.7-4.4-1.9-3.5-4.3 1.8-7 5.9-0.9z" fill="#E5EAD7"/>
<path d="M1256.3,1434.4l0.5-2.7-5.3-4.9-4.4-1.8-1.3,6.2-0.5,4 3.1,1.7 4.4,0.8z" fill="#E5EAD7"/>
<path d="M1226,1404.9l2-2.7 2.4,0.8 2.6-0.2 3.1,0.5 3.5,4.3 4.4,1.9 3.1,2.7-2.2,4.6 4.8,0.6 3.1-1.1 0.9-3.8 1.8,4.3-4.4,3.3-4,4.9-1.3,6.2-0.5,4 2.7,3.6-0.2,2.4 1.3,0.8-2,4.1-3.1,1.9-6.6,0.8-0.6,4.3-6,0.5 0,3.8 3.1,1.1-3.1,1.9-1.1,4.6-4.4,2.7 3.8,3.3-0.5,2.1-3.7,4.9-2.9,3 1.3,3.8-3.5-0.8-4.4,0-0.9-3.6-1.7-3.7 2-4.9 1.3-5.4 0-5.4-0.2-5.5 1.3-5.4 0.4-5.4 1.6-5.4 1.1-5.4-1.1-5.4 0.8-4.1 1.6-5.4 1.7-4.9-0.2-4.6zM1222.9,1485.6l7.5,5.7-2.9,0.8-4.6-0.3z" fill="#DFA49F"/>
<path d="M1218.9,1392.7l2-2.1 1.1,4 1.1,1.4 0.7,4.9 0.6,4 1.6,0-2.9,4.6 0.2,4.6-1.7,4.9-1.6,5.4-0.8,4.1 1.1,5.4-1.1,5.4-1.6,5.4-0.4,5.4-1.3,5.4 0.2,5.5 0,5.4-1.3,5.4-2,4.9 1.7,3.7 0.9,3.6 4.4,0 3.5,0.8-5.5,3.5-5.7-3-3.9-6.8-0.5-8.1 3.3-5.4 1.1-8.1-0.4-6.8 1.1-6.7 1.5-4.1 1.8-5.4 0.4-6.8 0.2-5.4 1.4-6.8 0.6-8.1 0.9-6.8zM1222.9,1485.6l0,6.2-3.1,1.1-4.4-2.2-4.4-4 6.6,2.1 1.8-2.7z" fill="#78B682"/>
<path d="M1239.6,1483.4l5.5-1.3 1.6,1.1-3.8,1.6z" fill="#606060" stroke-width="5"/>
<path d="M1319.9,1165.9l5.5-2.4 8.8,0.5 4.4-0.8 3.3,1.3 2.2,2.7-3.3,1.9-7.7,2.5-8.8-1.1 1.1-2.7-4.4-0.6z" fill="#C1DABB" stroke-width="4"/>
<path d="M1351.8,1203.5l1.1-4.6-1.1-2.4 3.3-2.7 2.6-0.3-1.7,2.2 2.4,1.1 1.8,0 0.4,2.9-0.9,2.2-3.5,1.1z" fill="#78B682" stroke-width="4.2"/>
<path d="M1361.3,1207.8l4.8-1 3.3-0.6 7.5-1.6-2-0.8 2.6-3.3-3-0.8-1.1-3.2-3.1-3.3-3.1-1.6 2.2-3.2 0.4-1.1-4.8,0 2-2.7-4.2,0-1.8,2.9 0.7,2.8 0,2.9 1.1,1.7 3.3-0.3 1.1,4-3.3,0.3 0.9,2.7-2.4,1.1 4.4,1.4-2.9,1zM1357.7,1193.5l2.9,0.3 1.1,1.9-1.5,1.1-1.8,0-2.4-1.1z" fill="#C1DABB" stroke-width="4.6"/>
<path d="M1354.4,1229.8l1.4-0.3 3.5,0.3 0.9,0.8-1.6,1.6-0.2,3.5-1.1,0.3 1.1,3.8-0.9,2.7-3.3,0.5 0.2-3.7-1.5-1.1 1.3-3.8z" fill="#C1DABB"/>
<path d="M1354.4,1229.8l-0.8-3.5 2.6-1.4 4.8,0.3 4.4,0.2 4.4,0.3 5.5,1.6 2.2,0.9 3.3,0.2 0,1.4-2.2,1.3-2.8,1.7-2.7,3.5 1.1,1.9-1.9,3.2-2.9,2.2-5.3,0.3-2.2,1.6-2-1.4-2.4-1.6 0.9-2.7-1.1-3.8 1.1-0.3 0.2-3.5 1.6-1.6-0.9-0.8-3.5-0.3zM1379.1,1236l2.2-0.8-0.5,1.6z" fill="#C1DABB"/>
<path d="M1369.8,1225.7l1.4-3.2 0-4.4-2.2-2.7-4.9-1.6-0.9-1.6 4-1.1 3.1,0.5-0.7-2.9 1.8,0.8 2.8-0.3 2.9-1.9 0.2-1.9 2-0.5 1.5,0.8 2.2,1.3 1.4,0.4 2.2,1.8 1.3,0 3.9,1.4-1.3,3.7-1.5,0.9-1.8,2.9 1.6-0.5 0.4,1.3-0.2,4.1 1.3,1.6-2.9,1.9-2.6-0.8-2.2-0.3-2.2,0.9 0.4,2.1-3.3-0.2-2.2-0.9zM1392.7,1229.8l1.8-3 0.2,4.3z" fill="#A9CEA6"/>
<path d="M1379.3,1204.9l2-0.8 3.5-0.3 2,1.1-0.5,0.8 0.9,0.3 0.7,1-0.7,0.6-0.6,1.6-2.2-1.8-1.4-0.4-2.2-1.3z" fill="#C1DABB" stroke-width="4"/>
<path d="M1381.3,1204.1l1.3-1.7 1.5-2.7 2.9-1.3 2.6,0.5-0.4,2.2-0.7,1.6-1.5,0.3 0.4,1.6-0.6,0.3-2-1.1z" fill="#C1DABB" stroke-width="4"/>
<path d="M1386.6,1209.2l0.6-1.6 0.7,1.6z" fill="#C1DABB" stroke-width="4"/>
<path d="M1389.6,1198.9l2.9-0.8 0.2-3.5 2.9,0.3 2.4,2.1 3.3-1.1 3.7,1.4 0.9,3.5 0.2,4.3-0.8,0-4.9,1.9 3.8,4.1-2.2,1.6 0.4,1.9-5.5,0-2,0-4.4-0.3 1.3-3.7-3.9-1.4-0.7-1.6 0.7-0.6-0.7-1-0.9-0.3 0.5-0.8 0.6-0.3-0.4-1.6 1.5-0.3 0.7-1.6z" fill="#C1DABB"/>
<path d="M1392.7,1194.6l-1.1-1.9 0.2-3.8 2.9-0.5 2.4-1.4-0.4,3.3 1.1,0.2-2,2.5-0.2,1.9zM1398.4,1192.4l3.1-0.8-0.2,1.9-1.5,1.1z" fill="#C1DABB" stroke-width="6"/>
<path d="M1389.2,1186.2l-3.3-2.7-1.1-4.1 0-3.5 2.2-1.9 5.5-3 4.4-2.4 3.3-2.7 2.2-4.1 3.1-0.8 2.4-2.7 4.4-2.4 3.3-1.4 5.5-1.3 4.4-1.7 5.1-0.8 4.8,0.3 6.6,1.9-2.2,1.6 1.8-0.2-4,1.8-2.2-2.4-4.4,0.3-0.7,1.9-4.4,1.1-5.9-0.6-1.1-0.1-5.3,1.5-3.5,2.7-3.3,3.5-2.2,4.6-4,2.7 0,5.4 1.4,0.6-2.2,4-1.4,2.2-1.3-0.8-0.2-1.6-3.3,3.5z" fill="#98C698" stroke-width="4"/>
<path d="M1398.4,1183.5l1.6,3.5 1.5,4.1 0.7,2.1 3.1-0.2 3.5-1.7 1.3-1.9 0.2-2.7 0.9-2.4 4-2.4 0.2-1.4-3.5-1.6-0.3-3.5 1.8-2.2 4.4-2.4 2.6-2.5 1.8-2.7 4.6-0.5-0.9-1.9 0.5-2.7-2.4-2.5-5.1-1.7-5.3,1.5-3.5,2.7-3.3,3.5-2.2,4.6-4,2.7 0,5.4 1.4,0.6-2.2,4z" fill="#98C698"/>
<path d="M1426.8,1165.1l2.9,2.1-3.1,2.8-5.5,2.4-0.2,5.7-0.2,1.1 1.9,0.5 1.8,1.6 4.4-1.1 6.2-0.8 3.7-2.7 4.4-3.8-3.3-2.4 0.2-5.1-2.2-3.3 2-2.2-3.3-1.3 0.9-2.5 0.2,0-2.2-2.4-4.4,0.3-0.7,1.9-4.4,1.1-5.9-0.6-1.1-0.1 5.1,1.7 2.4,2.5-0.5,2.7z" fill="#1F8E44"/>
<path d="M1425.5,1182.9l2.6-0.8 7.3,0-1.3,5.4-3.1-0.8-2.2-0.5-1.5,0.3 0.4-1.4-2.2-0.8z" fill="#FCEFE5" stroke-width="4"/>
<path d="M1427.3,1186.5l-0.5,2.1-2.4,0-0.9-1.6-2.6,0.8-0.9,1.6 0.1,1.9 2.1-0.8 5.5,0.3 3.3,1.6 1.3,0 3.5-1.2-0.8-3.1-0.9-0.6-3.1-0.8-2.2-0.5z" fill="#FCEFE5" stroke-width="3.5"/>
<path d="M1420.1,1191.3l0.3,2.2 3.1,0.8 0.5,1.6 1.5,1.3 1.1,0.1 3.3-0.8 0.7-1.9 1.7-2.2-1.3,0-3.3-1.6-5.5-0.3z" fill="#FCEFE5" stroke-width="3.5"/>
<path d="M1416.9,1195.8l0.9-1.3 2.6-1 3.1,0.8 0.5,1.6z" fill="#E5EAD7" stroke-width="3.5"/>
<path d="M1405,1197.3l5.1-1.6 4-0.8 1.1,1.2 1.7-0.3 7.1,0.1 1.5,1.3 0.9,3.3-1.6,1.1 0.9,2.2 0.9,2.7-3.1,3.8-3.5-0.8-2.6,0.5-2-0.8-4.2-2.2-2.2-0.8-2.6-0.8-0.3-0.3-0.2-4.3z" fill="#F5D5CE"/>
<path d="M1400.4,1207l4.9-1.9 0.8,0 0.3,0.3 2.6,0.8 2.2,0.8 4.2,2.2-4.2,1.9-0.2,0.5-4.2-1-2.6,0.5z" fill="#E5EAD7"/>
<path d="M1411,1211.6l0.2,1.7 4,0.5 3.7-1.9 3.5,0.3 1.1-1.9-3.5-0.8-2.6,0.5-2-0.8-4.2,1.9z" fill="#C1DABB"/>
<path d="M1394.9,1214.6l2,0 5.5,0-0.4-1.9 2.2-1.6 2.6-0.5 4.2,1 0.2,1.7-2,2.9-0.2,0.6-3.3,0.8-1.8-0.3-3.3-1.3-3.7,0.2-2.2-0.5z" fill="#C1DABB"/>
<path d="M1387.2,1218.1l1.8-2.9 1.5-0.9 4.4,0.3-0.2,1.1 2.2,0.5-0.9,1.9-2.4,0.8-1.3-1-3.1,1-0.4-1.3z" fill="#C1DABB" stroke-width="4"/>
<path d="M1390.3,1224.6l2.9-1.6 3,1.4 0.7,2.7 3.7,3.2 2.9,1.4 1.8,1.1 2.8,2.1 0.9,2.7-0.7,2.7 1.8-0.8 1.5-1.9-1.5-1.9 1.1-2.1 3.3,1.3-1.1-1.9-4-3.2-2.6-0.3-3.1-4.3-2.6-1.6-0.2-3 3.3-0.8-0.5-1.1 0.2-1.4-3.3-1.3-3.7,0.2-0.9,1.9-2.4,0.8-1.3-1-3.1,1-0.2,4.1zM1401.1,1240.3l7-0.8-1.1,4.4-5.7-2.5zM1391.8,1237.6l0-5.1 3.3-0.8-0.2,5.4z" fill="#C1DABB" stroke-width="3.6"/>
<path d="M1403.7,1218.7l0.2-1.4 1.8,0.3 3.3-0.8 1.1,0.5-2,0.8-0.6,1.9-3.8,0 0.5-0.2z" fill="#C1DABB" stroke-width="4.5"/>
<path d="M1403.7,1220l3.8,0 0.6-1.9 2-0.8 2.2,1.6 3.1,0 1.1,1.9-0.9,0.9-2.2-0.6-4.8-0.3 0.2,2.8 3.7,3.2 2,1.4-2.2-1.4-3.3-1.4-1.8-1.8-1.5-3-1.3,1.3z" fill="#C1DABB" stroke-width="4.5"/>
<path d="M1408.6,1220.8l4.8,0.3 2.2,0.6 1.3,2.4-0.9,1.3-1.1,0.9-0.4,1.9-2-1.4-3.7-3.2z" fill="#C1DABB" stroke-width="4.5"/>
<path d="M1416.5,1220.8l-1.1-1.9 2.8-0.5 2.9,2.4 2.2,1.4 0.4,1.4 0.7,2.7-1.3,1 0,1.4-1.8,0.3-2.2,0.5-1.1-1.6-0.2-0.3-1.8-2.2 0.9-1.3-1.3-2.4z" fill="#C1DABB" stroke-width="4"/>
<path d="M1414.5,1228.2l0.4-1.9 1.1-0.9 1.8,2.2-1.3,2.2z" fill="#C1DABB" stroke-width="4.5"/>
<path d="M1416.5,1229.8l1.3-2.2 0.2,0.3 1.1,1.6-0.2,1.9 1.1,1.4-0.7,1.8-1.5,1.1-1.3-1.6 0.2-2.7z" fill="#C1DABB" stroke-width="4.5"/>
<path d="M1418.9,1231.4l0.2-1.9 2.2-0.5 1.8-0.3 1.3,2.7-2.2,0.5-2.2,0.9z" fill="#C1DABB" stroke-width="4.5"/>
<path d="M1417.8,1235.7l1.5-1.1 0.7-1.8 2.2-0.9 2.2-0.5 3.3-0.5 3.3,0.5 1.3-0.8-0.6,1.9-5.1,0-0.4,2.4-2-1.3 0,3.2 2.4,3 0,1.3-2.2-0.5 0.4,3.8-1.7,0-1.6-0.8-0.8-2.5-0.5-1.6-0.9-1.3zM1425.5,1247.1l6.2,0.8-4,0.6z" fill="#C1DABB" stroke-width="5"/>
<path d="M1423.7,1223.6l2.9,1.3 4.4-0.5 2.2-0.6 3.5,1.1-1.5,2.4 0.2,2.2-3.7,0.8 0.6,0.3-1.3,0.8-3.3-0.5-3.3,0.5-1.3-2.7 0-1.4 1.3-1z" fill="#98C698"/>
<path d="M1418.2,1218.4l2.2-0.8 2-4.1 1.8-0.2 3.5,0.2 4.6-1 3.3,3.7 0.2,3.8 3.3,0.6-2.4,4.3-3.5-1.1-2.2,0.6-4.4,0.5-2.9-1.3-0.4-1.4-2.2-1.4z" fill="#98C698"/>
<path d="M1409.2,1216.2l2-2.9 4,0.5 3.7-1.9 3.5,0.3 1.8,1.1-1.8,0.2-2,4.1-2.2,0.8-2.8,0.5-3.1,0-2.2-1.6-1.1-0.5z" fill="#C1DABB"/>
<path d="M1432.3,1212.5l3.1,0 2.6,1 1.8,3.8-4,2.7-0.2-3.8z" fill="#C1DABB" stroke-width="3.5"/>
<path d="M1423.5,1210.3l3.1-3.8-0.9-2.7 3.1-1.1 5.5,1.1 6.6,0.5 2.9-2.1 4.4-0.8 3.7,5.1 5.5,1.6 4.4,0.8-0.7,4.6-3.3,2.2-7,2.4 1.1,2.5 2.2-0.3-3.3,1.6-3.3,0.8-2.2-2.4 2.4-1.9-3.9-0.5-2.5-0.6-2.2,3.3-3.3-0.6 4-2.7-1.8-3.8-2.6-1-3.1,0-4.6,1-3.5-0.2-1.8-1.1z" fill="#FCEFE5"/>
<path d="M1425.7,1203.8l-0.9-2.2 1.6-1.1-0.9-3.3 1.1,0.1 3.3-0.8 0.7-1.9 1.7-2.2 3.5-1.2 6,1.5-0.2,2.2 1.1,1.6 3,2.1-2.8,0.9 0.9,2.7-2.9,2.1-6.6-0.5-5.5-1.1z" fill="#D2E2C8"/>
<path d="M1444.9,1248.5l1.5-1.1 3.5-0.8-1.3,1.9-2.2,1z" fill="#C1DABB" stroke-width="4"/>
<path d="M1441.6,1154.3l4.8,1 6.6,0.6 11.4,6.5-7,1.9-7.7-1.4-4.4-1.3 5.1,7 4.8,1.6 2.2-1.9 5.5,0-1.1-3.8 4.4-1.3 4.4,1.3 0-6.7 5.5,1.9 3.3,0.2 11-1.6 4.4-0.8 4.4,0 6.6-1.1 1.1-2.1 8.8,1.3 4.4,2.4 3.3,0.3-2.2-3.2-0.5-3.6 3.8-5.9 3.3-1.1 5.5,1.9 0.6,4.6 1.6-1.4 3.3-2.7 6.6,0.9 5.5-3.6 13.2-0.8 1.1-1.9 17.6-4.3 11-1.1 9.4-3.2 6,2.4 11,0.8 3.3,2.7-7.7,3.3 6.6,1.3 13.2,1.9 11-1.6 8.8,1.1 3.3,6.2 3.3,0.5 4.4-1.9 11,0 4.4-2.7 13.2,0.6 8.8,1.9 4.4,1.9 15.4,3 4.4,0.8 8.8-0.3 6.6-0.8 5.5,2.4 0-3 12.1,0.9 8.8,2.4 0,10.5-5.5,0.9 3.9,5.9-11.6,1.9-7.7,4.9-9.9-0.8-5.5,1.1-1.1,5.1-1.1,4.9-1.6,3.2-3.9,4.9-3.8,3.8-3.5,2.1-2.4-5.4-0.2-5.4 1.1-5.4 4.4-4.1 7.7-5.4 4.4-2.7 2.2-2.7-9.9,2.2-7.7,0.5-4.4,5.4-7.7,0.6-6.6-0.3-11,0.3-5.5,3.5-6.6,8.1-4.9,0.8 4.9,1.9 5.9,0.3 2.7,1.6-2,6.2 0,6.8-4.4,5.4-5.5,5.7-6.2,4.3-2.8-0.8-2.7,2.2-0.2-1.1 1.3-2.2-0.4-3.7 4.4-0.6 3.3-7 0.6-1.9-8.3,1.9-0.7-3.3-7-2.4-3.3-7.9-5.5-2.1-5.7,0.5-2,1.6-1.6,6.5-3.3,1.9-2.4-0.5-3.7-1.1-6.6,2.2-7.7,0.2-7.7-2.9-6-0.6-0.6-2.1-6.8-1.9-2.5,2.9 1.1,1.4-7.2,1.3-6.6-1.8-9.3,4-1.1,0.3-4.6-1.4-4.8-3.8-6.6,0.6-4.6-6.8-3.1-2.4-6.8,1.9 0.8-1.6-6.1-0.3 0-3-4.4-0.3-8.4,2.7-8.1,1.4-1.1,2.4-2.2,3.3 3.3,1.3-0.2,1.4-6.2-0.6-6.4,1.1-7.5-3-3.3,0-4.6,3-0.6,2.2-3.5,2.4 1.3,3 3.5,3.8-3.3,2.2-1.1,2.9 1.3,4.1 2,3-4,0.2-0.6-0.2-5.3-1.9-1.1-0.6-7.7-1.6-4-2.7-0.8-0.8-2.7-1.4 2-2.1 1.5-2.2 2.5-0.8-2.5,0 3.3-2.2 0.7-4.6-4.4-0.8-5.5-1.6-3.7-5.1-4.4,0.8-0.9-2.7 2.8-0.9-3-2.1-1.1-1.6 0.2-2.2-6-1.5-0.8-3.1-0.9-0.6 1.3-5.4 4.4-1-3.3-1.7-1.5,0 3.7-2.7 4.4-3.8-3.3-2.4 0.2-5.1-2.2-3.3 2-2.2-3.3-1.3 0.9-2.5 0.2,0zM977.8,1156.7l11,3.8 7.7,1.6 4,2.2-6.2,4.6-6.6-1.1-5.5-1.9-4.4,1.3zM1686.2,1196.2l2.8,4.9-0.2,8.1 3.3,1.6-3.7,5.7-1.1,2.2-1.1-4.4 0-7.8-0.7-5.4z" fill="#E5EAD7"/>
<path d="M1398,1129.6l6.6-2.4 13.2-1.1 15.4,0.3-11,4.3-8.8,4.9-8.8-2.5z" fill="#606060" stroke-width="5"/>
<path d="M1431.7,1232.5l0.6-1.9-0.6-0.3 3.7-0.8 2.4,2.2 5.3,0 4.4-2.2 3.3-0.3 3.3,2.2 4.4,1.1 6.6-1.6 4.4,1 0.4,2.7 2.5,1.1-1.4,0.8 0.7,3.8 0.7,2.2-5.3,0.3-0.2-0.3-5.1,1.1-4.4,0-2.9,0-1.1,2.4-0.4-2.4-3.1,0-2.2,1.9-3.5-1.1-3.1-0.8-2,1.9-3.7-1.6-1.5-0.9-0.3-3.7-2.2,0.2 1.4-2.7-1.6-0.5 0.2-1.7 2.9-0.8 3.3-0.2 0.2-1.4-3.5,0.3z" fill="#98C698"/>
<path d="M1461.8,1225.7l3.3,5.2 4.4,1 3.3-0.5 3.1-1.6-5.3-1.9-1.1-0.6z" fill="#C1DABB" stroke-width="3.5"/>
<path d="M1469.5,1231.9l3.3-0.5 1.1,1.9 2.2,3 0,1.6-1.1-1.1-2.6-1.1-2.5-1.1z" fill="#C1DABB" stroke-width="3.5"/>
<path d="M1472.8,1231.4l3.1-1.6 0.6,0.2 4-0.2 2.2,3.5 1.7,0.5-2.1,3-0.9,2.5-2-1.1 0-2.2-3.3,1.9 0-1.6-2.2-3z" fill="#C1DABB" stroke-width="3.5"/>
<path d="M1453.4,1246l1.1-2.4 2.9,0 4.4,0 5.1-1.1-2.9,7.6-4.8,2.7-4.4,3-2.5-1.1 0.3-1.6 1.7-2.5-0.6-1.1-0.9-0.1 0-2.3z" fill="#C1DABB"/>
<path d="M1451,1253.6l1.8-4.2 0.9,0.1 0.6,1.1-1.7,2.5z" fill="#C1DABB" stroke-width="4"/>
<path d="M1449,1258.5l1.6,4.8 1.1-4.6 0.2-0.8 0-2.4 0.4-0.8 0.3-1.6-1.6,0.5-0.9,3z" fill="#C1DABB" stroke-width="4"/>
<path d="M1450.6,1263.3l2.4,0.9 3.3-2.2-1.1-4.1 4.4-1.3 0.4-0.6-0.8-3.2-4.4,3-2.5-1.1-0.4,0.8 0,2.4-0.2,0.8z" fill="#C1DABB"/>
<path d="M1466.9,1242.5l0.2,0.3 5.3-0.3 1.5,3.2 1.5,2.2-1.7,3.3 1.7,2.1 3.6,3.8-0.3,2.2 2,3-1.3-0.3-0.7-0.3-2.6,2.7-4-0.2-5.9-5.2-3.5-2.2-2.7-0.8-0.8-3.2 4.8-2.7z" fill="#C1DABB"/>
<path d="M1476.1,1264.4l2.6-2.7 0.7,0.3 0.9,4.1-2,0z" fill="#C1DABB" stroke-width="4"/>
<path d="M1450.6,1263.3l2.4,0.9 3.3-2.2-1.1-4.1 4.4-1.3 0.4-0.6 2.7,0.8 3.5,2.2 5.9,5.2 4,0.2 2.2,1.7 2,0 1.3,2.7 2.6,2.1-0.2,3.3 1.5,2.1 0.9,0.3 0.9,1.1 2.2,3.5 5.7,0.6 0.9,1.8-1.3,5.5-6.6,2.7-6.6,1-4.4,4.4-1.3-0.6-2.7-0.5-3.9-0.3-0.5,2.2-0.8,0.8-0.7-1.6-3.3-5.4-4-6.8-1.5-5.4-2.9-4.1-2.6-5.4-2.2-3-0.9,0z" fill="#C1DABB"/>
<path d="M1468,1298.8l0.8-0.8 0.5-2.2 3.9,0.3 2.7,0.5 1.3,0.6 4.4-4.4 6.6-1 2.4,6.5-2,2.7-7,4.3-8.8,3.3-3.3,0.2-0.7-1.6-0.8-4.6z" fill="#C1DABB"/>
<path d="M1490.6,1298.3l-2.4-6.5 6.6-2.7 1.3-5.5-0.9-1.8 1.8-3.8 0.9-2.2 1.3,2.4 3.5,1.1 2.6,3-2.8,5.7-1.6,3.8-3.3,2.9-2.8,2.5z" fill="#C1DABB"/>
<path d="M1487.3,1277.7l2.2,3.5 5.7,0.6 1.8-3.8 0.9-2.2-0.7-3-1.8,1.9-2.2,2.4-3.7,0.6z" fill="#C1DABB" stroke-width="3.5"/>
<path d="M1485.5,1276.3l0-2.4 0.9-1.4 0.9,2.2 0,1.9-0.9,0z" fill="#C1DABB" stroke-width="4"/>
<path d="M1471,1236.5l1.4-0.8 2.6,1.1 1.1,1.1 3.3-1.9 0,2.2 2,1.1 1.3,2.4 2.2,1.3 3.3,1.1 4.4-0.8-0.2-1.1 3.5-1.9 3.7-0.5 4.6,1.9 4.2,2.4 0,2.7-1.5,5.2 0.9,5.9 1.9,0.3-1.9,4.3 1.7,3 2.4,1.4 1.1,2.9-0.2,1.1-3.1,1.4-0.4,2.7-5.7-0.6-3.8-0.8-1.1-3.8-5,1.4-3.3-1.1-3.3-2.2-1.6-3.2-1.7-3.3-2.2-0.5-0.9,1.4-2-3 0.3-2.2-3.6-3.8-1.7-2.1 1.7-3.3-1.5-2.2-1.5-3.2-0.7-2.2z" fill="#98C698"/>
<path d="M1492.4,1242.2l-0.9-5.9-1.3-1.4-0.3-3.2-0.6-1.7 2.2-1 2.6,0.5 1.8,1.9 1.1,0 2.2,0 0.2-2.7 3.1-1.1 3.3,1.4 2.8,2.7 2.5,3.2 4.4,3 4.6,2.4 0,1.7-3.8,0.8-0.6,2.1-3.8,2.5-3.5-0.6 0-2.7-4.2-2.4-4.6-1.9-3.7,0.5z" fill="#C1DABB"/>
<path d="M1497,1231.4l0-10 5.7-1.6 5.3,3.2 2.2,2.4 6.4-0.5 2.6,1.9-0.2,2.7 4.4,2.7 4.8-2.7 1.8-0.8 0.4,0.3 4,3.8-2.9,1.6-2.6-0.3-2.7-1.3-1.3,3.5-2.8,0.5 0.8,5.7-2.8-0.5 0-1.7-4.6-2.4-4.4-3-2.5-3.2-2.8-2.7-3.3-1.4-3.1,1.1-0.2,2.7z" fill="#C1DABB"/>
<path d="M1565.8,1210.3l-3.3,1.9-0.6,3.5-5.5-0.3-1.6,4.6 0.7,0.8-5.7,0.6 0.4,7.8-2.6-1.9-7.3-0.2-3.7-0.8-1.1,2.1-5.1-0.8-0.4,1.1-1.8,0.8-4.8,2.7-4.4-2.7 0.2-2.7-2.6-1.9-6.4,0.5-2.2-2.4-5.3-3.2-5.7,1.6 0,10-1.1,0-1.8-1.9-2.6-0.5-2.2,1 0-2.7-3.3-4.6-1.6-0.2 2-1.9 4,0 0-4.4-4-0.5-4.8,1.9-3.5-3.8-1.3-3 3.5-2.4 0.6-2.2 4.6-3 3.3,0 7.5,3 6.4-1.1 6.2,0.6 0.2-1.4-3.3-1.3 2.2-3.3 1.1-2.4 8.1-1.4 8.4-2.7 4.4,0.3 0,3 6.1,0.3-0.8,1.6 6.8-1.9 3.1,2.4 4.6,6.8 6.6-0.6 4.8,3.8z" fill="#C1DABB"/>
<path d="M1530,1228.7l0.4-1.1 5.1,0.8 1.1-2.1 3.7,0.8 7.3,0.2 2.6,1.9-3.7,1.9-3.8,1.4-2.2,1.3-2.2-0.2-2.2,1.9-0.2,1-3.7,0-2.9-0.5-0.4-1.9 2.6,0.3 2.9-1.6-4-3.8z" fill="#98C698"/>
<path d="M1522.9,1242.5l-0.8-5.7 2.8-0.5 1.3-3.5 2.7,1.3 0.4,1.9 2.9,0.5 3.7,0 0.2,2.5 2.5,0 0.2,3-0.2,0.5-3.6-0.5-3.5,1.9-0.4-3.6-2.9,0.3-2,2.2z" fill="#98C698"/>
<path d="M1506.9,1252l0.9,5.9 1.9,0.3-1.9,4.3 3.5,1.1 3.7-0.3 4.6-1 0.3-2.7 3.5-2.2 2.8-0.6 0.5-2.9 1.7-0.8-0.6-1.9 2.4-0.3 1.1-3-0.7-2.7 2.7-1.6 4.6-0.6 0.7-0.5-3.6-0.5-3.5,1.9-0.4-3.6-2.9,0.3-2,2.2-3.3-0.3-2.8-0.5-3.8,0.8-0.6,2.1-3.8,2.5-3.5-0.6z" fill="#C1DABB"/>
<path d="M1509.3,1275l0.4-2.7 3.1-1.4 0.2-1.1-1.1-2.9-2.4-1.4-1.7-3 3.5,1.1 3.7-0.3 4.6-1 0.3-2.7 3.5-2.2 2.8-0.6 0.5-2.9 1.7-0.8-0.6-1.9 2.4-0.3 1.1-3-0.7-2.7 2.7-1.6 4.6-0.6 2.6,0.9 2.2,2.9 2.2,0.3-1.7,1.6-6.6,0.6-0.5,4.3 1.8,1.1 1.5,1.1-1.7,3.2-1.3,3-2.2,3-2.2,2.7-3.3-0.3-2,2.7 1.5,3.3 1.6,3.7-4.7,0.3-1.3,1.6-1.7-1-1.6-1.9-0.4-1.9-4.4,0.8z" fill="#C1DABB"/>
<path d="M1523.8,1279l1.3-1.6 4.7-0.3-1.6-3.7-1.5-3.3 2-2.7 3.3,0.3 2.2-2.7 2.2-3 1.3-3 1.7-3.2-1.5-1.1-1.8-1.1 0.5-4.3 6.6-0.6 1.7-1.6 2.5,3-0.5,4.9 1.1,0.2-1.1,3.5 5.1,2.7-2,3.8 4,2.5 3,1.3 3.1,0.6 2.4,1.6 5.1,0.5 0-4 1.5-0.6 0.3,2.2 0,1.1 1.9,0.5 4.9-0.5-0.7-2.5 0.9,0.9 3.1-3.3 4.4-1.1 3.9,2.2-0.6,1.6 0.2,1.6-2-0.5-2.2,1.9-1.3,3.8 0.2,1.3-1.1,2.2-1.7-0.3-0.3,3-0.4,1.9-1.1,0.6-0.7-4.7-2.4,0.6 0.5-1.6 1.9-2.2 0.3-0.3-5.3-0.8-0.5-1.9-3-1.3-0.7,1.9 1.8,1.6-1.8,1.9 1.3,0.8-0.2,2.7 0.9,3 0.2,0.8-2,0.3-2.6,0.8-0.2,1.6-1.1,2.2-3.1,1.9-2,2.7-4,4.6-2.2,0.8-2.2,1.6-0.4,5.7 0.4,1.3-1.1,3.8 0.3,3.8-1.4,0-0.8,2.7-1.6,1.1-1.5,2.2-2.2-2.5-0.7-2.7-1.1-3.8-2-4-0.8-4.4-2-4-1.1-5.4-0.5-2.7-0.2-3.3-0.2-3.5-0.2-1.1-0.9,1.9-2.4,1.4-2.2-0.8-2.2-3.6 1.5-0.5 1.3-1.4-2.4,0.3-1.5-1.1z" fill="#C1DABB"/>
<path d="M1550,1265.2l2-3.8 2.6,0.3 3.8,2.2 2.8,1.9 1.8,1.6 4.6,0.3 0,4-5.1-0.5-2.4-1.6-3.1-0.6-3-1.3z" fill="#98C698"/>
<path d="M1569.4,1269.3l1.9-2.4 4,1 0.9,2.5-4.9,0.5-1.9-0.5z" fill="#98C698" stroke-width="3.5"/>
<path d="M1569.8,1284.2l-0.2-0.8-0.9-3 0.2-2.7-1.3-0.8 1.8-1.9-1.8-1.6 0.7-1.9 3,1.3 0.5,1.9 5.3,0.8-0.3,0.3-1.9,2.2-0.5,1.6 2.4-0.6 0.7,4.7-0.7,3.5-1.1-4.4-2.8,0.8z" fill="#98C698" stroke-width="3.5"/>
<path d="M1549.8,1316.7l2.6,3.5 1.3,2.7-0.4,3-2.2,1.3-1.5-2.7-0.3-3.8z" fill="#C1DABB" stroke-width="4"/>
<path d="M1576.8,1287.2l0.7-3.5 1.1-0.6 0.4-1.9 0.3-3 1.7,0.3 1.1-2.2-0.2-1.3 1.3-3.8 2.2-1.9 2,0.5-0.2-1.6 0.6-1.6 2.2,1.9 0.9,0.3 0,4.3-2.4,4 0.4,1.4 2.5,1.9 1.3,0.8-0.7,2.2 2.2,1.6 2.1-0.3-2.3,3.3-2.4,1.6-2.2,0.3-1.3,3.2 0.8,2.5 1.6,2.9-0.7,3.8 2.2,3.8-0.2,5.4-0.7,3.5-0.4,1.1-0.2-4.8 0.2-3.3-1.8-4.9-0.2-4.6-2-1-3,2.9-2.5-0.5 0.7-4.1-0.9-3.5-1.5-2.7z" fill="#98C698"/>
<path d="M1594,1288l0.9,0.5 1.5,1.9 0.2,4.1-0.6,1.3 2.4-1.9 2.4-0.2 1.8,0 1.5,2.1 0.2,3 1.8,2.2-0.2,3.2-1.6,0-3.9,0.3-1.3,1.9 1.1,5.1-1.6-1.6-2.6-1.1-0.2-2.1-2,0.2-0.2,3.8-1.6,4.3 0.2,3.3 1.6,1.9 0.9,3.5 2.4,0.8 1.3,1.9-2.2,1.4-2.2-2.2-1.1-1.9-2.9-2.2 0-2.7 0.7-2.7 0.4-1.1 0.7-3.5 0.2-5.4-2.2-3.8 0.7-3.8-1.6-2.9-0.8-2.5 1.3-3.2 2.2-0.3z" fill="#F8DDD5"/>
<path d="M1594,1288l2.3-3.3 1.2-2.4 1.1,0.3 1.6,1.9 2.4,3.5 0.9,2.1 1.7,2.5 2.9,4.6 2.2,5.1 0,1.1-3.3,0.8-1.1,0 0.2-3.2-1.8-2.2-0.2-3-1.5-2.1-1.8,0-2.4,0.2-2.4,1.9 0.6-1.3-0.2-4.1-1.5-1.9z" fill="#98C698"/>
<path d="M1598.6,1282.6l2.9-0.6 3.9-1.9 3.1,1.4 2.9,3.5-2.9,2.2-2.2,4.6 1.8,3.5 3.9,4.6 2,6.8 0,4.6-4.4,3.7-1.1,2.5-4.2,2.4 0.5-3.8-1.1-1.1 2.2-1.6 1.5,0 2.9-4 0-6 0-1.1-2.2-5.1-2.9-4.6-1.7-2.5-0.9-2.1-2.4-3.5z" fill="#C1DABB"/>
<path d="M1600.2,1311.5l-1.1-5.1 1.3-1.9 3.9-0.3 1.6,0 1.1,0 3.3-0.8 0,6-2.9,4-1.5,0-2.2,1.6-2.2-0.5z" fill="#98C698"/>
<path d="M1594,1325.6l2.2,2.2 2.2-1.4 2.9,3.8 0,3.5 1.7,5.7-1.5,0.3-4.6-4.1-1.8-3.8-0.7-3.5zM1614.9,1338.3l4-1.6 3.5-2.2 2.2-3.8 3.3-1 2.8-5.2 2,1.4 3.3,3.2-2.6,2.5-0.9,0.2-4-0.2-1.7,3.5 0,1.3-2.2,3-4,0-2.6,1.1z" fill="#C1DABB" stroke-width="4"/>
<path d="M1583.4,1328l4.9,1.1 1.1,2.7 4.4,3.8 3.3,2.2 3.3,3.5 1.7,3.3 1.6,3.5 3.3,3.2-0.2,7.6-1.6,0.3-2-1.7-4.4-3.5-2.8-4-1.6-4.4-2.8-3.8-0.7-3.2-3.3-4.1zM1605.2,1361.6l1.8-2.4 5.5,2.1 4.4,0.6 1.1-1.4 3.7,1.4 4,2.1-0.2,2.8-7.5-1.1-5.5-1.4-4.6-1.1zM1614.9,1338.3l3.1,2.2 2.6-1.1 4,0 2.2-3 0-1.3 1.7-3.5 4,0.2 0.4,4.9 2.7,3.8-3.1,0.5-0.2,3.8-2.7,2.7 0.5,1.9-1.1,3.8-2.9,1.1-2.6-1.9-4,0-3.3-1.3 0-3.3-2.4-2.4-0.2-3zM1636.7,1358.1l0.4-5.4-1.7-2.5 1.9-6.7 2.2-3.8 4.9,0.8 4.8-1.6-1.5,3.2-7.7-0.3-2,3.8 3.1,0 4.2,0-3.8,2.7 2.4,5.5-0.6,3.5-2-1.1-1.5-5.7-1.1,2.2 0,5.4zM1662,1345.4l6.6,0 2.2,6.7 5.5-4.6 7.7,2.7 0,17.6-6.6-2.1-0.5-7.9-6.1-2.7-4.4-1.1-0.5-3.2-3.3-4.1zM1626.8,1365.4l4.4,0.3 4.4,0 4.4,0.2 4.4-0.5 0,1.6-6.6,0.3-6.6,0.3-3.3-0.6zM1645.7,1371.1l3.1-3-1.8,0.5zM1654.3,1345.4l1.1-7.1 1.7,4.1-1.7,3.2zM1651,1351.9l4.4-0.8 6.1,1-5,0.8z" fill="#C1DABB" stroke-width="4"/>
<path d="M1648.8,1368.1l4.4-2.2-1.1,1.7z" fill="#FFFFFF" stroke-width="4"/>
<path d="M1624.6,1330.7l2.6-1-0.4,2.1z" fill="#C1DABB" stroke-width="4"/>
<path d="M1684,1350.2l7.7,3.3 3.3,4.6 3.9,2.2-1.3,1.8 2.9,5.5 5,4-3.9-0.5-4.4-2.2-2.2-4-4.4-0.9-2.2,4.1-4.4-0.3zM1700.5,1358.4l4.4-0.3 3.7-3.5-1.5,3.5-3.3,2.2zM1705.5,1350.2l3.8,2.5 1.1,3zM1713.9,1358.1l2.8,3.5-1.5-1.3z" fill="#C1DABB" stroke-width="3.6"/>
<path d="M1638.9,1293.1l3.7,0.3 0,5.1-1.5,4.1 1.1,2.7 4.4,2.7-0.5,0.6-2.8-2.8-3.3,0.3-1.6-3-0.6-3.8zM1642.2,1324.3l3.3-4.4 4.4-3.2 2.2,6.2-2.2,4.6-3.3-2.7zM1647.2,1309.4l2.7,1.3 0,2.7-1.6,2.2-0.6-3zM1642.2,1311.3l2.6,1.3 0.2,4.9-1.7-0.8-0.2-1.9zM1631.8,1320.5l4.9-7.9-1.1,3.5z" fill="#FFFFFF" stroke-width="4"/>
<path d="M1638,1280.9l2-5.4 2,0-1.1,5.4-1.4,2.7z" fill="#FFFFFF" stroke-width="4"/>
<path d="M1661.8,1251.2l2.4-2.5 2.2-1.9 6.6-0.2 1.7-4.1 1.1,1.1 2.7-1.6 2.2-3 1.1-4.1 0.6-3.2 2.5-0.6 1.3,5.2-2.2,3.5-0.2,3.5-0.3,3.3-2.2,1.9-2.2,0.8-3.9,0.2-0.5,0.8-2.2,2.2-1.5-2.2-3.5-0.2-2.9,1.3zM1659.8,1252.5l3.7-0.3-0.4,5.7-2.9,0.8-0.9-4zM1665.3,1252.5l4.4-1.9-0.7,2.5-2.6,1.3zM1682.4,1230.9l-0.6-3.3 2.8-1.6 0.9-5.7 2.9,3 5,0 0.5,2.7-4.9,3.5-3.9-1.3-1.1,1.8z" fill="#C1DABB" stroke-width="4.5"/>
<path d="M1647.5,1234.9l3.5-2.7 2-2.2 2.8,1.1 3.3-2.7 2-0.2 0.2,0.5-2.2,2.4 0,1.7-4.8,2.9-0.2,1.4 2.2,1.6-3.1,1.1-2,1.3-2.4-0.5 0.6-2.2-0.4-2.4z" fill="#C1DABB" stroke-width="3.5"/>
<path d="M1656.3,1238.7l2.2,4.1 0,4.3-1.8,1.6-2.4,0.3-2.7,0.8 0.5-3 0-2.9 0.9-1.1-1.8-1.7 2-1.3z" fill="#98C698" stroke-width="3.5"/>
<path d="M1566.9,1210l9.3-4 6.6,1.8 7.2-1.3-1.1-1.4 2.5-2.9 6.8,1.9 0.6,2.1 6,0.6 7.7,2.9 7.7-0.2 6.6-2.2 3.7,1.1-1.5,2.4-1.1,2.7 4.2,0.6 2.4-0.6 2.8,3.3-5.2,0.8-3.1,1.9-5.3,2.4-3.7-0.5-1.1,1.6 1.1,1.9-5.3,3.3-9.9,2.4-8.8-2.7-8.8-0.6-3.3-4-4.4-1.9-5.7-0.8-0.5-4.6-5.9-4.4z" fill="#1F8E44"/>
<path d="M1565.8,1210.3l1.1-0.3 0.5,1.6 5.9,4.4 0.5,4.6 5.7,0.8 4.4,1.9 3.3,4 8.8,0.6 8.8,2.7 9.9-2.4 5.3-3.3-1.1-1.9 1.1-1.6 3.7,0.5 5.3-2.4 3.1-1.9 5.2-0.8-2.8-3.3-2.4,0.6-4.2-0.6 1.1-2.7 1.5-2.4 2.4,0.5 3.3-1.9 1.6-6.5 2-1.6 5.7-0.5 5.5,2.1 3.3,7.9 7,2.4 0.7,3.3 8.3-1.9-0.6,1.9-3.3,7-4.4,0.6 0.4,3.7-1.3,2.2 0,0.6-2,0.2-3.3,2.7-2.8-1.1-2,2.2-3.5,2.7-3.1,0.8-4,2.5 1.8-4.6-2.2-1.1-3.3,3-3.3,1.6-0.7,1.9 2.7,2.7 3.9-0.8 4,1.3-3.3,1.9-3.8,4.1 2.2,2.1 1.4,4.4 2.2,2.7 0.2,2.2-2.2,0.8 2.2,1.9-1.1,4.3-3.3,4.6-2.2,3.8-2.9,3.2-2.6,2.7-5.1,1.9-1.5,0.3-3.8,1.6-3,1.1-0.3,2.4-0.8,0-0.5-3.2-3.7,0-2.9-3.5-3.1-1.4-3.9,1.9-2.9,0.6-1.1-0.3-1.2,2.4-2.1,0.3-2.2-1.6 0.7-2.2-1.3-0.8-2.5-1.9-0.4-1.4 2.4-4 0-4.3-0.9-0.3-2.2-1.9-3.9-2.2-4.4,1.1-3.1,3.3-0.9-0.9-0.2,0-4-1-1.9,2.4-0.3-2.2-1.5,0.6-4.6-0.3-1.8-1.6-2.8-1.9-3.8-2.2-2.6-0.3-5.1-2.7 1.1-3.5-1.1-0.2 0.5-4.9-2.5-3-2.2-0.3-2.2-2.9-2.6-0.9 0.7-0.5 0.2-0.5-0.2-3-2.5,0-0.2-2.5 0.2-1 2.2-1.9 2.2,0.2 2.2-1.3 3.8-1.4 3.7-1.9-0.4-7.8 5.7-0.6-0.7-0.8 1.6-4.6 5.5,0.3 0.6-3.5zM1612.9,1291.2l2.9-2.4 2.2,1.3-2.2,3.3-2.4,0z" fill="#5AA569"/>
<path d="M1625,1402.2l5.7-3.2 4.9-1.7 5.5-2.1 1.7-5.4 2.9,0.5 2-3.8 3.3-5.4 3.9,1.4 0.9,1.3 3.1-0.3 2-6.5 4.4-3.2 5.5,2.4 4.2,0-2.2,4.1-0.9,3.2 3.3,2.5 5,4.6 3.3,0 1.6-6.8 0.4-6 1.8-5.6 2.2,5.6 0.6,4.4 3.3,1.6 1.6,6.8 0.6,3.8 4.9,2.9 2.2,6.3 2.8,2.4 4.9,5.4 1.1,8.1-1.1,7.6-3.8,7.6-2.4,6-0.4,4-5.5,1.4-2.4,2.9-3.8-2.1-2.6,1.3-5.5-1.9-2.9-2.9-0.4-3.3-2.9-0.5 0.7-2.5-1.6-4.6-0.8,5.2-3.1,0-1.8-2.5-2.2-3.5-6.6-3.2-4.8,0.2-6.6,1.9-4.4,1.9-1.1,2.5-7.7,0-4.4,2.9-4.4-0.2-2.2-1.6 1.5-6.3-1.5-5.4-1.8-6.8-2-4 1.6,0.8-1.1-4.9 0.6-4.9zM1692.1,1453.4l7.9,0.5-0.6,6.2-3.3,1.1-2.7-3z" fill="#E5EAD7"/>
<path d="M1753.7,1436.3l3.5,2.5 2.7,3.2 1.1,3 5,0.3-2.4,4.3-0.9,3-3.3,3.2-1.1-1.9 0.5-2.4-2.7-1.9 2-3 0.2-3.2-1.1-1.9-2.8-3.6zM1753.7,1452.8l3.5,3.3-2.8,4.3 0.2,1.4-4.2,1.9-1.1,3.8-3.7,1.8-3.3-1-2.2-1.1 3.3-4.4 5.5-3.5 2.2-3.2z" fill="#98C698" stroke-width="3.6"/>
<path d="M1734.6,1397.6l5.5,4.6 1.1,1.6-3.3-1.6z" fill="#FFFFFF" stroke-width="4"/>
<path d="M1718.1,1361.3l3.3,2.5 4.4,3.8 3.9,3.5-3.9-1.9-5.5-4.9z" fill="#FFFFFF" stroke-width="4"/>
<path d="M1740.3,1383.3l1.5,2.7 2.2,5.1-1.7-3.8z" fill="#FFFFFF" stroke-width="4"/>
<path d="M1763.8,1390.6l2.9,0-0.5,1.9-2.2-0.3z" fill="#FFFFFF" stroke-width="4"/>
<path d="M1175.6,1305.8l1.5-1.6 2,1.1 1.6,1.6 0,0.6-2.7-0.3z" fill="#C1DABB" stroke-width="2"/>
</g>
<path d="M1182.4,1170.5l2.2-5.7 6.6-0.8 6.6,4.6-1.1,3.2-7.7,1.1z" fill="#A9CEA6" stroke="#606060" stroke-width="4.5" stroke-linejoin="round"/>
<path d="M1243.4,1214.1l3.9-8.4 4.4-2.2-0.4,4.3 4.8,1.9 1.8,4.9-1.8,2.2-4.4-0.6-1.1-1.9zM1102.1,1212.2l-3.3-1.1-7.2-5.1 2.8-0.3 4,2.1 3.1,2.8zM1081.2,1197l2.7,0.3 1.7,4.3-3.3-1.9zM1232.1,1208.1l5.3,1.4-3.3,0.2zM1232.6,1216.5l4.8,0.8-1.7,1.4z" fill="#A9CEA6" stroke="#606060" stroke-width="4.5" stroke-linejoin="round"/>
<path d="M1487.1,1149.1l7.7-4.3 2.2-2.5 8.8-4.8 11-2.5 7.7,0.8-9.9,3.3-12.1,5.1-2.2,6.8-8.8,0.5zM1578.4,1128.8l8.8-4.3 13.2,1.6 8.8,4.3-11,2.2-11-1.1zM1675.2,1139.4l8.8-2.2 11,1.4 11,1-6.6,1.7-11,3.2-8.8-2.2zM1766.5,1150.5l3.3-0.9 0,1.7zM1475,1125.8l8.8-1.6 15.4-1.1 15.4,0.8-4.4,1.9-15.4,0.8z" fill="#E5EAD7" stroke="#606060" stroke-width="5.5" stroke-linejoin="round"/>
<path d="M1097.4,1142.6l6.3-2.5 11.2,1.3 2.5,5-6.2,3.8-11.3-1.3z" fill="#606060" stroke="#606060" stroke-width="2" stroke-linejoin="round"/>
<path d="M1101.2,1143.6l9.4-0.6 1.6,2.8-7.3,1.6z" fill="#A9CEA6"/>
<path d="M1116.2,1145.2l7.5-2.6 11.3,0 12.5,1.3 2.5,6.3-2.5,6.2-10,2.5-11.3-1.2-7.5-3.8z" fill="#606060" stroke="#606060" stroke-width="2" stroke-linejoin="round"/>
<path d="M1121.4,1147.4l11.1-1.2 12.2,1.2 0.7,5.6-9.2,2.5-11.2-1.2z" fill="#A9CEA6"/>
<path d="M1102.4,1135.1l7.5-3.1 13.8-2.5 8.8-0.6 3.7,5-3.7,5-12.6,0.6-12.5,0z" fill="#606060" stroke="#606060" stroke-width="2" stroke-linejoin="round"/>
<path d="M1137.5,1128.9l10-3.1 10-3.2 12.5-3.1 15-1.9 16.3-1.2 18.8,0.6 16.2,1.9-8.7,6.2-12.5,5-10,3.8-3.8,7.5 7.5,5 11.3,2.5 10,6.3 8.7,6.2-2.5,8.8-5,5-1.2,7.5-6.3,2.5-6.2-5-2.5-7.5-7.5-1.3-5-7.5-7.6-3.7-6.2-5-8.8,2.5-10-2.5-7.5,2.5-10-3.8-2.5-7.5-7.5-5-3.8-6.3z" fill="#606060" stroke="#606060" stroke-width="2" stroke-linejoin="round"/>
<path d="M1195.7,1127.9l6.9-5.9 16.8-2.8-4.3,4.7-12.5,5.6z" fill="#A9CEA6"/>
<path d="M1191.5,1146.7l14.6-1.3 1.2,5.8-12.3,1.2z" fill="#A9CEA6"/>
<path d="M1209.1,1154.2l11,1.2 11,6.3 1,8.2-8.3,1.3-8.7-6z" fill="#A9CEA6"/>
<path d="M1195.7,1158.3l6.6-0.6 0.5,9.7-5.3,0z" fill="#FFFFFF"/>
<path d="M1145.4,1142.3l6.8,0.6-0.6,4.5-5.1-0.6z" fill="#FFFFFF"/>
<path d="M1208.2,1173.3l15.6,1.9 0.7,5-6.3-1.3z" fill="#FFFFFF"/>
<path d="M1170,1146.4l5.6,0.6-0.6,2.2-4.4-0.5z" fill="#FFFFFF"/>
<path d="M1152.5,1127l5-0.6-0.3,2.5-4.1,0.2z" fill="#FFFFFF"/>
<path d="M1011.3,1195.7l-7.1,2.9-8.8,2.8-8.8,1.6-7.7,1.1" fill="none" stroke="#606060" stroke-width="3" stroke-linecap="round" stroke-linejoin="round"/>
<path d="M1070.2,1183.5l5.5,3.2 4.4,6.3 4.4,4 4.4,4.1 3.3,4" fill="none" stroke="#606060" stroke-width="7" stroke-linecap="round" stroke-linejoin="round"/>
<path d="M1092.2,1205.1l4.4,3.8 3.8,2.7" fill="none" stroke="#606060" stroke-width="4" stroke-linecap="round" stroke-linejoin="round"/>
<path d="M1222,1128.8l11,7 12.1,4.4 5.5,5.4 5.5,8.1 3.3,10.8 4,8.2 8.1,6.5" fill="none" stroke="#606060" stroke-width="7.5" stroke-linecap="round" stroke-linejoin="round"/>
<path d="M1329.8,1134.8l-2.2,8.1-4.4,5.4-2.2,4.1-6.6,4-11,3.5-11,5.2-8.8,4.9-4.4,6.7" fill="none" stroke="#606060" stroke-width="4.5" stroke-linecap="round" stroke-linejoin="round"/>
<path d="M1324.3,1140.2l-3.3,5.9-3.3,5.4" fill="none" stroke="#606060" stroke-width="10" stroke-linecap="round" stroke-linejoin="round"/>
<path d="M1228.6,1123.9l17.6-2.7 28.6-1.6 26.4-1.6 24.2,3.2 17.6,1.4" fill="none" stroke="#606060" stroke-width="5" stroke-linecap="round" stroke-linejoin="round"/>
<path d="M1186.2,1314.5l2.8,2.2 2.7,2.7 3.9,1.6 2.7-2.4 3.9,1.6" fill="none" stroke="#606060" stroke-width="5.5" stroke-linecap="round" stroke-linejoin="round"/>
<path d="M1187.9,1283.6l3.3-1.8 5.5-0.3 5.5,3.2 4.4,2.7 2.7,1.1" fill="none" stroke="#606060" stroke-width="6" stroke-linecap="round" stroke-linejoin="round"/>
<path d="M1210.6,1293.1l3.7-1.1 5.5,0 3.1,0.8" fill="none" stroke="#606060" stroke-width="5" stroke-linecap="round" stroke-linejoin="round"/>
<path d="M1226,1293.9l3.3,0" fill="none" stroke="#606060" stroke-width="4" stroke-linecap="round" stroke-linejoin="round"/>
<path d="M1063.6,1154.8l8.8,1.6 5.5-1.6 12.1-1.1 8.8,1.6 11,0 11,2.2 11,2.2 11-1.4 11,1.4 7.7-1.1 2.2-6.2" fill="none" stroke="#606060" stroke-width="5.5" stroke-linecap="round" stroke-linejoin="round"/>
<path d="M1219.8,1216l7.7-5.4 4.4,1-1.1,4.9 4.4,2.7 4.4,0.8 1.8-2.7" fill="none" stroke="#606060" stroke-width="4.5" stroke-linecap="round" stroke-linejoin="round"/>
<path d="M1228.6,1224.6l4.4-2.1 5.5-1.9" fill="none" stroke="#606060" stroke-width="4" stroke-linecap="round" stroke-linejoin="round"/>
<path d="M1231.9,1180l5.5,6.2 4.4,6.8 5.5,4 3.3,4.9" fill="none" stroke="#606060" stroke-width="4.5" stroke-linecap="round" stroke-linejoin="round"/>
<path d="M1202.2,1174.6l8.8,0.2 8.8,3.3 2.2,5.4 5.5,0" fill="none" stroke="#606060" stroke-width="4" stroke-linecap="round" stroke-linejoin="round"/>
<path d="M1118,1257.9l3.7,6.8 4.4,6 3.5,5.9 2.2,3.5" fill="none" stroke="#606060" stroke-width="4.5" stroke-linecap="round" stroke-linejoin="round"/>
<path d="M1101,1218.7l-0.6,10.8 3.9,11.4 4.2,8.6 7.3,4.9" fill="none" stroke="#606060" stroke-width="4" stroke-linecap="round" stroke-linejoin="round"/>
<path d="M1226.4,1221.9l-7.7,4.9 0.5,3.2-8.2,3.6-3.3,8.1-1.1,6.8-6.6,4.6-4.4,4.8 1.6,10.9" fill="none" stroke="#606060" stroke-width="4" stroke-linecap="round" stroke-linejoin="round"/>
<path d="M1386.6,1183.5l-1.1-6.8 3.7-4 7.7-4.4 5.5-5.1 5.5-5.4" fill="none" stroke="#606060" stroke-width="8" stroke-linecap="round" stroke-linejoin="round"/>
<path d="M1407.9,1157.8l7.7-3.5 11-2.5 8.8,0 5.1,1.9" fill="none" stroke="#606060" stroke-width="5.5" stroke-linecap="round" stroke-linejoin="round"/>
<path d="M1393.2,1193.8l1.3-4.4 2.4-1.9" fill="none" stroke="#606060" stroke-width="6" stroke-linecap="round" stroke-linejoin="round"/>
<path d="M1396.5,1193.2l4.4-0.5" fill="none" stroke="#606060" stroke-width="6" stroke-linecap="round" stroke-linejoin="round"/>
<path d="M1718.5,1205.1l-3.7,2.7-6.6,6.8-6.6,4.6-5.5,4.1-2,1.9" fill="none" stroke="#606060" stroke-width="3" stroke-linecap="round" stroke-linejoin="round"/>
<path d="M1577.9,1306.7l-0.2,5.4 0.7,6.7 1.7,5.5" fill="none" stroke="#606060" stroke-width="3.5" stroke-linecap="round" stroke-linejoin="round"/>
<path d="M1520.7,1151.5l3.8-5.9 8.8,0.8 0.6,10 2.7,4.1" fill="none" stroke="#606060" stroke-width="4" stroke-linecap="round" stroke-linejoin="round"/>
<path d="M1538.8,1146.9l6.6,0.9 5.5-3.6 3.3,5.4 2.2,4.1" fill="none" stroke="#606060" stroke-width="4" stroke-linecap="round" stroke-linejoin="round"/>
<path d="M1565.2,1141.5l17.6-4.3 11-1.1 9.4-3.2 6,2.4 11,0.8 3.3,2.7-7.7,3.3 6.6,1.3 13.2,1.9 11-1.6 8.8,1.1 3.3,6.2 7.7-1.4 11,0 4.4-2.7 13.2,0.6 13.2,3.8 15.4,3" fill="none" stroke="#606060" stroke-width="4.5" stroke-linecap="round" stroke-linejoin="round"/>
<path d="M1446.4,1155.3l6.6,0.6 11.4,6.5-7,1.9-7.7-1.4" fill="none" stroke="#606060" stroke-width="4" stroke-linecap="round" stroke-linejoin="round"/>
<path d="M1470.6,1164.5l0-6.7 5.5,1.9 14.3-1.4 8.8-0.8 7.7-3.2 8.8,1.3 5.5,0.8" fill="none" stroke="#606060" stroke-width="4" stroke-linecap="round" stroke-linejoin="round"/>
<path d="M1212.1,1485.3l-3.7-6.8-0.2-8.1 2.8-5.4 0.9-6.8" fill="none" stroke="#606060" stroke-width="6" stroke-linecap="round" stroke-linejoin="round"/>
<path d="M1223.1,1486.7l-3.3,4-5.5-2.7-3.3-4" fill="none" stroke="#606060" stroke-width="6.5" stroke-linecap="round" stroke-linejoin="round"/>
<path d="M1229.7,1491.5l-6.6,0.6-4.4,0.8" fill="none" stroke="#606060" stroke-width="5" stroke-linecap="round" stroke-linejoin="round"/>
<path d="M1200.5,1271.2l2.8,4.3 3.3,3.3 3.3,3.5 3.3,3.5" fill="none" stroke="#606060" stroke-width="5" stroke-linecap="round" stroke-linejoin="round"/>
<path d="M1230.8,1293.7l4.4,0.8 2.7,2.7 1.1,4 0.6,2.7 0,3.6-1.3,2.9 0.9,4.1" fill="none" stroke="#606060" stroke-width="4" stroke-linecap="round" stroke-linejoin="round"/>
<path d="M1019.7,1283.9l5-0.6 5,3.1 2.5,4.4" fill="none" stroke="#606060" stroke-width="4" stroke-linecap="round" stroke-linejoin="round"/>
<path d="M1064.1,1365.2l3.8,5.7" fill="none" stroke="#606060" stroke-width="3" stroke-linecap="round" stroke-linejoin="round"/>
<path d="M993.4,1379.6l6.9,2.5" fill="none" stroke="#606060" stroke-width="3" stroke-linecap="round" stroke-linejoin="round"/>
<path d="M994.7,1367.1l2.5,1.9" fill="none" stroke="#606060" stroke-width="3" stroke-linecap="round" stroke-linejoin="round"/>
<path d="M977.2,1387.1l1.8,5.7 1.3,6.2" fill="none" stroke="#606060" stroke-width="4" stroke-linecap="round" stroke-linejoin="round"/>
<path d="M989.1,1394l-1.3,7.5" fill="none" stroke="#606060" stroke-width="3" stroke-linecap="round" stroke-linejoin="round"/>
<path d="M1021.6,1394.7l5.6,3.1" fill="none" stroke="#606060" stroke-width="3.5" stroke-linecap="round" stroke-linejoin="round"/>
<path d="M1039.7,1387.8l5,3.7" fill="none" stroke="#606060" stroke-width="4" stroke-linecap="round" stroke-linejoin="round"/>
<path d="M1692.6,1287.6l2.5,8.8-2.5,10" fill="none" stroke="#606060" stroke-width="2.5" stroke-linecap="round" stroke-linejoin="round"/>
<path d="M1747.7,1313.9l2.5,11.3" fill="none" stroke="#606060" stroke-width="2.5" stroke-linecap="round" stroke-linejoin="round"/>
<path d="M1742.7,1312.7l3.1,7.5" fill="none" stroke="#606060" stroke-width="2.5" stroke-linecap="round" stroke-linejoin="round"/>
<path d="M1753.9,1335.2l3.8,7.5 3.7,6.3" fill="none" stroke="#606060" stroke-width="3" stroke-linecap="round" stroke-linejoin="round"/>
<path d="M1741.4,1381.5l3.1,8.8 3.2,7.5" fill="none" stroke="#606060" stroke-width="3.5" stroke-linecap="round" stroke-linejoin="round"/>
<path d="M1733.9,1396.5l8.8,6.3" fill="none" stroke="#606060" stroke-width="3.5" stroke-linecap="round" stroke-linejoin="round"/>
<path d="M1760.1,1200.8l10,1.9" fill="none" stroke="#606060" stroke-width="3" stroke-linecap="round" stroke-linejoin="round"/>
<path d="M1534.7,1320.2l0.5,10-0.3,15" fill="none" stroke="#606060" stroke-width="2.5" stroke-linecap="round" stroke-linejoin="round"/>
<path d="M1486.9,1309.8l6.8-1.4" fill="none" stroke="#606060" stroke-width="3" stroke-linecap="round" stroke-linejoin="round"/>
<path d="M1239.3,1482.9l3.5,1.3 3.6-1.3" fill="none" stroke="#606060" stroke-width="4.5" stroke-linecap="round" stroke-linejoin="round"/>
<path d="M1289.7,1489.8l5,2.5" fill="none" stroke="#606060" stroke-width="3.5" stroke-linecap="round" stroke-linejoin="round"/>
<path d="M1313,1495.4l3.1,4.4-2.7,5.4" fill="none" stroke="#606060" stroke-width="3" stroke-linecap="round" stroke-linejoin="round"/>
<path d="M976.9,1149.7l6.5-0.4 4.5-0.8" fill="none" stroke="#606060" stroke-width="3.5" stroke-linecap="round" stroke-linejoin="round"/>
<path d="M996.2,1169.3l3.2,1.4 3.2,1.6" fill="none" stroke="#606060" stroke-width="3.2" stroke-linecap="round" stroke-linejoin="round"/>
<path d="M979.4,1156.1l6,2.5 7,3 7,2" fill="none" stroke="#606060" stroke-width="4.5" stroke-linecap="round" stroke-linejoin="round"/>
<g fill="#606060"><circle cx="1262.5" cy="1345.9" r="4.2"/><circle cx="1228.2" cy="1311.3" r="1.6"/><circle cx="1233" cy="1313.4" r="1.6"/><circle cx="1203.8" cy="1294.2" r="2.2"/><circle cx="1196.7" cy="1290.4" r="1.6"/><circle cx="983.2" cy="1266.4" r="1.3"/><circle cx="990.7" cy="1272.4" r="1.3"/><circle cx="994.9" cy="1273.3" r="1.3"/><circle cx="1003.8" cy="1275.5" r="1.3"/><circle cx="1011" cy="1279.5" r="1.3"/><circle cx="1017" cy="1280.5" r="1.3"/><circle cx="1000.3" cy="1297.7" r="1.3"/><circle cx="1113" cy="1264.5" r="1.6"/><circle cx="1120.8" cy="1293.5" r="1.3"/><circle cx="1129.2" cy="1291.2" r="1.5"/><circle cx="1174.3" cy="1344" r="3.6"/><circle cx="1020.3" cy="1330.2" r="1.3"/><circle cx="1022.8" cy="1332.1" r="1.3"/><circle cx="1027.2" cy="1338.3" r="1.8"/><circle cx="1021.6" cy="1344" r="1.3"/><circle cx="984.7" cy="1341.5" r="1.6"/><circle cx="995.9" cy="1352.1" r="1.6"/><circle cx="996.6" cy="1354.6" r="1.3"/><circle cx="1032.2" cy="1354.2" r="1.5"/><circle cx="1030.6" cy="1358.4" r="1.3"/><circle cx="1026" cy="1367.7" r="1.3"/><circle cx="1019.1" cy="1370.9" r="1.5"/><circle cx="1009.1" cy="1373.4" r="1.6"/><circle cx="1037.9" cy="1370.9" r="1.3"/><circle cx="1043.2" cy="1370.3" r="1.3"/><circle cx="1039.5" cy="1374" r="1.3"/><circle cx="985.3" cy="1379" r="1.3"/><circle cx="981.5" cy="1381.8" r="1.3"/><circle cx="987.2" cy="1385.5" r="1.3"/><circle cx="999.7" cy="1395" r="1.5"/><circle cx="1014.5" cy="1392.5" r="1.3"/><circle cx="1021.6" cy="1400.3" r="1.3"/><circle cx="1026" cy="1402.2" r="1.3"/><circle cx="1047.2" cy="1386.5" r="1.3"/><circle cx="1051.3" cy="1387.1" r="1.3"/><circle cx="1055.1" cy="1385.5" r="1.3"/><circle cx="1054.5" cy="1397.2" r="1.3"/><circle cx="1036.6" cy="1405" r="1.3"/><circle cx="1040.4" cy="1404.3" r="1.3"/><circle cx="1044.7" cy="1406.5" r="1.3"/><circle cx="1048.5" cy="1408" r="1.3"/><circle cx="1064.1" cy="1402.2" r="1.3"/><circle cx="1067.9" cy="1403.4" r="1.3"/><circle cx="1076.3" cy="1405.9" r="1.3"/><circle cx="1087" cy="1411.6" r="1.3"/><circle cx="1091.1" cy="1409" r="1.3"/><circle cx="1098.8" cy="1410" r="1.3"/><circle cx="1056.6" cy="1418.4" r="1.6"/><circle cx="1132.6" cy="1416.6" r="1.5"/><circle cx="1141.4" cy="1415.1" r="1.5"/><circle cx="1197.4" cy="1414.7" r="1.6"/><circle cx="981.5" cy="1422.8" r="1.3"/><circle cx="980.3" cy="1426.6" r="1.3"/><circle cx="1196.2" cy="1434.7" r="1.3"/><circle cx="1199.9" cy="1434.1" r="1.3"/><circle cx="1662.6" cy="1273.3" r="1.3"/><circle cx="1663.2" cy="1276.4" r="1.3"/><circle cx="1683.8" cy="1268.9" r="1.3"/><circle cx="1684.5" cy="1274.5" r="1.3"/><circle cx="1740.1" cy="1290.2" r="1.3"/><circle cx="1745.2" cy="1303.9" r="1.3"/><circle cx="1630" cy="1287" r="1.3"/><circle cx="1677.6" cy="1317.7" r="1.3"/><circle cx="1668.8" cy="1322.7" r="1.3"/><circle cx="1664.4" cy="1328.9" r="1.3"/><circle cx="1687.6" cy="1325.2" r="1.3"/><circle cx="1691.3" cy="1322.7" r="1.3"/><circle cx="1695.1" cy="1322.1" r="1.3"/><circle cx="1702.6" cy="1318.9" r="1.3"/><circle cx="1705.1" cy="1323.3" r="1.3"/><circle cx="1707.6" cy="1322.1" r="1.3"/><circle cx="1711.4" cy="1328.9" r="1.3"/><circle cx="1721.4" cy="1324.6" r="1.3"/><circle cx="1732.6" cy="1328.3" r="1.3"/><circle cx="1730.1" cy="1312.1" r="1.3"/><circle cx="1737.6" cy="1311.4" r="1.3"/><circle cx="1740.1" cy="1318.3" r="1.3"/><circle cx="1743.9" cy="1322.7" r="1.3"/><circle cx="1741.4" cy="1344.6" r="1.3"/><circle cx="1691.3" cy="1346.5" r="1.3"/><circle cx="1697.6" cy="1349" r="1.3"/><circle cx="1702.6" cy="1347.1" r="1.3"/><circle cx="1723.9" cy="1356.5" r="1.6"/><circle cx="1725.1" cy="1373.4" r="1.6"/><circle cx="1760.2" cy="1360.2" r="1.3"/><circle cx="1763.9" cy="1362.7" r="1.3"/><circle cx="1767.7" cy="1365.2" r="1.3"/><circle cx="1738.9" cy="1370.3" r="1.3"/><circle cx="1762.7" cy="1377.1" r="1.3"/><circle cx="1725.1" cy="1395.3" r="1.3"/><circle cx="1750.2" cy="1403.4" r="1.3"/><circle cx="1742.7" cy="1422.2" r="1.3"/><circle cx="1722.6" cy="1428.4" r="1.3"/><circle cx="1605.6" cy="1371.5" r="1.5"/><circle cx="1586.8" cy="1375.9" r="1.5"/><circle cx="1701.2" cy="1134.5" r="1.5"/><circle cx="1709.4" cy="1136" r="1.5"/><circle cx="1718.1" cy="1133.6" r="1.5"/><circle cx="1740" cy="1193.3" r="2"/><circle cx="1755.1" cy="1199.6" r="2"/><circle cx="1681.2" cy="1252.8" r="1.3"/><circle cx="1681.8" cy="1260.3" r="1.3"/><circle cx="1685.6" cy="1269" r="1.5"/><circle cx="1684.4" cy="1274.1" r="1.3"/><circle cx="1740" cy="1290.3" r="1.3"/><circle cx="1662.5" cy="1272.8" r="1.3"/><circle cx="1651.2" cy="1269" r="1.3"/><circle cx="1656.2" cy="1270.9" r="1.3"/><circle cx="1336.7" cy="1253.3" r="1.8"/><circle cx="1333.5" cy="1266.4" r="1.6"/><circle cx="1337.3" cy="1265.1" r="1.5"/><circle cx="1341.1" cy="1264.5" r="1.5"/><circle cx="1344.2" cy="1263.6" r="1.6"/><circle cx="1321.7" cy="1298.9" r="1.3"/><circle cx="1323.9" cy="1301.7" r="1.3"/><circle cx="1341.7" cy="1364.6" r="1.5"/><circle cx="1361.1" cy="1386.5" r="1.6"/><circle cx="1389.2" cy="1337.7" r="1.5"/><circle cx="1387.4" cy="1342.1" r="1.5"/><circle cx="1385.5" cy="1347.1" r="1.6"/><circle cx="1469.3" cy="1374" r="1.5"/><circle cx="1472.5" cy="1376.8" r="1.5"/><circle cx="1475.6" cy="1368.4" r="1.8"/><circle cx="1495.6" cy="1355.3" r="1.7"/><circle cx="1497.5" cy="1362.1" r="1.3"/><circle cx="1498.1" cy="1371.5" r="1.5"/><circle cx="1495.6" cy="1400.3" r="1.7"/><circle cx="1500" cy="1397.8" r="1.5"/><circle cx="1513.1" cy="1396.6" r="1.5"/><circle cx="1532.5" cy="1311.5" r="1.8"/><circle cx="1530.7" cy="1356.5" r="1.3"/><circle cx="1533.2" cy="1362.8" r="1.5"/><circle cx="1468.1" cy="1375.3" r="1.3"/><circle cx="1467.5" cy="1372.8" r="1.3"/><circle cx="1304.5" cy="1235.7" r="1.5"/><circle cx="1312" cy="1238.2" r="1.5"/><circle cx="1317.6" cy="1241.4" r="1.6"/><circle cx="1230.6" cy="1255.1" r="1.6"/><circle cx="1319.5" cy="1298.3" r="1.6"/><circle cx="1322.6" cy="1300.8" r="1.5"/><circle cx="1320.1" cy="1302.7" r="1.3"/><circle cx="1302" cy="1353.4" r="1.5"/><circle cx="1342" cy="1364.6" r="1.5"/><circle cx="1360.8" cy="1386.5" r="1.5"/><circle cx="1307" cy="1398.4" r="1.6"/><circle cx="1242.5" cy="1307.1" r="1.6"/><circle cx="1188.1" cy="1295.2" r="1.5"/><circle cx="1141.2" cy="1414.7" r="1.5"/><circle cx="1197.5" cy="1414.1" r="1.5"/><circle cx="1346.2" cy="1443.9" r="1.3"/><circle cx="1351.2" cy="1452.6" r="1.3"/><circle cx="1381.2" cy="1490.7" r="1.3"/><circle cx="1456.3" cy="1470.2" r="1.5"/><circle cx="1485.1" cy="1468.4" r="1.3"/><circle cx="1488.8" cy="1469.2" r="1.3"/><circle cx="1526.4" cy="1476.4" r="2.6"/><circle cx="1535.1" cy="1487.2" r="1.6"/><circle cx="1543.9" cy="1447.1" r="1.6"/><circle cx="1722.8" cy="1428.9" r="1.3"/><circle cx="1742.8" cy="1422.1" r="1.3"/><circle cx="1766.6" cy="1472.7" r="1.3"/><circle cx="1766.6" cy="1477.7" r="1.3"/><circle cx="1739.1" cy="1480.7" r="1.6"/><circle cx="1745.3" cy="1485.7" r="1.4"/><circle cx="1722.8" cy="1491.4" r="1.3"/><circle cx="1355.3" cy="1150.2" r="2"/><circle cx="1358.5" cy="1174.6" r="2"/><circle cx="1371" cy="1178.9" r="2"/><circle cx="1415.4" cy="1140.8" r="1.8"/><circle cx="1230.8" cy="1255.3" r="1.7"/><circle cx="1337.2" cy="1253.4" r="2"/><circle cx="1304.6" cy="1235.3" r="1.6"/><circle cx="1312.2" cy="1237.8" r="1.8"/><circle cx="1317.8" cy="1241.5" r="2"/><circle cx="1197.3" cy="1414.5" r="2"/><circle cx="1195.9" cy="1434.6" r="1.6"/><circle cx="1199.9" cy="1434.2" r="1.6"/><circle cx="1307.6" cy="1398.9" r="1.8"/><circle cx="1252.7" cy="1509.4" r="2"/><circle cx="1274.1" cy="1507.9" r="2"/><circle cx="993.4" cy="1178.9" r="2.0"/><circle cx="998.6" cy="1188.7" r="2.3"/><circle cx="1030.8" cy="1190.9" r="2.2"/><circle cx="990.9" cy="1176.6" r="1.2"/></g>
</g>
<text x="5.9" y="24.7" font-size="26.8">(A) ASR−DALYs in 1990</text>
<text x="5.9" y="550.0" font-size="26.8">(B) ASR−DALYs in 2021</text>
<text x="5.9" y="1075.4" font-size="26.8">(C) AAPCs in ASR−DALYs</text>
<text x="938.7" y="24.7" font-size="26.8">(D) ASDRs in 1990</text>
<text x="938.7" y="550.0" font-size="26.8">(E) ASDRs in 2021</text>
<text x="938.7" y="1075.4" font-size="26.8">(F) AAPCs in ASDRs</text>
<text x="780" y="225.4" font-size="23.5" textLength="177" lengthAdjust="spacingAndGlyphs">Rate (per 100,000)</text>
<rect x="846.1" y="241.2" width="29.5" height="208.4" fill="#606060"/>
<rect x="848.8" y="243.9" width="24.1" height="24.4" fill="#ABD9E9"/>
<text x="887.7" y="263.1" font-size="18.6">[0−50)</text>
<rect x="848.8" y="273.7" width="24.1" height="24.4" fill="#FFFFCC"/>
<text x="887.7" y="292.9" font-size="18.6">[50−100)</text>
<rect x="848.8" y="303.4" width="24.1" height="24.4" fill="#FED976"/>
<text x="887.7" y="322.6" font-size="18.6">[100−300)</text>
<rect x="848.8" y="333.2" width="24.1" height="24.4" fill="#FD8D3C"/>
<text x="887.7" y="352.4" font-size="18.6">[300−500)</text>
<rect x="848.8" y="363" width="24.1" height="24.4" fill="#E31A1C"/>
<text x="887.7" y="382.2" font-size="18.6">[500−1000)</text>
<rect x="848.8" y="392.7" width="24.1" height="24.4" fill="#800026"/>
<text x="887.7" y="411.9" font-size="18.6">[1000−2000)</text>
<rect x="848.8" y="422.5" width="24.1" height="24.4" fill="#FFFFFF"/>
<text x="887.7" y="441.7" font-size="18.6">NA</text>
<text x="785.8" y="765.7" font-size="23.5" textLength="177" lengthAdjust="spacingAndGlyphs">Rate (per 100,000)</text>
<rect x="851.2" y="780.7" width="29.5" height="179.2" fill="#606060"/>
<rect x="853.9" y="783.4" width="24.1" height="24.5" fill="#ABD9E9"/>
<text x="893.4" y="802.6" font-size="18.6">[0−50)</text>
<rect x="853.9" y="813.3" width="24.1" height="24.5" fill="#FFFFCC"/>
<text x="893.4" y="832.5" font-size="18.6">[50−100)</text>
<rect x="853.9" y="843.1" width="24.1" height="24.5" fill="#FED976"/>
<text x="893.4" y="862.4" font-size="18.6">[100−300)</text>
<rect x="853.9" y="873" width="24.1" height="24.5" fill="#FD8D3C"/>
<text x="893.4" y="892.2" font-size="18.6">[300−500)</text>
<rect x="853.9" y="902.9" width="24.1" height="24.5" fill="#E31A1C"/>
<text x="893.4" y="922.1" font-size="18.6">[500−1000)</text>
<rect x="853.9" y="932.8" width="24.1" height="24.5" fill="#FFFFFF"/>
<text x="893.4" y="952" font-size="18.6">NA</text>
<text x="1718" y="225.2" font-size="23.5" textLength="177" lengthAdjust="spacingAndGlyphs">Rate (per 100,000)</text>
<rect x="1784.6" y="241.2" width="29.5" height="208.4" fill="#606060"/>
<rect x="1787.3" y="243.9" width="24.1" height="24.4" fill="#ABD9E9"/>
<text x="1826.4" y="263.1" font-size="18.6">[0−1)</text>
<rect x="1787.3" y="273.7" width="24.1" height="24.4" fill="#FFFFCC"/>
<text x="1826.4" y="292.9" font-size="18.6">[1−3)</text>
<rect x="1787.3" y="303.4" width="24.1" height="24.4" fill="#FED976"/>
<text x="1826.4" y="322.6" font-size="18.6">[3−5)</text>
<rect x="1787.3" y="333.2" width="24.1" height="24.4" fill="#FD8D3C"/>
<text x="1826.4" y="352.4" font-size="18.6">[5−10)</text>
<rect x="1787.3" y="363" width="24.1" height="24.4" fill="#E31A1C"/>
<text x="1826.4" y="382.2" font-size="18.6">[10−15)</text>
<rect x="1787.3" y="392.7" width="24.1" height="24.4" fill="#800026"/>
<text x="1826.4" y="411.9" font-size="18.6">[15−30)</text>
<rect x="1787.3" y="422.5" width="24.1" height="24.4" fill="#FFFFFF"/>
<text x="1826.4" y="441.7" font-size="18.6">NA</text>
<text x="1718" y="750.2" font-size="23.5" textLength="177" lengthAdjust="spacingAndGlyphs">Rate (per 100,000)</text>
<rect x="1784.6" y="766.3" width="29.5" height="208.4" fill="#606060"/>
<rect x="1787.3" y="769" width="24.1" height="24.4" fill="#ABD9E9"/>
<text x="1826.4" y="788.2" font-size="18.6">[0−1)</text>
<rect x="1787.3" y="798.8" width="24.1" height="24.4" fill="#FFFFCC"/>
<text x="1826.4" y="818" font-size="18.6">[1−3)</text>
<rect x="1787.3" y="828.5" width="24.1" height="24.4" fill="#FED976"/>
<text x="1826.4" y="847.7" font-size="18.6">[3−5)</text>
<rect x="1787.3" y="858.3" width="24.1" height="24.4" fill="#FD8D3C"/>
<text x="1826.4" y="877.5" font-size="18.6">[5−10)</text>
<rect x="1787.3" y="888.1" width="24.1" height="24.4" fill="#E31A1C"/>
<text x="1826.4" y="907.3" font-size="18.6">[10−15)</text>
<rect x="1787.3" y="917.9" width="24.1" height="24.4" fill="#800026"/>
<text x="1826.4" y="937" font-size="18.6">[15−30)</text>
<rect x="1787.3" y="947.6" width="24.1" height="24.4" fill="#FFFFFF"/>
<text x="1826.4" y="966.8" font-size="18.6">NA</text>
<text x="871.3" y="1305.9" font-size="23.5" textLength="107.6" lengthAdjust="spacingAndGlyphs">AAPC (%)</text>
<rect x="890.0" y="1321.2" width="30.7" height="149.6" fill="url(#gC)"/>
<path d="M890.0,1354.8h6M914.7,1354.8h6" stroke="#fff" stroke-width="1"/>
<text x="931.6" y="1360.8" font-size="18.5">0.0</text>
<path d="M890.0,1395.5h6M914.7,1395.5h6" stroke="#fff" stroke-width="1"/>
<text x="931.6" y="1401.5" font-size="18.5">−2.5</text>
<path d="M890.0,1436.7h6M914.7,1436.7h6" stroke="#fff" stroke-width="1"/>
<text x="931.6" y="1442.7" font-size="18.5">−5.0</text>
<text x="1787.9" y="1305.9" font-size="23.5" textLength="107.6" lengthAdjust="spacingAndGlyphs">AAPC (%)</text>
<rect x="1807.8" y="1321.2" width="29.6" height="149.6" fill="url(#gF)"/>
<path d="M1807.8,1325.6h6M1831.3999999999999,1325.6h6" stroke="#fff" stroke-width="1"/>
<text x="1848.6" y="1331.6" font-size="18.5">2</text>
<path d="M1807.8,1360.6h6M1831.3999999999999,1360.6h6" stroke="#fff" stroke-width="1"/>
<text x="1848.6" y="1366.6" font-size="18.5">0</text>
<path d="M1807.8,1396.9h6M1831.3999999999999,1396.9h6" stroke="#fff" stroke-width="1"/>
<text x="1848.6" y="1402.9" font-size="18.5">−2</text>
<path d="M1807.8,1432.1h6M1831.3999999999999,1432.1h6" stroke="#fff" stroke-width="1"/>
<text x="1848.6" y="1438.1" font-size="18.5">−4</text>
<path d="M1807.8,1467.9h6M1831.3999999999999,1467.9h6" stroke="#fff" stroke-width="1"/>
<text x="1848.6" y="1473.9" font-size="18.5">−6</text>
</svg>
</body></html>
